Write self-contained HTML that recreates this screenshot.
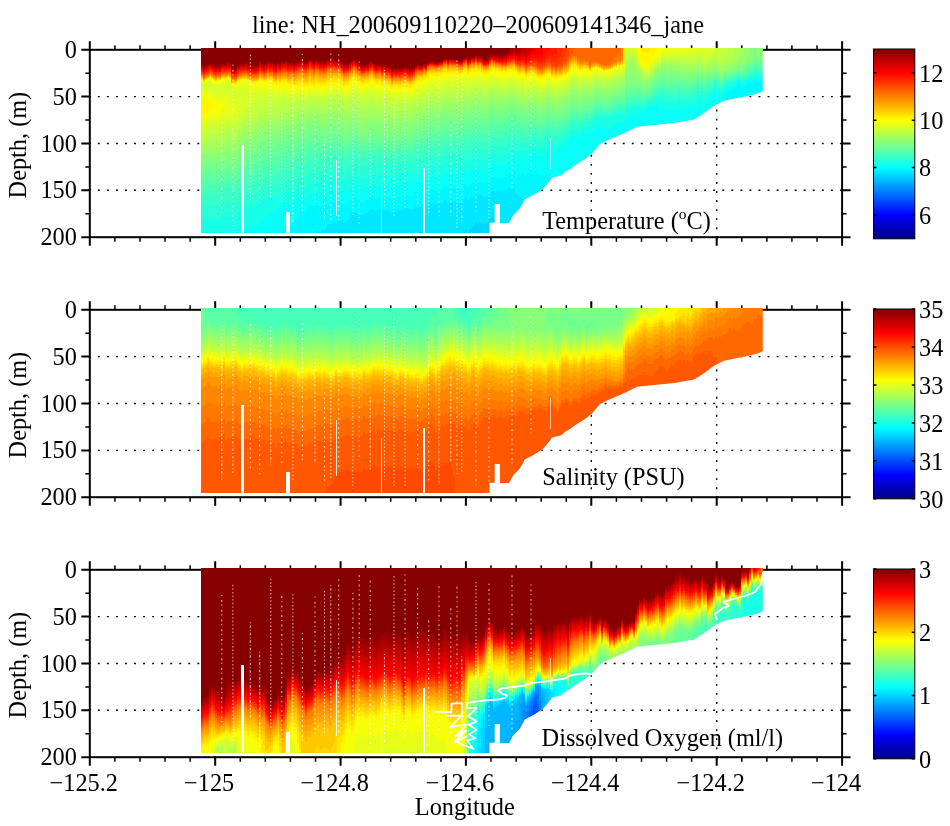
<!DOCTYPE html>
<html><head><meta charset="utf-8"><title>NH line</title>
<style>
html,body{margin:0;padding:0;background:#fff}
#c{position:relative;width:950px;height:826px;overflow:hidden;background:#fff}
svg{position:absolute;left:0;top:0;will-change:transform}
text{font-family:"Liberation Serif",serif;font-size:24.3px;fill:#000}
.g{stroke:#000;stroke-width:1.4;stroke-dasharray:1.9 7.15;fill:none}
.b{fill:none;stroke:#000;stroke-width:2}
.M{stroke:#000;stroke-width:2;fill:none}
.m{stroke:#000;stroke-width:1.5;fill:none}
.q{stroke:#fff;stroke-width:1.1;stroke-opacity:.68;fill:none}
.w{stroke:#fff;stroke-width:1.8;fill:none;stroke-linejoin:round}
.d{position:absolute;left:200.5px;width:562.3px;height:186.0px;display:flex;clip-path:polygon(0px 0px,562.3px 0px,562.3px 43.4px,558.1px 45.8px,548.2px 48.3px,535.5px 50.8px,523.5px 53.3px,513.5px 58.3px,503.5px 65.7px,493.5px 71.9px,473.8px 75.6px,448.9px 78.1px,436.5px 79.3px,424.1px 85.5px,406.5px 93px,399.3px 96.7px,391.9px 105.4px,384.5px 111.6px,374.5px 117.8px,369.5px 121.5px,364.2px 124.5px,361.1px 127.8px,351.5px 129.9px,349.5px 133px,345.3px 138.3px,341.1px 142.5px,332.5px 147.8px,324.2px 152px,322.1px 156.2px,319px 161.5px,312.7px 167.8px,308.5px 175.5px,299.5px 175.7px,299.5px 156.5px,294.2px 156.5px,294.2px 175.3px,289px 175.3px,289px 185.5px,0px 185.5px,0px 185.5px)}
.d i{flex:0 0 2px;height:100%;display:block}
.d b{position:absolute;background:#fff;display:block}
</style></head><body><div id="c">
<svg width="950" height="826" viewBox="0 0 950 826">
<defs><linearGradient id="jet" x1="0" y1="0" x2="0" y2="1">
<stop offset="0" stop-color="#800000"/><stop offset=".125" stop-color="#f00"/><stop offset=".375" stop-color="#ff0"/><stop offset=".625" stop-color="#0ff"/><stop offset=".875" stop-color="#00f"/><stop offset="1" stop-color="#000080"/>
</linearGradient></defs>
<line x1="88.8" y1="96.6" x2="842.1" y2="96.6" class="g"/>
<line x1="88.8" y1="143.5" x2="842.1" y2="143.5" class="g"/>
<line x1="88.8" y1="190.3" x2="842.1" y2="190.3" class="g"/>
<line x1="215.2" y1="238.2" x2="215.2" y2="49.8" class="g"/>
<line x1="340.6" y1="238.2" x2="340.6" y2="49.8" class="g"/>
<line x1="465.9" y1="238.2" x2="465.9" y2="49.8" class="g"/>
<line x1="591.3" y1="238.2" x2="591.3" y2="49.8" class="g"/>
<line x1="716.7" y1="238.2" x2="716.7" y2="49.8" class="g"/>
<rect x="89.8" y="49.8" width="752.3" height="187.4" class="b"/>
<path d="M89.8 49.8v-8.5 M89.8 237.2v8.5" class="M"/>
<path d="M114.9 49.8v-4.5 M114.9 237.2v4.5" class="m"/>
<path d="M140 49.8v-4.5 M140 237.2v4.5" class="m"/>
<path d="M165 49.8v-4.5 M165 237.2v4.5" class="m"/>
<path d="M190.1 49.8v-4.5 M190.1 237.2v4.5" class="m"/>
<path d="M215.2 49.8v-8.5 M215.2 237.2v8.5" class="M"/>
<path d="M240.3 49.8v-4.5 M240.3 237.2v4.5" class="m"/>
<path d="M265.3 49.8v-4.5 M265.3 237.2v4.5" class="m"/>
<path d="M290.4 49.8v-4.5 M290.4 237.2v4.5" class="m"/>
<path d="M315.5 49.8v-4.5 M315.5 237.2v4.5" class="m"/>
<path d="M340.6 49.8v-8.5 M340.6 237.2v8.5" class="M"/>
<path d="M365.6 49.8v-4.5 M365.6 237.2v4.5" class="m"/>
<path d="M390.7 49.8v-4.5 M390.7 237.2v4.5" class="m"/>
<path d="M415.8 49.8v-4.5 M415.8 237.2v4.5" class="m"/>
<path d="M440.9 49.8v-4.5 M440.9 237.2v4.5" class="m"/>
<path d="M465.9 49.8v-8.5 M465.9 237.2v8.5" class="M"/>
<path d="M491 49.8v-4.5 M491 237.2v4.5" class="m"/>
<path d="M516.1 49.8v-4.5 M516.1 237.2v4.5" class="m"/>
<path d="M541.2 49.8v-4.5 M541.2 237.2v4.5" class="m"/>
<path d="M566.3 49.8v-4.5 M566.3 237.2v4.5" class="m"/>
<path d="M591.3 49.8v-8.5 M591.3 237.2v8.5" class="M"/>
<path d="M616.4 49.8v-4.5 M616.4 237.2v4.5" class="m"/>
<path d="M641.5 49.8v-4.5 M641.5 237.2v4.5" class="m"/>
<path d="M666.6 49.8v-4.5 M666.6 237.2v4.5" class="m"/>
<path d="M691.6 49.8v-4.5 M691.6 237.2v4.5" class="m"/>
<path d="M716.7 49.8v-8.5 M716.7 237.2v8.5" class="M"/>
<path d="M741.8 49.8v-4.5 M741.8 237.2v4.5" class="m"/>
<path d="M766.9 49.8v-4.5 M766.9 237.2v4.5" class="m"/>
<path d="M791.9 49.8v-4.5 M791.9 237.2v4.5" class="m"/>
<path d="M817 49.8v-4.5 M817 237.2v4.5" class="m"/>
<path d="M842.1 49.8v-8.5 M842.1 237.2v8.5" class="M"/>
<path d="M89.8 49.8h-8.5 M842.1 49.8h8.5" class="M"/>
<path d="M89.8 73.2h-4.5 M842.1 73.2h4.5" class="m"/>
<path d="M89.8 96.6h-8.5 M842.1 96.6h8.5" class="M"/>
<path d="M89.8 120.1h-4.5 M842.1 120.1h4.5" class="m"/>
<path d="M89.8 143.5h-8.5 M842.1 143.5h8.5" class="M"/>
<path d="M89.8 166.9h-4.5 M842.1 166.9h4.5" class="m"/>
<path d="M89.8 190.3h-8.5 M842.1 190.3h8.5" class="M"/>
<path d="M89.8 213.8h-4.5 M842.1 213.8h4.5" class="m"/>
<path d="M89.8 237.2h-8.5 M842.1 237.2h8.5" class="M"/>
<text x="76.9" y="57.8" text-anchor="end">0</text>
<text x="76.9" y="104.6" text-anchor="end">50</text>
<text x="76.9" y="151.5" text-anchor="end">100</text>
<text x="76.9" y="198.3" text-anchor="end">150</text>
<text x="76.9" y="245.2" text-anchor="end">200</text>
<text transform="translate(25.7 145.1) rotate(-90)" text-anchor="middle">Depth, (m)</text>
<rect x="873.5" y="49" width="41.3" height="189.8" fill="url(#jet)" stroke="#000" stroke-width="1"/>
<line x1="88.8" y1="356.6" x2="842.1" y2="356.6" class="g"/>
<line x1="88.8" y1="403.5" x2="842.1" y2="403.5" class="g"/>
<line x1="88.8" y1="450.4" x2="842.1" y2="450.4" class="g"/>
<line x1="215.2" y1="498.2" x2="215.2" y2="309.8" class="g"/>
<line x1="340.6" y1="498.2" x2="340.6" y2="309.8" class="g"/>
<line x1="465.9" y1="498.2" x2="465.9" y2="309.8" class="g"/>
<line x1="591.3" y1="498.2" x2="591.3" y2="309.8" class="g"/>
<line x1="716.7" y1="498.2" x2="716.7" y2="309.8" class="g"/>
<rect x="89.8" y="309.8" width="752.3" height="187.4" class="b"/>
<path d="M89.8 309.8v-8.5 M89.8 497.2v8.5" class="M"/>
<path d="M114.9 309.8v-4.5 M114.9 497.2v4.5" class="m"/>
<path d="M140 309.8v-4.5 M140 497.2v4.5" class="m"/>
<path d="M165 309.8v-4.5 M165 497.2v4.5" class="m"/>
<path d="M190.1 309.8v-4.5 M190.1 497.2v4.5" class="m"/>
<path d="M215.2 309.8v-8.5 M215.2 497.2v8.5" class="M"/>
<path d="M240.3 309.8v-4.5 M240.3 497.2v4.5" class="m"/>
<path d="M265.3 309.8v-4.5 M265.3 497.2v4.5" class="m"/>
<path d="M290.4 309.8v-4.5 M290.4 497.2v4.5" class="m"/>
<path d="M315.5 309.8v-4.5 M315.5 497.2v4.5" class="m"/>
<path d="M340.6 309.8v-8.5 M340.6 497.2v8.5" class="M"/>
<path d="M365.6 309.8v-4.5 M365.6 497.2v4.5" class="m"/>
<path d="M390.7 309.8v-4.5 M390.7 497.2v4.5" class="m"/>
<path d="M415.8 309.8v-4.5 M415.8 497.2v4.5" class="m"/>
<path d="M440.9 309.8v-4.5 M440.9 497.2v4.5" class="m"/>
<path d="M465.9 309.8v-8.5 M465.9 497.2v8.5" class="M"/>
<path d="M491 309.8v-4.5 M491 497.2v4.5" class="m"/>
<path d="M516.1 309.8v-4.5 M516.1 497.2v4.5" class="m"/>
<path d="M541.2 309.8v-4.5 M541.2 497.2v4.5" class="m"/>
<path d="M566.3 309.8v-4.5 M566.3 497.2v4.5" class="m"/>
<path d="M591.3 309.8v-8.5 M591.3 497.2v8.5" class="M"/>
<path d="M616.4 309.8v-4.5 M616.4 497.2v4.5" class="m"/>
<path d="M641.5 309.8v-4.5 M641.5 497.2v4.5" class="m"/>
<path d="M666.6 309.8v-4.5 M666.6 497.2v4.5" class="m"/>
<path d="M691.6 309.8v-4.5 M691.6 497.2v4.5" class="m"/>
<path d="M716.7 309.8v-8.5 M716.7 497.2v8.5" class="M"/>
<path d="M741.8 309.8v-4.5 M741.8 497.2v4.5" class="m"/>
<path d="M766.9 309.8v-4.5 M766.9 497.2v4.5" class="m"/>
<path d="M791.9 309.8v-4.5 M791.9 497.2v4.5" class="m"/>
<path d="M817 309.8v-4.5 M817 497.2v4.5" class="m"/>
<path d="M842.1 309.8v-8.5 M842.1 497.2v8.5" class="M"/>
<path d="M89.8 309.8h-8.5 M842.1 309.8h8.5" class="M"/>
<path d="M89.8 333.2h-4.5 M842.1 333.2h4.5" class="m"/>
<path d="M89.8 356.6h-8.5 M842.1 356.6h8.5" class="M"/>
<path d="M89.8 380.1h-4.5 M842.1 380.1h4.5" class="m"/>
<path d="M89.8 403.5h-8.5 M842.1 403.5h8.5" class="M"/>
<path d="M89.8 426.9h-4.5 M842.1 426.9h4.5" class="m"/>
<path d="M89.8 450.4h-8.5 M842.1 450.4h8.5" class="M"/>
<path d="M89.8 473.8h-4.5 M842.1 473.8h4.5" class="m"/>
<path d="M89.8 497.2h-8.5 M842.1 497.2h8.5" class="M"/>
<text x="76.9" y="317.8" text-anchor="end">0</text>
<text x="76.9" y="364.6" text-anchor="end">50</text>
<text x="76.9" y="411.5" text-anchor="end">100</text>
<text x="76.9" y="458.4" text-anchor="end">150</text>
<text x="76.9" y="505.2" text-anchor="end">200</text>
<text transform="translate(25.7 405.1) rotate(-90)" text-anchor="middle">Depth, (m)</text>
<rect x="873.5" y="309" width="41.3" height="189.8" fill="url(#jet)" stroke="#000" stroke-width="1"/>
<line x1="88.8" y1="616.6" x2="842.1" y2="616.6" class="g"/>
<line x1="88.8" y1="663.5" x2="842.1" y2="663.5" class="g"/>
<line x1="88.8" y1="710.3" x2="842.1" y2="710.3" class="g"/>
<line x1="215.2" y1="758.2" x2="215.2" y2="569.8" class="g"/>
<line x1="340.6" y1="758.2" x2="340.6" y2="569.8" class="g"/>
<line x1="465.9" y1="758.2" x2="465.9" y2="569.8" class="g"/>
<line x1="591.3" y1="758.2" x2="591.3" y2="569.8" class="g"/>
<line x1="716.7" y1="758.2" x2="716.7" y2="569.8" class="g"/>
<rect x="89.8" y="569.8" width="752.3" height="187.4" class="b"/>
<path d="M89.8 569.8v-8.5 M89.8 757.2v8.5" class="M"/>
<path d="M114.9 569.8v-4.5 M114.9 757.2v4.5" class="m"/>
<path d="M140 569.8v-4.5 M140 757.2v4.5" class="m"/>
<path d="M165 569.8v-4.5 M165 757.2v4.5" class="m"/>
<path d="M190.1 569.8v-4.5 M190.1 757.2v4.5" class="m"/>
<path d="M215.2 569.8v-8.5 M215.2 757.2v8.5" class="M"/>
<path d="M240.3 569.8v-4.5 M240.3 757.2v4.5" class="m"/>
<path d="M265.3 569.8v-4.5 M265.3 757.2v4.5" class="m"/>
<path d="M290.4 569.8v-4.5 M290.4 757.2v4.5" class="m"/>
<path d="M315.5 569.8v-4.5 M315.5 757.2v4.5" class="m"/>
<path d="M340.6 569.8v-8.5 M340.6 757.2v8.5" class="M"/>
<path d="M365.6 569.8v-4.5 M365.6 757.2v4.5" class="m"/>
<path d="M390.7 569.8v-4.5 M390.7 757.2v4.5" class="m"/>
<path d="M415.8 569.8v-4.5 M415.8 757.2v4.5" class="m"/>
<path d="M440.9 569.8v-4.5 M440.9 757.2v4.5" class="m"/>
<path d="M465.9 569.8v-8.5 M465.9 757.2v8.5" class="M"/>
<path d="M491 569.8v-4.5 M491 757.2v4.5" class="m"/>
<path d="M516.1 569.8v-4.5 M516.1 757.2v4.5" class="m"/>
<path d="M541.2 569.8v-4.5 M541.2 757.2v4.5" class="m"/>
<path d="M566.3 569.8v-4.5 M566.3 757.2v4.5" class="m"/>
<path d="M591.3 569.8v-8.5 M591.3 757.2v8.5" class="M"/>
<path d="M616.4 569.8v-4.5 M616.4 757.2v4.5" class="m"/>
<path d="M641.5 569.8v-4.5 M641.5 757.2v4.5" class="m"/>
<path d="M666.6 569.8v-4.5 M666.6 757.2v4.5" class="m"/>
<path d="M691.6 569.8v-4.5 M691.6 757.2v4.5" class="m"/>
<path d="M716.7 569.8v-8.5 M716.7 757.2v8.5" class="M"/>
<path d="M741.8 569.8v-4.5 M741.8 757.2v4.5" class="m"/>
<path d="M766.9 569.8v-4.5 M766.9 757.2v4.5" class="m"/>
<path d="M791.9 569.8v-4.5 M791.9 757.2v4.5" class="m"/>
<path d="M817 569.8v-4.5 M817 757.2v4.5" class="m"/>
<path d="M842.1 569.8v-8.5 M842.1 757.2v8.5" class="M"/>
<path d="M89.8 569.8h-8.5 M842.1 569.8h8.5" class="M"/>
<path d="M89.8 593.2h-4.5 M842.1 593.2h4.5" class="m"/>
<path d="M89.8 616.6h-8.5 M842.1 616.6h8.5" class="M"/>
<path d="M89.8 640.1h-4.5 M842.1 640.1h4.5" class="m"/>
<path d="M89.8 663.5h-8.5 M842.1 663.5h8.5" class="M"/>
<path d="M89.8 686.9h-4.5 M842.1 686.9h4.5" class="m"/>
<path d="M89.8 710.3h-8.5 M842.1 710.3h8.5" class="M"/>
<path d="M89.8 733.8h-4.5 M842.1 733.8h4.5" class="m"/>
<path d="M89.8 757.2h-8.5 M842.1 757.2h8.5" class="M"/>
<text x="76.9" y="577.8" text-anchor="end">0</text>
<text x="76.9" y="624.6" text-anchor="end">50</text>
<text x="76.9" y="671.5" text-anchor="end">100</text>
<text x="76.9" y="718.3" text-anchor="end">150</text>
<text x="76.9" y="765.2" text-anchor="end">200</text>
<text transform="translate(25.7 665.1) rotate(-90)" text-anchor="middle">Depth, (m)</text>
<rect x="873.5" y="569" width="41.3" height="189.8" fill="url(#jet)" stroke="#000" stroke-width="1"/>
<path d="M873.5 72.7h3 M914.8 72.7h-3" class="m"/>
<text x="919" y="81.5">12</text>
<path d="M873.5 120.2h3 M914.8 120.2h-3" class="m"/>
<text x="919" y="129">10</text>
<path d="M873.5 167.6h3 M914.8 167.6h-3" class="m"/>
<text x="919" y="176.4">8</text>
<path d="M873.5 215.1h3 M914.8 215.1h-3" class="m"/>
<text x="919" y="223.9">6</text>
<path d="M873.5 309h3 M914.8 309h-3" class="m"/>
<text x="919" y="317.8">35</text>
<path d="M873.5 347h3 M914.8 347h-3" class="m"/>
<text x="919" y="355.8">34</text>
<path d="M873.5 384.9h3 M914.8 384.9h-3" class="m"/>
<text x="919" y="393.7">33</text>
<path d="M873.5 422.9h3 M914.8 422.9h-3" class="m"/>
<text x="919" y="431.7">32</text>
<path d="M873.5 460.8h3 M914.8 460.8h-3" class="m"/>
<text x="919" y="469.6">31</text>
<path d="M873.5 498.8h3 M914.8 498.8h-3" class="m"/>
<text x="919" y="507.6">30</text>
<path d="M873.5 569h3 M914.8 569h-3" class="m"/>
<text x="919" y="577.8">3</text>
<path d="M873.5 632.3h3 M914.8 632.3h-3" class="m"/>
<text x="919" y="641.1">2</text>
<path d="M873.5 695.5h3 M914.8 695.5h-3" class="m"/>
<text x="919" y="704.3">1</text>
<path d="M873.5 758.8h3 M914.8 758.8h-3" class="m"/>
<text x="919" y="767.6">0</text>
<text x="83.8" y="791" text-anchor="middle">−125.2</text>
<text x="209.2" y="791" text-anchor="middle">−125</text>
<text x="334.6" y="791" text-anchor="middle">−124.8</text>
<text x="459.9" y="791" text-anchor="middle">−124.6</text>
<text x="585.3" y="791" text-anchor="middle">−124.4</text>
<text x="710.7" y="791" text-anchor="middle">−124.2</text>
<text x="836.1" y="791" text-anchor="middle">−124</text>
<text x="464.8" y="815.3" text-anchor="middle">Longitude</text>
<text x="478" y="32.8" text-anchor="middle">line: NH_200609110220–200609141346_jane</text>
<text x="542.2" y="229.1">Temperature (<tspan dy="-10.5" font-size="15.5">o</tspan><tspan dy="10.5">C)</tspan></text>
<text x="542.2" y="485.4">Salinity (PSU)</text>
<text x="541.6" y="746.2">Dissolved Oxygen (ml/l)</text>
</svg>
<div class="d" style="top:47.5px"><i style="background:linear-gradient(#870000 0 17px,#a70000 0 18px,#b70000 0 19px,#c70000 0 20px,#e70000 0 21px,#f70000 0 22px,#ff0800 0 23px,#ff2800 0 24px,#ff3800 0 25px,#ff4800 0 26px,#ff6800 0 27px,#ff7800 0 28px,#ff9700 0 29px,#ffb700 0 30px,#ffd700 0 31px,#fff700 0 32px,#f7ff08 0 33px,#e7ff18 0 35px,#d7ff28 0 42px,#e7ff18 0 48px,#f7ff08 0 51px,#fff700 0 66px,#f7ff08 0 70px,#e7ff18 0 75px,#d7ff28 0 82px,#c7ff38 0 89px,#b7ff48 0 94px,#a7ff58 0 100px,#97ff68 0 106px,#87ff78 0 114px,#78ff87 0 122px,#68ff97 0 130px,#58ffa7 0 138px,#48ffb7 0 147px,#38ffc7 0 159px,#28ffd7 0 172px,#18ffe7 0 186px,#08fff7 0)"></i><i style="background:linear-gradient(#870000 0 19px,#970000 0 20px,#a70000 0 21px,#c70000 0 22px,#d70000 0 23px,#e70000 0 24px,#ff0800 0 25px,#ff1800 0 26px,#ff2800 0 27px,#ff4800 0 28px,#ff5800 0 29px,#ff6800 0 30px,#ff8700 0 31px,#ffa700 0 32px,#ffc700 0 33px,#ffe700 0 34px,#fff700 0 35px,#f7ff08 0 36px,#e7ff18 0 37px,#d7ff28 0 45px,#e7ff18 0 51px,#f7ff08 0 54px,#fff700 0 68px,#f7ff08 0 72px,#e7ff18 0 77px,#d7ff28 0 84px,#c7ff38 0 91px,#b7ff48 0 97px,#a7ff58 0 102px,#97ff68 0 108px,#87ff78 0 116px,#78ff87 0 124px,#68ff97 0 132px,#58ffa7 0 140px,#48ffb7 0 149px,#38ffc7 0 162px,#28ffd7 0 174px,#18ffe7 0)"></i><i style="background:linear-gradient(#870000 0 17px,#970000 0 18px,#b70000 0 19px,#c70000 0 20px,#d70000 0 21px,#f70000 0 22px,#ff0800 0 23px,#ff1800 0 24px,#ff3800 0 25px,#ff4800 0 26px,#ff5800 0 27px,#ff7800 0 28px,#ff8700 0 29px,#ffa700 0 30px,#ffc700 0 31px,#ffe700 0 32px,#f7ff08 0 34px,#e7ff18 0 35px,#d7ff28 0 43px,#e7ff18 0 49px,#f7ff08 0 52px,#fff700 0 66px,#f7ff08 0 70px,#e7ff18 0 74px,#d7ff28 0 81px,#c7ff38 0 88px,#b7ff48 0 94px,#a7ff58 0 100px,#97ff68 0 106px,#87ff78 0 114px,#78ff87 0 122px,#68ff97 0 130px,#58ffa7 0 138px,#48ffb7 0 147px,#38ffc7 0 159px,#28ffd7 0 172px,#18ffe7 0 186px,#08fff7 0)"></i><i style="background:linear-gradient(#870000 0 16px,#970000 0 17px,#a70000 0 18px,#b70000 0 19px,#d70000 0 20px,#e70000 0 21px,#f70000 0 22px,#ff1800 0 23px,#ff2800 0 24px,#ff3800 0 25px,#ff5800 0 26px,#ff6800 0 27px,#ff7800 0 28px,#ff9700 0 29px,#ffb700 0 30px,#ffd700 0 31px,#fff700 0 32px,#f7ff08 0 33px,#e7ff18 0 35px,#d7ff28 0 43px,#e7ff18 0 49px,#f7ff08 0 53px,#fff700 0 65px,#f7ff08 0 69px,#e7ff18 0 73px,#d7ff28 0 80px,#c7ff38 0 87px,#b7ff48 0 93px,#a7ff58 0 99px,#97ff68 0 106px,#87ff78 0 113px,#78ff87 0 121px,#68ff97 0 129px,#58ffa7 0 137px,#48ffb7 0 146px,#38ffc7 0 158px,#28ffd7 0 171px,#18ffe7 0 186px,#08fff7 0)"></i><i style="background:linear-gradient(#870000 0 15px,#a70000 0 16px,#b70000 0 17px,#c70000 0 18px,#e70000 0 19px,#f70000 0 20px,#ff0800 0 21px,#ff2800 0 22px,#ff3800 0 23px,#ff4800 0 24px,#ff6800 0 25px,#ff7800 0 26px,#ff9700 0 27px,#ffb700 0 28px,#ffd700 0 29px,#fff700 0 30px,#f7ff08 0 32px,#e7ff18 0 33px,#d7ff28 0 42px,#e7ff18 0 48px,#f7ff08 0 52px,#fff700 0 61px,#f7ff08 0 67px,#e7ff18 0 71px,#d7ff28 0 78px,#c7ff38 0 85px,#b7ff48 0 91px,#a7ff58 0 97px,#97ff68 0 104px,#87ff78 0 112px,#78ff87 0 119px,#68ff97 0 127px,#58ffa7 0 135px,#48ffb7 0 144px,#38ffc7 0 156px,#28ffd7 0 169px,#18ffe7 0 184px,#08fff7 0)"></i><i style="background:linear-gradient(#870000 0 16px,#970000 0 17px,#b70000 0 18px,#c70000 0 19px,#d70000 0 20px,#f70000 0 21px,#ff0800 0 22px,#ff1800 0 23px,#ff3800 0 24px,#ff4800 0 25px,#ff5800 0 26px,#ff7800 0 27px,#ff8700 0 28px,#ffa700 0 29px,#ffc700 0 30px,#ffe700 0 31px,#f7ff08 0 33px,#e7ff18 0 35px,#d7ff28 0 44px,#e7ff18 0 49px,#f7ff08 0 54px,#fff700 0 58px,#f7ff08 0 67px,#e7ff18 0 72px,#d7ff28 0 78px,#c7ff38 0 85px,#b7ff48 0 92px,#a7ff58 0 98px,#97ff68 0 105px,#87ff78 0 113px,#78ff87 0 120px,#68ff97 0 128px,#58ffa7 0 136px,#48ffb7 0 144px,#38ffc7 0 157px,#28ffd7 0 170px,#18ffe7 0 185px,#08fff7 0)"></i><i style="background:linear-gradient(#870000 0 18px,#a70000 0 19px,#b70000 0 20px,#c70000 0 21px,#e70000 0 22px,#f70000 0 23px,#ff0800 0 24px,#ff2800 0 25px,#ff3800 0 26px,#ff4800 0 27px,#ff6800 0 28px,#ff7800 0 29px,#ff9700 0 30px,#ffb700 0 31px,#ffd700 0 32px,#fff700 0 33px,#f7ff08 0 35px,#e7ff18 0 36px,#d7ff28 0 47px,#e7ff18 0 52px,#f7ff08 0 69px,#e7ff18 0 73px,#d7ff28 0 80px,#c7ff38 0 87px,#b7ff48 0 93px,#a7ff58 0 100px,#97ff68 0 107px,#87ff78 0 114px,#78ff87 0 122px,#68ff97 0 130px,#58ffa7 0 137px,#48ffb7 0 146px,#38ffc7 0 158px,#28ffd7 0 172px,#18ffe7 0)"></i><i style="background:linear-gradient(#870000 0 18px,#970000 0 19px,#a70000 0 20px,#b70000 0 21px,#d70000 0 22px,#e70000 0 23px,#f70000 0 24px,#ff1800 0 25px,#ff2800 0 26px,#ff3800 0 27px,#ff5800 0 28px,#ff6800 0 29px,#ff7800 0 30px,#ff9700 0 31px,#ffb700 0 32px,#ffd700 0 33px,#fff700 0 34px,#f7ff08 0 35px,#e7ff18 0 37px,#d7ff28 0 48px,#e7ff18 0 53px,#f7ff08 0 69px,#e7ff18 0 74px,#d7ff28 0 80px,#c7ff38 0 87px,#b7ff48 0 94px,#a7ff58 0 100px,#97ff68 0 107px,#87ff78 0 115px,#78ff87 0 123px,#68ff97 0 130px,#58ffa7 0 138px,#48ffb7 0 146px,#38ffc7 0 159px,#28ffd7 0 172px,#18ffe7 0)"></i><i style="background:linear-gradient(#870000 0 17px,#970000 0 18px,#a70000 0 19px,#c70000 0 20px,#d70000 0 21px,#e70000 0 22px,#ff0800 0 23px,#ff1800 0 24px,#ff2800 0 25px,#ff4800 0 26px,#ff5800 0 27px,#ff6800 0 28px,#ff8700 0 29px,#ffa700 0 30px,#ffc700 0 31px,#ffe700 0 32px,#fff700 0 33px,#f7ff08 0 34px,#e7ff18 0 36px,#d7ff28 0 48px,#e7ff18 0 53px,#f7ff08 0 67px,#e7ff18 0 72px,#d7ff28 0 78px,#c7ff38 0 85px,#b7ff48 0 92px,#a7ff58 0 99px,#97ff68 0 106px,#87ff78 0 114px,#78ff87 0 122px,#68ff97 0 129px,#58ffa7 0 137px,#48ffb7 0 145px,#38ffc7 0 157px,#28ffd7 0 170px,#18ffe7 0 186px,#08fff7 0)"></i><i style="background:linear-gradient(#870000 0 18px,#a70000 0 19px,#b70000 0 20px,#c70000 0 21px,#e70000 0 22px,#f70000 0 23px,#ff0800 0 24px,#ff2800 0 25px,#ff3800 0 26px,#ff4800 0 27px,#ff6800 0 28px,#ff7800 0 29px,#ff9700 0 30px,#ffb700 0 31px,#ffd700 0 32px,#fff700 0 33px,#f7ff08 0 35px,#e7ff18 0 37px,#d7ff28 0 49px,#e7ff18 0 55px,#f7ff08 0 66px,#e7ff18 0 72px,#d7ff28 0 78px,#c7ff38 0 85px,#b7ff48 0 92px,#a7ff58 0 99px,#97ff68 0 106px,#87ff78 0 114px,#78ff87 0 122px,#68ff97 0 129px,#58ffa7 0 137px,#48ffb7 0 145px,#38ffc7 0 157px,#28ffd7 0 171px,#18ffe7 0)"></i><i style="background:linear-gradient(#870000 0 15px,#970000 0 16px,#a70000 0 17px,#b70000 0 18px,#d70000 0 19px,#e70000 0 20px,#f70000 0 21px,#ff1800 0 22px,#ff2800 0 23px,#ff3800 0 24px,#ff5800 0 25px,#ff6800 0 26px,#ff7800 0 27px,#ff9700 0 28px,#ffb700 0 29px,#ffd700 0 30px,#fff700 0 31px,#f7ff08 0 33px,#e7ff18 0 34px,#d7ff28 0 47px,#e7ff18 0 53px,#f7ff08 0 61px,#e7ff18 0 69px,#d7ff28 0 75px,#c7ff38 0 82px,#b7ff48 0 89px,#a7ff58 0 97px,#97ff68 0 104px,#87ff78 0 112px,#78ff87 0 120px,#68ff97 0 127px,#58ffa7 0 134px,#48ffb7 0 142px,#38ffc7 0 155px,#28ffd7 0 168px,#18ffe7 0 184px,#08fff7 0)"></i><i style="background:linear-gradient(#870000 0 15px,#970000 0 16px,#a70000 0 17px,#b70000 0 18px,#d70000 0 19px,#e70000 0 20px,#f70000 0 21px,#ff1800 0 22px,#ff2800 0 23px,#ff3800 0 24px,#ff5800 0 25px,#ff6800 0 26px,#ff7800 0 27px,#ff9700 0 28px,#ffb700 0 29px,#ffd700 0 30px,#fff700 0 31px,#f7ff08 0 33px,#e7ff18 0 35px,#d7ff28 0 48px,#e7ff18 0 54px,#f7ff08 0 58px,#e7ff18 0 69px,#d7ff28 0 75px,#c7ff38 0 82px,#b7ff48 0 89px,#a7ff58 0 96px,#97ff68 0 104px,#87ff78 0 112px,#78ff87 0 120px,#68ff97 0 127px,#58ffa7 0 134px,#48ffb7 0 142px,#38ffc7 0 154px,#28ffd7 0 168px,#18ffe7 0 184px,#08fff7 0)"></i><i style="background:linear-gradient(#870000 0 16px,#970000 0 17px,#b70000 0 18px,#c70000 0 19px,#d70000 0 20px,#f70000 0 21px,#ff0800 0 22px,#ff1800 0 23px,#ff3800 0 24px,#ff4800 0 25px,#ff5800 0 26px,#ff7800 0 27px,#ff8700 0 28px,#ffa700 0 29px,#ffc700 0 30px,#ffe700 0 31px,#f7ff08 0 33px,#e7ff18 0 35px,#d7ff28 0 49px,#e7ff18 0 68px,#d7ff28 0 75px,#c7ff38 0 81px,#b7ff48 0 88px,#a7ff58 0 96px,#97ff68 0 104px,#87ff78 0 112px,#78ff87 0 120px,#68ff97 0 127px,#58ffa7 0 134px,#48ffb7 0 142px,#38ffc7 0 154px,#28ffd7 0 168px,#18ffe7 0 184px,#08fff7 0)"></i><i style="background:linear-gradient(#870000 0 14px,#970000 0 15px,#a70000 0 16px,#b70000 0 17px,#c70000 0 18px,#e70000 0 19px,#f70000 0 20px,#ff0800 0 21px,#ff2800 0 22px,#ff3800 0 23px,#ff4800 0 24px,#ff6800 0 25px,#ff7800 0 26px,#ff9700 0 27px,#ffb700 0 28px,#ffd700 0 29px,#fff700 0 30px,#f7ff08 0 32px,#e7ff18 0 34px,#d7ff28 0 48px,#e7ff18 0 66px,#d7ff28 0 72px,#c7ff38 0 79px,#b7ff48 0 86px,#a7ff58 0 94px,#97ff68 0 102px,#87ff78 0 110px,#78ff87 0 118px,#68ff97 0 125px,#58ffa7 0 132px,#48ffb7 0 140px,#38ffc7 0 152px,#28ffd7 0 166px,#18ffe7 0 183px,#08fff7 0)"></i><i style="background:linear-gradient(#870000 0 15px,#970000 0 16px,#a70000 0 17px,#b70000 0 18px,#d70000 0 19px,#e70000 0 20px,#f70000 0 21px,#ff1800 0 22px,#ff2800 0 23px,#ff3800 0 24px,#ff5800 0 25px,#ff6800 0 26px,#ff7800 0 27px,#ff9700 0 28px,#ffb700 0 29px,#ffd700 0 30px,#fff700 0 31px,#f7ff08 0 33px,#e7ff18 0 35px,#d7ff28 0 50px,#e7ff18 0 66px,#d7ff28 0 72px,#c7ff38 0 79px,#b7ff48 0 86px,#a7ff58 0 94px,#97ff68 0 101px,#87ff78 0 109px,#78ff87 0 118px,#68ff97 0 125px,#58ffa7 0 133px,#48ffb7 0 140px,#38ffc7 0 152px,#28ffd7 0 166px,#18ffe7 0 183px,#08fff7 0)"></i><i style="background:linear-gradient(#870000 0 20px,#970000 0 21px,#a70000 0 22px,#b70000 0 23px,#c70000 0 24px,#e70000 0 25px,#f70000 0 26px,#ff0800 0 27px,#ff2800 0 28px,#ff3800 0 29px,#ff4800 0 30px,#ff6800 0 31px,#ff7800 0 32px,#ff8700 0 33px,#ffa700 0 34px,#ffc700 0 35px,#ffe700 0 36px,#fff700 0 37px,#f7ff08 0 38px,#e7ff18 0 41px,#d7ff28 0 56px,#e7ff18 0 69px,#d7ff28 0 77px,#c7ff38 0 83px,#b7ff48 0 90px,#a7ff58 0 98px,#97ff68 0 106px,#87ff78 0 114px,#78ff87 0 122px,#68ff97 0 130px,#58ffa7 0 137px,#48ffb7 0 145px,#38ffc7 0 157px,#28ffd7 0 170px,#18ffe7 0)"></i><i style="background:linear-gradient(#870000 0 20px,#970000 0 21px,#b70000 0 22px,#c70000 0 23px,#d70000 0 24px,#e70000 0 25px,#ff0800 0 26px,#ff1800 0 27px,#ff2800 0 28px,#ff4800 0 29px,#ff5800 0 30px,#ff6800 0 31px,#ff8700 0 32px,#ffa700 0 33px,#ffb700 0 34px,#ffd700 0 35px,#fff700 0 36px,#f7ff08 0 38px,#e7ff18 0 41px,#d7ff28 0 56px,#e7ff18 0 66px,#d7ff28 0 75px,#c7ff38 0 81px,#b7ff48 0 88px,#a7ff58 0 96px,#97ff68 0 104px,#87ff78 0 112px,#78ff87 0 120px,#68ff97 0 128px,#58ffa7 0 136px,#48ffb7 0 144px,#38ffc7 0 155px,#28ffd7 0 169px,#18ffe7 0)"></i><i style="background:linear-gradient(#870000 0 20px,#970000 0 21px,#a70000 0 22px,#c70000 0 23px,#d70000 0 24px,#e70000 0 25px,#f70000 0 26px,#ff1800 0 27px,#ff2800 0 28px,#ff3800 0 29px,#ff5800 0 30px,#ff6800 0 31px,#ff7800 0 32px,#ff9700 0 33px,#ffb700 0 34px,#ffd700 0 35px,#ffe700 0 36px,#f7ff08 0 39px,#e7ff18 0 42px,#d7ff28 0 58px,#e7ff18 0 64px,#d7ff28 0 74px,#c7ff38 0 81px,#b7ff48 0 87px,#a7ff58 0 95px,#97ff68 0 103px,#87ff78 0 111px,#78ff87 0 120px,#68ff97 0 128px,#58ffa7 0 136px,#48ffb7 0 144px,#38ffc7 0 155px,#28ffd7 0 168px,#18ffe7 0)"></i><i style="background:linear-gradient(#870000 0 17px,#970000 0 18px,#a70000 0 19px,#b70000 0 20px,#d70000 0 21px,#e70000 0 22px,#f70000 0 23px,#ff1800 0 24px,#ff2800 0 25px,#ff3800 0 26px,#ff5800 0 27px,#ff6800 0 28px,#ff7800 0 29px,#ff9700 0 30px,#ffb700 0 31px,#ffc700 0 32px,#ffe700 0 33px,#fff700 0 34px,#f7ff08 0 36px,#e7ff18 0 40px,#d7ff28 0 57px,#e7ff18 0 59px,#d7ff28 0 70px,#c7ff38 0 77px,#b7ff48 0 83px,#a7ff58 0 91px,#97ff68 0 99px,#87ff78 0 107px,#78ff87 0 116px,#68ff97 0 124px,#58ffa7 0 132px,#48ffb7 0 140px,#38ffc7 0 151px,#28ffd7 0 164px,#18ffe7 0 184px,#08fff7 0)"></i><i style="background:linear-gradient(#870000 0 16px,#970000 0 17px,#b70000 0 18px,#c70000 0 19px,#d70000 0 20px,#e70000 0 21px,#ff0800 0 22px,#ff1800 0 23px,#ff2800 0 24px,#ff4800 0 25px,#ff5800 0 26px,#ff6800 0 27px,#ff8700 0 28px,#ff9700 0 29px,#ffb700 0 30px,#ffc700 0 31px,#ffe700 0 32px,#fff700 0 33px,#f7ff08 0 35px,#e7ff18 0 40px,#d7ff28 0 68px,#c7ff38 0 74px,#b7ff48 0 81px,#a7ff58 0 88px,#97ff68 0 96px,#87ff78 0 105px,#78ff87 0 113px,#68ff97 0 122px,#58ffa7 0 130px,#48ffb7 0 138px,#38ffc7 0 149px,#28ffd7 0 162px,#18ffe7 0 182px,#08fff7 0)"></i><i style="background:linear-gradient(#870000 0 15px,#970000 0 16px,#a70000 0 17px,#b70000 0 18px,#c70000 0 19px,#e70000 0 20px,#f70000 0 21px,#ff0800 0 22px,#ff1800 0 23px,#ff3800 0 24px,#ff4800 0 25px,#ff5800 0 26px,#ff7800 0 27px,#ff8700 0 28px,#ffa700 0 29px,#ffb700 0 30px,#ffd700 0 31px,#fff700 0 32px,#f7ff08 0 35px,#e7ff18 0 41px,#d7ff28 0 66px,#c7ff38 0 73px,#b7ff48 0 80px,#a7ff58 0 87px,#97ff68 0 95px,#87ff78 0 103px,#78ff87 0 112px,#68ff97 0 121px,#58ffa7 0 129px,#48ffb7 0 137px,#38ffc7 0 148px,#28ffd7 0 161px,#18ffe7 0 181px,#08fff7 0)"></i><i style="background:linear-gradient(#870000 0 15px,#970000 0 16px,#a70000 0 17px,#b70000 0 18px,#d70000 0 19px,#e70000 0 20px,#f70000 0 21px,#ff0800 0 22px,#ff2800 0 23px,#ff3800 0 24px,#ff4800 0 25px,#ff6800 0 26px,#ff7800 0 27px,#ff8700 0 28px,#ffa700 0 29px,#ffc700 0 30px,#ffd700 0 31px,#fff700 0 32px,#f7ff08 0 35px,#e7ff18 0 41px,#d7ff28 0 65px,#c7ff38 0 72px,#b7ff48 0 78px,#a7ff58 0 85px,#97ff68 0 93px,#87ff78 0 102px,#78ff87 0 111px,#68ff97 0 119px,#58ffa7 0 128px,#48ffb7 0 137px,#38ffc7 0 147px,#28ffd7 0 159px,#18ffe7 0 180px,#08fff7 0)"></i><i style="background:linear-gradient(#870000 0 14px,#970000 0 15px,#a70000 0 16px,#b70000 0 17px,#c70000 0 18px,#d70000 0 19px,#e70000 0 20px,#ff0800 0 21px,#ff1800 0 22px,#ff2800 0 23px,#ff4800 0 24px,#ff5800 0 25px,#ff6800 0 26px,#ff8700 0 27px,#ff9700 0 28px,#ffb700 0 29px,#ffc700 0 30px,#ffe700 0 31px,#fff700 0 32px,#f7ff08 0 35px,#e7ff18 0 41px,#d7ff28 0 62px,#c7ff38 0 70px,#b7ff48 0 77px,#a7ff58 0 84px,#97ff68 0 92px,#87ff78 0 100px,#78ff87 0 109px,#68ff97 0 118px,#58ffa7 0 127px,#48ffb7 0 136px,#38ffc7 0 146px,#28ffd7 0 158px,#18ffe7 0 179px,#08fff7 0)"></i><i style="background:linear-gradient(#870000 0 16px,#970000 0 17px,#b70000 0 18px,#c70000 0 19px,#d70000 0 20px,#e70000 0 21px,#f70000 0 22px,#ff1800 0 23px,#ff2800 0 24px,#ff3800 0 25px,#ff5800 0 26px,#ff6800 0 27px,#ff7800 0 28px,#ff9700 0 29px,#ffa700 0 30px,#ffc700 0 31px,#ffd700 0 32px,#fff700 0 33px,#f7ff08 0 36px,#e7ff18 0 43px,#d7ff28 0 61px,#c7ff38 0 71px,#b7ff48 0 77px,#a7ff58 0 84px,#97ff68 0 92px,#87ff78 0 100px,#78ff87 0 109px,#68ff97 0 118px,#58ffa7 0 127px,#48ffb7 0 136px,#38ffc7 0 146px,#28ffd7 0 158px,#18ffe7 0 180px,#08fff7 0)"></i><i style="background:linear-gradient(#870000 0 16px,#970000 0 17px,#a70000 0 18px,#b70000 0 19px,#c70000 0 20px,#d70000 0 21px,#f70000 0 22px,#ff0800 0 23px,#ff1800 0 24px,#ff2800 0 25px,#ff4800 0 26px,#ff5800 0 27px,#ff6800 0 28px,#ff8700 0 29px,#ff9700 0 30px,#ffb700 0 31px,#ffc700 0 32px,#ffe700 0 33px,#fff700 0 34px,#f7ff08 0 37px,#e7ff18 0 44px,#d7ff28 0 59px,#c7ff38 0 70px,#b7ff48 0 77px,#a7ff58 0 83px,#97ff68 0 91px,#87ff78 0 99px,#78ff87 0 109px,#68ff97 0 118px,#58ffa7 0 127px,#48ffb7 0 136px,#38ffc7 0 146px,#28ffd7 0 158px,#18ffe7 0 180px,#08fff7 0)"></i><i style="background:linear-gradient(#870000 0 17px,#970000 0 18px,#a70000 0 19px,#b70000 0 20px,#c70000 0 21px,#d70000 0 22px,#f70000 0 23px,#ff0800 0 24px,#ff1800 0 25px,#ff3800 0 26px,#ff4800 0 27px,#ff5800 0 28px,#ff7800 0 29px,#ff8700 0 30px,#ff9700 0 31px,#ffb700 0 32px,#ffc700 0 33px,#ffe700 0 34px,#fff700 0 35px,#f7ff08 0 39px,#e7ff18 0 45px,#d7ff28 0 57px,#c7ff38 0 70px,#b7ff48 0 77px,#a7ff58 0 83px,#97ff68 0 91px,#87ff78 0 99px,#78ff87 0 108px,#68ff97 0 118px,#58ffa7 0 127px,#48ffb7 0 136px,#38ffc7 0 147px,#28ffd7 0 158px,#18ffe7 0 180px,#08fff7 0)"></i><i style="background:linear-gradient(#870000 0 17px,#970000 0 18px,#a70000 0 19px,#b70000 0 20px,#c70000 0 21px,#d70000 0 22px,#e70000 0 23px,#ff0800 0 24px,#ff1800 0 25px,#ff2800 0 26px,#ff4800 0 27px,#ff5800 0 28px,#ff6800 0 29px,#ff8700 0 30px,#ff9700 0 31px,#ffa700 0 32px,#ffc700 0 33px,#ffd700 0 34px,#ffe700 0 35px,#fff700 0 36px,#f7ff08 0 40px,#e7ff18 0 46px,#d7ff28 0 54px,#c7ff38 0 69px,#b7ff48 0 76px,#a7ff58 0 83px,#97ff68 0 90px,#87ff78 0 98px,#78ff87 0 107px,#68ff97 0 117px,#58ffa7 0 126px,#48ffb7 0 136px,#38ffc7 0 146px,#28ffd7 0 157px,#18ffe7 0 180px,#08fff7 0)"></i><i style="background:linear-gradient(#870000 0 17px,#970000 0 18px,#a70000 0 19px,#b70000 0 20px,#d70000 0 21px,#e70000 0 22px,#f70000 0 23px,#ff0800 0 24px,#ff1800 0 25px,#ff3800 0 26px,#ff4800 0 27px,#ff5800 0 28px,#ff7800 0 29px,#ff8700 0 30px,#ff9700 0 31px,#ffb700 0 32px,#ffc700 0 33px,#ffe700 0 34px,#fff700 0 35px,#f7ff08 0 40px,#e7ff18 0 45px,#d7ff28 0 52px,#c7ff38 0 67px,#b7ff48 0 74px,#a7ff58 0 81px,#97ff68 0 88px,#87ff78 0 97px,#78ff87 0 106px,#68ff97 0 115px,#58ffa7 0 125px,#48ffb7 0 134px,#38ffc7 0 145px,#28ffd7 0 156px,#18ffe7 0 178px,#08fff7 0)"></i><i style="background:linear-gradient(#870000 0 17px,#a70000 0 18px,#b70000 0 19px,#c70000 0 20px,#d70000 0 21px,#e70000 0 22px,#f70000 0 23px,#ff1800 0 24px,#ff2800 0 25px,#ff3800 0 26px,#ff5800 0 27px,#ff6800 0 28px,#ff7800 0 29px,#ff9700 0 30px,#ffa700 0 31px,#ffb700 0 32px,#ffd700 0 33px,#ffe700 0 34px,#fff700 0 35px,#f7ff08 0 40px,#e7ff18 0 45px,#d7ff28 0 51px,#c7ff38 0 65px,#b7ff48 0 73px,#a7ff58 0 80px,#97ff68 0 87px,#87ff78 0 95px,#78ff87 0 104px,#68ff97 0 114px,#58ffa7 0 123px,#48ffb7 0 133px,#38ffc7 0 144px,#28ffd7 0 155px,#18ffe7 0 177px,#08fff7 0)"></i><i style="background:linear-gradient(#870000 0 13px,#970000 0 14px,#a70000 0 15px,#b70000 0 16px,#c70000 0 17px,#d70000 0 18px,#e70000 0 19px,#f70000 0 20px,#ff1800 0 21px,#ff2800 0 22px,#ff3800 0 23px,#ff5800 0 24px,#ff6800 0 25px,#ff7800 0 26px,#ff9700 0 27px,#ffa700 0 28px,#ffb700 0 29px,#ffc700 0 30px,#ffe700 0 31px,#fff700 0 32px,#f7ff08 0 37px,#e7ff18 0 42px,#d7ff28 0 48px,#c7ff38 0 61px,#b7ff48 0 70px,#a7ff58 0 76px,#97ff68 0 83px,#87ff78 0 92px,#78ff87 0 100px,#68ff97 0 110px,#58ffa7 0 120px,#48ffb7 0 130px,#38ffc7 0 141px,#28ffd7 0 152px,#18ffe7 0 172px,#08fff7 0)"></i><i style="background:linear-gradient(#870000 0 15px,#970000 0 16px,#a70000 0 17px,#b70000 0 18px,#d70000 0 19px,#e70000 0 20px,#f70000 0 21px,#ff0800 0 22px,#ff1800 0 23px,#ff3800 0 24px,#ff4800 0 25px,#ff5800 0 26px,#ff6800 0 27px,#ff8700 0 28px,#ff9700 0 29px,#ffa700 0 30px,#ffc700 0 31px,#ffd700 0 32px,#ffe700 0 33px,#fff700 0 34px,#f7ff08 0 39px,#e7ff18 0 44px,#d7ff28 0 50px,#c7ff38 0 62px,#b7ff48 0 71px,#a7ff58 0 78px,#97ff68 0 84px,#87ff78 0 93px,#78ff87 0 101px,#68ff97 0 111px,#58ffa7 0 121px,#48ffb7 0 131px,#38ffc7 0 142px,#28ffd7 0 153px,#18ffe7 0 172px,#08fff7 0)"></i><i style="background:linear-gradient(#870000 0 16px,#970000 0 17px,#a70000 0 18px,#b70000 0 19px,#c70000 0 20px,#e70000 0 21px,#f70000 0 22px,#ff0800 0 23px,#ff1800 0 24px,#ff2800 0 25px,#ff4800 0 26px,#ff5800 0 27px,#ff6800 0 28px,#ff8700 0 29px,#ff9700 0 30px,#ffa700 0 31px,#ffb700 0 32px,#ffd700 0 33px,#ffe700 0 34px,#fff700 0 36px,#f7ff08 0 41px,#e7ff18 0 45px,#d7ff28 0 51px,#c7ff38 0 63px,#b7ff48 0 72px,#a7ff58 0 78px,#97ff68 0 85px,#87ff78 0 93px,#78ff87 0 102px,#68ff97 0 112px,#58ffa7 0 121px,#48ffb7 0 131px,#38ffc7 0 142px,#28ffd7 0 153px,#18ffe7 0 171px,#08fff7 0)"></i><i style="background:linear-gradient(#870000 0 15px,#970000 0 16px,#b70000 0 17px,#c70000 0 18px,#d70000 0 19px,#e70000 0 20px,#f70000 0 21px,#ff0800 0 22px,#ff2800 0 23px,#ff3800 0 24px,#ff4800 0 25px,#ff6800 0 26px,#ff7800 0 27px,#ff8700 0 28px,#ff9700 0 29px,#ffa700 0 30px,#ffc700 0 31px,#ffd700 0 32px,#ffe700 0 33px,#fff700 0 35px,#f7ff08 0 40px,#e7ff18 0 44px,#d7ff28 0 49px,#c7ff38 0 60px,#b7ff48 0 70px,#a7ff58 0 76px,#97ff68 0 83px,#87ff78 0 92px,#78ff87 0 100px,#68ff97 0 110px,#58ffa7 0 119px,#48ffb7 0 129px,#38ffc7 0 140px,#28ffd7 0 151px,#18ffe7 0 168px,#08fff7 0)"></i><i style="background:linear-gradient(#870000 0 13px,#970000 0 14px,#a70000 0 15px,#b70000 0 16px,#d70000 0 17px,#e70000 0 18px,#f70000 0 19px,#ff0800 0 20px,#ff1800 0 21px,#ff3800 0 22px,#ff4800 0 23px,#ff5800 0 24px,#ff6800 0 25px,#ff8700 0 26px,#ff9700 0 27px,#ffa700 0 28px,#ffb700 0 29px,#ffc700 0 30px,#ffd700 0 31px,#fff700 0 34px,#f7ff08 0 38px,#e7ff18 0 43px,#d7ff28 0 48px,#c7ff38 0 58px,#b7ff48 0 68px,#a7ff58 0 74px,#97ff68 0 81px,#87ff78 0 89px,#78ff87 0 98px,#68ff97 0 107px,#58ffa7 0 117px,#48ffb7 0 127px,#38ffc7 0 138px,#28ffd7 0 149px,#18ffe7 0 165px,#08fff7 0)"></i><i style="background:linear-gradient(#870000 0 14px,#970000 0 15px,#a70000 0 16px,#b70000 0 17px,#c70000 0 18px,#d70000 0 19px,#f70000 0 20px,#ff0800 0 21px,#ff1800 0 22px,#ff2800 0 23px,#ff3800 0 24px,#ff5800 0 25px,#ff6800 0 26px,#ff7800 0 27px,#ff8700 0 28px,#ff9700 0 29px,#ffb700 0 30px,#ffc700 0 31px,#ffd700 0 32px,#ffe700 0 33px,#fff700 0 36px,#f7ff08 0 40px,#e7ff18 0 44px,#d7ff28 0 49px,#c7ff38 0 59px,#b7ff48 0 69px,#a7ff58 0 75px,#97ff68 0 82px,#87ff78 0 90px,#78ff87 0 99px,#68ff97 0 108px,#58ffa7 0 118px,#48ffb7 0 128px,#38ffc7 0 139px,#28ffd7 0 150px,#18ffe7 0 165px,#08fff7 0)"></i><i style="background:linear-gradient(#870000 0 14px,#a70000 0 15px,#b70000 0 16px,#c70000 0 17px,#d70000 0 18px,#e70000 0 19px,#f70000 0 20px,#ff1800 0 21px,#ff2800 0 22px,#ff3800 0 23px,#ff4800 0 24px,#ff6800 0 25px,#ff7800 0 26px,#ff8700 0 27px,#ff9700 0 28px,#ffa700 0 29px,#ffb700 0 30px,#ffc700 0 31px,#ffe700 0 33px,#fff700 0 35px,#f7ff08 0 39px,#e7ff18 0 44px,#d7ff28 0 48px,#c7ff38 0 58px,#b7ff48 0 67px,#a7ff58 0 74px,#97ff68 0 81px,#87ff78 0 89px,#78ff87 0 98px,#68ff97 0 107px,#58ffa7 0 117px,#48ffb7 0 127px,#38ffc7 0 137px,#28ffd7 0 148px,#18ffe7 0 162px,#08fff7 0)"></i><i style="background:linear-gradient(#870000 0 16px,#970000 0 17px,#a70000 0 18px,#c70000 0 19px,#d70000 0 20px,#e70000 0 21px,#f70000 0 22px,#ff0800 0 23px,#ff1800 0 24px,#ff3800 0 25px,#ff4800 0 26px,#ff5800 0 27px,#ff6800 0 28px,#ff7800 0 29px,#ff9700 0 30px,#ffa700 0 31px,#ffb700 0 32px,#ffc700 0 33px,#ffd700 0 34px,#ffe700 0 35px,#fff700 0 38px,#f7ff08 0 42px,#e7ff18 0 46px,#d7ff28 0 51px,#c7ff38 0 60px,#b7ff48 0 69px,#a7ff58 0 76px,#97ff68 0 83px,#87ff78 0 91px,#78ff87 0 100px,#68ff97 0 109px,#58ffa7 0 118px,#48ffb7 0 128px,#38ffc7 0 139px,#28ffd7 0 150px,#18ffe7 0 163px,#08fff7 0)"></i><i style="background:linear-gradient(#870000 0 16px,#970000 0 17px,#a70000 0 18px,#b70000 0 19px,#c70000 0 20px,#e70000 0 21px,#f70000 0 22px,#ff0800 0 23px,#ff1800 0 24px,#ff2800 0 25px,#ff4800 0 26px,#ff5800 0 27px,#ff6800 0 28px,#ff7800 0 29px,#ff8700 0 30px,#ff9700 0 31px,#ffa700 0 32px,#ffb700 0 33px,#ffd700 0 34px,#ffe700 0 36px,#fff700 0 39px,#f7ff08 0 43px,#e7ff18 0 47px,#d7ff28 0 51px,#c7ff38 0 60px,#b7ff48 0 69px,#a7ff58 0 76px,#97ff68 0 83px,#87ff78 0 91px,#78ff87 0 99px,#68ff97 0 108px,#58ffa7 0 118px,#48ffb7 0 128px,#38ffc7 0 139px,#28ffd7 0 150px,#18ffe7 0 162px,#08fff7 0)"></i><i style="background:linear-gradient(#870000 0 14px,#970000 0 15px,#a70000 0 16px,#c70000 0 17px,#d70000 0 18px,#e70000 0 19px,#f70000 0 20px,#ff0800 0 21px,#ff2800 0 22px,#ff3800 0 23px,#ff4800 0 24px,#ff5800 0 25px,#ff6800 0 26px,#ff8700 0 27px,#ff9700 0 28px,#ffa700 0 29px,#ffb700 0 30px,#ffc700 0 31px,#ffd700 0 32px,#ffe700 0 34px,#fff700 0 37px,#f7ff08 0 40px,#e7ff18 0 44px,#d7ff28 0 49px,#c7ff38 0 57px,#b7ff48 0 66px,#a7ff58 0 73px,#97ff68 0 80px,#87ff78 0 88px,#78ff87 0 96px,#68ff97 0 106px,#58ffa7 0 115px,#48ffb7 0 125px,#38ffc7 0 136px,#28ffd7 0 147px,#18ffe7 0 158px,#08fff7 0)"></i><i style="background:linear-gradient(#870000 0 15px,#970000 0 16px,#a70000 0 17px,#b70000 0 18px,#c70000 0 19px,#e70000 0 20px,#f70000 0 21px,#ff0800 0 22px,#ff1800 0 23px,#ff2800 0 24px,#ff4800 0 25px,#ff5800 0 26px,#ff6800 0 27px,#ff7800 0 28px,#ff8700 0 29px,#ff9700 0 30px,#ffa700 0 31px,#ffb700 0 32px,#ffc700 0 33px,#ffd700 0 34px,#ffe700 0 35px,#fff700 0 39px,#f7ff08 0 42px,#e7ff18 0 46px,#d7ff28 0 50px,#c7ff38 0 58px,#b7ff48 0 67px,#a7ff58 0 74px,#97ff68 0 81px,#87ff78 0 89px,#78ff87 0 97px,#68ff97 0 106px,#58ffa7 0 116px,#48ffb7 0 126px,#38ffc7 0 137px,#28ffd7 0 148px,#18ffe7 0 159px,#08fff7 0)"></i><i style="background:linear-gradient(#870000 0 13px,#970000 0 14px,#a70000 0 15px,#b70000 0 16px,#d70000 0 17px,#e70000 0 18px,#f70000 0 19px,#ff0800 0 20px,#ff1800 0 21px,#ff3800 0 22px,#ff4800 0 23px,#ff5800 0 24px,#ff6800 0 25px,#ff7800 0 26px,#ff8700 0 27px,#ff9700 0 28px,#ffa700 0 29px,#ffb700 0 30px,#ffc700 0 31px,#ffd700 0 32px,#ffe700 0 34px,#fff700 0 37px,#f7ff08 0 40px,#e7ff18 0 44px,#d7ff28 0 48px,#c7ff38 0 55px,#b7ff48 0 65px,#a7ff58 0 72px,#97ff68 0 78px,#87ff78 0 86px,#78ff87 0 95px,#68ff97 0 104px,#58ffa7 0 113px,#48ffb7 0 123px,#38ffc7 0 134px,#28ffd7 0 145px,#18ffe7 0 156px,#08fff7 0 183px,#00f7ff 0)"></i><i style="background:linear-gradient(#870000 0 13px,#970000 0 14px,#a70000 0 15px,#c70000 0 16px,#d70000 0 17px,#e70000 0 18px,#f70000 0 19px,#ff0800 0 20px,#ff2800 0 21px,#ff3800 0 22px,#ff4800 0 23px,#ff5800 0 24px,#ff6800 0 25px,#ff7800 0 26px,#ff8700 0 27px,#ff9700 0 28px,#ffa700 0 29px,#ffb700 0 30px,#ffc700 0 31px,#ffd700 0 32px,#ffe700 0 34px,#fff700 0 37px,#f7ff08 0 40px,#e7ff18 0 44px,#d7ff28 0 48px,#c7ff38 0 55px,#b7ff48 0 64px,#a7ff58 0 71px,#97ff68 0 78px,#87ff78 0 86px,#78ff87 0 94px,#68ff97 0 103px,#58ffa7 0 112px,#48ffb7 0 123px,#38ffc7 0 133px,#28ffd7 0 144px,#18ffe7 0 155px,#08fff7 0 181px,#00f7ff 0)"></i><i style="background:linear-gradient(#870000 0 13px,#970000 0 14px,#a70000 0 15px,#c70000 0 16px,#d70000 0 17px,#e70000 0 18px,#ff0800 0 19px,#ff1800 0 20px,#ff2800 0 21px,#ff3800 0 22px,#ff4800 0 23px,#ff5800 0 24px,#ff7800 0 25px,#ff8700 0 27px,#ff9700 0 28px,#ffa700 0 29px,#ffb700 0 30px,#ffc700 0 31px,#ffd700 0 32px,#ffe700 0 34px,#fff700 0 37px,#f7ff08 0 40px,#e7ff18 0 44px,#d7ff28 0 48px,#c7ff38 0 54px,#b7ff48 0 63px,#a7ff58 0 70px,#97ff68 0 77px,#87ff78 0 85px,#78ff87 0 94px,#68ff97 0 102px,#58ffa7 0 112px,#48ffb7 0 122px,#38ffc7 0 133px,#28ffd7 0 144px,#18ffe7 0 155px,#08fff7 0 179px,#00f7ff 0)"></i><i style="background:linear-gradient(#870000 0 15px,#970000 0 16px,#a70000 0 17px,#c70000 0 18px,#d70000 0 19px,#e70000 0 20px,#f70000 0 21px,#ff1800 0 22px,#ff2800 0 23px,#ff3800 0 24px,#ff4800 0 25px,#ff5800 0 26px,#ff6800 0 27px,#ff7800 0 28px,#ff8700 0 29px,#ff9700 0 30px,#ffa700 0 31px,#ffb700 0 32px,#ffc700 0 33px,#ffd700 0 34px,#ffe700 0 36px,#fff700 0 39px,#f7ff08 0 43px,#e7ff18 0 46px,#d7ff28 0 50px,#c7ff38 0 56px,#b7ff48 0 65px,#a7ff58 0 72px,#97ff68 0 79px,#87ff78 0 87px,#78ff87 0 95px,#68ff97 0 104px,#58ffa7 0 113px,#48ffb7 0 123px,#38ffc7 0 134px,#28ffd7 0 145px,#18ffe7 0 156px,#08fff7 0 180px,#00f7ff 0)"></i><i style="background:linear-gradient(#870000 0 15px,#970000 0 16px,#b70000 0 17px,#c70000 0 18px,#d70000 0 19px,#f70000 0 20px,#ff0800 0 21px,#ff1800 0 22px,#ff2800 0 23px,#ff3800 0 24px,#ff5800 0 25px,#ff6800 0 26px,#ff7800 0 27px,#ff8700 0 28px,#ff9700 0 29px,#ffa700 0 31px,#ffb700 0 32px,#ffc700 0 33px,#ffd700 0 34px,#ffe700 0 36px,#fff700 0 39px,#f7ff08 0 43px,#e7ff18 0 46px,#d7ff28 0 50px,#c7ff38 0 56px,#b7ff48 0 64px,#a7ff58 0 72px,#97ff68 0 78px,#87ff78 0 86px,#78ff87 0 94px,#68ff97 0 103px,#58ffa7 0 112px,#48ffb7 0 123px,#38ffc7 0 133px,#28ffd7 0 144px,#18ffe7 0 155px,#08fff7 0 178px,#00f7ff 0)"></i><i style="background:linear-gradient(#870000 0 14px,#970000 0 15px,#b70000 0 16px,#c70000 0 17px,#d70000 0 18px,#f70000 0 19px,#ff0800 0 20px,#ff1800 0 21px,#ff2800 0 22px,#ff3800 0 23px,#ff5800 0 24px,#ff6800 0 25px,#ff7800 0 26px,#ff8700 0 27px,#ff9700 0 29px,#ffa700 0 30px,#ffb700 0 31px,#ffc700 0 32px,#ffd700 0 33px,#ffe700 0 36px,#fff700 0 39px,#f7ff08 0 42px,#e7ff18 0 45px,#d7ff28 0 49px,#c7ff38 0 54px,#b7ff48 0 63px,#a7ff58 0 70px,#97ff68 0 77px,#87ff78 0 84px,#78ff87 0 93px,#68ff97 0 102px,#58ffa7 0 111px,#48ffb7 0 121px,#38ffc7 0 132px,#28ffd7 0 143px,#18ffe7 0 154px,#08fff7 0 175px,#00f7ff 0)"></i><i style="background:linear-gradient(#870000 0 16px,#970000 0 17px,#b70000 0 18px,#c70000 0 19px,#e70000 0 20px,#f70000 0 21px,#ff0800 0 22px,#ff1800 0 23px,#ff2800 0 24px,#ff4800 0 25px,#ff5800 0 26px,#ff6800 0 27px,#ff7800 0 28px,#ff8700 0 29px,#ff9700 0 30px,#ffa700 0 32px,#ffb700 0 33px,#ffc700 0 34px,#ffd700 0 36px,#ffe700 0 38px,#fff700 0 41px,#f7ff08 0 44px,#e7ff18 0 47px,#d7ff28 0 51px,#c7ff38 0 56px,#b7ff48 0 64px,#a7ff58 0 72px,#97ff68 0 78px,#87ff78 0 86px,#78ff87 0 94px,#68ff97 0 103px,#58ffa7 0 112px,#48ffb7 0 122px,#38ffc7 0 133px,#28ffd7 0 144px,#18ffe7 0 155px,#08fff7 0 175px,#00f7ff 0)"></i><i style="background:linear-gradient(#870000 0 15px,#a70000 0 16px,#b70000 0 17px,#c70000 0 18px,#e70000 0 19px,#f70000 0 20px,#ff0800 0 21px,#ff1800 0 22px,#ff3800 0 23px,#ff4800 0 24px,#ff5800 0 25px,#ff6800 0 26px,#ff7800 0 27px,#ff8700 0 28px,#ff9700 0 29px,#ffa700 0 31px,#ffb700 0 32px,#ffc700 0 33px,#ffd700 0 35px,#ffe700 0 37px,#fff700 0 40px,#f7ff08 0 43px,#e7ff18 0 46px,#d7ff28 0 50px,#c7ff38 0 55px,#b7ff48 0 63px,#a7ff58 0 70px,#97ff68 0 77px,#87ff78 0 84px,#78ff87 0 93px,#68ff97 0 101px,#58ffa7 0 110px,#48ffb7 0 120px,#38ffc7 0 131px,#28ffd7 0 142px,#18ffe7 0 153px,#08fff7 0 172px,#00f7ff 0)"></i><i style="background:linear-gradient(#870000 0 14px,#a70000 0 15px,#b70000 0 16px,#d70000 0 17px,#e70000 0 18px,#f70000 0 19px,#ff0800 0 20px,#ff2800 0 21px,#ff3800 0 22px,#ff4800 0 23px,#ff5800 0 24px,#ff6800 0 25px,#ff7800 0 26px,#ff8700 0 27px,#ff9700 0 28px,#ffa700 0 29px,#ffb700 0 31px,#ffc700 0 32px,#ffd700 0 34px,#ffe700 0 36px,#fff700 0 39px,#f7ff08 0 42px,#e7ff18 0 45px,#d7ff28 0 49px,#c7ff38 0 53px,#b7ff48 0 61px,#a7ff58 0 68px,#97ff68 0 75px,#87ff78 0 83px,#78ff87 0 91px,#68ff97 0 100px,#58ffa7 0 109px,#48ffb7 0 119px,#38ffc7 0 129px,#28ffd7 0 141px,#18ffe7 0 152px,#08fff7 0 170px,#00f7ff 0)"></i><i style="background:linear-gradient(#870000 0 13px,#a70000 0 14px,#b70000 0 15px,#c70000 0 16px,#e70000 0 17px,#f70000 0 18px,#ff0800 0 19px,#ff2800 0 20px,#ff3800 0 21px,#ff4800 0 22px,#ff5800 0 23px,#ff6800 0 24px,#ff7800 0 25px,#ff8700 0 26px,#ff9700 0 27px,#ffa700 0 29px,#ffb700 0 30px,#ffc700 0 32px,#ffd700 0 33px,#ffe700 0 36px,#fff700 0 38px,#f7ff08 0 41px,#e7ff18 0 45px,#d7ff28 0 48px,#c7ff38 0 52px,#b7ff48 0 60px,#a7ff58 0 67px,#97ff68 0 74px,#87ff78 0 81px,#78ff87 0 90px,#68ff97 0 98px,#58ffa7 0 107px,#48ffb7 0 117px,#38ffc7 0 128px,#28ffd7 0 139px,#18ffe7 0 150px,#08fff7 0 167px,#00f7ff 0)"></i><i style="background:linear-gradient(#870000 0 12px,#a70000 0 13px,#b70000 0 14px,#d70000 0 15px,#e70000 0 16px,#f70000 0 17px,#ff1800 0 18px,#ff2800 0 19px,#ff3800 0 20px,#ff4800 0 21px,#ff5800 0 22px,#ff6800 0 23px,#ff7800 0 24px,#ff8700 0 25px,#ff9700 0 26px,#ffa700 0 28px,#ffb700 0 29px,#ffc700 0 31px,#ffd700 0 33px,#ffe700 0 35px,#fff700 0 38px,#f7ff08 0 41px,#e7ff18 0 44px,#d7ff28 0 47px,#c7ff38 0 51px,#b7ff48 0 58px,#a7ff58 0 66px,#97ff68 0 72px,#87ff78 0 80px,#78ff87 0 88px,#68ff97 0 97px,#58ffa7 0 106px,#48ffb7 0 115px,#38ffc7 0 126px,#28ffd7 0 137px,#18ffe7 0 149px,#08fff7 0 164px,#00f7ff 0)"></i><i style="background:linear-gradient(#870000 0 14px,#970000 0 15px,#b70000 0 16px,#c70000 0 17px,#e70000 0 18px,#f70000 0 19px,#ff0800 0 20px,#ff1800 0 21px,#ff3800 0 22px,#ff4800 0 23px,#ff5800 0 24px,#ff6800 0 25px,#ff7800 0 26px,#ff8700 0 27px,#ff9700 0 29px,#ffa700 0 30px,#ffb700 0 31px,#ffc700 0 33px,#ffd700 0 35px,#ffe700 0 38px,#fff700 0 40px,#f7ff08 0 43px,#e7ff18 0 46px,#d7ff28 0 49px,#c7ff38 0 53px,#b7ff48 0 60px,#a7ff58 0 67px,#97ff68 0 74px,#87ff78 0 81px,#78ff87 0 90px,#68ff97 0 99px,#58ffa7 0 107px,#48ffb7 0 117px,#38ffc7 0 128px,#28ffd7 0 139px,#18ffe7 0 150px,#08fff7 0 165px,#00f7ff 0)"></i><i style="background:linear-gradient(#870000 0 15px,#a70000 0 16px,#b70000 0 17px,#d70000 0 18px,#e70000 0 19px,#ff0800 0 20px,#ff1800 0 21px,#ff2800 0 22px,#ff3800 0 23px,#ff4800 0 24px,#ff5800 0 25px,#ff7800 0 27px,#ff8700 0 28px,#ff9700 0 29px,#ffa700 0 31px,#ffb700 0 32px,#ffc700 0 34px,#ffd700 0 36px,#ffe700 0 38px,#fff700 0 41px,#f7ff08 0 44px,#e7ff18 0 47px,#d7ff28 0 50px,#c7ff38 0 54px,#b7ff48 0 61px,#a7ff58 0 68px,#97ff68 0 74px,#87ff78 0 82px,#78ff87 0 90px,#68ff97 0 99px,#58ffa7 0 108px,#48ffb7 0 117px,#38ffc7 0 128px,#28ffd7 0 139px,#18ffe7 0 150px,#08fff7 0 164px,#00f7ff 0)"></i><i style="background:linear-gradient(#870000 0 13px,#970000 0 14px,#a70000 0 15px,#c70000 0 16px,#d70000 0 17px,#f70000 0 18px,#ff0800 0 19px,#ff1800 0 20px,#ff2800 0 21px,#ff4800 0 22px,#ff5800 0 23px,#ff6800 0 24px,#ff7800 0 25px,#ff8700 0 26px,#ff9700 0 28px,#ffa700 0 29px,#ffb700 0 31px,#ffc700 0 33px,#ffd700 0 35px,#ffe700 0 37px,#fff700 0 40px,#f7ff08 0 43px,#e7ff18 0 46px,#d7ff28 0 49px,#c7ff38 0 52px,#b7ff48 0 59px,#a7ff58 0 66px,#97ff68 0 73px,#87ff78 0 80px,#78ff87 0 88px,#68ff97 0 97px,#58ffa7 0 106px,#48ffb7 0 115px,#38ffc7 0 126px,#28ffd7 0 137px,#18ffe7 0 148px,#08fff7 0 161px,#00f7ff 0)"></i><i style="background:linear-gradient(#870000 0 11px,#a70000 0 12px,#b70000 0 13px,#d70000 0 14px,#f70000 0 15px,#ff0800 0 16px,#ff1800 0 17px,#ff2800 0 18px,#ff3800 0 19px,#ff5800 0 20px,#ff6800 0 21px,#ff7800 0 22px,#ff8700 0 24px,#ff9700 0 25px,#ffa700 0 27px,#ffb700 0 28px,#ffc700 0 30px,#ffd700 0 33px,#ffe700 0 35px,#fff700 0 37px,#f7ff08 0 40px,#e7ff18 0 43px,#d7ff28 0 46px,#c7ff38 0 49px,#b7ff48 0 56px,#a7ff58 0 63px,#97ff68 0 69px,#87ff78 0 76px,#78ff87 0 85px,#68ff97 0 94px,#58ffa7 0 102px,#48ffb7 0 111px,#38ffc7 0 122px,#28ffd7 0 134px,#18ffe7 0 145px,#08fff7 0 157px,#00f7ff 0)"></i><i style="background:linear-gradient(#870000 0 13px,#a70000 0 14px,#b70000 0 15px,#d70000 0 16px,#e70000 0 17px,#ff0800 0 18px,#ff1800 0 19px,#ff2800 0 20px,#ff3800 0 21px,#ff4800 0 22px,#ff6800 0 23px,#ff7800 0 24px,#ff8700 0 26px,#ff9700 0 27px,#ffa700 0 29px,#ffb700 0 30px,#ffc700 0 32px,#ffd700 0 35px,#ffe700 0 37px,#fff700 0 39px,#f7ff08 0 42px,#e7ff18 0 45px,#d7ff28 0 48px,#c7ff38 0 51px,#b7ff48 0 58px,#a7ff58 0 65px,#97ff68 0 72px,#87ff78 0 78px,#78ff87 0 87px,#68ff97 0 96px,#58ffa7 0 104px,#48ffb7 0 113px,#38ffc7 0 124px,#28ffd7 0 135px,#18ffe7 0 147px,#08fff7 0 158px,#00f7ff 0)"></i><i style="background:linear-gradient(#870000 0 14px,#970000 0 15px,#a70000 0 16px,#c70000 0 17px,#d70000 0 18px,#f70000 0 19px,#ff0800 0 20px,#ff1800 0 21px,#ff3800 0 22px,#ff4800 0 23px,#ff5800 0 24px,#ff6800 0 25px,#ff7800 0 26px,#ff8700 0 27px,#ff9700 0 29px,#ffa700 0 30px,#ffb700 0 32px,#ffc700 0 34px,#ffd700 0 36px,#ffe700 0 38px,#fff700 0 41px,#f7ff08 0 43px,#e7ff18 0 47px,#d7ff28 0 50px,#c7ff38 0 53px,#b7ff48 0 59px,#a7ff58 0 66px,#97ff68 0 73px,#87ff78 0 80px,#78ff87 0 89px,#68ff97 0 97px,#58ffa7 0 106px,#48ffb7 0 114px,#38ffc7 0 125px,#28ffd7 0 137px,#18ffe7 0 148px,#08fff7 0 159px,#00f7ff 0)"></i><i style="background:linear-gradient(#870000 0 12px,#970000 0 13px,#b70000 0 14px,#c70000 0 15px,#e70000 0 16px,#f70000 0 17px,#ff1800 0 18px,#ff2800 0 19px,#ff3800 0 20px,#ff4800 0 21px,#ff5800 0 22px,#ff7800 0 23px,#ff8700 0 25px,#ff9700 0 26px,#ffa700 0 28px,#ffb700 0 29px,#ffc700 0 31px,#ffd700 0 33px,#ffe700 0 36px,#fff700 0 38px,#f7ff08 0 41px,#e7ff18 0 44px,#d7ff28 0 47px,#c7ff38 0 50px,#b7ff48 0 57px,#a7ff58 0 64px,#97ff68 0 71px,#87ff78 0 78px,#78ff87 0 86px,#68ff97 0 95px,#58ffa7 0 103px,#48ffb7 0 112px,#38ffc7 0 123px,#28ffd7 0 134px,#18ffe7 0 145px,#08fff7 0 157px,#00f7ff 0 183px,#00e7ff 0)"></i><i style="background:linear-gradient(#870000 0 12px,#970000 0 13px,#a70000 0 14px,#b70000 0 15px,#d70000 0 16px,#f70000 0 17px,#ff0800 0 18px,#ff1800 0 19px,#ff2800 0 20px,#ff3800 0 21px,#ff5800 0 22px,#ff6800 0 23px,#ff7800 0 24px,#ff8700 0 25px,#ff9700 0 27px,#ffa700 0 28px,#ffb700 0 30px,#ffc700 0 32px,#ffd700 0 34px,#ffe700 0 36px,#fff700 0 38px,#f7ff08 0 41px,#e7ff18 0 44px,#d7ff28 0 48px,#c7ff38 0 51px,#b7ff48 0 58px,#a7ff58 0 65px,#97ff68 0 71px,#87ff78 0 78px,#78ff87 0 87px,#68ff97 0 95px,#58ffa7 0 104px,#48ffb7 0 112px,#38ffc7 0 123px,#28ffd7 0 134px,#18ffe7 0 145px,#08fff7 0 157px,#00f7ff 0 183px,#00e7ff 0)"></i><i style="background:linear-gradient(#870000 0 14px,#970000 0 15px,#a70000 0 16px,#c70000 0 17px,#e70000 0 18px,#f70000 0 19px,#ff0800 0 20px,#ff1800 0 21px,#ff3800 0 22px,#ff4800 0 23px,#ff5800 0 24px,#ff6800 0 25px,#ff7800 0 26px,#ff8700 0 27px,#ff9700 0 28px,#ffa700 0 30px,#ffb700 0 31px,#ffc700 0 33px,#ffd700 0 35px,#ffe700 0 37px,#fff700 0 40px,#f7ff08 0 43px,#e7ff18 0 46px,#d7ff28 0 49px,#c7ff38 0 53px,#b7ff48 0 59px,#a7ff58 0 66px,#97ff68 0 73px,#87ff78 0 80px,#78ff87 0 89px,#68ff97 0 97px,#58ffa7 0 105px,#48ffb7 0 113px,#38ffc7 0 124px,#28ffd7 0 135px,#18ffe7 0 147px,#08fff7 0 158px,#00f7ff 0 184px,#00e7ff 0)"></i><i style="background:linear-gradient(#870000 0 14px,#a70000 0 15px,#b70000 0 16px,#c70000 0 17px,#e70000 0 18px,#f70000 0 19px,#ff1800 0 20px,#ff2800 0 21px,#ff3800 0 22px,#ff4800 0 23px,#ff5800 0 24px,#ff7800 0 25px,#ff8700 0 27px,#ff9700 0 28px,#ffa700 0 29px,#ffb700 0 31px,#ffc700 0 33px,#ffd700 0 35px,#ffe700 0 37px,#fff700 0 39px,#f7ff08 0 42px,#e7ff18 0 45px,#d7ff28 0 49px,#c7ff38 0 52px,#b7ff48 0 59px,#a7ff58 0 66px,#97ff68 0 73px,#87ff78 0 80px,#78ff87 0 89px,#68ff97 0 97px,#58ffa7 0 105px,#48ffb7 0 113px,#38ffc7 0 124px,#28ffd7 0 135px,#18ffe7 0 146px,#08fff7 0 158px,#00f7ff 0 182px,#00e7ff 0)"></i><i style="background:linear-gradient(#870000 0 14px,#970000 0 15px,#a70000 0 16px,#b70000 0 17px,#d70000 0 18px,#e70000 0 19px,#ff0800 0 20px,#ff1800 0 21px,#ff2800 0 22px,#ff3800 0 23px,#ff5800 0 24px,#ff6800 0 25px,#ff7800 0 26px,#ff8700 0 27px,#ff9700 0 29px,#ffa700 0 30px,#ffb700 0 31px,#ffc700 0 33px,#ffd700 0 35px,#ffe700 0 38px,#fff700 0 40px,#f7ff08 0 43px,#e7ff18 0 46px,#d7ff28 0 49px,#c7ff38 0 53px,#b7ff48 0 60px,#a7ff58 0 67px,#97ff68 0 74px,#87ff78 0 81px,#78ff87 0 89px,#68ff97 0 97px,#58ffa7 0 105px,#48ffb7 0 113px,#38ffc7 0 124px,#28ffd7 0 135px,#18ffe7 0 147px,#08fff7 0 158px,#00f7ff 0 182px,#00e7ff 0)"></i><i style="background:linear-gradient(#870000 0 13px,#970000 0 14px,#a70000 0 15px,#c70000 0 16px,#d70000 0 17px,#f70000 0 18px,#ff0800 0 19px,#ff1800 0 20px,#ff2800 0 21px,#ff4800 0 22px,#ff5800 0 23px,#ff6800 0 24px,#ff7800 0 25px,#ff8700 0 26px,#ff9700 0 27px,#ffa700 0 29px,#ffb700 0 30px,#ffc700 0 32px,#ffd700 0 34px,#ffe700 0 36px,#fff700 0 38px,#f7ff08 0 41px,#e7ff18 0 45px,#d7ff28 0 48px,#c7ff38 0 52px,#b7ff48 0 58px,#a7ff58 0 65px,#97ff68 0 72px,#87ff78 0 80px,#78ff87 0 88px,#68ff97 0 96px,#58ffa7 0 104px,#48ffb7 0 111px,#38ffc7 0 122px,#28ffd7 0 134px,#18ffe7 0 145px,#08fff7 0 156px,#00f7ff 0 180px,#00e7ff 0)"></i><i style="background:linear-gradient(#870000 0 11px,#970000 0 12px,#a70000 0 13px,#b70000 0 14px,#d70000 0 15px,#e70000 0 16px,#f70000 0 17px,#ff1800 0 18px,#ff2800 0 19px,#ff3800 0 20px,#ff5800 0 21px,#ff6800 0 22px,#ff7800 0 23px,#ff8700 0 24px,#ff9700 0 25px,#ffa700 0 27px,#ffb700 0 28px,#ffc700 0 30px,#ffd700 0 32px,#ffe700 0 34px,#fff700 0 37px,#f7ff08 0 39px,#e7ff18 0 43px,#d7ff28 0 46px,#c7ff38 0 50px,#b7ff48 0 57px,#a7ff58 0 64px,#97ff68 0 71px,#87ff78 0 78px,#78ff87 0 87px,#68ff97 0 94px,#58ffa7 0 102px,#48ffb7 0 109px,#38ffc7 0 120px,#28ffd7 0 132px,#18ffe7 0 143px,#08fff7 0 154px,#00f7ff 0 177px,#00e7ff 0)"></i><i style="background:linear-gradient(#870000 0 11px,#970000 0 12px,#a70000 0 13px,#b70000 0 14px,#c70000 0 15px,#e70000 0 16px,#f70000 0 17px,#ff0800 0 18px,#ff2800 0 19px,#ff3800 0 20px,#ff4800 0 21px,#ff6800 0 22px,#ff7800 0 23px,#ff8700 0 24px,#ff9700 0 26px,#ffa700 0 27px,#ffb700 0 28px,#ffc700 0 30px,#ffd700 0 32px,#ffe700 0 34px,#fff700 0 37px,#f7ff08 0 39px,#e7ff18 0 43px,#d7ff28 0 46px,#c7ff38 0 50px,#b7ff48 0 57px,#a7ff58 0 64px,#97ff68 0 71px,#87ff78 0 78px,#78ff87 0 87px,#68ff97 0 94px,#58ffa7 0 102px,#48ffb7 0 109px,#38ffc7 0 120px,#28ffd7 0 131px,#18ffe7 0 143px,#08fff7 0 154px,#00f7ff 0 176px,#00e7ff 0)"></i><i style="background:linear-gradient(#870000 0 12px,#970000 0 13px,#a70000 0 14px,#c70000 0 15px,#d70000 0 16px,#f70000 0 17px,#ff0800 0 18px,#ff1800 0 19px,#ff3800 0 20px,#ff4800 0 21px,#ff5800 0 22px,#ff6800 0 23px,#ff8700 0 25px,#ff9700 0 26px,#ffa700 0 27px,#ffb700 0 28px,#ffc700 0 30px,#ffd700 0 32px,#ffe700 0 34px,#fff700 0 37px,#f7ff08 0 39px,#e7ff18 0 43px,#d7ff28 0 47px,#c7ff38 0 50px,#b7ff48 0 57px,#a7ff58 0 64px,#97ff68 0 71px,#87ff78 0 79px,#78ff87 0 87px,#68ff97 0 95px,#58ffa7 0 102px,#48ffb7 0 109px,#38ffc7 0 120px,#28ffd7 0 131px,#18ffe7 0 143px,#08fff7 0 154px,#00f7ff 0 176px,#00e7ff 0)"></i><i style="background:linear-gradient(#870000 0 11px,#970000 0 12px,#a70000 0 13px,#b70000 0 14px,#d70000 0 15px,#e70000 0 16px,#ff0800 0 17px,#ff1800 0 18px,#ff2800 0 19px,#ff4800 0 20px,#ff5800 0 21px,#ff6800 0 22px,#ff7800 0 23px,#ff8700 0 24px,#ff9700 0 25px,#ffa700 0 26px,#ffb700 0 27px,#ffc700 0 29px,#ffd700 0 31px,#ffe700 0 33px,#fff700 0 36px,#f7ff08 0 38px,#e7ff18 0 42px,#d7ff28 0 46px,#c7ff38 0 49px,#b7ff48 0 56px,#a7ff58 0 64px,#97ff68 0 71px,#87ff78 0 78px,#78ff87 0 86px,#68ff97 0 94px,#58ffa7 0 101px,#48ffb7 0 108px,#38ffc7 0 119px,#28ffd7 0 130px,#18ffe7 0 142px,#08fff7 0 153px,#00f7ff 0 174px,#00e7ff 0)"></i><i style="background:linear-gradient(#870000 0 12px,#970000 0 13px,#a70000 0 14px,#b70000 0 15px,#d70000 0 16px,#e70000 0 17px,#f70000 0 18px,#ff1800 0 19px,#ff2800 0 20px,#ff3800 0 21px,#ff5800 0 22px,#ff6800 0 23px,#ff7800 0 24px,#ff8700 0 25px,#ff9700 0 26px,#ffa700 0 27px,#ffb700 0 29px,#ffc700 0 30px,#ffd700 0 32px,#ffe700 0 34px,#fff700 0 37px,#f7ff08 0 39px,#e7ff18 0 43px,#d7ff28 0 47px,#c7ff38 0 51px,#b7ff48 0 58px,#a7ff58 0 65px,#97ff68 0 72px,#87ff78 0 79px,#78ff87 0 88px,#68ff97 0 95px,#58ffa7 0 102px,#48ffb7 0 109px,#38ffc7 0 120px,#28ffd7 0 131px,#18ffe7 0 142px,#08fff7 0 154px,#00f7ff 0 174px,#00e7ff 0)"></i><i style="background:linear-gradient(#870000 0 12px,#970000 0 13px,#b70000 0 14px,#c70000 0 15px,#e70000 0 16px,#f70000 0 17px,#ff0800 0 18px,#ff2800 0 19px,#ff3800 0 20px,#ff4800 0 21px,#ff6800 0 22px,#ff7800 0 23px,#ff8700 0 24px,#ff9700 0 25px,#ffa700 0 27px,#ffb700 0 28px,#ffc700 0 29px,#ffd700 0 31px,#ffe700 0 34px,#fff700 0 36px,#f7ff08 0 38px,#e7ff18 0 42px,#d7ff28 0 46px,#c7ff38 0 50px,#b7ff48 0 57px,#a7ff58 0 64px,#97ff68 0 71px,#87ff78 0 79px,#78ff87 0 87px,#68ff97 0 94px,#58ffa7 0 101px,#48ffb7 0 108px,#38ffc7 0 119px,#28ffd7 0 130px,#18ffe7 0 141px,#08fff7 0 153px,#00f7ff 0 172px,#00e7ff 0)"></i><i style="background:linear-gradient(#870000 0 12px,#970000 0 13px,#a70000 0 14px,#b70000 0 15px,#d70000 0 16px,#e70000 0 17px,#ff0800 0 18px,#ff1800 0 19px,#ff2800 0 20px,#ff4800 0 21px,#ff5800 0 22px,#ff6800 0 23px,#ff8700 0 25px,#ff9700 0 26px,#ffa700 0 27px,#ffb700 0 28px,#ffc700 0 30px,#ffd700 0 32px,#ffe700 0 34px,#fff700 0 36px,#f7ff08 0 39px,#e7ff18 0 42px,#d7ff28 0 46px,#c7ff38 0 50px,#b7ff48 0 57px,#a7ff58 0 65px,#97ff68 0 72px,#87ff78 0 80px,#78ff87 0 88px,#68ff97 0 95px,#58ffa7 0 102px,#48ffb7 0 109px,#38ffc7 0 119px,#28ffd7 0 130px,#18ffe7 0 142px,#08fff7 0 153px,#00f7ff 0 172px,#00e7ff 0)"></i><i style="background:linear-gradient(#870000 0 14px,#970000 0 15px,#a70000 0 16px,#b70000 0 17px,#d70000 0 18px,#e70000 0 19px,#f70000 0 20px,#ff1800 0 21px,#ff2800 0 22px,#ff4800 0 23px,#ff5800 0 24px,#ff6800 0 25px,#ff8700 0 26px,#ff9700 0 28px,#ffa700 0 29px,#ffb700 0 30px,#ffc700 0 31px,#ffd700 0 33px,#ffe700 0 36px,#fff700 0 38px,#f7ff08 0 40px,#e7ff18 0 44px,#d7ff28 0 48px,#c7ff38 0 52px,#b7ff48 0 59px,#a7ff58 0 67px,#97ff68 0 74px,#87ff78 0 82px,#78ff87 0 90px,#68ff97 0 97px,#58ffa7 0 103px,#48ffb7 0 110px,#38ffc7 0 121px,#28ffd7 0 132px,#18ffe7 0 143px,#08fff7 0 155px,#00f7ff 0 173px,#00e7ff 0)"></i><i style="background:linear-gradient(#870000 0 17px,#970000 0 18px,#a70000 0 19px,#c70000 0 20px,#d70000 0 21px,#e70000 0 22px,#ff0800 0 23px,#ff1800 0 24px,#ff2800 0 25px,#ff4800 0 26px,#ff5800 0 27px,#ff7800 0 28px,#ff8700 0 29px,#ff9700 0 30px,#ffa700 0 32px,#ffb700 0 33px,#ffc700 0 34px,#ffd700 0 36px,#ffe700 0 38px,#fff700 0 41px,#f7ff08 0 43px,#e7ff18 0 47px,#d7ff28 0 51px,#c7ff38 0 55px,#b7ff48 0 62px,#a7ff58 0 70px,#97ff68 0 77px,#87ff78 0 85px,#78ff87 0 93px,#68ff97 0 99px,#58ffa7 0 106px,#48ffb7 0 113px,#38ffc7 0 123px,#28ffd7 0 134px,#18ffe7 0 146px,#08fff7 0 157px,#00f7ff 0 175px,#00e7ff 0)"></i><i style="background:linear-gradient(#870000 0 16px,#970000 0 17px,#a70000 0 18px,#c70000 0 19px,#d70000 0 20px,#f70000 0 21px,#ff0800 0 22px,#ff1800 0 23px,#ff3800 0 24px,#ff4800 0 25px,#ff6800 0 26px,#ff7800 0 27px,#ff8700 0 28px,#ff9700 0 29px,#ffa700 0 30px,#ffb700 0 31px,#ffc700 0 33px,#ffd700 0 35px,#ffe700 0 37px,#fff700 0 39px,#f7ff08 0 42px,#e7ff18 0 46px,#d7ff28 0 50px,#c7ff38 0 54px,#b7ff48 0 61px,#a7ff58 0 68px,#97ff68 0 76px,#87ff78 0 84px,#78ff87 0 91px,#68ff97 0 98px,#58ffa7 0 105px,#48ffb7 0 111px,#38ffc7 0 122px,#28ffd7 0 133px,#18ffe7 0 144px,#08fff7 0 156px,#00f7ff 0 173px,#00e7ff 0)"></i><i style="background:linear-gradient(#870000 0 16px,#970000 0 17px,#b70000 0 18px,#c70000 0 19px,#d70000 0 20px,#f70000 0 21px,#ff0800 0 22px,#ff2800 0 23px,#ff3800 0 24px,#ff5800 0 25px,#ff6800 0 26px,#ff7800 0 27px,#ff8700 0 28px,#ff9700 0 29px,#ffa700 0 30px,#ffb700 0 31px,#ffc700 0 32px,#ffd700 0 34px,#ffe700 0 37px,#fff700 0 39px,#f7ff08 0 41px,#e7ff18 0 45px,#d7ff28 0 49px,#c7ff38 0 54px,#b7ff48 0 61px,#a7ff58 0 68px,#97ff68 0 76px,#87ff78 0 83px,#78ff87 0 91px,#68ff97 0 98px,#58ffa7 0 104px,#48ffb7 0 111px,#38ffc7 0 121px,#28ffd7 0 132px,#18ffe7 0 144px,#08fff7 0 155px,#00f7ff 0 172px,#00e7ff 0)"></i><i style="background:linear-gradient(#870000 0 14px,#970000 0 15px,#b70000 0 16px,#c70000 0 17px,#e70000 0 18px,#f70000 0 19px,#ff0800 0 20px,#ff2800 0 21px,#ff3800 0 22px,#ff5800 0 23px,#ff6800 0 24px,#ff7800 0 25px,#ff9700 0 27px,#ffa700 0 28px,#ffb700 0 29px,#ffc700 0 30px,#ffd700 0 32px,#ffe700 0 34px,#fff700 0 37px,#f7ff08 0 39px,#e7ff18 0 43px,#d7ff28 0 47px,#c7ff38 0 51px,#b7ff48 0 59px,#a7ff58 0 66px,#97ff68 0 74px,#87ff78 0 81px,#78ff87 0 89px,#68ff97 0 96px,#58ffa7 0 102px,#48ffb7 0 109px,#38ffc7 0 118px,#28ffd7 0 130px,#18ffe7 0 141px,#08fff7 0 153px,#00f7ff 0 169px,#00e7ff 0)"></i><i style="background:linear-gradient(#870000 0 12px,#970000 0 13px,#a70000 0 14px,#c70000 0 15px,#d70000 0 16px,#e70000 0 17px,#ff0800 0 18px,#ff1800 0 19px,#ff3800 0 20px,#ff4800 0 21px,#ff6800 0 22px,#ff7800 0 23px,#ff8700 0 24px,#ff9700 0 25px,#ffa700 0 26px,#ffb700 0 27px,#ffc700 0 28px,#ffd700 0 30px,#ffe700 0 32px,#fff700 0 35px,#f7ff08 0 37px,#e7ff18 0 41px,#d7ff28 0 45px,#c7ff38 0 50px,#b7ff48 0 57px,#a7ff58 0 64px,#97ff68 0 72px,#87ff78 0 80px,#78ff87 0 87px,#68ff97 0 94px,#58ffa7 0 100px,#48ffb7 0 107px,#38ffc7 0 116px,#28ffd7 0 128px,#18ffe7 0 139px,#08fff7 0 151px,#00f7ff 0 166px,#00e7ff 0)"></i><i style="background:linear-gradient(#870000 0 11px,#a70000 0 12px,#b70000 0 13px,#d70000 0 14px,#e70000 0 15px,#ff0800 0 16px,#ff1800 0 17px,#ff3800 0 18px,#ff4800 0 19px,#ff6800 0 20px,#ff7800 0 21px,#ff8700 0 22px,#ff9700 0 23px,#ffa700 0 24px,#ffb700 0 25px,#ffc700 0 26px,#ffd700 0 28px,#ffe700 0 30px,#fff700 0 33px,#f7ff08 0 35px,#e7ff18 0 39px,#d7ff28 0 43px,#c7ff38 0 48px,#b7ff48 0 55px,#a7ff58 0 63px,#97ff68 0 70px,#87ff78 0 78px,#78ff87 0 86px,#68ff97 0 92px,#58ffa7 0 98px,#48ffb7 0 105px,#38ffc7 0 114px,#28ffd7 0 126px,#18ffe7 0 137px,#08fff7 0 149px,#00f7ff 0 164px,#00e7ff 0)"></i><i style="background:linear-gradient(#870000 0 12px,#970000 0 13px,#a70000 0 14px,#c70000 0 15px,#d70000 0 16px,#f70000 0 17px,#ff0800 0 18px,#ff2800 0 19px,#ff3800 0 20px,#ff5800 0 21px,#ff6800 0 22px,#ff7800 0 23px,#ff8700 0 24px,#ff9700 0 25px,#ffa700 0 26px,#ffb700 0 27px,#ffc700 0 28px,#ffd700 0 30px,#ffe700 0 32px,#fff700 0 34px,#f7ff08 0 37px,#e7ff18 0 40px,#d7ff28 0 45px,#c7ff38 0 50px,#b7ff48 0 57px,#a7ff58 0 64px,#97ff68 0 72px,#87ff78 0 80px,#78ff87 0 87px,#68ff97 0 94px,#58ffa7 0 100px,#48ffb7 0 106px,#38ffc7 0 116px,#28ffd7 0 127px,#18ffe7 0 138px,#08fff7 0 150px,#00f7ff 0 165px,#00e7ff 0)"></i><i style="background:linear-gradient(#870000 0 15px,#970000 0 16px,#b70000 0 17px,#c70000 0 18px,#e70000 0 19px,#f70000 0 20px,#ff0800 0 21px,#ff2800 0 22px,#ff4800 0 23px,#ff5800 0 24px,#ff7800 0 25px,#ff8700 0 26px,#ff9700 0 27px,#ffa700 0 28px,#ffb700 0 29px,#ffc700 0 30px,#ffd700 0 32px,#ffe700 0 34px,#fff700 0 37px,#f7ff08 0 39px,#e7ff18 0 43px,#d7ff28 0 47px,#c7ff38 0 52px,#b7ff48 0 59px,#a7ff58 0 67px,#97ff68 0 75px,#87ff78 0 83px,#78ff87 0 90px,#68ff97 0 96px,#58ffa7 0 102px,#48ffb7 0 109px,#38ffc7 0 118px,#28ffd7 0 129px,#18ffe7 0 141px,#08fff7 0 152px,#00f7ff 0 166px,#00e7ff 0)"></i><i style="background:linear-gradient(#870000 0 16px,#970000 0 17px,#a70000 0 18px,#c70000 0 19px,#d70000 0 20px,#f70000 0 21px,#ff0800 0 22px,#ff2800 0 23px,#ff3800 0 24px,#ff5800 0 25px,#ff6800 0 26px,#ff8700 0 27px,#ff9700 0 28px,#ffa700 0 29px,#ffb700 0 30px,#ffc700 0 32px,#ffd700 0 33px,#ffe700 0 35px,#fff700 0 38px,#f7ff08 0 40px,#e7ff18 0 44px,#d7ff28 0 48px,#c7ff38 0 53px,#b7ff48 0 61px,#a7ff58 0 68px,#97ff68 0 76px,#87ff78 0 84px,#78ff87 0 91px,#68ff97 0 97px,#58ffa7 0 103px,#48ffb7 0 110px,#38ffc7 0 119px,#28ffd7 0 130px,#18ffe7 0 141px,#08fff7 0 153px,#00f7ff 0 167px,#00e7ff 0)"></i><i style="background:linear-gradient(#870000 0 17px,#970000 0 18px,#a70000 0 19px,#c70000 0 20px,#d70000 0 21px,#f70000 0 22px,#ff0800 0 23px,#ff2800 0 24px,#ff3800 0 25px,#ff5800 0 26px,#ff6800 0 27px,#ff8700 0 28px,#ff9700 0 29px,#ffa700 0 30px,#ffb700 0 31px,#ffc700 0 33px,#ffd700 0 34px,#ffe700 0 36px,#fff700 0 39px,#f7ff08 0 41px,#e7ff18 0 45px,#d7ff28 0 49px,#c7ff38 0 54px,#b7ff48 0 62px,#a7ff58 0 69px,#97ff68 0 77px,#87ff78 0 85px,#78ff87 0 92px,#68ff97 0 98px,#58ffa7 0 104px,#48ffb7 0 111px,#38ffc7 0 119px,#28ffd7 0 131px,#18ffe7 0 142px,#08fff7 0 154px,#00f7ff 0 167px,#00e7ff 0)"></i><i style="background:linear-gradient(#870000 0 17px,#970000 0 18px,#a70000 0 19px,#c70000 0 20px,#d70000 0 21px,#f70000 0 22px,#ff0800 0 23px,#ff2800 0 24px,#ff3800 0 25px,#ff5800 0 26px,#ff7800 0 27px,#ff8700 0 28px,#ff9700 0 29px,#ffa700 0 30px,#ffb700 0 31px,#ffc700 0 32px,#ffd700 0 34px,#ffe700 0 36px,#fff700 0 38px,#f7ff08 0 41px,#e7ff18 0 44px,#d7ff28 0 49px,#c7ff38 0 54px,#b7ff48 0 62px,#a7ff58 0 69px,#97ff68 0 77px,#87ff78 0 85px,#78ff87 0 92px,#68ff97 0 98px,#58ffa7 0 104px,#48ffb7 0 110px,#38ffc7 0 119px,#28ffd7 0 130px,#18ffe7 0 142px,#08fff7 0 154px,#00f7ff 0 166px,#00e7ff 0)"></i><i style="background:linear-gradient(#870000 0 16px,#970000 0 17px,#b70000 0 18px,#c70000 0 19px,#d70000 0 20px,#f70000 0 21px,#ff0800 0 22px,#ff2800 0 23px,#ff4800 0 24px,#ff5800 0 25px,#ff7800 0 26px,#ff8700 0 27px,#ff9700 0 28px,#ffa700 0 29px,#ffb700 0 30px,#ffc700 0 31px,#ffd700 0 32px,#ffe700 0 35px,#fff700 0 37px,#f7ff08 0 39px,#e7ff18 0 43px,#d7ff28 0 48px,#c7ff38 0 53px,#b7ff48 0 60px,#a7ff58 0 68px,#97ff68 0 76px,#87ff78 0 84px,#78ff87 0 91px,#68ff97 0 97px,#58ffa7 0 103px,#48ffb7 0 109px,#38ffc7 0 118px,#28ffd7 0 129px,#18ffe7 0 140px,#08fff7 0 152px,#00f7ff 0 165px,#00e7ff 0)"></i><i style="background:linear-gradient(#870000 0 16px,#970000 0 17px,#a70000 0 18px,#c70000 0 19px,#d70000 0 20px,#f70000 0 21px,#ff0800 0 22px,#ff2800 0 23px,#ff3800 0 24px,#ff5800 0 25px,#ff6800 0 26px,#ff8700 0 27px,#ff9700 0 28px,#ffa700 0 29px,#ffb700 0 30px,#ffc700 0 31px,#ffd700 0 33px,#ffe700 0 35px,#fff700 0 37px,#f7ff08 0 40px,#e7ff18 0 43px,#d7ff28 0 48px,#c7ff38 0 53px,#b7ff48 0 60px,#a7ff58 0 68px,#97ff68 0 76px,#87ff78 0 84px,#78ff87 0 91px,#68ff97 0 97px,#58ffa7 0 103px,#48ffb7 0 109px,#38ffc7 0 117px,#28ffd7 0 129px,#18ffe7 0 140px,#08fff7 0 152px,#00f7ff 0 164px,#00e7ff 0)"></i><i style="background:linear-gradient(#870000 0 14px,#970000 0 15px,#b70000 0 16px,#c70000 0 17px,#d70000 0 18px,#f70000 0 19px,#ff0800 0 20px,#ff2800 0 21px,#ff4800 0 22px,#ff5800 0 23px,#ff7800 0 24px,#ff8700 0 25px,#ff9700 0 26px,#ffa700 0 27px,#ffb700 0 28px,#ffc700 0 29px,#ffd700 0 31px,#ffe700 0 33px,#fff700 0 35px,#f7ff08 0 37px,#e7ff18 0 41px,#d7ff28 0 46px,#c7ff38 0 51px,#b7ff48 0 58px,#a7ff58 0 66px,#97ff68 0 73px,#87ff78 0 81px,#78ff87 0 88px,#68ff97 0 94px,#58ffa7 0 100px,#48ffb7 0 106px,#38ffc7 0 115px,#28ffd7 0 126px,#18ffe7 0 137px,#08fff7 0 149px,#00f7ff 0 162px,#00e7ff 0)"></i><i style="background:linear-gradient(#870000 0 13px,#970000 0 14px,#a70000 0 15px,#c70000 0 16px,#d70000 0 17px,#f70000 0 18px,#ff0800 0 19px,#ff2800 0 20px,#ff3800 0 21px,#ff5800 0 22px,#ff6800 0 23px,#ff8700 0 24px,#ff9700 0 25px,#ffa700 0 26px,#ffb700 0 27px,#ffc700 0 28px,#ffd700 0 30px,#ffe700 0 32px,#fff700 0 34px,#f7ff08 0 37px,#e7ff18 0 40px,#d7ff28 0 45px,#c7ff38 0 50px,#b7ff48 0 57px,#a7ff58 0 65px,#97ff68 0 73px,#87ff78 0 80px,#78ff87 0 87px,#68ff97 0 93px,#58ffa7 0 99px,#48ffb7 0 105px,#38ffc7 0 114px,#28ffd7 0 125px,#18ffe7 0 136px,#08fff7 0 148px,#00f7ff 0 161px,#00e7ff 0)"></i><i style="background:linear-gradient(#870000 0 16px,#a70000 0 17px,#b70000 0 18px,#d70000 0 19px,#e70000 0 20px,#ff0800 0 21px,#ff1800 0 22px,#ff3800 0 23px,#ff4800 0 24px,#ff6800 0 25px,#ff7800 0 26px,#ff8700 0 27px,#ff9700 0 28px,#ffa700 0 29px,#ffb700 0 30px,#ffc700 0 31px,#ffd700 0 32px,#ffe700 0 34px,#fff700 0 37px,#f7ff08 0 39px,#e7ff18 0 42px,#d7ff28 0 47px,#c7ff38 0 52px,#b7ff48 0 59px,#a7ff58 0 67px,#97ff68 0 75px,#87ff78 0 82px,#78ff87 0 89px,#68ff97 0 95px,#58ffa7 0 101px,#48ffb7 0 107px,#38ffc7 0 116px,#28ffd7 0 127px,#18ffe7 0 138px,#08fff7 0 150px,#00f7ff 0 162px,#00e7ff 0)"></i><i style="background:linear-gradient(#870000 0 17px,#970000 0 18px,#a70000 0 19px,#c70000 0 20px,#d70000 0 21px,#f70000 0 22px,#ff0800 0 23px,#ff2800 0 24px,#ff3800 0 25px,#ff5800 0 26px,#ff6800 0 27px,#ff8700 0 28px,#ff9700 0 29px,#ffa700 0 30px,#ffb700 0 31px,#ffc700 0 32px,#ffd700 0 34px,#ffe700 0 36px,#fff700 0 38px,#f7ff08 0 41px,#e7ff18 0 44px,#d7ff28 0 49px,#c7ff38 0 54px,#b7ff48 0 61px,#a7ff58 0 68px,#97ff68 0 76px,#87ff78 0 84px,#78ff87 0 91px,#68ff97 0 97px,#58ffa7 0 103px,#48ffb7 0 108px,#38ffc7 0 117px,#28ffd7 0 128px,#18ffe7 0 139px,#08fff7 0 151px,#00f7ff 0 164px,#00e7ff 0)"></i><i style="background:linear-gradient(#870000 0 16px,#970000 0 17px,#a70000 0 18px,#c70000 0 19px,#d70000 0 20px,#e70000 0 21px,#ff0800 0 22px,#ff1800 0 23px,#ff3800 0 24px,#ff4800 0 25px,#ff6800 0 26px,#ff7800 0 27px,#ff8700 0 28px,#ff9700 0 29px,#ffa700 0 30px,#ffb700 0 31px,#ffd700 0 33px,#ffe700 0 35px,#fff700 0 37px,#f7ff08 0 40px,#e7ff18 0 43px,#d7ff28 0 48px,#c7ff38 0 53px,#b7ff48 0 60px,#a7ff58 0 67px,#97ff68 0 75px,#87ff78 0 83px,#78ff87 0 90px,#68ff97 0 96px,#58ffa7 0 101px,#48ffb7 0 107px,#38ffc7 0 116px,#28ffd7 0 127px,#18ffe7 0 138px,#08fff7 0 150px,#00f7ff 0 162px,#00e7ff 0)"></i><i style="background:linear-gradient(#870000 0 16px,#a70000 0 17px,#b70000 0 18px,#d70000 0 19px,#e70000 0 20px,#f70000 0 21px,#ff1800 0 22px,#ff2800 0 23px,#ff4800 0 24px,#ff5800 0 25px,#ff7800 0 26px,#ff8700 0 27px,#ff9700 0 28px,#ffa700 0 29px,#ffb700 0 30px,#ffc700 0 31px,#ffd700 0 32px,#ffe700 0 34px,#fff700 0 37px,#f7ff08 0 39px,#e7ff18 0 43px,#d7ff28 0 47px,#c7ff38 0 52px,#b7ff48 0 59px,#a7ff58 0 67px,#97ff68 0 74px,#87ff78 0 82px,#78ff87 0 89px,#68ff97 0 95px,#58ffa7 0 101px,#48ffb7 0 106px,#38ffc7 0 115px,#28ffd7 0 126px,#18ffe7 0 137px,#08fff7 0 149px,#00f7ff 0 161px,#00e7ff 0)"></i><i style="background:linear-gradient(#870000 0 18px,#970000 0 19px,#b70000 0 20px,#c70000 0 21px,#e70000 0 22px,#f70000 0 23px,#ff0800 0 24px,#ff2800 0 25px,#ff3800 0 26px,#ff5800 0 27px,#ff6800 0 28px,#ff8700 0 29px,#ff9700 0 30px,#ffa700 0 31px,#ffb700 0 32px,#ffc700 0 33px,#ffd700 0 34px,#ffe700 0 37px,#fff700 0 39px,#f7ff08 0 41px,#e7ff18 0 45px,#d7ff28 0 50px,#c7ff38 0 54px,#b7ff48 0 61px,#a7ff58 0 69px,#97ff68 0 76px,#87ff78 0 84px,#78ff87 0 91px,#68ff97 0 97px,#58ffa7 0 102px,#48ffb7 0 108px,#38ffc7 0 117px,#28ffd7 0 128px,#18ffe7 0 138px,#08fff7 0 151px,#00f7ff 0 163px,#00e7ff 0)"></i><i style="background:linear-gradient(#870000 0 16px,#970000 0 17px,#a70000 0 18px,#b70000 0 19px,#d70000 0 20px,#e70000 0 21px,#ff0800 0 22px,#ff1800 0 23px,#ff3800 0 24px,#ff4800 0 25px,#ff5800 0 26px,#ff7800 0 27px,#ff8700 0 28px,#ff9700 0 29px,#ffa700 0 30px,#ffb700 0 31px,#ffc700 0 32px,#ffd700 0 33px,#ffe700 0 35px,#fff700 0 38px,#f7ff08 0 40px,#e7ff18 0 43px,#d7ff28 0 48px,#c7ff38 0 53px,#b7ff48 0 60px,#a7ff58 0 67px,#97ff68 0 74px,#87ff78 0 82px,#78ff87 0 89px,#68ff97 0 95px,#58ffa7 0 101px,#48ffb7 0 107px,#38ffc7 0 115px,#28ffd7 0 126px,#18ffe7 0 137px,#08fff7 0 149px,#00f7ff 0 162px,#00e7ff 0)"></i><i style="background:linear-gradient(#870000 0 18px,#970000 0 19px,#b70000 0 20px,#c70000 0 21px,#d70000 0 22px,#f70000 0 23px,#ff0800 0 24px,#ff2800 0 25px,#ff3800 0 26px,#ff4800 0 27px,#ff6800 0 28px,#ff7800 0 29px,#ff8700 0 30px,#ffa700 0 31px,#ffb700 0 32px,#ffc700 0 33px,#ffd700 0 35px,#ffe700 0 37px,#fff700 0 39px,#f7ff08 0 42px,#e7ff18 0 45px,#d7ff28 0 50px,#c7ff38 0 54px,#b7ff48 0 61px,#a7ff58 0 68px,#97ff68 0 76px,#87ff78 0 84px,#78ff87 0 91px,#68ff97 0 96px,#58ffa7 0 102px,#48ffb7 0 108px,#38ffc7 0 116px,#28ffd7 0 127px,#18ffe7 0 138px,#08fff7 0 150px,#00f7ff 0 163px,#00e7ff 0)"></i><i style="background:linear-gradient(#870000 0 18px,#970000 0 19px,#a70000 0 20px,#c70000 0 21px,#d70000 0 22px,#f70000 0 23px,#ff0800 0 24px,#ff1800 0 25px,#ff3800 0 26px,#ff4800 0 27px,#ff6800 0 28px,#ff7800 0 29px,#ff8700 0 30px,#ff9700 0 31px,#ffa700 0 32px,#ffb700 0 33px,#ffd700 0 35px,#ffe700 0 37px,#fff700 0 39px,#f7ff08 0 42px,#e7ff18 0 45px,#d7ff28 0 50px,#c7ff38 0 54px,#b7ff48 0 61px,#a7ff58 0 68px,#97ff68 0 76px,#87ff78 0 84px,#78ff87 0 91px,#68ff97 0 96px,#58ffa7 0 102px,#48ffb7 0 108px,#38ffc7 0 116px,#28ffd7 0 127px,#18ffe7 0 137px,#08fff7 0 150px,#00f7ff 0 162px,#00e7ff 0)"></i><i style="background:linear-gradient(#870000 0 19px,#970000 0 20px,#b70000 0 21px,#c70000 0 22px,#e70000 0 23px,#f70000 0 24px,#ff0800 0 25px,#ff2800 0 26px,#ff3800 0 27px,#ff5800 0 28px,#ff6800 0 29px,#ff7800 0 30px,#ff9700 0 31px,#ffa700 0 32px,#ffb700 0 33px,#ffc700 0 34px,#ffd700 0 36px,#ffe700 0 38px,#fff700 0 40px,#f7ff08 0 43px,#e7ff18 0 46px,#d7ff28 0 50px,#c7ff38 0 55px,#b7ff48 0 62px,#a7ff58 0 69px,#97ff68 0 76px,#87ff78 0 84px,#78ff87 0 91px,#68ff97 0 97px,#58ffa7 0 102px,#48ffb7 0 108px,#38ffc7 0 116px,#28ffd7 0 127px,#18ffe7 0 138px,#08fff7 0 150px,#00f7ff 0 163px,#00e7ff 0)"></i><i style="background:linear-gradient(#870000 0 22px,#970000 0 23px,#b70000 0 24px,#c70000 0 25px,#e70000 0 26px,#f70000 0 27px,#ff0800 0 28px,#ff2800 0 29px,#ff3800 0 30px,#ff5800 0 31px,#ff6800 0 32px,#ff7800 0 33px,#ff9700 0 34px,#ffa700 0 35px,#ffb700 0 36px,#ffc700 0 37px,#ffd700 0 38px,#ffe700 0 41px,#fff700 0 43px,#f7ff08 0 45px,#e7ff18 0 49px,#d7ff28 0 53px,#c7ff38 0 58px,#b7ff48 0 65px,#a7ff58 0 72px,#97ff68 0 79px,#87ff78 0 87px,#78ff87 0 94px,#68ff97 0 99px,#58ffa7 0 105px,#48ffb7 0 111px,#38ffc7 0 119px,#28ffd7 0 130px,#18ffe7 0 140px,#08fff7 0 152px,#00f7ff 0 165px,#00e7ff 0)"></i><i style="background:linear-gradient(#870000 0 19px,#970000 0 20px,#a70000 0 21px,#b70000 0 22px,#d70000 0 23px,#e70000 0 24px,#f70000 0 25px,#ff1800 0 26px,#ff2800 0 27px,#ff4800 0 28px,#ff5800 0 29px,#ff7800 0 30px,#ff8700 0 31px,#ff9700 0 32px,#ffa700 0 33px,#ffb700 0 34px,#ffc700 0 35px,#ffd700 0 36px,#ffe700 0 38px,#fff700 0 41px,#f7ff08 0 43px,#e7ff18 0 46px,#d7ff28 0 51px,#c7ff38 0 55px,#b7ff48 0 62px,#a7ff58 0 69px,#97ff68 0 76px,#87ff78 0 84px,#78ff87 0 91px,#68ff97 0 97px,#58ffa7 0 102px,#48ffb7 0 108px,#38ffc7 0 116px,#28ffd7 0 127px,#18ffe7 0 137px,#08fff7 0 150px,#00f7ff 0 163px,#00e7ff 0)"></i><i style="background:linear-gradient(#870000 0 20px,#970000 0 21px,#a70000 0 22px,#c70000 0 23px,#d70000 0 24px,#e70000 0 25px,#ff0800 0 26px,#ff1800 0 27px,#ff2800 0 28px,#ff4800 0 29px,#ff5800 0 30px,#ff7800 0 31px,#ff8700 0 32px,#ff9700 0 33px,#ffa700 0 34px,#ffb700 0 35px,#ffc700 0 36px,#ffd700 0 37px,#ffe700 0 39px,#fff700 0 42px,#f7ff08 0 44px,#e7ff18 0 47px,#d7ff28 0 52px,#c7ff38 0 56px,#b7ff48 0 63px,#a7ff58 0 70px,#97ff68 0 77px,#87ff78 0 85px,#78ff87 0 92px,#68ff97 0 97px,#58ffa7 0 103px,#48ffb7 0 109px,#38ffc7 0 117px,#28ffd7 0 127px,#18ffe7 0 138px,#08fff7 0 150px,#00f7ff 0 163px,#00e7ff 0)"></i><i style="background:linear-gradient(#870000 0 20px,#970000 0 21px,#b70000 0 22px,#c70000 0 23px,#e70000 0 24px,#f70000 0 25px,#ff0800 0 26px,#ff2800 0 27px,#ff3800 0 28px,#ff4800 0 29px,#ff6800 0 30px,#ff7800 0 31px,#ff8700 0 32px,#ff9700 0 33px,#ffb700 0 34px,#ffc700 0 35px,#ffd700 0 37px,#ffe700 0 39px,#fff700 0 41px,#f7ff08 0 44px,#e7ff18 0 47px,#d7ff28 0 51px,#c7ff38 0 56px,#b7ff48 0 62px,#a7ff58 0 69px,#97ff68 0 76px,#87ff78 0 84px,#78ff87 0 91px,#68ff97 0 97px,#58ffa7 0 102px,#48ffb7 0 108px,#38ffc7 0 116px,#28ffd7 0 126px,#18ffe7 0 137px,#08fff7 0 149px,#00f7ff 0 162px,#00e7ff 0)"></i><i style="background:linear-gradient(#870000 0 20px,#970000 0 21px,#a70000 0 22px,#b70000 0 23px,#d70000 0 24px,#e70000 0 25px,#f70000 0 26px,#ff1800 0 27px,#ff2800 0 28px,#ff3800 0 29px,#ff5800 0 30px,#ff6800 0 31px,#ff8700 0 32px,#ff9700 0 33px,#ffa700 0 34px,#ffb700 0 35px,#ffc700 0 36px,#ffd700 0 37px,#ffe700 0 40px,#fff700 0 42px,#f7ff08 0 44px,#e7ff18 0 47px,#d7ff28 0 52px,#c7ff38 0 56px,#b7ff48 0 63px,#a7ff58 0 70px,#97ff68 0 77px,#87ff78 0 85px,#78ff87 0 92px,#68ff97 0 97px,#58ffa7 0 103px,#48ffb7 0 108px,#38ffc7 0 116px,#28ffd7 0 127px,#18ffe7 0 137px,#08fff7 0 149px,#00f7ff 0 162px,#00e7ff 0)"></i><i style="background:linear-gradient(#870000 0 20px,#a70000 0 21px,#b70000 0 22px,#c70000 0 23px,#e70000 0 24px,#f70000 0 25px,#ff1800 0 26px,#ff2800 0 27px,#ff3800 0 28px,#ff5800 0 29px,#ff6800 0 30px,#ff7800 0 31px,#ff9700 0 32px,#ffa700 0 33px,#ffb700 0 34px,#ffc700 0 35px,#ffd700 0 36px,#ffe700 0 39px,#fff700 0 41px,#f7ff08 0 43px,#e7ff18 0 46px,#d7ff28 0 51px,#c7ff38 0 55px,#b7ff48 0 62px,#a7ff58 0 69px,#97ff68 0 76px,#87ff78 0 83px,#78ff87 0 90px,#68ff97 0 96px,#58ffa7 0 102px,#48ffb7 0 107px,#38ffc7 0 115px,#28ffd7 0 125px,#18ffe7 0 136px,#08fff7 0 148px,#00f7ff 0 161px,#00e7ff 0)"></i><i style="background:linear-gradient(#870000 0 19px,#970000 0 20px,#a70000 0 21px,#c70000 0 22px,#d70000 0 23px,#e70000 0 24px,#ff0800 0 25px,#ff1800 0 26px,#ff2800 0 27px,#ff4800 0 28px,#ff5800 0 29px,#ff6800 0 30px,#ff8700 0 31px,#ff9700 0 32px,#ffa700 0 33px,#ffb700 0 34px,#ffc700 0 35px,#ffd700 0 36px,#ffe700 0 38px,#fff700 0 41px,#f7ff08 0 43px,#e7ff18 0 46px,#d7ff28 0 51px,#c7ff38 0 55px,#b7ff48 0 61px,#a7ff58 0 68px,#97ff68 0 75px,#87ff78 0 83px,#78ff87 0 90px,#68ff97 0 95px,#58ffa7 0 101px,#48ffb7 0 106px,#38ffc7 0 114px,#28ffd7 0 125px,#18ffe7 0 135px,#08fff7 0 147px,#00f7ff 0 160px,#00e7ff 0)"></i><i style="background:linear-gradient(#870000 0 19px,#a70000 0 20px,#b70000 0 21px,#c70000 0 22px,#e70000 0 23px,#f70000 0 24px,#ff0800 0 25px,#ff2800 0 26px,#ff3800 0 27px,#ff4800 0 28px,#ff6800 0 29px,#ff7800 0 30px,#ff8700 0 31px,#ff9700 0 32px,#ffb700 0 33px,#ffc700 0 34px,#ffd700 0 35px,#ffe700 0 38px,#fff700 0 40px,#f7ff08 0 42px,#e7ff18 0 46px,#d7ff28 0 50px,#c7ff38 0 54px,#b7ff48 0 61px,#a7ff58 0 67px,#97ff68 0 74px,#87ff78 0 82px,#78ff87 0 89px,#68ff97 0 95px,#58ffa7 0 100px,#48ffb7 0 106px,#38ffc7 0 114px,#28ffd7 0 124px,#18ffe7 0 134px,#08fff7 0 146px,#00f7ff 0 160px,#00e7ff 0)"></i><i style="background:linear-gradient(#870000 0 20px,#a70000 0 21px,#b70000 0 22px,#c70000 0 23px,#e70000 0 24px,#f70000 0 25px,#ff0800 0 26px,#ff2800 0 27px,#ff3800 0 28px,#ff4800 0 29px,#ff6800 0 30px,#ff7800 0 31px,#ff8700 0 32px,#ff9700 0 33px,#ffb700 0 34px,#ffc700 0 35px,#ffd700 0 36px,#ffe700 0 39px,#fff700 0 41px,#f7ff08 0 43px,#e7ff18 0 46px,#d7ff28 0 51px,#c7ff38 0 55px,#b7ff48 0 61px,#a7ff58 0 68px,#97ff68 0 75px,#87ff78 0 83px,#78ff87 0 90px,#68ff97 0 95px,#58ffa7 0 101px,#48ffb7 0 106px,#38ffc7 0 114px,#28ffd7 0 124px,#18ffe7 0 134px,#08fff7 0 147px,#00f7ff 0 160px,#00e7ff 0)"></i><i style="background:linear-gradient(#870000 0 21px,#970000 0 22px,#b70000 0 23px,#c70000 0 24px,#d70000 0 25px,#f70000 0 26px,#ff0800 0 27px,#ff1800 0 28px,#ff3800 0 29px,#ff4800 0 30px,#ff6800 0 31px,#ff7800 0 32px,#ff8700 0 33px,#ff9700 0 34px,#ffb700 0 35px,#ffc700 0 36px,#ffd700 0 37px,#ffe700 0 40px,#fff700 0 42px,#f7ff08 0 44px,#e7ff18 0 48px,#d7ff28 0 52px,#c7ff38 0 56px,#b7ff48 0 63px,#a7ff58 0 69px,#97ff68 0 76px,#87ff78 0 84px,#78ff87 0 91px,#68ff97 0 97px,#58ffa7 0 102px,#48ffb7 0 108px,#38ffc7 0 116px,#28ffd7 0 126px,#18ffe7 0 136px,#08fff7 0 148px,#00f7ff 0 161px,#00e7ff 0)"></i><i style="background:linear-gradient(#870000 0 21px,#a70000 0 22px,#b70000 0 23px,#d70000 0 24px,#e70000 0 25px,#ff0800 0 26px,#ff1800 0 27px,#ff3800 0 28px,#ff4800 0 29px,#ff5800 0 30px,#ff7800 0 31px,#ff8700 0 32px,#ff9700 0 33px,#ffb700 0 34px,#ffc700 0 35px,#ffd700 0 36px,#ffe700 0 39px,#fff700 0 41px,#f7ff08 0 43px,#e7ff18 0 47px,#d7ff28 0 51px,#c7ff38 0 56px,#b7ff48 0 62px,#a7ff58 0 69px,#97ff68 0 75px,#87ff78 0 83px,#78ff87 0 90px,#68ff97 0 96px,#58ffa7 0 102px,#48ffb7 0 107px,#38ffc7 0 115px,#28ffd7 0 125px,#18ffe7 0 136px,#08fff7 0 148px,#00f7ff 0 161px,#00e7ff 0)"></i><i style="background:linear-gradient(#870000 0 19px,#970000 0 20px,#b70000 0 21px,#c70000 0 22px,#e70000 0 23px,#f70000 0 24px,#ff1800 0 25px,#ff2800 0 26px,#ff4800 0 27px,#ff5800 0 28px,#ff7800 0 29px,#ff8700 0 30px,#ff9700 0 31px,#ffb700 0 32px,#ffc700 0 33px,#ffd700 0 34px,#ffe700 0 37px,#fff700 0 39px,#f7ff08 0 41px,#e7ff18 0 45px,#d7ff28 0 49px,#c7ff38 0 54px,#b7ff48 0 60px,#a7ff58 0 67px,#97ff68 0 73px,#87ff78 0 81px,#78ff87 0 88px,#68ff97 0 94px,#58ffa7 0 100px,#48ffb7 0 106px,#38ffc7 0 114px,#28ffd7 0 124px,#18ffe7 0 134px,#08fff7 0 147px,#00f7ff 0 160px,#00e7ff 0)"></i><i style="background:linear-gradient(#870000 0 17px,#970000 0 18px,#b70000 0 19px,#d70000 0 20px,#e70000 0 21px,#ff0800 0 22px,#ff2800 0 23px,#ff3800 0 24px,#ff5800 0 25px,#ff7800 0 26px,#ff8700 0 27px,#ff9700 0 28px,#ffa700 0 29px,#ffb700 0 30px,#ffd700 0 32px,#ffe700 0 34px,#fff700 0 36px,#f7ff08 0 39px,#e7ff18 0 42px,#d7ff28 0 47px,#c7ff38 0 52px,#b7ff48 0 58px,#a7ff58 0 64px,#97ff68 0 71px,#87ff78 0 78px,#78ff87 0 86px,#68ff97 0 92px,#58ffa7 0 98px,#48ffb7 0 104px,#38ffc7 0 112px,#28ffd7 0 122px,#18ffe7 0 132px,#08fff7 0 144px,#00f7ff 0 158px,#00e7ff 0)"></i><i style="background:linear-gradient(#870000 0 16px,#970000 0 17px,#b70000 0 18px,#d70000 0 19px,#e70000 0 20px,#ff0800 0 21px,#ff2800 0 22px,#ff4800 0 23px,#ff6800 0 24px,#ff7800 0 25px,#ff9700 0 26px,#ffa700 0 27px,#ffb700 0 28px,#ffc700 0 29px,#ffd700 0 30px,#ffe700 0 32px,#fff700 0 35px,#f7ff08 0 37px,#e7ff18 0 41px,#d7ff28 0 46px,#c7ff38 0 51px,#b7ff48 0 57px,#a7ff58 0 63px,#97ff68 0 70px,#87ff78 0 77px,#78ff87 0 84px,#68ff97 0 90px,#58ffa7 0 97px,#48ffb7 0 103px,#38ffc7 0 111px,#28ffd7 0 121px,#18ffe7 0 131px,#08fff7 0 144px,#00f7ff 0 157px,#00e7ff 0)"></i><i style="background:linear-gradient(#870000 0 17px,#970000 0 18px,#b70000 0 19px,#d70000 0 20px,#f70000 0 21px,#ff1800 0 22px,#ff3800 0 23px,#ff5800 0 24px,#ff7800 0 25px,#ff8700 0 26px,#ff9700 0 27px,#ffb700 0 28px,#ffc700 0 29px,#ffd700 0 30px,#ffe700 0 33px,#fff700 0 35px,#f7ff08 0 37px,#e7ff18 0 41px,#d7ff28 0 46px,#c7ff38 0 51px,#b7ff48 0 57px,#a7ff58 0 64px,#97ff68 0 70px,#87ff78 0 77px,#78ff87 0 85px,#68ff97 0 91px,#58ffa7 0 97px,#48ffb7 0 103px,#38ffc7 0 112px,#28ffd7 0 122px,#18ffe7 0 132px,#08fff7 0 144px,#00f7ff 0 158px,#00e7ff 0)"></i><i style="background:linear-gradient(#870000 0 18px,#a70000 0 19px,#c70000 0 20px,#e70000 0 21px,#ff0800 0 22px,#ff3800 0 23px,#ff5800 0 24px,#ff7800 0 25px,#ff8700 0 26px,#ff9700 0 27px,#ffa700 0 28px,#ffc700 0 29px,#ffd700 0 30px,#ffe700 0 33px,#fff700 0 35px,#f7ff08 0 37px,#e7ff18 0 41px,#d7ff28 0 46px,#c7ff38 0 52px,#b7ff48 0 58px,#a7ff58 0 64px,#97ff68 0 70px,#87ff78 0 78px,#78ff87 0 85px,#68ff97 0 91px,#58ffa7 0 98px,#48ffb7 0 104px,#38ffc7 0 112px,#28ffd7 0 123px,#18ffe7 0 133px,#08fff7 0 145px,#00f7ff 0 158px,#00e7ff 0)"></i><i style="background:linear-gradient(#870000 0 16px,#a70000 0 17px,#c70000 0 18px,#e70000 0 19px,#ff0800 0 20px,#ff3800 0 21px,#ff5800 0 22px,#ff7800 0 23px,#ff8700 0 24px,#ffa700 0 25px,#ffb700 0 26px,#ffc700 0 27px,#ffd700 0 28px,#ffe700 0 31px,#fff700 0 33px,#f7ff08 0 35px,#e7ff18 0 39px,#d7ff28 0 44px,#c7ff38 0 50px,#b7ff48 0 56px,#a7ff58 0 62px,#97ff68 0 68px,#87ff78 0 75px,#78ff87 0 83px,#68ff97 0 89px,#58ffa7 0 96px,#48ffb7 0 102px,#38ffc7 0 111px,#28ffd7 0 121px,#18ffe7 0 131px,#08fff7 0 144px,#00f7ff 0 157px,#00e7ff 0)"></i><i style="background:linear-gradient(#870000 0 17px,#970000 0 18px,#c70000 0 19px,#e70000 0 20px,#ff0800 0 21px,#ff3800 0 22px,#ff5800 0 23px,#ff7800 0 24px,#ff9700 0 25px,#ffa700 0 26px,#ffb700 0 27px,#ffc700 0 28px,#ffd700 0 29px,#ffe700 0 31px,#fff700 0 34px,#f7ff08 0 36px,#e7ff18 0 40px,#d7ff28 0 45px,#c7ff38 0 51px,#b7ff48 0 57px,#a7ff58 0 63px,#97ff68 0 69px,#87ff78 0 76px,#78ff87 0 83px,#68ff97 0 90px,#58ffa7 0 97px,#48ffb7 0 104px,#38ffc7 0 112px,#28ffd7 0 122px,#18ffe7 0 132px,#08fff7 0 145px,#00f7ff 0 158px,#00e7ff 0)"></i><i style="background:linear-gradient(#870000 0 14px,#970000 0 15px,#c70000 0 16px,#e70000 0 17px,#ff1800 0 18px,#ff4800 0 19px,#ff6800 0 20px,#ff8700 0 21px,#ff9700 0 22px,#ffa700 0 23px,#ffc700 0 24px,#ffd700 0 26px,#ffe700 0 28px,#fff700 0 30px,#f7ff08 0 33px,#e7ff18 0 36px,#d7ff28 0 42px,#c7ff38 0 48px,#b7ff48 0 54px,#a7ff58 0 60px,#97ff68 0 66px,#87ff78 0 73px,#78ff87 0 80px,#68ff97 0 87px,#58ffa7 0 94px,#48ffb7 0 101px,#38ffc7 0 109px,#28ffd7 0 119px,#18ffe7 0 130px,#08fff7 0 142px,#00f7ff 0 155px,#00e7ff 0)"></i><i style="background:linear-gradient(#870000 0 13px,#970000 0 14px,#b70000 0 15px,#e70000 0 16px,#ff0800 0 17px,#ff3800 0 18px,#ff6800 0 19px,#ff8700 0 20px,#ff9700 0 21px,#ffa700 0 22px,#ffb700 0 23px,#ffc700 0 24px,#ffd700 0 25px,#ffe700 0 27px,#fff700 0 29px,#f7ff08 0 32px,#e7ff18 0 35px,#d7ff28 0 41px,#c7ff38 0 47px,#b7ff48 0 53px,#a7ff58 0 59px,#97ff68 0 65px,#87ff78 0 72px,#78ff87 0 79px,#68ff97 0 86px,#58ffa7 0 93px,#48ffb7 0 100px,#38ffc7 0 108px,#28ffd7 0 119px,#18ffe7 0 129px,#08fff7 0 141px,#00f7ff 0 155px,#00e7ff 0)"></i><i style="background:linear-gradient(#870000 0 13px,#970000 0 14px,#c70000 0 15px,#e70000 0 16px,#ff1800 0 17px,#ff3800 0 18px,#ff6800 0 19px,#ff8700 0 20px,#ff9700 0 21px,#ffa700 0 22px,#ffb700 0 23px,#ffd700 0 25px,#ffe700 0 27px,#fff700 0 29px,#f7ff08 0 32px,#e7ff18 0 35px,#d7ff28 0 41px,#c7ff38 0 47px,#b7ff48 0 53px,#a7ff58 0 59px,#97ff68 0 65px,#87ff78 0 72px,#78ff87 0 79px,#68ff97 0 86px,#58ffa7 0 93px,#48ffb7 0 100px,#38ffc7 0 108px,#28ffd7 0 118px,#18ffe7 0 129px,#08fff7 0 141px,#00f7ff 0 155px,#00e7ff 0)"></i><i style="background:linear-gradient(#870000 0 14px,#a70000 0 15px,#d70000 0 16px,#f70000 0 17px,#ff2800 0 18px,#ff4800 0 19px,#ff7800 0 20px,#ff8700 0 21px,#ffa700 0 22px,#ffb700 0 23px,#ffc700 0 24px,#ffd700 0 25px,#ffe700 0 28px,#fff700 0 30px,#f7ff08 0 32px,#e7ff18 0 36px,#d7ff28 0 42px,#c7ff38 0 47px,#b7ff48 0 53px,#a7ff58 0 59px,#97ff68 0 65px,#87ff78 0 72px,#78ff87 0 79px,#68ff97 0 86px,#58ffa7 0 93px,#48ffb7 0 100px,#38ffc7 0 109px,#28ffd7 0 119px,#18ffe7 0 129px,#08fff7 0 142px,#00f7ff 0 155px,#00e7ff 0)"></i><i style="background:linear-gradient(#870000 0 14px,#970000 0 15px,#c70000 0 16px,#e70000 0 17px,#ff1800 0 18px,#ff3800 0 19px,#ff6800 0 20px,#ff8700 0 21px,#ff9700 0 22px,#ffa700 0 23px,#ffb700 0 24px,#ffd700 0 26px,#ffe700 0 28px,#fff700 0 30px,#f7ff08 0 32px,#e7ff18 0 36px,#d7ff28 0 42px,#c7ff38 0 48px,#b7ff48 0 53px,#a7ff58 0 59px,#97ff68 0 65px,#87ff78 0 72px,#78ff87 0 80px,#68ff97 0 87px,#58ffa7 0 93px,#48ffb7 0 100px,#38ffc7 0 109px,#28ffd7 0 119px,#18ffe7 0 129px,#08fff7 0 142px,#00f7ff 0 156px,#00e7ff 0)"></i><i style="background:linear-gradient(#870000 0 14px,#a70000 0 15px,#d70000 0 16px,#f70000 0 17px,#ff2800 0 18px,#ff4800 0 19px,#ff7800 0 20px,#ff8700 0 21px,#ffa700 0 22px,#ffb700 0 23px,#ffc700 0 24px,#ffd700 0 25px,#ffe700 0 28px,#fff700 0 30px,#f7ff08 0 32px,#e7ff18 0 36px,#d7ff28 0 41px,#c7ff38 0 47px,#b7ff48 0 53px,#a7ff58 0 59px,#97ff68 0 65px,#87ff78 0 72px,#78ff87 0 79px,#68ff97 0 86px,#58ffa7 0 93px,#48ffb7 0 100px,#38ffc7 0 109px,#28ffd7 0 119px,#18ffe7 0 129px,#08fff7 0 142px,#00f7ff 0 156px,#00e7ff 0)"></i><i style="background:linear-gradient(#870000 0 13px,#970000 0 14px,#b70000 0 15px,#e70000 0 16px,#ff1800 0 17px,#ff3800 0 18px,#ff6800 0 19px,#ff8700 0 20px,#ff9700 0 21px,#ffa700 0 22px,#ffb700 0 23px,#ffc700 0 24px,#ffd700 0 25px,#ffe700 0 27px,#fff700 0 29px,#f7ff08 0 31px,#e7ff18 0 35px,#d7ff28 0 41px,#c7ff38 0 46px,#b7ff48 0 52px,#a7ff58 0 58px,#97ff68 0 64px,#87ff78 0 71px,#78ff87 0 78px,#68ff97 0 85px,#58ffa7 0 92px,#48ffb7 0 99px,#38ffc7 0 108px,#28ffd7 0 118px,#18ffe7 0 128px,#08fff7 0 141px,#00f7ff 0 155px,#00e7ff 0)"></i><i style="background:linear-gradient(#870000 0 13px,#a70000 0 14px,#d70000 0 15px,#f70000 0 16px,#ff2800 0 17px,#ff4800 0 18px,#ff7800 0 19px,#ff8700 0 20px,#ffa700 0 21px,#ffb700 0 22px,#ffc700 0 23px,#ffd700 0 24px,#ffe700 0 26px,#fff700 0 29px,#f7ff08 0 31px,#e7ff18 0 35px,#d7ff28 0 40px,#c7ff38 0 46px,#b7ff48 0 52px,#a7ff58 0 58px,#97ff68 0 64px,#87ff78 0 71px,#78ff87 0 78px,#68ff97 0 85px,#58ffa7 0 92px,#48ffb7 0 99px,#38ffc7 0 108px,#28ffd7 0 118px,#18ffe7 0 128px,#08fff7 0 141px,#00f7ff 0 155px,#00e7ff 0)"></i><i style="background:linear-gradient(#870000 0 11px,#a70000 0 12px,#d70000 0 13px,#f70000 0 14px,#ff2800 0 15px,#ff4800 0 16px,#ff7800 0 17px,#ff8700 0 18px,#ff9700 0 19px,#ffb700 0 20px,#ffc700 0 21px,#ffd700 0 22px,#ffe700 0 25px,#fff700 0 27px,#f7ff08 0 29px,#e7ff18 0 32px,#d7ff28 0 38px,#c7ff38 0 44px,#b7ff48 0 50px,#a7ff58 0 55px,#97ff68 0 62px,#87ff78 0 69px,#78ff87 0 76px,#68ff97 0 83px,#58ffa7 0 90px,#48ffb7 0 97px,#38ffc7 0 106px,#28ffd7 0 116px,#18ffe7 0 126px,#08fff7 0 139px,#00f7ff 0 153px,#00e7ff 0)"></i><i style="background:linear-gradient(#870000 0 10px,#970000 0 11px,#b70000 0 12px,#e70000 0 13px,#ff0800 0 14px,#ff3800 0 15px,#ff5800 0 16px,#ff7800 0 17px,#ff9700 0 18px,#ffa700 0 19px,#ffb700 0 20px,#ffc700 0 21px,#ffd700 0 22px,#ffe700 0 24px,#fff700 0 26px,#f7ff08 0 28px,#e7ff18 0 32px,#d7ff28 0 38px,#c7ff38 0 43px,#b7ff48 0 49px,#a7ff58 0 55px,#97ff68 0 61px,#87ff78 0 68px,#78ff87 0 75px,#68ff97 0 82px,#58ffa7 0 89px,#48ffb7 0 96px,#38ffc7 0 105px,#28ffd7 0 115px,#18ffe7 0 125px,#08fff7 0 138px,#00f7ff 0 152px,#00e7ff 0)"></i><i style="background:linear-gradient(#870000 0 12px,#970000 0 13px,#b70000 0 14px,#e70000 0 15px,#ff0800 0 16px,#ff3800 0 17px,#ff5800 0 18px,#ff7800 0 19px,#ff9700 0 20px,#ffa700 0 21px,#ffb700 0 22px,#ffc700 0 23px,#ffd700 0 24px,#ffe700 0 26px,#fff700 0 28px,#f7ff08 0 30px,#e7ff18 0 34px,#d7ff28 0 40px,#c7ff38 0 45px,#b7ff48 0 51px,#a7ff58 0 57px,#97ff68 0 63px,#87ff78 0 70px,#78ff87 0 77px,#68ff97 0 84px,#58ffa7 0 91px,#48ffb7 0 98px,#38ffc7 0 107px,#28ffd7 0 117px,#18ffe7 0 127px,#08fff7 0 140px,#00f7ff 0 155px,#00e7ff 0)"></i><i style="background:linear-gradient(#870000 0 11px,#a70000 0 12px,#d70000 0 13px,#ff0800 0 14px,#ff2800 0 15px,#ff4800 0 16px,#ff7800 0 17px,#ff8700 0 18px,#ffa700 0 19px,#ffb700 0 20px,#ffc700 0 21px,#ffd700 0 22px,#ffe700 0 24px,#fff700 0 27px,#f7ff08 0 29px,#e7ff18 0 32px,#d7ff28 0 38px,#c7ff38 0 43px,#b7ff48 0 49px,#a7ff58 0 55px,#97ff68 0 61px,#87ff78 0 68px,#78ff87 0 75px,#68ff97 0 82px,#58ffa7 0 89px,#48ffb7 0 97px,#38ffc7 0 105px,#28ffd7 0 115px,#18ffe7 0 126px,#08fff7 0 139px,#00f7ff 0 153px,#00e7ff 0)"></i><i style="background:linear-gradient(#870000 0 11px,#970000 0 12px,#c70000 0 13px,#e70000 0 14px,#ff1800 0 15px,#ff3800 0 16px,#ff5800 0 17px,#ff8700 0 18px,#ff9700 0 19px,#ffa700 0 20px,#ffb700 0 21px,#ffc700 0 22px,#ffd700 0 23px,#ffe700 0 25px,#fff700 0 27px,#f7ff08 0 29px,#e7ff18 0 33px,#d7ff28 0 38px,#c7ff38 0 44px,#b7ff48 0 50px,#a7ff58 0 55px,#97ff68 0 62px,#87ff78 0 69px,#78ff87 0 76px,#68ff97 0 83px,#58ffa7 0 90px,#48ffb7 0 97px,#38ffc7 0 106px,#28ffd7 0 116px,#18ffe7 0 126px,#08fff7 0 139px,#00f7ff 0 154px,#00e7ff 0)"></i><i style="background:linear-gradient(#870000 0 11px,#970000 0 12px,#b70000 0 13px,#e70000 0 14px,#ff0800 0 15px,#ff3800 0 16px,#ff5800 0 17px,#ff7800 0 18px,#ff9700 0 19px,#ffa700 0 20px,#ffb700 0 21px,#ffc700 0 22px,#ffd700 0 23px,#ffe700 0 25px,#fff700 0 27px,#f7ff08 0 29px,#e7ff18 0 33px,#d7ff28 0 38px,#c7ff38 0 44px,#b7ff48 0 50px,#a7ff58 0 55px,#97ff68 0 62px,#87ff78 0 69px,#78ff87 0 76px,#68ff97 0 83px,#58ffa7 0 90px,#48ffb7 0 97px,#38ffc7 0 106px,#28ffd7 0 116px,#18ffe7 0 126px,#08fff7 0 140px,#00f7ff 0 154px,#00e7ff 0)"></i><i style="background:linear-gradient(#870000 0 11px,#970000 0 12px,#b70000 0 13px,#e70000 0 14px,#ff0800 0 15px,#ff2800 0 16px,#ff5800 0 17px,#ff7800 0 18px,#ff8700 0 19px,#ffa700 0 20px,#ffb700 0 21px,#ffc700 0 22px,#ffd700 0 23px,#ffe700 0 25px,#fff700 0 27px,#f7ff08 0 29px,#e7ff18 0 33px,#d7ff28 0 38px,#c7ff38 0 44px,#b7ff48 0 50px,#a7ff58 0 55px,#97ff68 0 62px,#87ff78 0 69px,#78ff87 0 76px,#68ff97 0 83px,#58ffa7 0 90px,#48ffb7 0 97px,#38ffc7 0 106px,#28ffd7 0 116px,#18ffe7 0 126px,#08fff7 0 140px,#00f7ff 0 154px,#00e7ff 0)"></i><i style="background:linear-gradient(#870000 0 12px,#970000 0 13px,#b70000 0 14px,#e70000 0 15px,#ff0800 0 16px,#ff3800 0 17px,#ff5800 0 18px,#ff7800 0 19px,#ff9700 0 20px,#ffa700 0 21px,#ffb700 0 22px,#ffc700 0 23px,#ffd700 0 24px,#ffe700 0 26px,#fff700 0 28px,#f7ff08 0 30px,#e7ff18 0 34px,#d7ff28 0 39px,#c7ff38 0 44px,#b7ff48 0 50px,#a7ff58 0 56px,#97ff68 0 62px,#87ff78 0 69px,#78ff87 0 76px,#68ff97 0 83px,#58ffa7 0 90px,#48ffb7 0 98px,#38ffc7 0 106px,#28ffd7 0 117px,#18ffe7 0 127px,#08fff7 0 140px,#00f7ff 0 154px,#00e7ff 0)"></i><i style="background:linear-gradient(#870000 0 13px,#a70000 0 14px,#c70000 0 15px,#f70000 0 16px,#ff1800 0 17px,#ff4800 0 18px,#ff6800 0 19px,#ff8700 0 20px,#ff9700 0 21px,#ffa700 0 22px,#ffb700 0 23px,#ffd700 0 25px,#ffe700 0 27px,#fff700 0 29px,#f7ff08 0 31px,#e7ff18 0 34px,#d7ff28 0 40px,#c7ff38 0 45px,#b7ff48 0 51px,#a7ff58 0 56px,#97ff68 0 63px,#87ff78 0 70px,#78ff87 0 76px,#68ff97 0 84px,#58ffa7 0 91px,#48ffb7 0 98px,#38ffc7 0 107px,#28ffd7 0 117px,#18ffe7 0 127px,#08fff7 0 140px,#00f7ff 0 155px,#00e7ff 0)"></i><i style="background:linear-gradient(#870000 0 12px,#a70000 0 13px,#c70000 0 14px,#e70000 0 15px,#ff1800 0 16px,#ff3800 0 17px,#ff5800 0 18px,#ff7800 0 19px,#ff9700 0 20px,#ffa700 0 21px,#ffb700 0 22px,#ffc700 0 23px,#ffd700 0 24px,#ffe700 0 26px,#fff700 0 28px,#f7ff08 0 30px,#e7ff18 0 33px,#d7ff28 0 39px,#c7ff38 0 44px,#b7ff48 0 50px,#a7ff58 0 55px,#97ff68 0 62px,#87ff78 0 68px,#78ff87 0 75px,#68ff97 0 83px,#58ffa7 0 90px,#48ffb7 0 97px,#38ffc7 0 106px,#28ffd7 0 116px,#18ffe7 0 126px,#08fff7 0 139px,#00f7ff 0 153px,#00e7ff 0)"></i><i style="background:linear-gradient(#870000 0 10px,#a70000 0 11px,#c70000 0 12px,#e70000 0 13px,#ff1800 0 14px,#ff3800 0 15px,#ff5800 0 16px,#ff8700 0 17px,#ff9700 0 18px,#ffa700 0 19px,#ffb700 0 20px,#ffc700 0 21px,#ffd700 0 22px,#ffe700 0 24px,#fff700 0 26px,#f7ff08 0 28px,#e7ff18 0 31px,#d7ff28 0 37px,#c7ff38 0 42px,#b7ff48 0 48px,#a7ff58 0 53px,#97ff68 0 59px,#87ff78 0 66px,#78ff87 0 73px,#68ff97 0 80px,#58ffa7 0 87px,#48ffb7 0 95px,#38ffc7 0 103px,#28ffd7 0 113px,#18ffe7 0 123px,#08fff7 0 137px,#00f7ff 0 151px,#00e7ff 0 184px,#00d7ff 0)"></i><i style="background:linear-gradient(#870000 0 9px,#a70000 0 10px,#c70000 0 11px,#e70000 0 12px,#ff1800 0 13px,#ff3800 0 14px,#ff5800 0 15px,#ff7800 0 16px,#ff9700 0 17px,#ffa700 0 18px,#ffb700 0 19px,#ffc700 0 20px,#ffd700 0 21px,#ffe700 0 23px,#fff700 0 25px,#f7ff08 0 27px,#e7ff18 0 30px,#d7ff28 0 36px,#c7ff38 0 41px,#b7ff48 0 46px,#a7ff58 0 52px,#97ff68 0 58px,#87ff78 0 65px,#78ff87 0 72px,#68ff97 0 79px,#58ffa7 0 86px,#48ffb7 0 93px,#38ffc7 0 102px,#28ffd7 0 112px,#18ffe7 0 122px,#08fff7 0 135px,#00f7ff 0 149px,#00e7ff 0 181px,#00d7ff 0)"></i><i style="background:linear-gradient(#870000 0 12px,#a70000 0 13px,#c70000 0 14px,#e70000 0 15px,#ff0800 0 16px,#ff2800 0 17px,#ff4800 0 18px,#ff7800 0 19px,#ff8700 0 20px,#ffa700 0 21px,#ffb700 0 22px,#ffc700 0 23px,#ffd700 0 24px,#ffe700 0 26px,#fff700 0 28px,#f7ff08 0 30px,#e7ff18 0 34px,#d7ff28 0 39px,#c7ff38 0 44px,#b7ff48 0 49px,#a7ff58 0 55px,#97ff68 0 61px,#87ff78 0 68px,#78ff87 0 75px,#68ff97 0 82px,#58ffa7 0 89px,#48ffb7 0 96px,#38ffc7 0 105px,#28ffd7 0 115px,#18ffe7 0 125px,#08fff7 0 138px,#00f7ff 0 152px,#00e7ff 0 184px,#00d7ff 0)"></i><i style="background:linear-gradient(#870000 0 10px,#970000 0 11px,#b70000 0 12px,#d70000 0 13px,#f70000 0 14px,#ff1800 0 15px,#ff3800 0 16px,#ff6800 0 17px,#ff8700 0 18px,#ff9700 0 19px,#ffa700 0 20px,#ffc700 0 21px,#ffd700 0 22px,#ffe700 0 24px,#fff700 0 27px,#f7ff08 0 29px,#e7ff18 0 32px,#d7ff28 0 37px,#c7ff38 0 42px,#b7ff48 0 48px,#a7ff58 0 53px,#97ff68 0 59px,#87ff78 0 66px,#78ff87 0 73px,#68ff97 0 80px,#58ffa7 0 87px,#48ffb7 0 94px,#38ffc7 0 103px,#28ffd7 0 113px,#18ffe7 0 123px,#08fff7 0 136px,#00f7ff 0 150px,#00e7ff 0 181px,#00d7ff 0)"></i><i style="background:linear-gradient(#870000 0 9px,#a70000 0 10px,#c70000 0 11px,#e70000 0 12px,#ff0800 0 13px,#ff2800 0 14px,#ff5800 0 15px,#ff7800 0 16px,#ff9700 0 17px,#ffa700 0 18px,#ffb700 0 19px,#ffc700 0 20px,#ffd700 0 21px,#ffe700 0 23px,#fff700 0 25px,#f7ff08 0 27px,#e7ff18 0 30px,#d7ff28 0 35px,#c7ff38 0 41px,#b7ff48 0 46px,#a7ff58 0 51px,#97ff68 0 57px,#87ff78 0 64px,#78ff87 0 71px,#68ff97 0 78px,#58ffa7 0 85px,#48ffb7 0 92px,#38ffc7 0 101px,#28ffd7 0 111px,#18ffe7 0 121px,#08fff7 0 134px,#00f7ff 0 148px,#00e7ff 0 178px,#00d7ff 0)"></i><i style="background:linear-gradient(#870000 0 9px,#970000 0 10px,#b70000 0 11px,#d70000 0 12px,#f70000 0 13px,#ff1800 0 14px,#ff3800 0 15px,#ff5800 0 16px,#ff7800 0 17px,#ff9700 0 18px,#ffa700 0 19px,#ffb700 0 20px,#ffd700 0 21px,#ffe700 0 24px,#fff700 0 26px,#f7ff08 0 28px,#e7ff18 0 31px,#d7ff28 0 36px,#c7ff38 0 41px,#b7ff48 0 47px,#a7ff58 0 52px,#97ff68 0 58px,#87ff78 0 65px,#78ff87 0 71px,#68ff97 0 79px,#58ffa7 0 86px,#48ffb7 0 93px,#38ffc7 0 102px,#28ffd7 0 112px,#18ffe7 0 121px,#08fff7 0 135px,#00f7ff 0 149px,#00e7ff 0 178px,#00d7ff 0)"></i><i style="background:linear-gradient(#870000 0 7px,#970000 0 8px,#b70000 0 9px,#d70000 0 10px,#f70000 0 11px,#ff1800 0 12px,#ff3800 0 13px,#ff5800 0 14px,#ff7800 0 15px,#ff9700 0 16px,#ffa700 0 17px,#ffb700 0 18px,#ffd700 0 19px,#ffe700 0 22px,#fff700 0 24px,#f7ff08 0 26px,#e7ff18 0 29px,#d7ff28 0 34px,#c7ff38 0 39px,#b7ff48 0 44px,#a7ff58 0 50px,#97ff68 0 56px,#87ff78 0 62px,#78ff87 0 69px,#68ff97 0 76px,#58ffa7 0 83px,#48ffb7 0 91px,#38ffc7 0 99px,#28ffd7 0 109px,#18ffe7 0 119px,#08fff7 0 132px,#00f7ff 0 146px,#00e7ff 0 175px,#00d7ff 0)"></i><i style="background:linear-gradient(#870000 0 9px,#970000 0 10px,#b70000 0 11px,#d70000 0 12px,#e70000 0 13px,#ff0800 0 14px,#ff3800 0 15px,#ff5800 0 16px,#ff7800 0 17px,#ff9700 0 18px,#ffa700 0 19px,#ffb700 0 20px,#ffd700 0 22px,#ffe700 0 24px,#fff700 0 26px,#f7ff08 0 28px,#e7ff18 0 31px,#d7ff28 0 36px,#c7ff38 0 41px,#b7ff48 0 46px,#a7ff58 0 52px,#97ff68 0 57px,#87ff78 0 64px,#78ff87 0 71px,#68ff97 0 78px,#58ffa7 0 85px,#48ffb7 0 92px,#38ffc7 0 101px,#28ffd7 0 111px,#18ffe7 0 121px,#08fff7 0 134px,#00f7ff 0 148px,#00e7ff 0 176px,#00d7ff 0)"></i><i style="background:linear-gradient(#870000 0 8px,#970000 0 9px,#b70000 0 10px,#d70000 0 11px,#e70000 0 12px,#ff0800 0 13px,#ff2800 0 14px,#ff5800 0 15px,#ff7800 0 16px,#ff9700 0 17px,#ffa700 0 18px,#ffb700 0 19px,#ffd700 0 21px,#ffe700 0 23px,#fff700 0 25px,#f7ff08 0 27px,#e7ff18 0 30px,#d7ff28 0 35px,#c7ff38 0 40px,#b7ff48 0 45px,#a7ff58 0 50px,#97ff68 0 56px,#87ff78 0 63px,#78ff87 0 70px,#68ff97 0 77px,#58ffa7 0 84px,#48ffb7 0 91px,#38ffc7 0 100px,#28ffd7 0 110px,#18ffe7 0 120px,#08fff7 0 133px,#00f7ff 0 146px,#00e7ff 0 174px,#00d7ff 0)"></i><i style="background:linear-gradient(#870000 0 10px,#970000 0 11px,#b70000 0 12px,#d70000 0 13px,#e70000 0 14px,#ff0800 0 15px,#ff3800 0 16px,#ff5800 0 17px,#ff7800 0 18px,#ff9700 0 19px,#ffa700 0 20px,#ffb700 0 21px,#ffd700 0 23px,#ffe700 0 25px,#fff700 0 27px,#f7ff08 0 29px,#e7ff18 0 32px,#d7ff28 0 37px,#c7ff38 0 42px,#b7ff48 0 47px,#a7ff58 0 52px,#97ff68 0 58px,#87ff78 0 65px,#78ff87 0 71px,#68ff97 0 78px,#58ffa7 0 86px,#48ffb7 0 93px,#38ffc7 0 101px,#28ffd7 0 111px,#18ffe7 0 121px,#08fff7 0 134px,#00f7ff 0 148px,#00e7ff 0 175px,#00d7ff 0)"></i><i style="background:linear-gradient(#870000 0 11px,#970000 0 12px,#a70000 0 13px,#c70000 0 14px,#d70000 0 15px,#f70000 0 16px,#ff1800 0 17px,#ff3800 0 18px,#ff6800 0 19px,#ff8700 0 20px,#ff9700 0 21px,#ffa700 0 22px,#ffc700 0 23px,#ffd700 0 24px,#ffe700 0 26px,#fff700 0 28px,#f7ff08 0 30px,#e7ff18 0 33px,#d7ff28 0 38px,#c7ff38 0 43px,#b7ff48 0 48px,#a7ff58 0 54px,#97ff68 0 59px,#87ff78 0 66px,#78ff87 0 73px,#68ff97 0 80px,#58ffa7 0 87px,#48ffb7 0 94px,#38ffc7 0 103px,#28ffd7 0 113px,#18ffe7 0 122px,#08fff7 0 135px,#00f7ff 0 149px,#00e7ff 0 176px,#00d7ff 0)"></i><i style="background:linear-gradient(#870000 0 11px,#970000 0 12px,#a70000 0 13px,#c70000 0 14px,#e70000 0 15px,#f70000 0 16px,#ff1800 0 17px,#ff3800 0 18px,#ff6800 0 19px,#ff8700 0 20px,#ff9700 0 21px,#ffb700 0 22px,#ffc700 0 23px,#ffd700 0 24px,#ffe700 0 26px,#fff700 0 28px,#f7ff08 0 30px,#e7ff18 0 33px,#d7ff28 0 38px,#c7ff38 0 43px,#b7ff48 0 48px,#a7ff58 0 53px,#97ff68 0 59px,#87ff78 0 66px,#78ff87 0 72px,#68ff97 0 79px,#58ffa7 0 87px,#48ffb7 0 94px,#38ffc7 0 102px,#28ffd7 0 112px,#18ffe7 0 122px,#08fff7 0 135px,#00f7ff 0 149px,#00e7ff 0 175px,#00d7ff 0)"></i><i style="background:linear-gradient(#870000 0 10px,#970000 0 11px,#a70000 0 12px,#c70000 0 13px,#d70000 0 14px,#f70000 0 15px,#ff0800 0 16px,#ff3800 0 17px,#ff5800 0 18px,#ff7800 0 19px,#ff9700 0 20px,#ffa700 0 21px,#ffc700 0 22px,#ffd700 0 23px,#ffe700 0 25px,#fff700 0 27px,#f7ff08 0 29px,#e7ff18 0 33px,#d7ff28 0 37px,#c7ff38 0 42px,#b7ff48 0 47px,#a7ff58 0 52px,#97ff68 0 58px,#87ff78 0 65px,#78ff87 0 71px,#68ff97 0 78px,#58ffa7 0 86px,#48ffb7 0 93px,#38ffc7 0 101px,#28ffd7 0 111px,#18ffe7 0 121px,#08fff7 0 134px,#00f7ff 0 147px,#00e7ff 0 174px,#00d7ff 0)"></i><i style="background:linear-gradient(#870000 0 8px,#a70000 0 9px,#b70000 0 10px,#d70000 0 11px,#e70000 0 12px,#ff0800 0 13px,#ff2800 0 14px,#ff4800 0 15px,#ff6800 0 16px,#ff8700 0 17px,#ffa700 0 18px,#ffb700 0 19px,#ffd700 0 21px,#ffe700 0 23px,#fff700 0 25px,#f7ff08 0 27px,#e7ff18 0 30px,#d7ff28 0 35px,#c7ff38 0 39px,#b7ff48 0 44px,#a7ff58 0 49px,#97ff68 0 55px,#87ff78 0 62px,#78ff87 0 68px,#68ff97 0 75px,#58ffa7 0 83px,#48ffb7 0 90px,#38ffc7 0 98px,#28ffd7 0 108px,#18ffe7 0 118px,#08fff7 0 131px,#00f7ff 0 144px,#00e7ff 0 170px,#00d7ff 0)"></i><i style="background:linear-gradient(#870000 0 6px,#970000 0 7px,#b70000 0 8px,#c70000 0 9px,#e70000 0 10px,#f70000 0 11px,#ff1800 0 12px,#ff4800 0 13px,#ff6800 0 14px,#ff8700 0 15px,#ff9700 0 16px,#ffb700 0 17px,#ffc700 0 18px,#ffd700 0 19px,#ffe700 0 21px,#fff700 0 23px,#f7ff08 0 25px,#e7ff18 0 28px,#d7ff28 0 33px,#c7ff38 0 37px,#b7ff48 0 42px,#a7ff58 0 48px,#97ff68 0 53px,#87ff78 0 60px,#78ff87 0 66px,#68ff97 0 73px,#58ffa7 0 80px,#48ffb7 0 88px,#38ffc7 0 96px,#28ffd7 0 106px,#18ffe7 0 116px,#08fff7 0 129px,#00f7ff 0 142px,#00e7ff 0 168px,#00d7ff 0)"></i><i style="background:linear-gradient(#870000 0 7px,#970000 0 8px,#b70000 0 9px,#c70000 0 10px,#e70000 0 11px,#f70000 0 12px,#ff1800 0 13px,#ff3800 0 14px,#ff5800 0 15px,#ff7800 0 16px,#ff9700 0 17px,#ffa700 0 18px,#ffc700 0 19px,#ffd700 0 20px,#ffe700 0 22px,#fff700 0 24px,#f7ff08 0 27px,#e7ff18 0 30px,#d7ff28 0 34px,#c7ff38 0 39px,#b7ff48 0 44px,#a7ff58 0 49px,#97ff68 0 54px,#87ff78 0 61px,#78ff87 0 67px,#68ff97 0 74px,#58ffa7 0 82px,#48ffb7 0 89px,#38ffc7 0 97px,#28ffd7 0 107px,#18ffe7 0 117px,#08fff7 0 129px,#00f7ff 0 143px,#00e7ff 0 170px,#00d7ff 0)"></i><i style="background:linear-gradient(#870000 0 7px,#970000 0 8px,#a70000 0 9px,#b70000 0 10px,#c70000 0 11px,#e70000 0 12px,#f70000 0 13px,#ff1800 0 14px,#ff3800 0 15px,#ff5800 0 16px,#ff7800 0 17px,#ff9700 0 18px,#ffa700 0 19px,#ffb700 0 20px,#ffd700 0 21px,#ffe700 0 23px,#fff700 0 25px,#f7ff08 0 28px,#e7ff18 0 31px,#d7ff28 0 35px,#c7ff38 0 40px,#b7ff48 0 45px,#a7ff58 0 50px,#97ff68 0 55px,#87ff78 0 62px,#78ff87 0 68px,#68ff97 0 75px,#58ffa7 0 82px,#48ffb7 0 90px,#38ffc7 0 98px,#28ffd7 0 108px,#18ffe7 0 118px,#08fff7 0 130px,#00f7ff 0 144px,#00e7ff 0 172px,#00d7ff 0)"></i><i style="background:linear-gradient(#870000 0 5px,#970000 0 8px,#a70000 0 9px,#c70000 0 10px,#d70000 0 11px,#e70000 0 12px,#ff0800 0 13px,#ff1800 0 14px,#ff3800 0 15px,#ff5800 0 16px,#ff7800 0 17px,#ff9700 0 18px,#ffa700 0 19px,#ffc700 0 20px,#ffd700 0 21px,#ffe700 0 23px,#fff700 0 25px,#f7ff08 0 28px,#e7ff18 0 31px,#d7ff28 0 35px,#c7ff38 0 40px,#b7ff48 0 45px,#a7ff58 0 50px,#97ff68 0 55px,#87ff78 0 61px,#78ff87 0 68px,#68ff97 0 75px,#58ffa7 0 82px,#48ffb7 0 89px,#38ffc7 0 98px,#28ffd7 0 107px,#18ffe7 0 117px,#08fff7 0 129px,#00f7ff 0 143px,#00e7ff 0)"></i><i style="background:linear-gradient(#870000 0 5px,#970000 0 8px,#a70000 0 9px,#b70000 0 10px,#c70000 0 11px,#e70000 0 12px,#f70000 0 13px,#ff0800 0 14px,#ff2800 0 15px,#ff4800 0 16px,#ff6800 0 17px,#ff8700 0 18px,#ff9700 0 19px,#ffb700 0 20px,#ffc700 0 21px,#ffd700 0 22px,#ffe700 0 24px,#fff700 0 26px,#f7ff08 0 29px,#e7ff18 0 32px,#d7ff28 0 36px,#c7ff38 0 40px,#b7ff48 0 45px,#a7ff58 0 50px,#97ff68 0 55px,#87ff78 0 62px,#78ff87 0 68px,#68ff97 0 75px,#58ffa7 0 82px,#48ffb7 0 90px,#38ffc7 0 98px,#28ffd7 0 108px,#18ffe7 0 117px,#08fff7 0 129px,#00f7ff 0 144px,#00e7ff 0 174px,#00d7ff 0)"></i><i style="background:linear-gradient(#870000 0 6px,#970000 0 8px,#a70000 0 9px,#b70000 0 10px,#c70000 0 11px,#d70000 0 12px,#e70000 0 13px,#ff0800 0 14px,#ff1800 0 15px,#ff2800 0 16px,#ff4800 0 17px,#ff6800 0 18px,#ff8700 0 19px,#ffa700 0 20px,#ffb700 0 21px,#ffc700 0 22px,#ffd700 0 23px,#ffe700 0 24px,#fff700 0 27px,#f7ff08 0 29px,#e7ff18 0 33px,#d7ff28 0 37px,#c7ff38 0 41px,#b7ff48 0 46px,#a7ff58 0 51px,#97ff68 0 56px,#87ff78 0 62px,#78ff87 0 69px,#68ff97 0 76px,#58ffa7 0 83px,#48ffb7 0 90px,#38ffc7 0 98px,#28ffd7 0 108px,#18ffe7 0 118px,#08fff7 0 130px,#00f7ff 0 144px,#00e7ff 0 175px,#00d7ff 0)"></i><i style="background:linear-gradient(#870000 0 5px,#970000 0 7px,#a70000 0 8px,#b70000 0 9px,#c70000 0 10px,#d70000 0 11px,#e70000 0 12px,#f70000 0 13px,#ff1800 0 14px,#ff2800 0 15px,#ff3800 0 16px,#ff5800 0 17px,#ff7800 0 18px,#ff9700 0 19px,#ffb700 0 20px,#ffc700 0 21px,#ffd700 0 22px,#ffe700 0 23px,#fff700 0 26px,#f7ff08 0 29px,#e7ff18 0 32px,#d7ff28 0 37px,#c7ff38 0 41px,#b7ff48 0 45px,#a7ff58 0 50px,#97ff68 0 55px,#87ff78 0 62px,#78ff87 0 68px,#68ff97 0 75px,#58ffa7 0 82px,#48ffb7 0 89px,#38ffc7 0 98px,#28ffd7 0 107px,#18ffe7 0 117px,#08fff7 0 129px,#00f7ff 0 143px,#00e7ff 0 176px,#00d7ff 0)"></i><i style="background:linear-gradient(#870000 0 5px,#970000 0 7px,#a70000 0 8px,#b70000 0 9px,#c70000 0 10px,#d70000 0 11px,#e70000 0 12px,#f70000 0 13px,#ff0800 0 14px,#ff1800 0 15px,#ff3800 0 16px,#ff4800 0 17px,#ff6800 0 18px,#ff8700 0 19px,#ffa700 0 20px,#ffb700 0 21px,#ffc700 0 22px,#ffd700 0 23px,#ffe700 0 24px,#fff700 0 27px,#f7ff08 0 30px,#e7ff18 0 33px,#d7ff28 0 37px,#c7ff38 0 41px,#b7ff48 0 46px,#a7ff58 0 51px,#97ff68 0 56px,#87ff78 0 62px,#78ff87 0 68px,#68ff97 0 75px,#58ffa7 0 83px,#48ffb7 0 90px,#38ffc7 0 98px,#28ffd7 0 107px,#18ffe7 0 117px,#08fff7 0 129px,#00f7ff 0 142px,#00e7ff 0 177px,#00d7ff 0)"></i><i style="background:linear-gradient(#870000 0 3px,#970000 0 5px,#a70000 0 6px,#b70000 0 7px,#c70000 0 8px,#d70000 0 9px,#e70000 0 10px,#f70000 0 11px,#ff0800 0 12px,#ff1800 0 13px,#ff3800 0 14px,#ff4800 0 15px,#ff6800 0 16px,#ff7800 0 17px,#ff9700 0 18px,#ffb700 0 19px,#ffc700 0 20px,#ffd700 0 21px,#ffe700 0 22px,#fff700 0 25px,#f7ff08 0 28px,#e7ff18 0 32px,#d7ff28 0 36px,#c7ff38 0 40px,#b7ff48 0 44px,#a7ff58 0 49px,#97ff68 0 54px,#87ff78 0 60px,#78ff87 0 66px,#68ff97 0 73px,#58ffa7 0 80px,#48ffb7 0 88px,#38ffc7 0 96px,#28ffd7 0 105px,#18ffe7 0 115px,#08fff7 0 127px,#00f7ff 0 140px,#00e7ff 0 177px,#00d7ff 0)"></i><i style="background:linear-gradient(#870000 0 1px,#970000 0 3px,#a70000 0 5px,#b70000 0 6px,#c70000 0 7px,#d70000 0 8px,#e70000 0 9px,#f70000 0 10px,#ff0800 0 11px,#ff1800 0 12px,#ff2800 0 13px,#ff3800 0 14px,#ff5800 0 15px,#ff7800 0 16px,#ff8700 0 17px,#ffa700 0 18px,#ffb700 0 19px,#ffc700 0 20px,#ffd700 0 21px,#ffe700 0 22px,#fff700 0 25px,#f7ff08 0 28px,#e7ff18 0 31px,#d7ff28 0 35px,#c7ff38 0 39px,#b7ff48 0 44px,#a7ff58 0 48px,#97ff68 0 53px,#87ff78 0 60px,#78ff87 0 66px,#68ff97 0 73px,#58ffa7 0 80px,#48ffb7 0 87px,#38ffc7 0 95px,#28ffd7 0 104px,#18ffe7 0 114px,#08fff7 0 126px,#00f7ff 0 140px,#00e7ff 0)"></i><i style="background:linear-gradient(#970000 0 2px,#a70000 0 4px,#b70000 0 5px,#c70000 0 6px,#d70000 0 8px,#e70000 0 9px,#f70000 0 10px,#ff0800 0 11px,#ff2800 0 12px,#ff3800 0 13px,#ff4800 0 14px,#ff6800 0 15px,#ff7800 0 16px,#ff9700 0 17px,#ffb700 0 19px,#ffc700 0 20px,#ffd700 0 21px,#ffe700 0 22px,#fff700 0 24px,#f7ff08 0 28px,#e7ff18 0 31px,#d7ff28 0 35px,#c7ff38 0 39px,#b7ff48 0 43px,#a7ff58 0 48px,#97ff68 0 53px,#87ff78 0 59px,#78ff87 0 65px,#68ff97 0 72px,#58ffa7 0 79px,#48ffb7 0 86px,#38ffc7 0 94px,#28ffd7 0 103px,#18ffe7 0 113px,#08fff7 0 125px,#00f7ff 0 141px,#00e7ff 0)"></i><i style="background:linear-gradient(#a70000 0 2px,#b70000 0 4px,#c70000 0 5px,#d70000 0 6px,#e70000 0 8px,#f70000 0 9px,#ff0800 0 10px,#ff1800 0 11px,#ff3800 0 12px,#ff4800 0 13px,#ff5800 0 14px,#ff7800 0 15px,#ff8700 0 16px,#ffa700 0 17px,#ffb700 0 18px,#ffc700 0 19px,#ffd700 0 20px,#ffe700 0 22px,#fff700 0 24px,#f7ff08 0 27px,#e7ff18 0 30px,#d7ff28 0 34px,#c7ff38 0 38px,#b7ff48 0 43px,#a7ff58 0 47px,#97ff68 0 52px,#87ff78 0 58px,#78ff87 0 65px,#68ff97 0 71px,#58ffa7 0 78px,#48ffb7 0 85px,#38ffc7 0 93px,#28ffd7 0 101px,#18ffe7 0 111px,#08fff7 0 124px,#00f7ff 0 141px,#00e7ff 0)"></i><i style="background:linear-gradient(#a70000 0 4px,#b70000 0 6px,#c70000 0 7px,#d70000 0 9px,#e70000 0 10px,#f70000 0 11px,#ff0800 0 12px,#ff1800 0 13px,#ff2800 0 14px,#ff3800 0 15px,#ff4800 0 16px,#ff6800 0 17px,#ff7800 0 18px,#ff9700 0 19px,#ffa700 0 20px,#ffb700 0 21px,#ffc700 0 22px,#ffd700 0 23px,#ffe700 0 24px,#fff700 0 27px,#f7ff08 0 30px,#e7ff18 0 33px,#d7ff28 0 37px,#c7ff38 0 41px,#b7ff48 0 45px,#a7ff58 0 50px,#97ff68 0 55px,#87ff78 0 61px,#78ff87 0 67px,#68ff97 0 74px,#58ffa7 0 80px,#48ffb7 0 87px,#38ffc7 0 95px,#28ffd7 0 103px,#18ffe7 0 113px,#08fff7 0 126px,#00f7ff 0 145px,#00e7ff 0)"></i><i style="background:linear-gradient(#a70000 0 3px,#b70000 0 6px,#c70000 0 8px,#d70000 0 9px,#e70000 0 10px,#f70000 0 12px,#ff0800 0 13px,#ff1800 0 14px,#ff2800 0 15px,#ff3800 0 16px,#ff4800 0 17px,#ff6800 0 18px,#ff7800 0 19px,#ff9700 0 20px,#ffa700 0 21px,#ffb700 0 22px,#ffc700 0 23px,#ffd700 0 24px,#ffe700 0 26px,#fff700 0 28px,#f7ff08 0 31px,#e7ff18 0 34px,#d7ff28 0 38px,#c7ff38 0 42px,#b7ff48 0 46px,#a7ff58 0 51px,#97ff68 0 56px,#87ff78 0 62px,#78ff87 0 68px,#68ff97 0 74px,#58ffa7 0 81px,#48ffb7 0 88px,#38ffc7 0 95px,#28ffd7 0 103px,#18ffe7 0 114px,#08fff7 0 127px,#00f7ff 0 147px,#00e7ff 0)"></i><i style="background:linear-gradient(#b70000 0 5px,#c70000 0 8px,#d70000 0 9px,#e70000 0 11px,#f70000 0 12px,#ff0800 0 13px,#ff1800 0 14px,#ff2800 0 15px,#ff3800 0 16px,#ff4800 0 17px,#ff5800 0 18px,#ff6800 0 19px,#ff8700 0 20px,#ff9700 0 21px,#ffa700 0 22px,#ffb700 0 23px,#ffc700 0 24px,#ffd700 0 25px,#ffe700 0 26px,#fff700 0 28px,#f7ff08 0 31px,#e7ff18 0 35px,#d7ff28 0 39px,#c7ff38 0 42px,#b7ff48 0 47px,#a7ff58 0 52px,#97ff68 0 57px,#87ff78 0 63px,#78ff87 0 69px,#68ff97 0 75px,#58ffa7 0 81px,#48ffb7 0 88px,#38ffc7 0 95px,#28ffd7 0 103px,#18ffe7 0 114px,#08fff7 0 127px,#00f7ff 0 149px,#00e7ff 0)"></i><i style="background:linear-gradient(#b70000 0 2px,#c70000 0 5px,#d70000 0 7px,#e70000 0 9px,#f70000 0 10px,#ff0800 0 12px,#ff1800 0 13px,#ff2800 0 14px,#ff3800 0 15px,#ff4800 0 16px,#ff5800 0 17px,#ff7800 0 18px,#ff8700 0 19px,#ff9700 0 20px,#ffa700 0 21px,#ffb700 0 22px,#ffc700 0 23px,#ffd700 0 24px,#ffe700 0 25px,#fff700 0 27px,#f7ff08 0 30px,#e7ff18 0 33px,#d7ff28 0 37px,#c7ff38 0 41px,#b7ff48 0 46px,#a7ff58 0 50px,#97ff68 0 56px,#87ff78 0 61px,#78ff87 0 67px,#68ff97 0 73px,#58ffa7 0 80px,#48ffb7 0 86px,#38ffc7 0 94px,#28ffd7 0 102px,#18ffe7 0 112px,#08fff7 0 125px,#00f7ff 0 149px,#00e7ff 0)"></i><i style="background:linear-gradient(#c70000 0 5px,#d70000 0 8px,#e70000 0 9px,#f70000 0 11px,#ff0800 0 12px,#ff1800 0 14px,#ff2800 0 15px,#ff3800 0 16px,#ff4800 0 17px,#ff5800 0 18px,#ff6800 0 19px,#ff8700 0 20px,#ff9700 0 21px,#ffa700 0 22px,#ffb700 0 23px,#ffc700 0 24px,#ffd700 0 25px,#ffe700 0 26px,#fff700 0 28px,#f7ff08 0 31px,#e7ff18 0 34px,#d7ff28 0 38px,#c7ff38 0 42px,#b7ff48 0 47px,#a7ff58 0 52px,#97ff68 0 57px,#87ff78 0 62px,#78ff87 0 68px,#68ff97 0 74px,#58ffa7 0 81px,#48ffb7 0 87px,#38ffc7 0 94px,#28ffd7 0 102px,#18ffe7 0 112px,#08fff7 0 126px,#00f7ff 0 151px,#00e7ff 0)"></i><i style="background:linear-gradient(#c70000 0 6px,#d70000 0 9px,#e70000 0 11px,#f70000 0 13px,#ff0800 0 15px,#ff1800 0 16px,#ff2800 0 17px,#ff3800 0 18px,#ff4800 0 19px,#ff5800 0 20px,#ff6800 0 21px,#ff7800 0 22px,#ff8700 0 23px,#ff9700 0 24px,#ffb700 0 25px,#ffc700 0 26px,#ffd700 0 27px,#ffe700 0 29px,#fff700 0 31px,#f7ff08 0 34px,#e7ff18 0 37px,#d7ff28 0 41px,#c7ff38 0 45px,#b7ff48 0 49px,#a7ff58 0 54px,#97ff68 0 59px,#87ff78 0 65px,#78ff87 0 70px,#68ff97 0 77px,#58ffa7 0 83px,#48ffb7 0 89px,#38ffc7 0 96px,#28ffd7 0 104px,#18ffe7 0 113px,#08fff7 0 128px,#00f7ff 0)"></i><i style="background:linear-gradient(#d70000 0 5px,#e70000 0 8px,#f70000 0 11px,#ff0800 0 12px,#ff1800 0 14px,#ff2800 0 15px,#ff3800 0 16px,#ff4800 0 17px,#ff5800 0 18px,#ff6800 0 19px,#ff7800 0 20px,#ff8700 0 21px,#ff9700 0 22px,#ffa700 0 23px,#ffc700 0 24px,#ffd700 0 26px,#ffe700 0 27px,#fff700 0 29px,#f7ff08 0 32px,#e7ff18 0 35px,#d7ff28 0 39px,#c7ff38 0 43px,#b7ff48 0 47px,#a7ff58 0 52px,#97ff68 0 57px,#87ff78 0 63px,#78ff87 0 68px,#68ff97 0 74px,#58ffa7 0 81px,#48ffb7 0 87px,#38ffc7 0 94px,#28ffd7 0 101px,#18ffe7 0 110px,#08fff7 0 125px,#00f7ff 0)"></i><i style="background:linear-gradient(#d70000 0 3px,#e70000 0 7px,#f70000 0 9px,#ff0800 0 11px,#ff1800 0 13px,#ff2800 0 14px,#ff3800 0 16px,#ff4800 0 17px,#ff5800 0 18px,#ff6800 0 19px,#ff8700 0 20px,#ff9700 0 21px,#ffa700 0 22px,#ffb700 0 23px,#ffc700 0 24px,#ffd700 0 25px,#ffe700 0 26px,#fff700 0 28px,#f7ff08 0 31px,#e7ff18 0 34px,#d7ff28 0 38px,#c7ff38 0 42px,#b7ff48 0 47px,#a7ff58 0 51px,#97ff68 0 56px,#87ff78 0 62px,#78ff87 0 68px,#68ff97 0 74px,#58ffa7 0 80px,#48ffb7 0 86px,#38ffc7 0 93px,#28ffd7 0 100px,#18ffe7 0 109px,#08fff7 0 124px,#00f7ff 0)"></i><i style="background:linear-gradient(#e70000 0 4px,#f70000 0 7px,#ff0800 0 10px,#ff1800 0 12px,#ff2800 0 13px,#ff3800 0 15px,#ff4800 0 16px,#ff5800 0 17px,#ff6800 0 18px,#ff7800 0 19px,#ff8700 0 20px,#ff9700 0 21px,#ffb700 0 22px,#ffc700 0 23px,#ffd700 0 24px,#ffe700 0 25px,#fff700 0 28px,#f7ff08 0 30px,#e7ff18 0 34px,#d7ff28 0 38px,#c7ff38 0 41px,#b7ff48 0 46px,#a7ff58 0 51px,#97ff68 0 56px,#87ff78 0 61px,#78ff87 0 67px,#68ff97 0 73px,#58ffa7 0 79px,#48ffb7 0 85px,#38ffc7 0 91px,#28ffd7 0 99px,#18ffe7 0 107px,#08fff7 0 123px,#00f7ff 0)"></i><i style="background:linear-gradient(#e70000 0 3px,#f70000 0 7px,#ff0800 0 10px,#ff1800 0 12px,#ff2800 0 14px,#ff3800 0 15px,#ff4800 0 17px,#ff5800 0 18px,#ff6800 0 19px,#ff8700 0 20px,#ff9700 0 21px,#ffa700 0 22px,#ffb700 0 23px,#ffc700 0 24px,#ffd700 0 25px,#ffe700 0 26px,#fff700 0 28px,#f7ff08 0 31px,#e7ff18 0 34px,#d7ff28 0 38px,#c7ff38 0 42px,#b7ff48 0 47px,#a7ff58 0 51px,#97ff68 0 56px,#87ff78 0 62px,#78ff87 0 67px,#68ff97 0 73px,#58ffa7 0 79px,#48ffb7 0 85px,#38ffc7 0 92px,#28ffd7 0 99px,#18ffe7 0 106px,#08fff7 0 123px,#00f7ff 0)"></i><i style="background:linear-gradient(#f70000 0 6px,#ff0800 0 10px,#ff1800 0 12px,#ff2800 0 14px,#ff3800 0 16px,#ff4800 0 18px,#ff5800 0 19px,#ff7800 0 20px,#ff8700 0 21px,#ff9700 0 22px,#ffa700 0 23px,#ffb700 0 24px,#ffc700 0 25px,#ffd700 0 26px,#ffe700 0 27px,#fff700 0 29px,#f7ff08 0 32px,#e7ff18 0 35px,#d7ff28 0 39px,#c7ff38 0 43px,#b7ff48 0 47px,#a7ff58 0 52px,#97ff68 0 57px,#87ff78 0 62px,#78ff87 0 68px,#68ff97 0 74px,#58ffa7 0 80px,#48ffb7 0 86px,#38ffc7 0 92px,#28ffd7 0 99px,#18ffe7 0 106px,#08fff7 0 123px,#00f7ff 0)"></i><i style="background:linear-gradient(#f70000 0 7px,#ff0800 0 12px,#ff1800 0 14px,#ff2800 0 16px,#ff3800 0 18px,#ff4800 0 20px,#ff5800 0 21px,#ff7800 0 22px,#ff8700 0 23px,#ff9700 0 24px,#ffa700 0 25px,#ffb700 0 26px,#ffc700 0 27px,#ffd700 0 28px,#ffe700 0 29px,#fff700 0 31px,#f7ff08 0 34px,#e7ff18 0 37px,#d7ff28 0 41px,#c7ff38 0 45px,#b7ff48 0 49px,#a7ff58 0 54px,#97ff68 0 59px,#87ff78 0 64px,#78ff87 0 70px,#68ff97 0 76px,#58ffa7 0 81px,#48ffb7 0 87px,#38ffc7 0 94px,#28ffd7 0 100px,#18ffe7 0 108px,#08fff7 0 126px,#00f7ff 0)"></i><i style="background:linear-gradient(#f70000 0 6px,#ff0800 0 11px,#ff1800 0 14px,#ff2800 0 16px,#ff3800 0 18px,#ff4800 0 20px,#ff5800 0 21px,#ff6800 0 22px,#ff7800 0 23px,#ff8700 0 24px,#ff9700 0 25px,#ffa700 0 26px,#ffc700 0 27px,#ffd700 0 28px,#ffe700 0 29px,#fff700 0 32px,#f7ff08 0 34px,#e7ff18 0 37px,#d7ff28 0 41px,#c7ff38 0 45px,#b7ff48 0 50px,#a7ff58 0 54px,#97ff68 0 59px,#87ff78 0 65px,#78ff87 0 70px,#68ff97 0 76px,#58ffa7 0 82px,#48ffb7 0 87px,#38ffc7 0 94px,#28ffd7 0 100px,#18ffe7 0 108px,#08fff7 0 127px,#00f7ff 0)"></i><i style="background:linear-gradient(#f70000 0 5px,#ff0800 0 10px,#ff1800 0 14px,#ff2800 0 16px,#ff3800 0 18px,#ff4800 0 20px,#ff5800 0 21px,#ff6800 0 22px,#ff7800 0 23px,#ff8700 0 24px,#ff9700 0 25px,#ffa700 0 26px,#ffc700 0 27px,#ffd700 0 28px,#ffe700 0 30px,#fff700 0 32px,#f7ff08 0 34px,#e7ff18 0 37px,#d7ff28 0 41px,#c7ff38 0 45px,#b7ff48 0 49px,#a7ff58 0 54px,#97ff68 0 59px,#87ff78 0 64px,#78ff87 0 70px,#68ff97 0 76px,#58ffa7 0 81px,#48ffb7 0 87px,#38ffc7 0 93px,#28ffd7 0 100px,#18ffe7 0 108px,#08fff7 0 128px,#00f7ff 0)"></i><i style="background:linear-gradient(#ff0800 0 7px,#ff1800 0 12px,#ff2800 0 14px,#ff3800 0 17px,#ff4800 0 18px,#ff5800 0 19px,#ff6800 0 20px,#ff7800 0 21px,#ff8700 0 22px,#ff9700 0 23px,#ffa700 0 24px,#ffb700 0 25px,#ffc700 0 26px,#ffd700 0 27px,#ffe700 0 28px,#fff700 0 30px,#f7ff08 0 33px,#e7ff18 0 36px,#d7ff28 0 40px,#c7ff38 0 43px,#b7ff48 0 48px,#a7ff58 0 52px,#97ff68 0 57px,#87ff78 0 63px,#78ff87 0 68px,#68ff97 0 74px,#58ffa7 0 80px,#48ffb7 0 85px,#38ffc7 0 91px,#28ffd7 0 98px,#18ffe7 0 106px,#08fff7 0 127px,#00f7ff 0)"></i><i style="background:linear-gradient(#ff0800 0 4px,#ff1800 0 10px,#ff2800 0 12px,#ff3800 0 15px,#ff4800 0 16px,#ff5800 0 18px,#ff6800 0 19px,#ff7800 0 20px,#ff9700 0 21px,#ffa700 0 22px,#ffb700 0 23px,#ffc700 0 24px,#ffd700 0 25px,#ffe700 0 27px,#fff700 0 29px,#f7ff08 0 31px,#e7ff18 0 34px,#d7ff28 0 38px,#c7ff38 0 42px,#b7ff48 0 46px,#a7ff58 0 50px,#97ff68 0 55px,#87ff78 0 61px,#78ff87 0 67px,#68ff97 0 72px,#58ffa7 0 78px,#48ffb7 0 83px,#38ffc7 0 89px,#28ffd7 0 95px,#18ffe7 0 104px,#08fff7 0 126px,#00f7ff 0)"></i><i style="background:linear-gradient(#ff0800 0 2px,#ff1800 0 8px,#ff2800 0 11px,#ff3800 0 14px,#ff4800 0 15px,#ff5800 0 17px,#ff6800 0 18px,#ff7800 0 19px,#ff8700 0 20px,#ff9700 0 21px,#ffb700 0 22px,#ffc700 0 23px,#ffd700 0 24px,#ffe700 0 26px,#fff700 0 28px,#f7ff08 0 30px,#e7ff18 0 33px,#d7ff28 0 37px,#c7ff38 0 41px,#b7ff48 0 45px,#a7ff58 0 49px,#97ff68 0 54px,#87ff78 0 60px,#78ff87 0 66px,#68ff97 0 71px,#58ffa7 0 77px,#48ffb7 0 82px,#38ffc7 0 88px,#28ffd7 0 94px,#18ffe7 0 103px,#08fff7 0 127px,#00f7ff 0)"></i><i style="background:linear-gradient(#ff1800 0 7px,#ff2800 0 11px,#ff3800 0 14px,#ff4800 0 16px,#ff5800 0 17px,#ff6800 0 18px,#ff7800 0 19px,#ff8700 0 20px,#ff9700 0 21px,#ffa700 0 22px,#ffb700 0 23px,#ffc700 0 24px,#ffd700 0 25px,#ffe700 0 26px,#fff700 0 28px,#f7ff08 0 30px,#e7ff18 0 33px,#d7ff28 0 37px,#c7ff38 0 41px,#b7ff48 0 45px,#a7ff58 0 49px,#97ff68 0 54px,#87ff78 0 60px,#78ff87 0 66px,#68ff97 0 71px,#58ffa7 0 77px,#48ffb7 0 82px,#38ffc7 0 88px,#28ffd7 0 94px,#18ffe7 0 102px,#08fff7 0 129px,#00f7ff 0)"></i><i style="background:linear-gradient(#ff1800 0 9px,#ff2800 0 14px,#ff3800 0 17px,#ff4800 0 19px,#ff5800 0 20px,#ff6800 0 21px,#ff7800 0 22px,#ff8700 0 23px,#ff9700 0 24px,#ffa700 0 25px,#ffb700 0 26px,#ffc700 0 27px,#ffd700 0 28px,#ffe700 0 29px,#fff700 0 31px,#f7ff08 0 33px,#e7ff18 0 36px,#d7ff28 0 40px,#c7ff38 0 44px,#b7ff48 0 48px,#a7ff58 0 52px,#97ff68 0 57px,#87ff78 0 63px,#78ff87 0 69px,#68ff97 0 74px,#58ffa7 0 80px,#48ffb7 0 85px,#38ffc7 0 90px,#28ffd7 0 96px,#18ffe7 0 105px,#08fff7 0)"></i><i style="background:linear-gradient(#ff1800 0 6px,#ff2800 0 13px,#ff3800 0 16px,#ff4800 0 18px,#ff5800 0 19px,#ff6800 0 20px,#ff7800 0 21px,#ff8700 0 22px,#ff9700 0 23px,#ffa700 0 24px,#ffb700 0 25px,#ffc700 0 26px,#ffd700 0 27px,#ffe700 0 28px,#fff700 0 30px,#f7ff08 0 32px,#e7ff18 0 35px,#d7ff28 0 39px,#c7ff38 0 43px,#b7ff48 0 47px,#a7ff58 0 51px,#97ff68 0 56px,#87ff78 0 62px,#78ff87 0 68px,#68ff97 0 73px,#58ffa7 0 78px,#48ffb7 0 84px,#38ffc7 0 89px,#28ffd7 0 95px,#18ffe7 0 103px,#08fff7 0)"></i><i style="background:linear-gradient(#ff1800 0 6px,#ff2800 0 14px,#ff3800 0 18px,#ff4800 0 20px,#ff5800 0 21px,#ff6800 0 22px,#ff7800 0 23px,#ff8700 0 24px,#ff9700 0 25px,#ffa700 0 26px,#ffb700 0 27px,#ffc700 0 28px,#ffd700 0 29px,#ffe700 0 31px,#fff700 0 32px,#f7ff08 0 34px,#e7ff18 0 37px,#d7ff28 0 41px,#c7ff38 0 45px,#b7ff48 0 49px,#a7ff58 0 53px,#97ff68 0 58px,#87ff78 0 64px,#78ff87 0 70px,#68ff97 0 75px,#58ffa7 0 81px,#48ffb7 0 86px,#38ffc7 0 91px,#28ffd7 0 97px,#18ffe7 0 104px,#08fff7 0)"></i><i style="background:linear-gradient(#ff2800 0 11px,#ff3800 0 16px,#ff4800 0 18px,#ff5800 0 19px,#ff6800 0 20px,#ff7800 0 21px,#ff8700 0 22px,#ff9700 0 23px,#ffa700 0 24px,#ffb700 0 25px,#ffc700 0 26px,#ffd700 0 27px,#ffe700 0 29px,#fff700 0 30px,#f7ff08 0 32px,#e7ff18 0 35px,#d7ff28 0 39px,#c7ff38 0 43px,#b7ff48 0 47px,#a7ff58 0 51px,#97ff68 0 56px,#87ff78 0 62px,#78ff87 0 68px,#68ff97 0 73px,#58ffa7 0 78px,#48ffb7 0 83px,#38ffc7 0 89px,#28ffd7 0 94px,#18ffe7 0 100px,#08fff7 0)"></i><i style="background:linear-gradient(#ff2800 0 9px,#ff3800 0 16px,#ff4800 0 18px,#ff5800 0 19px,#ff6800 0 21px,#ff7800 0 22px,#ff8700 0 23px,#ff9700 0 24px,#ffa700 0 25px,#ffb700 0 26px,#ffc700 0 27px,#ffd700 0 28px,#ffe700 0 29px,#fff700 0 31px,#f7ff08 0 33px,#e7ff18 0 35px,#d7ff28 0 39px,#c7ff38 0 43px,#b7ff48 0 47px,#a7ff58 0 51px,#97ff68 0 55px,#87ff78 0 62px,#78ff87 0 68px,#68ff97 0 73px,#58ffa7 0 78px,#48ffb7 0 83px,#38ffc7 0 88px,#28ffd7 0 94px,#18ffe7 0 100px,#08fff7 0)"></i><i style="background:linear-gradient(#ff2800 0 4px,#ff3800 0 13px,#ff4800 0 16px,#ff5800 0 18px,#ff6800 0 19px,#ff7800 0 20px,#ff8700 0 21px,#ff9700 0 22px,#ffa700 0 23px,#ffb700 0 25px,#ffc700 0 26px,#ffd700 0 27px,#ffe700 0 28px,#fff700 0 30px,#f7ff08 0 32px,#e7ff18 0 34px,#d7ff28 0 38px,#c7ff38 0 42px,#b7ff48 0 46px,#a7ff58 0 50px,#97ff68 0 54px,#87ff78 0 61px,#78ff87 0 67px,#68ff97 0 72px,#58ffa7 0 77px,#48ffb7 0 82px,#38ffc7 0 87px,#28ffd7 0 93px,#18ffe7 0 99px,#08fff7 0)"></i><i style="background:linear-gradient(#ff3800 0 9px,#ff4800 0 14px,#ff5800 0 16px,#ff6800 0 17px,#ff7800 0 18px,#ff8700 0 19px,#ff9700 0 21px,#ffa700 0 22px,#ffb700 0 23px,#ffc700 0 24px,#ffd700 0 25px,#ffe700 0 27px,#fff700 0 28px,#f7ff08 0 30px,#e7ff18 0 33px,#d7ff28 0 36px,#c7ff38 0 40px,#b7ff48 0 44px,#a7ff58 0 48px,#97ff68 0 53px,#87ff78 0 59px,#78ff87 0 65px,#68ff97 0 70px,#58ffa7 0 75px,#48ffb7 0 80px,#38ffc7 0 85px,#28ffd7 0 91px,#18ffe7 0 98px,#08fff7 0)"></i><i style="background:linear-gradient(#ff3800 0 4px,#ff4800 0 13px,#ff5800 0 15px,#ff6800 0 17px,#ff7800 0 18px,#ff8700 0 19px,#ff9700 0 21px,#ffa700 0 22px,#ffb700 0 23px,#ffc700 0 24px,#ffd700 0 26px,#ffe700 0 27px,#fff700 0 29px,#f7ff08 0 31px,#e7ff18 0 33px,#d7ff28 0 37px,#c7ff38 0 41px,#b7ff48 0 45px,#a7ff58 0 49px,#97ff68 0 53px,#87ff78 0 60px,#78ff87 0 66px,#68ff97 0 71px,#58ffa7 0 75px,#48ffb7 0 80px,#38ffc7 0 85px,#28ffd7 0 91px,#18ffe7 0 98px,#08fff7 0)"></i><i style="background:linear-gradient(#ff4800 0 9px,#ff5800 0 12px,#ff6800 0 14px,#ff7800 0 15px,#ff8700 0 16px,#ff9700 0 18px,#ffa700 0 19px,#ffb700 0 20px,#ffc700 0 22px,#ffd700 0 23px,#ffe700 0 25px,#fff700 0 26px,#f7ff08 0 28px,#e7ff18 0 31px,#d7ff28 0 34px,#c7ff38 0 38px,#b7ff48 0 42px,#a7ff58 0 46px,#97ff68 0 51px,#87ff78 0 57px,#78ff87 0 63px,#68ff97 0 68px,#58ffa7 0 73px,#48ffb7 0 77px,#38ffc7 0 82px,#28ffd7 0 88px,#18ffe7 0 95px,#08fff7 0)"></i><i style="background:linear-gradient(#ff4800 0 1px,#ff5800 0 8px,#ff6800 0 10px,#ff7800 0 11px,#ff8700 0 13px,#ff9700 0 14px,#ffa700 0 15px,#ffb700 0 16px,#ffc700 0 18px,#ffd700 0 19px,#ffe700 0 21px,#fff700 0 23px,#f7ff08 0 25px,#e7ff18 0 28px,#d7ff28 0 31px,#c7ff38 0 35px,#b7ff48 0 39px,#a7ff58 0 43px,#97ff68 0 48px,#87ff78 0 54px,#78ff87 0 60px,#68ff97 0 65px,#58ffa7 0 69px,#48ffb7 0 74px,#38ffc7 0 78px,#28ffd7 0 84px,#18ffe7 0 91px,#08fff7 0)"></i><i style="background:linear-gradient(#ff5800 0 6px,#ff6800 0 8px,#ff7800 0 9px,#ff8700 0 11px,#ff9700 0 12px,#ffa700 0 13px,#ffb700 0 14px,#ffc700 0 16px,#ffd700 0 17px,#ffe700 0 19px,#fff700 0 21px,#f7ff08 0 23px,#e7ff18 0 26px,#d7ff28 0 29px,#c7ff38 0 33px,#b7ff48 0 37px,#a7ff58 0 41px,#97ff68 0 46px,#87ff78 0 52px,#78ff87 0 58px,#68ff97 0 63px,#58ffa7 0 68px,#48ffb7 0 72px,#38ffc7 0 76px,#28ffd7 0 82px,#18ffe7 0 88px,#08fff7 0)"></i><i style="background:linear-gradient(#ff5800 0 1px,#ff6800 0 8px,#ff7800 0 9px,#ff8700 0 10px,#ff9700 0 12px,#ffa700 0 13px,#ffb700 0 14px,#ffc700 0 15px,#ffd700 0 16px,#ffe700 0 19px,#fff700 0 21px,#f7ff08 0 23px,#e7ff18 0 26px,#d7ff28 0 29px,#c7ff38 0 33px,#b7ff48 0 37px,#a7ff58 0 41px,#97ff68 0 46px,#87ff78 0 52px,#78ff87 0 59px,#68ff97 0 63px,#58ffa7 0 68px,#48ffb7 0 72px,#38ffc7 0 76px,#28ffd7 0 82px,#18ffe7 0 88px,#08fff7 0)"></i><i style="background:linear-gradient(#ff6800 0 8px,#ff7800 0 10px,#ff8700 0 11px,#ff9700 0 12px,#ffa700 0 13px,#ffb700 0 14px,#ffc700 0 16px,#ffd700 0 17px,#ffe700 0 19px,#fff700 0 21px,#f7ff08 0 24px,#e7ff18 0 26px,#d7ff28 0 30px,#c7ff38 0 33px,#b7ff48 0 38px,#a7ff58 0 42px,#97ff68 0 47px,#87ff78 0 53px,#78ff87 0 59px,#68ff97 0 64px,#58ffa7 0 68px,#48ffb7 0 72px,#38ffc7 0 76px,#28ffd7 0 82px,#18ffe7 0 88px,#08fff7 0)"></i><i style="background:linear-gradient(#ff6800 0 11px,#ff7800 0 13px,#ff8700 0 14px,#ff9700 0 15px,#ffa700 0 16px,#ffb700 0 17px,#ffc700 0 18px,#ffd700 0 19px,#ffe700 0 21px,#fff700 0 23px,#f7ff08 0 26px,#e7ff18 0 29px,#d7ff28 0 32px,#c7ff38 0 36px,#b7ff48 0 40px,#a7ff58 0 44px,#97ff68 0 49px,#87ff78 0 55px,#78ff87 0 61px,#68ff97 0 65px,#58ffa7 0 70px,#48ffb7 0 74px,#38ffc7 0 78px,#28ffd7 0 83px,#18ffe7 0 89px,#08fff7 0)"></i><i style="background:linear-gradient(#ff6800 0 13px,#ff7800 0 15px,#ff8700 0 16px,#ff9700 0 17px,#ffa700 0 18px,#ffb700 0 19px,#ffc700 0 20px,#ffd700 0 21px,#ffe700 0 22px,#fff700 0 25px,#f7ff08 0 27px,#e7ff18 0 30px,#d7ff28 0 33px,#c7ff38 0 37px,#b7ff48 0 41px,#a7ff58 0 45px,#97ff68 0 50px,#87ff78 0 56px,#78ff87 0 61px,#68ff97 0 66px,#58ffa7 0 70px,#48ffb7 0 74px,#38ffc7 0 78px,#28ffd7 0 84px,#18ffe7 0 90px,#08fff7 0)"></i><i style="background:linear-gradient(#ff6800 0 12px,#ff7800 0 14px,#ff8700 0 15px,#ff9700 0 16px,#ffa700 0 17px,#ffb700 0 18px,#ffc700 0 19px,#ffd700 0 20px,#ffe700 0 21px,#fff700 0 23px,#f7ff08 0 26px,#e7ff18 0 28px,#d7ff28 0 32px,#c7ff38 0 35px,#b7ff48 0 39px,#a7ff58 0 44px,#97ff68 0 48px,#87ff78 0 54px,#78ff87 0 59px,#68ff97 0 64px,#58ffa7 0 68px,#48ffb7 0 72px,#38ffc7 0 76px,#28ffd7 0 81px,#18ffe7 0 88px,#08fff7 0)"></i><i style="background:linear-gradient(#ff6800 0 12px,#ff7800 0 13px,#ff8700 0 14px,#ff9700 0 16px,#ffa700 0 17px,#ffc700 0 18px,#ffd700 0 19px,#ffe700 0 20px,#fff700 0 22px,#f7ff08 0 25px,#e7ff18 0 28px,#d7ff28 0 31px,#c7ff38 0 34px,#b7ff48 0 38px,#a7ff58 0 42px,#97ff68 0 47px,#87ff78 0 52px,#78ff87 0 58px,#68ff97 0 63px,#58ffa7 0 66px,#48ffb7 0 70px,#38ffc7 0 74px,#28ffd7 0 79px,#18ffe7 0 87px,#08fff7 0)"></i><i style="background:linear-gradient(#ff6800 0 13px,#ff7800 0 14px,#ff8700 0 15px,#ff9700 0 17px,#ffb700 0 18px,#ffc700 0 19px,#ffd700 0 20px,#ffe700 0 21px,#fff700 0 23px,#f7ff08 0 25px,#e7ff18 0 28px,#d7ff28 0 31px,#c7ff38 0 35px,#b7ff48 0 38px,#a7ff58 0 43px,#97ff68 0 47px,#87ff78 0 52px,#78ff87 0 58px,#68ff97 0 62px,#58ffa7 0 66px,#48ffb7 0 70px,#38ffc7 0 74px,#28ffd7 0 79px,#18ffe7 0 86px,#08fff7 0)"></i><i style="background:linear-gradient(#ff6800 0 14px,#ff7800 0 15px,#ff8700 0 16px,#ff9700 0 17px,#ffa700 0 18px,#ffb700 0 19px,#ffc700 0 20px,#ffd700 0 21px,#fff700 0 23px,#f7ff08 0 26px,#e7ff18 0 28px,#d7ff28 0 32px,#c7ff38 0 35px,#b7ff48 0 38px,#a7ff58 0 43px,#97ff68 0 47px,#87ff78 0 52px,#78ff87 0 57px,#68ff97 0 62px,#58ffa7 0 66px,#48ffb7 0 70px,#38ffc7 0 73px,#28ffd7 0 78px,#18ffe7 0 86px,#08fff7 0)"></i><i style="background:linear-gradient(#ff6800 0 17px,#ff7800 0 18px,#ff8700 0 19px,#ff9700 0 20px,#ffb700 0 21px,#ffc700 0 22px,#ffe700 0 23px,#fff700 0 25px,#f7ff08 0 27px,#e7ff18 0 30px,#d7ff28 0 33px,#c7ff38 0 36px,#b7ff48 0 40px,#a7ff58 0 44px,#97ff68 0 49px,#87ff78 0 54px,#78ff87 0 58px,#68ff97 0 63px,#58ffa7 0 67px,#48ffb7 0 71px,#38ffc7 0 74px,#28ffd7 0 78px,#18ffe7 0 87px,#08fff7 0)"></i><i style="background:linear-gradient(#ff6800 0 14px,#ff7800 0 15px,#ff8700 0 16px,#ff9700 0 17px,#ffa700 0 18px,#ffb700 0 19px,#ffd700 0 20px,#fff700 0 22px,#f7ff08 0 24px,#e7ff18 0 27px,#d7ff28 0 30px,#c7ff38 0 33px,#b7ff48 0 37px,#a7ff58 0 41px,#97ff68 0 46px,#87ff78 0 50px,#78ff87 0 55px,#68ff97 0 60px,#58ffa7 0 63px,#48ffb7 0 67px,#38ffc7 0 70px,#28ffd7 0 74px,#18ffe7 0 83px,#08fff7 0)"></i><i style="background:linear-gradient(#ff6800 0 14px,#ff7800 0 15px,#ff8700 0 16px,#ff9700 0 17px,#ffa700 0 18px,#ffc700 0 19px,#ffe700 0 20px,#fff700 0 21px,#f7ff08 0 24px,#e7ff18 0 26px,#d7ff28 0 29px,#c7ff38 0 32px,#b7ff48 0 36px,#a7ff58 0 40px,#97ff68 0 45px,#87ff78 0 49px,#78ff87 0 54px,#68ff97 0 58px,#58ffa7 0 62px,#48ffb7 0 65px,#38ffc7 0 69px,#28ffd7 0 72px,#18ffe7 0 82px,#08fff7 0)"></i><i style="background:linear-gradient(#ff6800 0 13px,#ff7800 0 14px,#ff8700 0 15px,#ff9700 0 16px,#ffb700 0 17px,#ffc700 0 18px,#ffe700 0 19px,#fff700 0 20px,#f7ff08 0 22px,#e7ff18 0 25px,#d7ff28 0 27px,#c7ff38 0 31px,#b7ff48 0 34px,#a7ff58 0 38px,#97ff68 0 43px,#87ff78 0 47px,#78ff87 0 52px,#68ff97 0 56px,#58ffa7 0 60px,#48ffb7 0 63px,#38ffc7 0 66px,#28ffd7 0 70px,#18ffe7 0 79px,#08fff7 0)"></i><i style="background:linear-gradient(#ff6800 0 14px,#ff7800 0 15px,#ff8700 0 16px,#ff9700 0 17px,#ffa700 0 18px,#ffc700 0 19px,#ffe700 0 20px,#f7ff08 0 22px,#e7ff18 0 25px,#d7ff28 0 28px,#c7ff38 0 31px,#b7ff48 0 34px,#a7ff58 0 38px,#97ff68 0 43px,#87ff78 0 48px,#78ff87 0 52px,#68ff97 0 56px,#58ffa7 0 60px,#48ffb7 0 63px,#38ffc7 0 66px,#28ffd7 0 69px,#18ffe7 0 79px,#08fff7 0)"></i><i style="background:linear-gradient(#ff6800 0 15px,#ff7800 0 16px,#ff8700 0 17px,#ff9700 0 18px,#ffa700 0 19px,#ffc700 0 20px,#ffe700 0 21px,#f7ff08 0 23px,#e7ff18 0 26px,#d7ff28 0 29px,#c7ff38 0 32px,#b7ff48 0 35px,#a7ff58 0 39px,#97ff68 0 44px,#87ff78 0 48px,#78ff87 0 52px,#68ff97 0 56px,#58ffa7 0 60px,#48ffb7 0 63px,#38ffc7 0 66px,#28ffd7 0 69px,#18ffe7 0 79px,#08fff7 0)"></i><i style="background:linear-gradient(#ff6800 0 16px,#ff7800 0 17px,#ff8700 0 18px,#ff9700 0 19px,#ffa700 0 20px,#ffc700 0 21px,#ffe700 0 22px,#f7ff08 0 24px,#e7ff18 0 27px,#d7ff28 0 29px,#c7ff38 0 32px,#b7ff48 0 36px,#a7ff58 0 40px,#97ff68 0 44px,#87ff78 0 49px,#78ff87 0 53px,#68ff97 0 57px,#58ffa7 0 60px,#48ffb7 0 63px,#38ffc7 0 67px,#28ffd7 0 70px,#18ffe7 0 79px,#08fff7 0)"></i><i style="background:linear-gradient(#ff6800 0 17px,#ff7800 0 18px,#ff8700 0 19px,#ff9700 0 20px,#ffa700 0 21px,#ffb700 0 22px,#ffe700 0 23px,#fff700 0 24px,#f7ff08 0 25px,#e7ff18 0 28px,#d7ff28 0 31px,#c7ff38 0 34px,#b7ff48 0 37px,#a7ff58 0 41px,#97ff68 0 46px,#87ff78 0 50px,#78ff87 0 54px,#68ff97 0 58px,#58ffa7 0 62px,#48ffb7 0 65px,#38ffc7 0 68px,#28ffd7 0 71px,#18ffe7 0 80px,#08fff7 0)"></i><i style="background:linear-gradient(#ff6800 0 17px,#ff7800 0 18px,#ff8700 0 19px,#ff9700 0 20px,#ffb700 0 21px,#ffd700 0 22px,#fff700 0 23px,#f7ff08 0 25px,#e7ff18 0 27px,#d7ff28 0 30px,#c7ff38 0 33px,#b7ff48 0 36px,#a7ff58 0 40px,#97ff68 0 45px,#87ff78 0 50px,#78ff87 0 54px,#68ff97 0 57px,#58ffa7 0 61px,#48ffb7 0 64px,#38ffc7 0 67px,#28ffd7 0 70px,#18ffe7 0 80px,#08fff7 0)"></i><i style="background:linear-gradient(#ff6800 0 16px,#ff7800 0 17px,#ff8700 0 18px,#ff9700 0 19px,#ffa700 0 20px,#ffb700 0 21px,#ffd700 0 22px,#fff700 0 23px,#f7ff08 0 25px,#e7ff18 0 27px,#d7ff28 0 30px,#c7ff38 0 33px,#b7ff48 0 36px,#a7ff58 0 40px,#97ff68 0 45px,#87ff78 0 49px,#78ff87 0 53px,#68ff97 0 57px,#58ffa7 0 61px,#48ffb7 0 64px,#38ffc7 0 67px,#28ffd7 0 70px,#18ffe7 0 80px,#08fff7 0)"></i><i style="background:linear-gradient(#ff6800 0 15px,#ff7800 0 17px,#ff8700 0 18px,#ff9700 0 19px,#ffa700 0 20px,#ffc700 0 21px,#ffe700 0 22px,#f7ff08 0 24px,#e7ff18 0 27px,#d7ff28 0 29px,#c7ff38 0 33px,#b7ff48 0 36px,#a7ff58 0 40px,#97ff68 0 44px,#87ff78 0 49px,#78ff87 0 53px,#68ff97 0 57px,#58ffa7 0 60px,#48ffb7 0 64px,#38ffc7 0 67px,#28ffd7 0 70px,#18ffe7 0 79px,#08fff7 0)"></i><i style="background:linear-gradient(#ff6800 0 13px,#ff7800 0 16px,#ff8700 0 17px,#ff9700 0 18px,#ffa700 0 19px,#ffc700 0 20px,#ffe700 0 21px,#f7ff08 0 23px,#e7ff18 0 26px,#d7ff28 0 28px,#c7ff38 0 31px,#b7ff48 0 34px,#a7ff58 0 38px,#97ff68 0 43px,#87ff78 0 48px,#78ff87 0 52px,#68ff97 0 56px,#58ffa7 0 59px,#48ffb7 0 62px,#38ffc7 0 65px,#28ffd7 0 69px,#18ffe7 0 78px,#08fff7 0)"></i><i style="background:linear-gradient(#ff6800 0 10px,#ff7800 0 14px,#ff8700 0 15px,#ff9700 0 16px,#ffb700 0 17px,#ffc700 0 18px,#ffe700 0 19px,#f7ff08 0 21px,#e7ff18 0 23px,#d7ff28 0 26px,#c7ff38 0 29px,#b7ff48 0 32px,#a7ff58 0 36px,#97ff68 0 41px,#87ff78 0 46px,#78ff87 0 50px,#68ff97 0 53px,#58ffa7 0 57px,#48ffb7 0 60px,#38ffc7 0 63px,#28ffd7 0 66px,#18ffe7 0 76px,#08fff7 0)"></i><i style="background:linear-gradient(#ff6800 0 9px,#ff7800 0 14px,#ff8700 0 15px,#ff9700 0 16px,#ffa700 0 17px,#ffb700 0 18px,#ffd700 0 19px,#ffe700 0 20px,#f7ff08 0 22px,#e7ff18 0 24px,#d7ff28 0 27px,#c7ff38 0 30px,#b7ff48 0 33px,#a7ff58 0 37px,#97ff68 0 42px,#87ff78 0 46px,#78ff87 0 50px,#68ff97 0 54px,#58ffa7 0 58px,#48ffb7 0 61px,#38ffc7 0 64px,#28ffd7 0 67px,#18ffe7 0 77px,#08fff7 0)"></i><i style="background:linear-gradient(#ff6800 0 6px,#ff7800 0 12px,#ff8700 0 13px,#ff9700 0 14px,#ffa700 0 15px,#ffb700 0 16px,#ffd700 0 17px,#fff700 0 18px,#f7ff08 0 20px,#e7ff18 0 22px,#d7ff28 0 25px,#c7ff38 0 28px,#b7ff48 0 31px,#a7ff58 0 35px,#97ff68 0 40px,#87ff78 0 44px,#78ff87 0 48px,#68ff97 0 52px,#58ffa7 0 56px,#48ffb7 0 59px,#38ffc7 0 62px,#28ffd7 0 65px,#18ffe7 0 75px,#08fff7 0)"></i><i style="background:linear-gradient(#ff6800 0 6px,#ff7800 0 13px,#ff8700 0 14px,#ff9700 0 15px,#ffa700 0 16px,#ffc700 0 17px,#ffe700 0 18px,#fff700 0 19px,#f7ff08 0 20px,#e7ff18 0 23px,#d7ff28 0 25px,#c7ff38 0 28px,#b7ff48 0 31px,#a7ff58 0 35px,#97ff68 0 40px,#87ff78 0 45px,#78ff87 0 49px,#68ff97 0 53px,#58ffa7 0 56px,#48ffb7 0 59px,#38ffc7 0 62px,#28ffd7 0 66px,#18ffe7 0 75px,#08fff7 0)"></i><i style="background:linear-gradient(#ff8700 0 11px,#ff9700 0 13px,#ffa700 0 14px,#ffb700 0 15px,#ffc700 0 16px,#ffd700 0 17px,#fff700 0 18px,#f7ff08 0 19px,#e7ff18 0 21px,#d7ff28 0 24px,#c7ff38 0 27px,#b7ff48 0 30px,#a7ff58 0 34px,#97ff68 0 39px,#87ff78 0 43px,#78ff87 0 48px,#68ff97 0 52px,#58ffa7 0 55px,#48ffb7 0 59px,#38ffc7 0 62px,#28ffd7 0 65px,#18ffe7 0 74px,#08fff7 0)"></i><i style="background:linear-gradient(#ffe700 0 11px,#fff700 0 16px,#f7ff08 0 19px,#e7ff18 0 21px,#d7ff28 0 22px,#c7ff38 0 24px,#b7ff48 0 28px,#a7ff58 0 33px,#97ff68 0 38px,#87ff78 0 43px,#78ff87 0 47px,#68ff97 0 52px,#58ffa7 0 56px,#48ffb7 0 60px,#38ffc7 0 63px,#28ffd7 0 67px,#18ffe7 0 74px,#08fff7 0)"></i><i style="background:linear-gradient(#d7ff28 0 3px,#c7ff38 0 9px,#b7ff48 0 13px,#a7ff58 0 19px,#97ff68 0 28px,#87ff78 0 36px,#78ff87 0 41px,#68ff97 0 45px,#58ffa7 0 50px,#48ffb7 0 54px,#38ffc7 0 58px,#28ffd7 0 62px,#18ffe7 0 69px,#08fff7 0)"></i><i style="background:linear-gradient(#d7ff28 0 3px,#c7ff38 0 10px,#b7ff48 0 13px,#a7ff58 0 18px,#97ff68 0 28px,#87ff78 0 37px,#78ff87 0 41px,#68ff97 0 46px,#58ffa7 0 50px,#48ffb7 0 55px,#38ffc7 0 58px,#28ffd7 0 62px,#18ffe7 0 69px,#08fff7 0)"></i><i style="background:linear-gradient(#d7ff28 0 3px,#c7ff38 0 8px,#b7ff48 0 11px,#a7ff58 0 15px,#97ff68 0 26px,#87ff78 0 36px,#78ff87 0 40px,#68ff97 0 45px,#58ffa7 0 49px,#48ffb7 0 54px,#38ffc7 0 57px,#28ffd7 0 60px,#18ffe7 0 67px,#08fff7 0)"></i><i style="background:linear-gradient(#d7ff28 0 3px,#c7ff38 0 8px,#b7ff48 0 11px,#a7ff58 0 13px,#97ff68 0 25px,#87ff78 0 36px,#78ff87 0 41px,#68ff97 0 45px,#58ffa7 0 49px,#48ffb7 0 54px,#38ffc7 0 57px,#28ffd7 0 60px,#18ffe7 0 67px,#08fff7 0)"></i><i style="background:linear-gradient(#d7ff28 0 7px,#c7ff38 0 9px,#b7ff48 0 12px,#a7ff58 0 18px,#97ff68 0 25px,#87ff78 0 35px,#78ff87 0 39px,#68ff97 0 44px,#58ffa7 0 48px,#48ffb7 0 52px,#38ffc7 0 55px,#28ffd7 0 58px,#18ffe7 0 65px,#08fff7 0)"></i><i style="background:linear-gradient(#e7ff18 0 7px,#d7ff28 0 11px,#c7ff38 0 14px,#b7ff48 0 18px,#a7ff58 0 22px,#97ff68 0 28px,#87ff78 0 35px,#78ff87 0 40px,#68ff97 0 45px,#58ffa7 0 48px,#48ffb7 0 52px,#38ffc7 0 55px,#28ffd7 0 58px,#18ffe7 0 66px,#08fff7 0)"></i><i style="background:linear-gradient(#f7ff08 0 7px,#e7ff18 0 12px,#d7ff28 0 15px,#c7ff38 0 18px,#b7ff48 0 20px,#a7ff58 0 23px,#97ff68 0 30px,#87ff78 0 36px,#78ff87 0 40px,#68ff97 0 45px,#58ffa7 0 48px,#48ffb7 0 52px,#38ffc7 0 55px,#28ffd7 0 58px,#18ffe7 0 65px,#08fff7 0)"></i><i style="background:linear-gradient(#fff700 0 9px,#f7ff08 0 15px,#e7ff18 0 17px,#d7ff28 0 19px,#c7ff38 0 21px,#b7ff48 0 23px,#a7ff58 0 27px,#97ff68 0 32px,#87ff78 0 37px,#78ff87 0 42px,#68ff97 0 47px,#58ffa7 0 50px,#48ffb7 0 53px,#38ffc7 0 56px,#28ffd7 0 59px,#18ffe7 0 63px,#08fff7 0)"></i><i style="background:linear-gradient(#ffe700 0 3px,#fff700 0 13px,#f7ff08 0 17px,#e7ff18 0 19px,#d7ff28 0 21px,#c7ff38 0 23px,#b7ff48 0 25px,#a7ff58 0 29px,#97ff68 0 33px,#87ff78 0 38px,#78ff87 0 43px,#68ff97 0 47px,#58ffa7 0 50px,#48ffb7 0 53px,#38ffc7 0 56px,#28ffd7 0 59px,#18ffe7 0 62px,#08fff7 0)"></i><i style="background:linear-gradient(#ffe700 0 5px,#fff700 0 17px,#f7ff08 0 20px,#e7ff18 0 22px,#d7ff28 0 24px,#c7ff38 0 26px,#b7ff48 0 28px,#a7ff58 0 32px,#97ff68 0 35px,#87ff78 0 40px,#78ff87 0 45px,#68ff97 0 48px,#58ffa7 0 51px,#48ffb7 0 54px,#38ffc7 0 57px,#28ffd7 0 60px,#18ffe7 0 63px,#08fff7 0)"></i><i style="background:linear-gradient(#ffe700 0 4px,#fff700 0 15px,#f7ff08 0 19px,#e7ff18 0 21px,#d7ff28 0 23px,#c7ff38 0 25px,#b7ff48 0 27px,#a7ff58 0 30px,#97ff68 0 33px,#87ff78 0 38px,#78ff87 0 43px,#68ff97 0 46px,#58ffa7 0 48px,#48ffb7 0 51px,#38ffc7 0 54px,#28ffd7 0 56px,#18ffe7 0 59px,#08fff7 0)"></i><i style="background:linear-gradient(#ffe700 0 5px,#fff700 0 17px,#f7ff08 0 20px,#e7ff18 0 23px,#d7ff28 0 25px,#c7ff38 0 27px,#b7ff48 0 29px,#a7ff58 0 31px,#97ff68 0 34px,#87ff78 0 39px,#78ff87 0 44px,#68ff97 0 47px,#58ffa7 0 49px,#48ffb7 0 52px,#38ffc7 0 54px,#28ffd7 0 57px,#18ffe7 0 60px,#08fff7 0)"></i><i style="background:linear-gradient(#ffe700 0 1px,#fff700 0 12px,#f7ff08 0 16px,#e7ff18 0 19px,#d7ff28 0 22px,#c7ff38 0 24px,#b7ff48 0 26px,#a7ff58 0 29px,#97ff68 0 32px,#87ff78 0 36px,#78ff87 0 40px,#68ff97 0 44px,#58ffa7 0 47px,#48ffb7 0 50px,#38ffc7 0 53px,#28ffd7 0 55px,#18ffe7 0 59px,#08fff7 0)"></i><i style="background:linear-gradient(#fff700 0 9px,#f7ff08 0 14px,#e7ff18 0 17px,#d7ff28 0 19px,#c7ff38 0 22px,#b7ff48 0 25px,#a7ff58 0 27px,#97ff68 0 30px,#87ff78 0 33px,#78ff87 0 38px,#68ff97 0 42px,#58ffa7 0 45px,#48ffb7 0 49px,#38ffc7 0 52px,#28ffd7 0 55px,#18ffe7 0 59px,#08fff7 0)"></i><i style="background:linear-gradient(#fff700 0 6px,#f7ff08 0 12px,#e7ff18 0 14px,#d7ff28 0 17px,#c7ff38 0 19px,#b7ff48 0 22px,#a7ff58 0 24px,#97ff68 0 28px,#87ff78 0 31px,#78ff87 0 35px,#68ff97 0 39px,#58ffa7 0 43px,#48ffb7 0 47px,#38ffc7 0 50px,#28ffd7 0 54px,#18ffe7 0 58px,#08fff7 0)"></i><i style="background:linear-gradient(#fff700 0 4px,#f7ff08 0 10px,#e7ff18 0 13px,#d7ff28 0 15px,#c7ff38 0 17px,#b7ff48 0 19px,#a7ff58 0 21px,#97ff68 0 25px,#87ff78 0 29px,#78ff87 0 33px,#68ff97 0 37px,#58ffa7 0 41px,#48ffb7 0 45px,#38ffc7 0 48px,#28ffd7 0 52px,#18ffe7 0 57px,#08fff7 0)"></i><i style="background:linear-gradient(#fff700 0 1px,#f7ff08 0 7px,#e7ff18 0 10px,#d7ff28 0 13px,#c7ff38 0 15px,#b7ff48 0 17px,#a7ff58 0 19px,#97ff68 0 22px,#87ff78 0 26px,#78ff87 0 31px,#68ff97 0 35px,#58ffa7 0 39px,#48ffb7 0 43px,#38ffc7 0 47px,#28ffd7 0 51px,#18ffe7 0 57px,#08fff7 0)"></i><i style="background:linear-gradient(#f7ff08 0 6px,#e7ff18 0 11px,#d7ff28 0 13px,#c7ff38 0 15px,#b7ff48 0 17px,#a7ff58 0 20px,#97ff68 0 23px,#87ff78 0 27px,#78ff87 0 32px,#68ff97 0 36px,#58ffa7 0 40px,#48ffb7 0 44px,#38ffc7 0 48px,#28ffd7 0 53px,#18ffe7 0 61px,#08fff7 0)"></i><i style="background:linear-gradient(#f7ff08 0 2px,#e7ff18 0 6px,#d7ff28 0 9px,#c7ff38 0 11px,#b7ff48 0 14px,#a7ff58 0 16px,#97ff68 0 20px,#87ff78 0 24px,#78ff87 0 29px,#68ff97 0 33px,#58ffa7 0 38px,#48ffb7 0 42px,#38ffc7 0 46px,#28ffd7 0 51px,#18ffe7 0 59px,#08fff7 0)"></i><i style="background:linear-gradient(#f7ff08 0 1px,#e7ff18 0 6px,#d7ff28 0 9px,#c7ff38 0 11px,#b7ff48 0 14px,#a7ff58 0 16px,#97ff68 0 20px,#87ff78 0 25px,#78ff87 0 29px,#68ff97 0 34px,#58ffa7 0 38px,#48ffb7 0 43px,#38ffc7 0 47px,#28ffd7 0 53px,#18ffe7 0 60px,#08fff7 0)"></i><i style="background:linear-gradient(#f7ff08 0 1px,#e7ff18 0 6px,#d7ff28 0 9px,#c7ff38 0 11px,#b7ff48 0 14px,#a7ff58 0 17px,#97ff68 0 20px,#87ff78 0 26px,#78ff87 0 30px,#68ff97 0 35px,#58ffa7 0 39px,#48ffb7 0 44px,#38ffc7 0 48px,#28ffd7 0 54px,#18ffe7 0 62px,#08fff7 0)"></i><i style="background:linear-gradient(#e7ff18 0 7px,#d7ff28 0 10px,#c7ff38 0 12px,#b7ff48 0 15px,#a7ff58 0 18px,#97ff68 0 22px,#87ff78 0 27px,#78ff87 0 32px,#68ff97 0 36px,#58ffa7 0 40px,#48ffb7 0 45px,#38ffc7 0 49px,#28ffd7 0 55px,#18ffe7 0 63px,#08fff7 0)"></i><i style="background:linear-gradient(#e7ff18 0 6px,#d7ff28 0 9px,#c7ff38 0 12px,#b7ff48 0 15px,#a7ff58 0 17px,#97ff68 0 21px,#87ff78 0 26px,#78ff87 0 31px,#68ff97 0 35px,#58ffa7 0 40px,#48ffb7 0 44px,#38ffc7 0 48px,#28ffd7 0 54px,#18ffe7 0 62px,#08fff7 0)"></i><i style="background:linear-gradient(#e7ff18 0 5px,#d7ff28 0 9px,#c7ff38 0 11px,#b7ff48 0 14px,#a7ff58 0 17px,#97ff68 0 21px,#87ff78 0 26px,#78ff87 0 31px,#68ff97 0 35px,#58ffa7 0 40px,#48ffb7 0 44px,#38ffc7 0 48px,#28ffd7 0 54px,#18ffe7 0 62px,#08fff7 0)"></i><i style="background:linear-gradient(#e7ff18 0 6px,#d7ff28 0 10px,#c7ff38 0 12px,#b7ff48 0 15px,#a7ff58 0 18px,#97ff68 0 23px,#87ff78 0 28px,#78ff87 0 32px,#68ff97 0 36px,#58ffa7 0 41px,#48ffb7 0 45px,#38ffc7 0 49px,#28ffd7 0 55px,#18ffe7 0 62px,#08fff7 0)"></i><i style="background:linear-gradient(#e7ff18 0 6px,#d7ff28 0 9px,#c7ff38 0 12px,#b7ff48 0 15px,#a7ff58 0 19px,#97ff68 0 23px,#87ff78 0 28px,#78ff87 0 32px,#68ff97 0 36px,#58ffa7 0 41px,#48ffb7 0 45px,#38ffc7 0 49px,#28ffd7 0 55px,#18ffe7 0 62px,#08fff7 0)"></i><i style="background:linear-gradient(#e7ff18 0 4px,#d7ff28 0 8px,#c7ff38 0 11px,#b7ff48 0 14px,#a7ff58 0 18px,#97ff68 0 22px,#87ff78 0 27px,#78ff87 0 31px,#68ff97 0 35px,#58ffa7 0 39px,#48ffb7 0 43px,#38ffc7 0 48px,#28ffd7 0 53px,#18ffe7 0 61px,#08fff7 0)"></i><i style="background:linear-gradient(#e7ff18 0 3px,#d7ff28 0 7px,#c7ff38 0 11px,#b7ff48 0 14px,#a7ff58 0 17px,#97ff68 0 22px,#87ff78 0 26px,#78ff87 0 31px,#68ff97 0 35px,#58ffa7 0 39px,#48ffb7 0 43px,#38ffc7 0 47px,#28ffd7 0 52px,#18ffe7 0 60px,#08fff7 0)"></i><i style="background:linear-gradient(#e7ff18 0 6px,#d7ff28 0 10px,#c7ff38 0 13px,#b7ff48 0 17px,#a7ff58 0 20px,#97ff68 0 24px,#87ff78 0 29px,#78ff87 0 34px,#68ff97 0 38px,#58ffa7 0 41px,#48ffb7 0 45px,#38ffc7 0 50px,#28ffd7 0 55px,#18ffe7 0 62px,#08fff7 0)"></i><i style="background:linear-gradient(#e7ff18 0 4px,#d7ff28 0 8px,#c7ff38 0 12px,#b7ff48 0 15px,#a7ff58 0 19px,#97ff68 0 23px,#87ff78 0 28px,#78ff87 0 32px,#68ff97 0 36px,#58ffa7 0 40px,#48ffb7 0 44px,#38ffc7 0 48px,#28ffd7 0 53px,#18ffe7 0 60px,#08fff7 0)"></i><i style="background:linear-gradient(#e7ff18 0 5px,#d7ff28 0 9px,#c7ff38 0 12px,#b7ff48 0 16px,#a7ff58 0 20px,#97ff68 0 24px,#87ff78 0 29px,#78ff87 0 33px,#68ff97 0 37px,#58ffa7 0 41px,#48ffb7 0 45px,#38ffc7 0 49px,#28ffd7 0 54px,#18ffe7 0 60px,#08fff7 0)"></i><i style="background:linear-gradient(#e7ff18 0 4px,#d7ff28 0 9px,#c7ff38 0 13px,#b7ff48 0 16px,#a7ff58 0 20px,#97ff68 0 25px,#87ff78 0 29px,#78ff87 0 34px,#68ff97 0 37px,#58ffa7 0 41px,#48ffb7 0 45px,#38ffc7 0 49px,#28ffd7 0 54px,#18ffe7 0 60px,#08fff7 0)"></i><i style="background:linear-gradient(#e7ff18 0 3px,#d7ff28 0 8px,#c7ff38 0 12px,#b7ff48 0 15px,#a7ff58 0 19px,#97ff68 0 24px,#87ff78 0 28px,#78ff87 0 33px,#68ff97 0 36px,#58ffa7 0 40px,#48ffb7 0 44px,#38ffc7 0 48px,#28ffd7 0 53px,#18ffe7 0 59px,#08fff7 0)"></i><i style="background:linear-gradient(#e7ff18 0 4px,#d7ff28 0 9px,#c7ff38 0 13px,#b7ff48 0 17px,#a7ff58 0 21px,#97ff68 0 25px,#87ff78 0 29px,#78ff87 0 34px,#68ff97 0 37px,#58ffa7 0 40px,#48ffb7 0 44px,#38ffc7 0 48px,#28ffd7 0 53px,#18ffe7 0 60px,#08fff7 0)"></i><i style="background:linear-gradient(#e7ff18 0 3px,#d7ff28 0 8px,#c7ff38 0 12px,#b7ff48 0 16px,#a7ff58 0 20px,#97ff68 0 24px,#87ff78 0 28px,#78ff87 0 32px,#68ff97 0 36px,#58ffa7 0 39px,#48ffb7 0 43px,#38ffc7 0 47px,#28ffd7 0 52px,#18ffe7 0 59px,#08fff7 0)"></i><i style="background:linear-gradient(#e7ff18 0 3px,#d7ff28 0 8px,#c7ff38 0 12px,#b7ff48 0 16px,#a7ff58 0 20px,#97ff68 0 24px,#87ff78 0 28px,#78ff87 0 32px,#68ff97 0 36px,#58ffa7 0 39px,#48ffb7 0 43px,#38ffc7 0 46px,#28ffd7 0 51px,#18ffe7 0 59px,#08fff7 0)"></i><i style="background:linear-gradient(#d7ff28 0 5px,#c7ff38 0 9px,#b7ff48 0 13px,#a7ff58 0 17px,#97ff68 0 21px,#87ff78 0 24px,#78ff87 0 28px,#68ff97 0 31px,#58ffa7 0 35px,#48ffb7 0 38px,#38ffc7 0 42px,#28ffd7 0 47px,#18ffe7 0 55px,#08fff7 0)"></i><i style="background:linear-gradient(#e7ff18 0 1px,#d7ff28 0 6px,#c7ff38 0 11px,#b7ff48 0 15px,#a7ff58 0 19px,#97ff68 0 22px,#87ff78 0 26px,#78ff87 0 30px,#68ff97 0 33px,#58ffa7 0 36px,#48ffb7 0 40px,#38ffc7 0 43px,#28ffd7 0 47px,#18ffe7 0 57px,#08fff7 0)"></i><i style="background:linear-gradient(#e7ff18 0 1px,#d7ff28 0 7px,#c7ff38 0 11px,#b7ff48 0 16px,#a7ff58 0 19px,#97ff68 0 23px,#87ff78 0 27px,#78ff87 0 30px,#68ff97 0 33px,#58ffa7 0 36px,#48ffb7 0 40px,#38ffc7 0 43px,#28ffd7 0 47px,#18ffe7 0 57px,#08fff7 0)"></i><i style="background:linear-gradient(#d7ff28 0 10px,#c7ff38 0 15px,#b7ff48 0 19px,#a7ff58 0 23px,#97ff68 0 26px,#87ff78 0 30px,#78ff87 0 33px,#68ff97 0 36px,#58ffa7 0 39px,#48ffb7 0 43px,#38ffc7 0 46px,#28ffd7 0 50px,#18ffe7 0 60px,#08fff7 0)"></i><i style="background:linear-gradient(#d7ff28 0 7px,#c7ff38 0 11px,#b7ff48 0 16px,#a7ff58 0 20px,#97ff68 0 23px,#87ff78 0 26px,#78ff87 0 29px,#68ff97 0 32px,#58ffa7 0 36px,#48ffb7 0 39px,#38ffc7 0 42px,#28ffd7 0 46px,#18ffe7 0 56px,#08fff7 0)"></i><i style="background:linear-gradient(#d7ff28 0 7px,#c7ff38 0 12px,#b7ff48 0 16px,#a7ff58 0 20px,#97ff68 0 23px,#87ff78 0 27px,#78ff87 0 30px,#68ff97 0 32px,#58ffa7 0 35px,#48ffb7 0 39px,#38ffc7 0 42px,#28ffd7 0 46px,#18ffe7 0 55px,#08fff7 0)"></i><i style="background:linear-gradient(#d7ff28 0 6px,#c7ff38 0 11px,#b7ff48 0 16px,#a7ff58 0 20px,#97ff68 0 23px,#87ff78 0 26px,#78ff87 0 29px,#68ff97 0 31px,#58ffa7 0 34px,#48ffb7 0 37px,#38ffc7 0 41px,#28ffd7 0 44px,#18ffe7 0 49px,#08fff7 0)"></i><i style="background:linear-gradient(#d7ff28 0 6px,#c7ff38 0 11px,#b7ff48 0 16px,#a7ff58 0 20px,#97ff68 0 23px,#87ff78 0 26px,#78ff87 0 29px,#68ff97 0 32px,#58ffa7 0 34px,#48ffb7 0 37px,#38ffc7 0 41px,#28ffd7 0 44px,#18ffe7 0 48px,#08fff7 0)"></i><i style="background:linear-gradient(#d7ff28 0 2px,#c7ff38 0 9px,#b7ff48 0 13px,#a7ff58 0 17px,#97ff68 0 21px,#87ff78 0 24px,#78ff87 0 26px,#68ff97 0 29px,#58ffa7 0 31px,#48ffb7 0 34px,#38ffc7 0 37px,#28ffd7 0 41px,#18ffe7 0 45px,#08fff7 0)"></i><i style="background:linear-gradient(#d7ff28 0 1px,#c7ff38 0 7px,#b7ff48 0 12px,#a7ff58 0 16px,#97ff68 0 20px,#87ff78 0 22px,#78ff87 0 25px,#68ff97 0 27px,#58ffa7 0 30px,#48ffb7 0 33px,#38ffc7 0 36px,#28ffd7 0 39px,#18ffe7 0 44px,#08fff7 0)"></i><i style="background:linear-gradient(#c7ff38 0 11px,#b7ff48 0 16px,#a7ff58 0 21px,#97ff68 0 24px,#87ff78 0 27px,#78ff87 0 30px,#68ff97 0 32px,#58ffa7 0 34px,#48ffb7 0 37px,#38ffc7 0 40px,#28ffd7 0 43px,#18ffe7 0 48px,#08fff7 0)"></i><i style="background:linear-gradient(#c7ff38 0 11px,#b7ff48 0 17px,#a7ff58 0 21px,#97ff68 0 25px,#87ff78 0 28px,#78ff87 0 30px,#68ff97 0 32px,#58ffa7 0 35px,#48ffb7 0 37px,#38ffc7 0 40px,#28ffd7 0 43px,#18ffe7 0 47px,#08fff7 0)"></i><i style="background:linear-gradient(#c7ff38 0 11px,#b7ff48 0 17px,#a7ff58 0 22px,#97ff68 0 26px,#87ff78 0 28px,#78ff87 0 31px,#68ff97 0 33px,#58ffa7 0 35px,#48ffb7 0 37px,#38ffc7 0 40px,#28ffd7 0 43px,#18ffe7 0 47px,#08fff7 0)"></i><i style="background:linear-gradient(#c7ff38 0 6px,#b7ff48 0 14px,#a7ff58 0 18px,#97ff68 0 22px,#87ff78 0 25px,#78ff87 0 27px,#68ff97 0 29px,#58ffa7 0 31px,#48ffb7 0 34px,#38ffc7 0 36px,#28ffd7 0 39px,#18ffe7 0 42px,#08fff7 0 49px,#00f7ff 0)"></i><i style="background:linear-gradient(#c7ff38 0 4px,#b7ff48 0 13px,#a7ff58 0 17px,#97ff68 0 21px,#87ff78 0 24px,#78ff87 0 26px,#68ff97 0 28px,#58ffa7 0 30px,#48ffb7 0 32px,#38ffc7 0 35px,#28ffd7 0 37px,#18ffe7 0 41px,#08fff7 0 47px,#00f7ff 0)"></i><i style="background:linear-gradient(#b7ff48 0 12px,#a7ff58 0 16px,#97ff68 0 21px,#87ff78 0 24px,#78ff87 0 26px,#68ff97 0 28px,#58ffa7 0 30px,#48ffb7 0 32px,#38ffc7 0 34px,#28ffd7 0 36px,#18ffe7 0 40px,#08fff7 0 44px,#00f7ff 0)"></i><i style="background:linear-gradient(#b7ff48 0 11px,#a7ff58 0 16px,#97ff68 0 20px,#87ff78 0 24px,#78ff87 0 26px,#68ff97 0 28px,#58ffa7 0 30px,#48ffb7 0 32px,#38ffc7 0 34px,#28ffd7 0 36px,#18ffe7 0 39px,#08fff7 0 42px,#00f7ff 0)"></i><i style="background:linear-gradient(#b7ff48 0 9px,#a7ff58 0 15px,#97ff68 0 19px,#87ff78 0 23px,#78ff87 0 25px,#68ff97 0 27px,#58ffa7 0 29px,#48ffb7 0 30px,#38ffc7 0 32px,#28ffd7 0 34px,#18ffe7 0 37px,#08fff7 0 41px,#00f7ff 0)"></i><i style="background:linear-gradient(#b7ff48 0 7px,#a7ff58 0 14px,#97ff68 0 18px,#87ff78 0 22px,#78ff87 0 24px,#68ff97 0 26px,#58ffa7 0 28px,#48ffb7 0 30px,#38ffc7 0 32px,#28ffd7 0 34px,#18ffe7 0 36px,#08fff7 0 39px,#00f7ff 0)"></i><i style="background:linear-gradient(#b7ff48 0 3px,#a7ff58 0 13px,#97ff68 0 17px,#87ff78 0 21px,#78ff87 0 23px,#68ff97 0 25px,#58ffa7 0 27px,#48ffb7 0 29px,#38ffc7 0 31px,#28ffd7 0 33px,#18ffe7 0 34px,#08fff7 0 38px,#00f7ff 0)"></i><i style="background:linear-gradient(#a7ff58 0 10px,#97ff68 0 14px,#87ff78 0 18px,#78ff87 0 21px,#68ff97 0 23px,#58ffa7 0 25px,#48ffb7 0 27px,#38ffc7 0 29px,#28ffd7 0 31px,#18ffe7 0 33px,#08fff7 0 36px,#00f7ff 0)"></i><i style="background:linear-gradient(#a7ff58 0 9px,#97ff68 0 14px,#87ff78 0 18px,#78ff87 0 22px,#68ff97 0 24px,#58ffa7 0 26px,#48ffb7 0 28px,#38ffc7 0 30px,#28ffd7 0 32px,#18ffe7 0 34px,#08fff7 0 37px,#00f7ff 0)"></i><i style="background:linear-gradient(#a7ff58 0 7px,#97ff68 0 16px,#87ff78 0 19px,#78ff87 0 23px,#68ff97 0 26px,#58ffa7 0 28px,#48ffb7 0 30px,#38ffc7 0 32px,#28ffd7 0 34px,#18ffe7 0 36px,#08fff7 0 39px,#00f7ff 0)"></i><i style="background:linear-gradient(#97ff68 0 14px,#87ff78 0 18px,#78ff87 0 22px,#68ff97 0 25px,#58ffa7 0 27px,#48ffb7 0 29px,#38ffc7 0 31px,#28ffd7 0 33px,#18ffe7 0 36px,#08fff7 0 39px,#00f7ff 0)"></i><i style="background:linear-gradient(#97ff68 0 12px,#87ff78 0 16px,#78ff87 0 20px,#68ff97 0 23px,#58ffa7 0 26px,#48ffb7 0 28px,#38ffc7 0 30px,#28ffd7 0 32px,#18ffe7 0 35px,#08fff7 0 38px,#00f7ff 0)"></i><i style="background:linear-gradient(#97ff68 0 8px,#87ff78 0 13px,#78ff87 0 16px,#68ff97 0 20px,#58ffa7 0 23px,#48ffb7 0 25px,#38ffc7 0 27px,#28ffd7 0 29px,#18ffe7 0 32px,#08fff7 0 35px,#00f7ff 0)"></i><i style="background:linear-gradient(#87ff78 0 13px,#78ff87 0 16px,#68ff97 0 20px,#58ffa7 0 23px,#48ffb7 0 25px,#38ffc7 0 27px,#28ffd7 0 30px,#18ffe7 0 32px,#08fff7 0 35px,#00f7ff 0)"></i><i style="background:linear-gradient(#87ff78 0 12px,#78ff87 0 16px,#68ff97 0 19px,#58ffa7 0 22px,#48ffb7 0 25px,#38ffc7 0 27px,#28ffd7 0 29px,#18ffe7 0 32px,#08fff7 0 36px,#00f7ff 0)"></i><i style="background:linear-gradient(#87ff78 0 9px,#78ff87 0 12px,#68ff97 0 16px,#58ffa7 0 19px,#48ffb7 0 22px,#38ffc7 0 24px,#28ffd7 0 26px,#18ffe7 0 29px,#08fff7 0 32px,#00f7ff 0)"></i><i style="background:linear-gradient(#87ff78 0 8px,#78ff87 0 12px,#68ff97 0 16px,#58ffa7 0 19px,#48ffb7 0 22px,#38ffc7 0 24px,#28ffd7 0 27px,#18ffe7 0 29px,#08fff7 0 33px,#00f7ff 0)"></i><i style="background:linear-gradient(#87ff78 0 9px,#78ff87 0 13px,#68ff97 0 16px,#58ffa7 0 20px,#48ffb7 0 23px,#38ffc7 0 25px,#28ffd7 0 27px,#18ffe7 0 30px,#08fff7 0 33px,#00f7ff 0)"></i><i style="background:linear-gradient(#87ff78 0 10px,#78ff87 0 14px,#68ff97 0 17px,#58ffa7 0 21px,#48ffb7 0 23px,#38ffc7 0 26px,#28ffd7 0 28px,#18ffe7 0 31px,#08fff7 0 34px,#00f7ff 0)"></i><i style="background:linear-gradient(#87ff78 0 11px,#78ff87 0 15px,#68ff97 0 18px,#58ffa7 0 22px,#48ffb7 0 24px,#38ffc7 0 27px,#28ffd7 0 29px,#18ffe7 0 32px,#08fff7 0 35px,#00f7ff 0)"></i><i style="background:linear-gradient(#87ff78 0 9px,#78ff87 0 13px,#68ff97 0 17px,#58ffa7 0 20px,#48ffb7 0 23px,#38ffc7 0 25px,#28ffd7 0 28px,#18ffe7 0 30px,#08fff7 0 33px,#00f7ff 0)"></i><b style="left:40.7px;width:2.4px;top:97.5px;height:88.5px"></b><b style="left:85.8px;width:4.2px;top:164.5px;height:21.5px"></b><b style="left:135.8px;width:1.2px;top:112.5px;height:56px;opacity:0.85"></b><b style="left:180.3px;width:1.2px;top:130.5px;height:55.5px;opacity:0.9"></b><b style="left:222.3px;width:1.8px;top:120.5px;height:65.5px"></b><b style="left:349.8px;width:1px;top:90.5px;height:31px;opacity:0.6"></b></div>
<div class="d" style="top:307.5px"><i style="background:linear-gradient(#68ff97 0 22px,#78ff87 0 26px,#87ff78 0 31px,#97ff68 0 35px,#a7ff58 0 39px,#b7ff48 0 43px,#c7ff38 0 46px,#d7ff28 0 48px,#e7ff18 0 51px,#f7ff08 0 53px,#fff700 0 56px,#ffe700 0 58px,#ffd700 0 60px,#ffc700 0 62px,#ffb700 0 67px,#ffa700 0 72px,#ff9700 0 81px,#ff8700 0 99px,#ff7800 0 117px,#ff6800 0 135px,#ff5800 0)"></i><i style="background:linear-gradient(#68ff97 0 20px,#78ff87 0 24px,#87ff78 0 29px,#97ff68 0 33px,#a7ff58 0 37px,#b7ff48 0 41px,#c7ff38 0 44px,#d7ff28 0 46px,#e7ff18 0 49px,#f7ff08 0 51px,#fff700 0 54px,#ffe700 0 56px,#ffd700 0 58px,#ffc700 0 60px,#ffb700 0 65px,#ffa700 0 70px,#ff9700 0 79px,#ff8700 0 97px,#ff7800 0 115px,#ff6800 0 133px,#ff5800 0)"></i><i style="background:linear-gradient(#58ffa7 0 14px,#68ff97 0 19px,#78ff87 0 24px,#87ff78 0 28px,#97ff68 0 32px,#a7ff58 0 36px,#b7ff48 0 40px,#c7ff38 0 43px,#d7ff28 0 46px,#e7ff18 0 48px,#f7ff08 0 51px,#fff700 0 53px,#ffe700 0 55px,#ffd700 0 57px,#ffc700 0 60px,#ffb700 0 64px,#ffa700 0 69px,#ff9700 0 78px,#ff8700 0 97px,#ff7800 0 114px,#ff6800 0 132px,#ff5800 0)"></i><i style="background:linear-gradient(#58ffa7 0 11px,#68ff97 0 16px,#78ff87 0 20px,#87ff78 0 24px,#97ff68 0 29px,#a7ff58 0 33px,#b7ff48 0 37px,#c7ff38 0 39px,#d7ff28 0 42px,#e7ff18 0 45px,#f7ff08 0 47px,#fff700 0 49px,#ffe700 0 51px,#ffd700 0 54px,#ffc700 0 56px,#ffb700 0 60px,#ffa700 0 66px,#ff9700 0 74px,#ff8700 0 93px,#ff7800 0 110px,#ff6800 0 128px,#ff5800 0)"></i><i style="background:linear-gradient(#58ffa7 0 14px,#68ff97 0 19px,#78ff87 0 23px,#87ff78 0 27px,#97ff68 0 32px,#a7ff58 0 36px,#b7ff48 0 40px,#c7ff38 0 42px,#d7ff28 0 45px,#e7ff18 0 48px,#f7ff08 0 50px,#fff700 0 52px,#ffe700 0 54px,#ffd700 0 57px,#ffc700 0 59px,#ffb700 0 63px,#ffa700 0 69px,#ff9700 0 77px,#ff8700 0 96px,#ff7800 0 113px,#ff6800 0 131px,#ff5800 0)"></i><i style="background:linear-gradient(#58ffa7 0 15px,#68ff97 0 19px,#78ff87 0 23px,#87ff78 0 28px,#97ff68 0 32px,#a7ff58 0 36px,#b7ff48 0 40px,#c7ff38 0 43px,#d7ff28 0 45px,#e7ff18 0 48px,#f7ff08 0 50px,#fff700 0 53px,#ffe700 0 55px,#ffd700 0 57px,#ffc700 0 59px,#ffb700 0 64px,#ffa700 0 69px,#ff9700 0 78px,#ff8700 0 96px,#ff7800 0 114px,#ff6800 0 131px,#ff5800 0)"></i><i style="background:linear-gradient(#58ffa7 0 15px,#68ff97 0 20px,#78ff87 0 24px,#87ff78 0 28px,#97ff68 0 33px,#a7ff58 0 37px,#b7ff48 0 41px,#c7ff38 0 44px,#d7ff28 0 46px,#e7ff18 0 49px,#f7ff08 0 51px,#fff700 0 53px,#ffe700 0 56px,#ffd700 0 58px,#ffc700 0 60px,#ffb700 0 65px,#ffa700 0 70px,#ff9700 0 79px,#ff8700 0 97px,#ff7800 0 114px,#ff6800 0 131px,#ff5800 0)"></i><i style="background:linear-gradient(#58ffa7 0 15px,#68ff97 0 19px,#78ff87 0 23px,#87ff78 0 28px,#97ff68 0 32px,#a7ff58 0 36px,#b7ff48 0 40px,#c7ff38 0 43px,#d7ff28 0 45px,#e7ff18 0 48px,#f7ff08 0 50px,#fff700 0 52px,#ffe700 0 55px,#ffd700 0 57px,#ffc700 0 59px,#ffb700 0 64px,#ffa700 0 69px,#ff9700 0 78px,#ff8700 0 96px,#ff7800 0 113px,#ff6800 0 130px,#ff5800 0)"></i><i style="background:linear-gradient(#58ffa7 0 17px,#68ff97 0 21px,#78ff87 0 25px,#87ff78 0 30px,#97ff68 0 34px,#a7ff58 0 38px,#b7ff48 0 42px,#c7ff38 0 45px,#d7ff28 0 47px,#e7ff18 0 50px,#f7ff08 0 52px,#fff700 0 54px,#ffe700 0 57px,#ffd700 0 59px,#ffc700 0 61px,#ffb700 0 66px,#ffa700 0 71px,#ff9700 0 80px,#ff8700 0 98px,#ff7800 0 115px,#ff6800 0 132px,#ff5800 0)"></i><i style="background:linear-gradient(#58ffa7 0 14px,#68ff97 0 19px,#78ff87 0 23px,#87ff78 0 27px,#97ff68 0 32px,#a7ff58 0 36px,#b7ff48 0 40px,#c7ff38 0 42px,#d7ff28 0 45px,#e7ff18 0 47px,#f7ff08 0 50px,#fff700 0 52px,#ffe700 0 54px,#ffd700 0 57px,#ffc700 0 59px,#ffb700 0 63px,#ffa700 0 69px,#ff9700 0 77px,#ff8700 0 95px,#ff7800 0 113px,#ff6800 0 129px,#ff5800 0)"></i><i style="background:linear-gradient(#58ffa7 0 17px,#68ff97 0 22px,#78ff87 0 26px,#87ff78 0 30px,#97ff68 0 35px,#a7ff58 0 39px,#b7ff48 0 43px,#c7ff38 0 45px,#d7ff28 0 48px,#e7ff18 0 50px,#f7ff08 0 53px,#fff700 0 55px,#ffe700 0 57px,#ffd700 0 60px,#ffc700 0 62px,#ffb700 0 67px,#ffa700 0 72px,#ff9700 0 80px,#ff8700 0 98px,#ff7800 0 116px,#ff6800 0 132px,#ff5800 0)"></i><i style="background:linear-gradient(#58ffa7 0 13px,#68ff97 0 17px,#78ff87 0 21px,#87ff78 0 26px,#97ff68 0 30px,#a7ff58 0 34px,#b7ff48 0 38px,#c7ff38 0 41px,#d7ff28 0 43px,#e7ff18 0 46px,#f7ff08 0 48px,#fff700 0 50px,#ffe700 0 53px,#ffd700 0 55px,#ffc700 0 57px,#ffb700 0 62px,#ffa700 0 67px,#ff9700 0 76px,#ff8700 0 94px,#ff7800 0 111px,#ff6800 0 127px,#ff5800 0)"></i><i style="background:linear-gradient(#58ffa7 0 18px,#68ff97 0 23px,#78ff87 0 27px,#87ff78 0 31px,#97ff68 0 35px,#a7ff58 0 40px,#b7ff48 0 44px,#c7ff38 0 46px,#d7ff28 0 49px,#e7ff18 0 51px,#f7ff08 0 54px,#fff700 0 56px,#ffe700 0 58px,#ffd700 0 60px,#ffc700 0 63px,#ffb700 0 67px,#ffa700 0 73px,#ff9700 0 81px,#ff8700 0 99px,#ff7800 0 116px,#ff6800 0 133px,#ff5800 0)"></i><i style="background:linear-gradient(#58ffa7 0 16px,#68ff97 0 21px,#78ff87 0 25px,#87ff78 0 29px,#97ff68 0 33px,#a7ff58 0 38px,#b7ff48 0 42px,#c7ff38 0 44px,#d7ff28 0 47px,#e7ff18 0 49px,#f7ff08 0 52px,#fff700 0 54px,#ffe700 0 56px,#ffd700 0 58px,#ffc700 0 61px,#ffb700 0 65px,#ffa700 0 70px,#ff9700 0 79px,#ff8700 0 97px,#ff7800 0 114px,#ff6800 0 130px,#ff5800 0)"></i><i style="background:linear-gradient(#58ffa7 0 17px,#68ff97 0 21px,#78ff87 0 26px,#87ff78 0 30px,#97ff68 0 34px,#a7ff58 0 38px,#b7ff48 0 42px,#c7ff38 0 45px,#d7ff28 0 47px,#e7ff18 0 50px,#f7ff08 0 52px,#fff700 0 54px,#ffe700 0 57px,#ffd700 0 59px,#ffc700 0 61px,#ffb700 0 66px,#ffa700 0 71px,#ff9700 0 80px,#ff8700 0 98px,#ff7800 0 114px,#ff6800 0 131px,#ff5800 0)"></i><i style="background:linear-gradient(#58ffa7 0 15px,#68ff97 0 20px,#78ff87 0 24px,#87ff78 0 28px,#97ff68 0 33px,#a7ff58 0 37px,#b7ff48 0 41px,#c7ff38 0 43px,#d7ff28 0 46px,#e7ff18 0 48px,#f7ff08 0 51px,#fff700 0 53px,#ffe700 0 55px,#ffd700 0 57px,#ffc700 0 60px,#ffb700 0 64px,#ffa700 0 70px,#ff9700 0 78px,#ff8700 0 96px,#ff7800 0 113px,#ff6800 0 129px,#ff5800 0)"></i><i style="background:linear-gradient(#58ffa7 0 15px,#68ff97 0 19px,#78ff87 0 23px,#87ff78 0 28px,#97ff68 0 32px,#a7ff58 0 36px,#b7ff48 0 40px,#c7ff38 0 43px,#d7ff28 0 45px,#e7ff18 0 47px,#f7ff08 0 50px,#fff700 0 52px,#ffe700 0 54px,#ffd700 0 57px,#ffc700 0 59px,#ffb700 0 64px,#ffa700 0 69px,#ff9700 0 78px,#ff8700 0 95px,#ff7800 0 112px,#ff6800 0 128px,#ff5800 0)"></i><i style="background:linear-gradient(#48ffb7 0 1px,#58ffa7 0 14px,#68ff97 0 18px,#78ff87 0 23px,#87ff78 0 27px,#97ff68 0 31px,#a7ff58 0 35px,#b7ff48 0 39px,#c7ff38 0 42px,#d7ff28 0 44px,#e7ff18 0 47px,#f7ff08 0 49px,#fff700 0 52px,#ffe700 0 54px,#ffd700 0 56px,#ffc700 0 59px,#ffb700 0 63px,#ffa700 0 68px,#ff9700 0 77px,#ff8700 0 94px,#ff7800 0 111px,#ff6800 0 127px,#ff5800 0)"></i><i style="background:linear-gradient(#48ffb7 0 7px,#58ffa7 0 18px,#68ff97 0 22px,#78ff87 0 27px,#87ff78 0 31px,#97ff68 0 35px,#a7ff58 0 40px,#b7ff48 0 44px,#c7ff38 0 46px,#d7ff28 0 48px,#e7ff18 0 51px,#f7ff08 0 53px,#fff700 0 56px,#ffe700 0 58px,#ffd700 0 60px,#ffc700 0 63px,#ffb700 0 67px,#ffa700 0 72px,#ff9700 0 81px,#ff8700 0 98px,#ff7800 0 115px,#ff6800 0 131px,#ff5800 0)"></i><i style="background:linear-gradient(#48ffb7 0 10px,#58ffa7 0 20px,#68ff97 0 24px,#78ff87 0 28px,#87ff78 0 33px,#97ff68 0 37px,#a7ff58 0 41px,#b7ff48 0 45px,#c7ff38 0 47px,#d7ff28 0 50px,#e7ff18 0 52px,#f7ff08 0 55px,#fff700 0 57px,#ffe700 0 59px,#ffd700 0 62px,#ffc700 0 64px,#ffb700 0 69px,#ffa700 0 74px,#ff9700 0 82px,#ff8700 0 100px,#ff7800 0 116px,#ff6800 0 133px,#ff5800 0)"></i><i style="background:linear-gradient(#48ffb7 0 12px,#58ffa7 0 21px,#68ff97 0 25px,#78ff87 0 29px,#87ff78 0 34px,#97ff68 0 38px,#a7ff58 0 42px,#b7ff48 0 46px,#c7ff38 0 48px,#d7ff28 0 51px,#e7ff18 0 53px,#f7ff08 0 56px,#fff700 0 58px,#ffe700 0 60px,#ffd700 0 63px,#ffc700 0 65px,#ffb700 0 70px,#ffa700 0 75px,#ff9700 0 83px,#ff8700 0 101px,#ff7800 0 117px,#ff6800 0 133px,#ff5800 0)"></i><i style="background:linear-gradient(#48ffb7 0 11px,#58ffa7 0 18px,#68ff97 0 23px,#78ff87 0 27px,#87ff78 0 31px,#97ff68 0 35px,#a7ff58 0 40px,#b7ff48 0 44px,#c7ff38 0 46px,#d7ff28 0 48px,#e7ff18 0 51px,#f7ff08 0 53px,#fff700 0 56px,#ffe700 0 58px,#ffd700 0 60px,#ffc700 0 63px,#ffb700 0 67px,#ffa700 0 72px,#ff9700 0 81px,#ff8700 0 98px,#ff7800 0 115px,#ff6800 0 131px,#ff5800 0)"></i><i style="background:linear-gradient(#48ffb7 0 13px,#58ffa7 0 19px,#68ff97 0 23px,#78ff87 0 28px,#87ff78 0 32px,#97ff68 0 36px,#a7ff58 0 41px,#b7ff48 0 44px,#c7ff38 0 47px,#d7ff28 0 49px,#e7ff18 0 52px,#f7ff08 0 54px,#fff700 0 56px,#ffe700 0 59px,#ffd700 0 61px,#ffc700 0 64px,#ffb700 0 68px,#ffa700 0 73px,#ff9700 0 82px,#ff8700 0 99px,#ff7800 0 115px,#ff6800 0 131px,#ff5800 0)"></i><i style="background:linear-gradient(#48ffb7 0 15px,#58ffa7 0 19px,#68ff97 0 24px,#78ff87 0 28px,#87ff78 0 32px,#97ff68 0 37px,#a7ff58 0 41px,#b7ff48 0 45px,#c7ff38 0 47px,#d7ff28 0 49px,#e7ff18 0 52px,#f7ff08 0 54px,#fff700 0 57px,#ffe700 0 59px,#ffd700 0 61px,#ffc700 0 64px,#ffb700 0 68px,#ffa700 0 74px,#ff9700 0 82px,#ff8700 0 99px,#ff7800 0 116px,#ff6800 0 131px,#ff5800 0)"></i><i style="background:linear-gradient(#48ffb7 0 12px,#58ffa7 0 16px,#68ff97 0 21px,#78ff87 0 25px,#87ff78 0 29px,#97ff68 0 33px,#a7ff58 0 38px,#b7ff48 0 42px,#c7ff38 0 44px,#d7ff28 0 46px,#e7ff18 0 49px,#f7ff08 0 51px,#fff700 0 54px,#ffe700 0 56px,#ffd700 0 58px,#ffc700 0 61px,#ffb700 0 65px,#ffa700 0 71px,#ff9700 0 79px,#ff8700 0 96px,#ff7800 0 112px,#ff6800 0 128px,#ff5800 0)"></i><i style="background:linear-gradient(#48ffb7 0 14px,#58ffa7 0 19px,#68ff97 0 23px,#78ff87 0 27px,#87ff78 0 32px,#97ff68 0 36px,#a7ff58 0 40px,#b7ff48 0 44px,#c7ff38 0 46px,#d7ff28 0 49px,#e7ff18 0 51px,#f7ff08 0 54px,#fff700 0 56px,#ffe700 0 58px,#ffd700 0 61px,#ffc700 0 63px,#ffb700 0 68px,#ffa700 0 73px,#ff9700 0 82px,#ff8700 0 99px,#ff7800 0 115px,#ff6800 0 130px,#ff5800 0)"></i><i style="background:linear-gradient(#48ffb7 0 14px,#58ffa7 0 18px,#68ff97 0 22px,#78ff87 0 27px,#87ff78 0 31px,#97ff68 0 35px,#a7ff58 0 39px,#b7ff48 0 43px,#c7ff38 0 46px,#d7ff28 0 48px,#e7ff18 0 50px,#f7ff08 0 53px,#fff700 0 55px,#ffe700 0 58px,#ffd700 0 60px,#ffc700 0 62px,#ffb700 0 67px,#ffa700 0 72px,#ff9700 0 81px,#ff8700 0 98px,#ff7800 0 114px,#ff6800 0 129px,#ff5800 0)"></i><i style="background:linear-gradient(#48ffb7 0 15px,#58ffa7 0 20px,#68ff97 0 24px,#78ff87 0 28px,#87ff78 0 32px,#97ff68 0 37px,#a7ff58 0 41px,#b7ff48 0 45px,#c7ff38 0 47px,#d7ff28 0 49px,#e7ff18 0 52px,#f7ff08 0 54px,#fff700 0 57px,#ffe700 0 59px,#ffd700 0 61px,#ffc700 0 64px,#ffb700 0 69px,#ffa700 0 74px,#ff9700 0 82px,#ff8700 0 99px,#ff7800 0 115px,#ff6800 0 131px,#ff5800 0)"></i><i style="background:linear-gradient(#48ffb7 0 16px,#58ffa7 0 20px,#68ff97 0 25px,#78ff87 0 29px,#87ff78 0 33px,#97ff68 0 37px,#a7ff58 0 42px,#b7ff48 0 46px,#c7ff38 0 48px,#d7ff28 0 50px,#e7ff18 0 53px,#f7ff08 0 55px,#fff700 0 57px,#ffe700 0 60px,#ffd700 0 62px,#ffc700 0 65px,#ffb700 0 69px,#ffa700 0 74px,#ff9700 0 83px,#ff8700 0 100px,#ff7800 0 116px,#ff6800 0 131px,#ff5800 0)"></i><i style="background:linear-gradient(#48ffb7 0 17px,#58ffa7 0 21px,#68ff97 0 26px,#78ff87 0 30px,#87ff78 0 34px,#97ff68 0 38px,#a7ff58 0 43px,#b7ff48 0 47px,#c7ff38 0 49px,#d7ff28 0 51px,#e7ff18 0 54px,#f7ff08 0 56px,#fff700 0 58px,#ffe700 0 61px,#ffd700 0 63px,#ffc700 0 66px,#ffb700 0 70px,#ffa700 0 76px,#ff9700 0 84px,#ff8700 0 101px,#ff7800 0 117px,#ff6800 0 132px,#ff5800 0)"></i><i style="background:linear-gradient(#48ffb7 0 16px,#58ffa7 0 21px,#68ff97 0 25px,#78ff87 0 29px,#87ff78 0 34px,#97ff68 0 38px,#a7ff58 0 42px,#b7ff48 0 46px,#c7ff38 0 49px,#d7ff28 0 51px,#e7ff18 0 53px,#f7ff08 0 56px,#fff700 0 58px,#ffe700 0 61px,#ffd700 0 63px,#ffc700 0 65px,#ffb700 0 70px,#ffa700 0 75px,#ff9700 0 84px,#ff8700 0 101px,#ff7800 0 116px,#ff6800 0 132px,#ff5800 0)"></i><i style="background:linear-gradient(#48ffb7 0 17px,#58ffa7 0 21px,#68ff97 0 25px,#78ff87 0 30px,#87ff78 0 34px,#97ff68 0 38px,#a7ff58 0 42px,#b7ff48 0 46px,#c7ff38 0 49px,#d7ff28 0 51px,#e7ff18 0 54px,#f7ff08 0 56px,#fff700 0 58px,#ffe700 0 61px,#ffd700 0 63px,#ffc700 0 66px,#ffb700 0 70px,#ffa700 0 76px,#ff9700 0 84px,#ff8700 0 101px,#ff7800 0 117px,#ff6800 0 132px,#ff5800 0)"></i><i style="background:linear-gradient(#48ffb7 0 20px,#58ffa7 0 24px,#68ff97 0 29px,#78ff87 0 33px,#87ff78 0 37px,#97ff68 0 42px,#a7ff58 0 46px,#b7ff48 0 50px,#c7ff38 0 52px,#d7ff28 0 55px,#e7ff18 0 57px,#f7ff08 0 60px,#fff700 0 62px,#ffe700 0 64px,#ffd700 0 67px,#ffc700 0 69px,#ffb700 0 74px,#ffa700 0 79px,#ff9700 0 88px,#ff8700 0 104px,#ff7800 0 120px,#ff6800 0 136px,#ff5800 0)"></i><i style="background:linear-gradient(#48ffb7 0 17px,#58ffa7 0 22px,#68ff97 0 26px,#78ff87 0 30px,#87ff78 0 35px,#97ff68 0 39px,#a7ff58 0 43px,#b7ff48 0 47px,#c7ff38 0 50px,#d7ff28 0 52px,#e7ff18 0 55px,#f7ff08 0 57px,#fff700 0 59px,#ffe700 0 62px,#ffd700 0 64px,#ffc700 0 67px,#ffb700 0 71px,#ffa700 0 77px,#ff9700 0 85px,#ff8700 0 102px,#ff7800 0 118px,#ff6800 0 133px,#ff5800 0)"></i><i style="background:linear-gradient(#48ffb7 0 19px,#58ffa7 0 23px,#68ff97 0 27px,#78ff87 0 32px,#87ff78 0 36px,#97ff68 0 40px,#a7ff58 0 45px,#b7ff48 0 49px,#c7ff38 0 51px,#d7ff28 0 54px,#e7ff18 0 56px,#f7ff08 0 59px,#fff700 0 61px,#ffe700 0 63px,#ffd700 0 66px,#ffc700 0 68px,#ffb700 0 73px,#ffa700 0 78px,#ff9700 0 87px,#ff8700 0 103px,#ff7800 0 119px,#ff6800 0 134px,#ff5800 0)"></i><i style="background:linear-gradient(#48ffb7 0 19px,#58ffa7 0 23px,#68ff97 0 28px,#78ff87 0 32px,#87ff78 0 36px,#97ff68 0 41px,#a7ff58 0 45px,#b7ff48 0 49px,#c7ff38 0 51px,#d7ff28 0 54px,#e7ff18 0 56px,#f7ff08 0 59px,#fff700 0 61px,#ffe700 0 64px,#ffd700 0 66px,#ffc700 0 69px,#ffb700 0 73px,#ffa700 0 78px,#ff9700 0 87px,#ff8700 0 104px,#ff7800 0 119px,#ff6800 0 135px,#ff5800 0)"></i><i style="background:linear-gradient(#48ffb7 0 20px,#58ffa7 0 24px,#68ff97 0 28px,#78ff87 0 33px,#87ff78 0 37px,#97ff68 0 41px,#a7ff58 0 46px,#b7ff48 0 50px,#c7ff38 0 52px,#d7ff28 0 55px,#e7ff18 0 57px,#f7ff08 0 60px,#fff700 0 62px,#ffe700 0 65px,#ffd700 0 67px,#ffc700 0 70px,#ffb700 0 74px,#ffa700 0 79px,#ff9700 0 88px,#ff8700 0 105px,#ff7800 0 120px,#ff6800 0 135px,#ff5800 0)"></i><i style="background:linear-gradient(#48ffb7 0 23px,#58ffa7 0 27px,#68ff97 0 32px,#78ff87 0 36px,#87ff78 0 40px,#97ff68 0 45px,#a7ff58 0 49px,#b7ff48 0 53px,#c7ff38 0 56px,#d7ff28 0 58px,#e7ff18 0 61px,#f7ff08 0 63px,#fff700 0 66px,#ffe700 0 68px,#ffd700 0 70px,#ffc700 0 73px,#ffb700 0 78px,#ffa700 0 83px,#ff9700 0 91px,#ff8700 0 108px,#ff7800 0 124px,#ff6800 0 139px,#ff5800 0)"></i><i style="background:linear-gradient(#48ffb7 0 19px,#58ffa7 0 24px,#68ff97 0 28px,#78ff87 0 32px,#87ff78 0 37px,#97ff68 0 41px,#a7ff58 0 45px,#b7ff48 0 50px,#c7ff38 0 52px,#d7ff28 0 55px,#e7ff18 0 57px,#f7ff08 0 60px,#fff700 0 62px,#ffe700 0 65px,#ffd700 0 67px,#ffc700 0 69px,#ffb700 0 74px,#ffa700 0 79px,#ff9700 0 88px,#ff8700 0 105px,#ff7800 0 120px,#ff6800 0 135px,#ff5800 0)"></i><i style="background:linear-gradient(#48ffb7 0 19px,#58ffa7 0 23px,#68ff97 0 28px,#78ff87 0 32px,#87ff78 0 36px,#97ff68 0 41px,#a7ff58 0 45px,#b7ff48 0 49px,#c7ff38 0 52px,#d7ff28 0 54px,#e7ff18 0 57px,#f7ff08 0 59px,#fff700 0 62px,#ffe700 0 64px,#ffd700 0 67px,#ffc700 0 69px,#ffb700 0 74px,#ffa700 0 79px,#ff9700 0 87px,#ff8700 0 104px,#ff7800 0 120px,#ff6800 0 135px,#ff5800 0)"></i><i style="background:linear-gradient(#48ffb7 0 15px,#58ffa7 0 20px,#68ff97 0 24px,#78ff87 0 29px,#87ff78 0 33px,#97ff68 0 38px,#a7ff58 0 42px,#b7ff48 0 46px,#c7ff38 0 49px,#d7ff28 0 51px,#e7ff18 0 54px,#f7ff08 0 56px,#fff700 0 59px,#ffe700 0 61px,#ffd700 0 64px,#ffc700 0 66px,#ffb700 0 71px,#ffa700 0 76px,#ff9700 0 84px,#ff8700 0 101px,#ff7800 0 117px,#ff6800 0 132px,#ff5800 0)"></i><i style="background:linear-gradient(#48ffb7 0 18px,#58ffa7 0 23px,#68ff97 0 27px,#78ff87 0 32px,#87ff78 0 36px,#97ff68 0 40px,#a7ff58 0 45px,#b7ff48 0 49px,#c7ff38 0 51px,#d7ff28 0 54px,#e7ff18 0 57px,#f7ff08 0 59px,#fff700 0 62px,#ffe700 0 64px,#ffd700 0 66px,#ffc700 0 69px,#ffb700 0 74px,#ffa700 0 79px,#ff9700 0 87px,#ff8700 0 104px,#ff7800 0 119px,#ff6800 0 134px,#ff5800 0)"></i><i style="background:linear-gradient(#48ffb7 0 16px,#58ffa7 0 21px,#68ff97 0 25px,#78ff87 0 30px,#87ff78 0 34px,#97ff68 0 39px,#a7ff58 0 43px,#b7ff48 0 47px,#c7ff38 0 50px,#d7ff28 0 52px,#e7ff18 0 55px,#f7ff08 0 58px,#fff700 0 60px,#ffe700 0 62px,#ffd700 0 65px,#ffc700 0 67px,#ffb700 0 72px,#ffa700 0 77px,#ff9700 0 86px,#ff8700 0 102px,#ff7800 0 118px,#ff6800 0 133px,#ff5800 0)"></i><i style="background:linear-gradient(#48ffb7 0 19px,#58ffa7 0 23px,#68ff97 0 28px,#78ff87 0 33px,#87ff78 0 37px,#97ff68 0 41px,#a7ff58 0 46px,#b7ff48 0 50px,#c7ff38 0 52px,#d7ff28 0 55px,#e7ff18 0 58px,#f7ff08 0 60px,#fff700 0 63px,#ffe700 0 65px,#ffd700 0 68px,#ffc700 0 70px,#ffb700 0 75px,#ffa700 0 80px,#ff9700 0 88px,#ff8700 0 105px,#ff7800 0 121px,#ff6800 0 135px,#ff5800 0)"></i><i style="background:linear-gradient(#48ffb7 0 18px,#58ffa7 0 23px,#68ff97 0 27px,#78ff87 0 32px,#87ff78 0 36px,#97ff68 0 41px,#a7ff58 0 45px,#b7ff48 0 49px,#c7ff38 0 52px,#d7ff28 0 54px,#e7ff18 0 57px,#f7ff08 0 60px,#fff700 0 62px,#ffe700 0 65px,#ffd700 0 67px,#ffc700 0 69px,#ffb700 0 74px,#ffa700 0 79px,#ff9700 0 88px,#ff8700 0 105px,#ff7800 0 120px,#ff6800 0 135px,#ff5800 0)"></i><i style="background:linear-gradient(#48ffb7 0 17px,#58ffa7 0 22px,#68ff97 0 26px,#78ff87 0 31px,#87ff78 0 35px,#97ff68 0 40px,#a7ff58 0 44px,#b7ff48 0 48px,#c7ff38 0 51px,#d7ff28 0 53px,#e7ff18 0 56px,#f7ff08 0 59px,#fff700 0 61px,#ffe700 0 64px,#ffd700 0 66px,#ffc700 0 69px,#ffb700 0 73px,#ffa700 0 78px,#ff9700 0 87px,#ff8700 0 104px,#ff7800 0 119px,#ff6800 0 134px,#ff5800 0)"></i><i style="background:linear-gradient(#48ffb7 0 20px,#58ffa7 0 24px,#68ff97 0 29px,#78ff87 0 33px,#87ff78 0 38px,#97ff68 0 42px,#a7ff58 0 47px,#b7ff48 0 51px,#c7ff38 0 53px,#d7ff28 0 56px,#e7ff18 0 59px,#f7ff08 0 62px,#fff700 0 64px,#ffe700 0 66px,#ffd700 0 69px,#ffc700 0 71px,#ffb700 0 76px,#ffa700 0 81px,#ff9700 0 90px,#ff8700 0 106px,#ff7800 0 122px,#ff6800 0 136px,#ff5800 0)"></i><i style="background:linear-gradient(#48ffb7 0 19px,#58ffa7 0 23px,#68ff97 0 28px,#78ff87 0 33px,#87ff78 0 37px,#97ff68 0 41px,#a7ff58 0 46px,#b7ff48 0 50px,#c7ff38 0 53px,#d7ff28 0 55px,#e7ff18 0 58px,#f7ff08 0 61px,#fff700 0 63px,#ffe700 0 66px,#ffd700 0 68px,#ffc700 0 71px,#ffb700 0 75px,#ffa700 0 80px,#ff9700 0 89px,#ff8700 0 106px,#ff7800 0 121px,#ff6800 0 136px,#ff5800 0)"></i><i style="background:linear-gradient(#48ffb7 0 24px,#58ffa7 0 28px,#68ff97 0 33px,#78ff87 0 37px,#87ff78 0 42px,#97ff68 0 46px,#a7ff58 0 51px,#b7ff48 0 55px,#c7ff38 0 58px,#d7ff28 0 60px,#e7ff18 0 63px,#f7ff08 0 66px,#fff700 0 68px,#ffe700 0 71px,#ffd700 0 73px,#ffc700 0 76px,#ffb700 0 80px,#ffa700 0 85px,#ff9700 0 94px,#ff8700 0 111px,#ff7800 0 126px,#ff6800 0 140px,#ff5800 0)"></i><i style="background:linear-gradient(#48ffb7 0 22px,#58ffa7 0 26px,#68ff97 0 31px,#78ff87 0 36px,#87ff78 0 40px,#97ff68 0 44px,#a7ff58 0 49px,#b7ff48 0 53px,#c7ff38 0 56px,#d7ff28 0 59px,#e7ff18 0 61px,#f7ff08 0 64px,#fff700 0 67px,#ffe700 0 69px,#ffd700 0 71px,#ffc700 0 74px,#ffb700 0 79px,#ffa700 0 84px,#ff9700 0 92px,#ff8700 0 109px,#ff7800 0 124px,#ff6800 0 139px,#ff5800 0)"></i><i style="background:linear-gradient(#48ffb7 0 20px,#58ffa7 0 25px,#68ff97 0 29px,#78ff87 0 34px,#87ff78 0 38px,#97ff68 0 43px,#a7ff58 0 47px,#b7ff48 0 51px,#c7ff38 0 54px,#d7ff28 0 57px,#e7ff18 0 60px,#f7ff08 0 63px,#fff700 0 65px,#ffe700 0 68px,#ffd700 0 70px,#ffc700 0 72px,#ffb700 0 77px,#ffa700 0 82px,#ff9700 0 91px,#ff8700 0 107px,#ff7800 0 123px,#ff6800 0 137px,#ff5800 0)"></i><i style="background:linear-gradient(#48ffb7 0 20px,#58ffa7 0 25px,#68ff97 0 30px,#78ff87 0 34px,#87ff78 0 39px,#97ff68 0 43px,#a7ff58 0 48px,#b7ff48 0 52px,#c7ff38 0 55px,#d7ff28 0 58px,#e7ff18 0 60px,#f7ff08 0 63px,#fff700 0 66px,#ffe700 0 68px,#ffd700 0 70px,#ffc700 0 73px,#ffb700 0 78px,#ffa700 0 83px,#ff9700 0 91px,#ff8700 0 108px,#ff7800 0 123px,#ff6800 0 137px,#ff5800 0)"></i><i style="background:linear-gradient(#48ffb7 0 21px,#58ffa7 0 26px,#68ff97 0 30px,#78ff87 0 35px,#87ff78 0 39px,#97ff68 0 44px,#a7ff58 0 48px,#b7ff48 0 52px,#c7ff38 0 55px,#d7ff28 0 58px,#e7ff18 0 61px,#f7ff08 0 64px,#fff700 0 66px,#ffe700 0 69px,#ffd700 0 71px,#ffc700 0 73px,#ffb700 0 78px,#ffa700 0 83px,#ff9700 0 92px,#ff8700 0 108px,#ff7800 0 123px,#ff6800 0 138px,#ff5800 0)"></i><i style="background:linear-gradient(#48ffb7 0 19px,#58ffa7 0 24px,#68ff97 0 29px,#78ff87 0 33px,#87ff78 0 38px,#97ff68 0 42px,#a7ff58 0 47px,#b7ff48 0 51px,#c7ff38 0 54px,#d7ff28 0 56px,#e7ff18 0 59px,#f7ff08 0 62px,#fff700 0 64px,#ffe700 0 67px,#ffd700 0 69px,#ffc700 0 72px,#ffb700 0 76px,#ffa700 0 81px,#ff9700 0 90px,#ff8700 0 106px,#ff7800 0 121px,#ff6800 0 136px,#ff5800 0)"></i><i style="background:linear-gradient(#48ffb7 0 18px,#58ffa7 0 23px,#68ff97 0 28px,#78ff87 0 33px,#87ff78 0 37px,#97ff68 0 41px,#a7ff58 0 46px,#b7ff48 0 50px,#c7ff38 0 53px,#d7ff28 0 56px,#e7ff18 0 58px,#f7ff08 0 61px,#fff700 0 64px,#ffe700 0 66px,#ffd700 0 68px,#ffc700 0 71px,#ffb700 0 75px,#ffa700 0 81px,#ff9700 0 89px,#ff8700 0 105px,#ff7800 0 120px,#ff6800 0 134px,#ff5800 0)"></i><i style="background:linear-gradient(#48ffb7 0 20px,#58ffa7 0 24px,#68ff97 0 29px,#78ff87 0 34px,#87ff78 0 38px,#97ff68 0 43px,#a7ff58 0 47px,#b7ff48 0 51px,#c7ff38 0 54px,#d7ff28 0 57px,#e7ff18 0 60px,#f7ff08 0 62px,#fff700 0 65px,#ffe700 0 67px,#ffd700 0 70px,#ffc700 0 72px,#ffb700 0 77px,#ffa700 0 82px,#ff9700 0 90px,#ff8700 0 105px,#ff7800 0 121px,#ff6800 0 135px,#ff5800 0)"></i><i style="background:linear-gradient(#48ffb7 0 21px,#58ffa7 0 25px,#68ff97 0 30px,#78ff87 0 35px,#87ff78 0 39px,#97ff68 0 44px,#a7ff58 0 48px,#b7ff48 0 52px,#c7ff38 0 55px,#d7ff28 0 58px,#e7ff18 0 61px,#f7ff08 0 63px,#fff700 0 66px,#ffe700 0 68px,#ffd700 0 71px,#ffc700 0 73px,#ffb700 0 78px,#ffa700 0 83px,#ff9700 0 91px,#ff8700 0 106px,#ff7800 0 121px,#ff6800 0 136px,#ff5800 0)"></i><i style="background:linear-gradient(#48ffb7 0 18px,#58ffa7 0 23px,#68ff97 0 27px,#78ff87 0 32px,#87ff78 0 37px,#97ff68 0 41px,#a7ff58 0 45px,#b7ff48 0 50px,#c7ff38 0 52px,#d7ff28 0 55px,#e7ff18 0 58px,#f7ff08 0 61px,#fff700 0 63px,#ffe700 0 65px,#ffd700 0 68px,#ffc700 0 70px,#ffb700 0 75px,#ffa700 0 80px,#ff9700 0 88px,#ff8700 0 103px,#ff7800 0 118px,#ff6800 0 133px,#ff5800 0)"></i><i style="background:linear-gradient(#48ffb7 0 18px,#58ffa7 0 23px,#68ff97 0 27px,#78ff87 0 32px,#87ff78 0 37px,#97ff68 0 41px,#a7ff58 0 45px,#b7ff48 0 50px,#c7ff38 0 52px,#d7ff28 0 55px,#e7ff18 0 58px,#f7ff08 0 61px,#fff700 0 63px,#ffe700 0 65px,#ffd700 0 68px,#ffc700 0 70px,#ffb700 0 75px,#ffa700 0 80px,#ff9700 0 87px,#ff8700 0 102px,#ff7800 0 117px,#ff6800 0 132px,#ff5800 0)"></i><i style="background:linear-gradient(#48ffb7 0 18px,#58ffa7 0 23px,#68ff97 0 28px,#78ff87 0 33px,#87ff78 0 38px,#97ff68 0 42px,#a7ff58 0 46px,#b7ff48 0 50px,#c7ff38 0 53px,#d7ff28 0 56px,#e7ff18 0 59px,#f7ff08 0 61px,#fff700 0 64px,#ffe700 0 66px,#ffd700 0 68px,#ffc700 0 71px,#ffb700 0 75px,#ffa700 0 80px,#ff9700 0 88px,#ff8700 0 103px,#ff7800 0 117px,#ff6800 0 133px,#ff5800 0)"></i><i style="background:linear-gradient(#48ffb7 0 20px,#58ffa7 0 25px,#68ff97 0 30px,#78ff87 0 35px,#87ff78 0 39px,#97ff68 0 43px,#a7ff58 0 48px,#b7ff48 0 52px,#c7ff38 0 55px,#d7ff28 0 57px,#e7ff18 0 60px,#f7ff08 0 63px,#fff700 0 65px,#ffe700 0 67px,#ffd700 0 70px,#ffc700 0 72px,#ffb700 0 77px,#ffa700 0 82px,#ff9700 0 89px,#ff8700 0 104px,#ff7800 0 118px,#ff6800 0 134px,#ff5800 0)"></i><i style="background:linear-gradient(#48ffb7 0 18px,#58ffa7 0 23px,#68ff97 0 28px,#78ff87 0 33px,#87ff78 0 37px,#97ff68 0 41px,#a7ff58 0 46px,#b7ff48 0 50px,#c7ff38 0 53px,#d7ff28 0 55px,#e7ff18 0 58px,#f7ff08 0 61px,#fff700 0 63px,#ffe700 0 65px,#ffd700 0 68px,#ffc700 0 70px,#ffb700 0 74px,#ffa700 0 80px,#ff9700 0 87px,#ff8700 0 101px,#ff7800 0 116px,#ff6800 0 131px,#ff5800 0)"></i><i style="background:linear-gradient(#48ffb7 0 19px,#58ffa7 0 24px,#68ff97 0 29px,#78ff87 0 34px,#87ff78 0 38px,#97ff68 0 43px,#a7ff58 0 47px,#b7ff48 0 51px,#c7ff38 0 54px,#d7ff28 0 56px,#e7ff18 0 59px,#f7ff08 0 62px,#fff700 0 64px,#ffe700 0 66px,#ffd700 0 69px,#ffc700 0 71px,#ffb700 0 76px,#ffa700 0 81px,#ff9700 0 88px,#ff8700 0 102px,#ff7800 0 116px,#ff6800 0 132px,#ff5800 0 182px,#ff4800 0)"></i><i style="background:linear-gradient(#48ffb7 0 19px,#58ffa7 0 24px,#68ff97 0 29px,#78ff87 0 34px,#87ff78 0 39px,#97ff68 0 43px,#a7ff58 0 48px,#b7ff48 0 52px,#c7ff38 0 54px,#d7ff28 0 57px,#e7ff18 0 60px,#f7ff08 0 62px,#fff700 0 65px,#ffe700 0 67px,#ffd700 0 69px,#ffc700 0 71px,#ffb700 0 76px,#ffa700 0 81px,#ff9700 0 89px,#ff8700 0 102px,#ff7800 0 116px,#ff6800 0 132px,#ff5800 0 179px,#ff4800 0)"></i><i style="background:linear-gradient(#48ffb7 0 22px,#58ffa7 0 27px,#68ff97 0 32px,#78ff87 0 37px,#87ff78 0 41px,#97ff68 0 45px,#a7ff58 0 50px,#b7ff48 0 54px,#c7ff38 0 56px,#d7ff28 0 59px,#e7ff18 0 62px,#f7ff08 0 64px,#fff700 0 67px,#ffe700 0 69px,#ffd700 0 71px,#ffc700 0 73px,#ffb700 0 78px,#ffa700 0 83px,#ff9700 0 91px,#ff8700 0 104px,#ff7800 0 118px,#ff6800 0 134px,#ff5800 0 178px,#ff4800 0)"></i><i style="background:linear-gradient(#48ffb7 0 22px,#58ffa7 0 27px,#68ff97 0 32px,#78ff87 0 38px,#87ff78 0 42px,#97ff68 0 46px,#a7ff58 0 51px,#b7ff48 0 55px,#c7ff38 0 57px,#d7ff28 0 60px,#e7ff18 0 63px,#f7ff08 0 65px,#fff700 0 67px,#ffe700 0 70px,#ffd700 0 72px,#ffc700 0 74px,#ffb700 0 79px,#ffa700 0 84px,#ff9700 0 91px,#ff8700 0 104px,#ff7800 0 118px,#ff6800 0 134px,#ff5800 0 176px,#ff4800 0)"></i><i style="background:linear-gradient(#48ffb7 0 21px,#58ffa7 0 26px,#68ff97 0 31px,#78ff87 0 36px,#87ff78 0 40px,#97ff68 0 45px,#a7ff58 0 49px,#b7ff48 0 53px,#c7ff38 0 56px,#d7ff28 0 58px,#e7ff18 0 61px,#f7ff08 0 64px,#fff700 0 66px,#ffe700 0 68px,#ffd700 0 70px,#ffc700 0 72px,#ffb700 0 77px,#ffa700 0 82px,#ff9700 0 89px,#ff8700 0 102px,#ff7800 0 116px,#ff6800 0 132px,#ff5800 0 172px,#ff4800 0)"></i><i style="background:linear-gradient(#48ffb7 0 17px,#58ffa7 0 22px,#68ff97 0 27px,#78ff87 0 32px,#87ff78 0 36px,#97ff68 0 41px,#a7ff58 0 45px,#b7ff48 0 49px,#c7ff38 0 52px,#d7ff28 0 54px,#e7ff18 0 57px,#f7ff08 0 59px,#fff700 0 62px,#ffe700 0 64px,#ffd700 0 66px,#ffc700 0 68px,#ffb700 0 73px,#ffa700 0 78px,#ff9700 0 85px,#ff8700 0 98px,#ff7800 0 111px,#ff6800 0 128px,#ff5800 0 166px,#ff4800 0)"></i><i style="background:linear-gradient(#48ffb7 0 19px,#58ffa7 0 24px,#68ff97 0 29px,#78ff87 0 35px,#87ff78 0 39px,#97ff68 0 43px,#a7ff58 0 48px,#b7ff48 0 52px,#c7ff38 0 54px,#d7ff28 0 57px,#e7ff18 0 59px,#f7ff08 0 62px,#fff700 0 64px,#ffe700 0 66px,#ffd700 0 69px,#ffc700 0 71px,#ffb700 0 75px,#ffa700 0 80px,#ff9700 0 88px,#ff8700 0 100px,#ff7800 0 113px,#ff6800 0 130px,#ff5800 0 167px,#ff4800 0)"></i><i style="background:linear-gradient(#48ffb7 0 19px,#58ffa7 0 24px,#68ff97 0 29px,#78ff87 0 34px,#87ff78 0 39px,#97ff68 0 43px,#a7ff58 0 47px,#b7ff48 0 51px,#c7ff38 0 54px,#d7ff28 0 57px,#e7ff18 0 59px,#f7ff08 0 62px,#fff700 0 64px,#ffe700 0 66px,#ffd700 0 68px,#ffc700 0 70px,#ffb700 0 75px,#ffa700 0 80px,#ff9700 0 87px,#ff8700 0 100px,#ff7800 0 112px,#ff6800 0 129px,#ff5800 0 165px,#ff4800 0)"></i><i style="background:linear-gradient(#48ffb7 0 19px,#58ffa7 0 24px,#68ff97 0 30px,#78ff87 0 35px,#87ff78 0 39px,#97ff68 0 43px,#a7ff58 0 48px,#b7ff48 0 52px,#c7ff38 0 54px,#d7ff28 0 57px,#e7ff18 0 59px,#f7ff08 0 62px,#fff700 0 64px,#ffe700 0 66px,#ffd700 0 68px,#ffc700 0 71px,#ffb700 0 75px,#ffa700 0 80px,#ff9700 0 87px,#ff8700 0 100px,#ff7800 0 112px,#ff6800 0 129px,#ff5800 0 164px,#ff4800 0)"></i><i style="background:linear-gradient(#48ffb7 0 18px,#58ffa7 0 23px,#68ff97 0 28px,#78ff87 0 34px,#87ff78 0 38px,#97ff68 0 42px,#a7ff58 0 47px,#b7ff48 0 51px,#c7ff38 0 53px,#d7ff28 0 56px,#e7ff18 0 58px,#f7ff08 0 61px,#fff700 0 63px,#ffe700 0 65px,#ffd700 0 67px,#ffc700 0 69px,#ffb700 0 74px,#ffa700 0 79px,#ff9700 0 86px,#ff8700 0 98px,#ff7800 0 111px,#ff6800 0 128px,#ff5800 0 162px,#ff4800 0)"></i><i style="background:linear-gradient(#48ffb7 0 18px,#58ffa7 0 23px,#68ff97 0 28px,#78ff87 0 33px,#87ff78 0 38px,#97ff68 0 42px,#a7ff58 0 46px,#b7ff48 0 50px,#c7ff38 0 53px,#d7ff28 0 55px,#e7ff18 0 58px,#f7ff08 0 60px,#fff700 0 63px,#ffe700 0 65px,#ffd700 0 67px,#ffc700 0 69px,#ffb700 0 74px,#ffa700 0 79px,#ff9700 0 86px,#ff8700 0 98px,#ff7800 0 110px,#ff6800 0 127px,#ff5800 0 161px,#ff4800 0)"></i><i style="background:linear-gradient(#48ffb7 0 18px,#58ffa7 0 23px,#68ff97 0 28px,#78ff87 0 33px,#87ff78 0 38px,#97ff68 0 42px,#a7ff58 0 46px,#b7ff48 0 50px,#c7ff38 0 53px,#d7ff28 0 55px,#e7ff18 0 58px,#f7ff08 0 60px,#fff700 0 63px,#ffe700 0 65px,#ffd700 0 67px,#ffc700 0 69px,#ffb700 0 74px,#ffa700 0 79px,#ff9700 0 86px,#ff8700 0 98px,#ff7800 0 110px,#ff6800 0 127px,#ff5800 0 162px,#ff4800 0)"></i><i style="background:linear-gradient(#48ffb7 0 20px,#58ffa7 0 25px,#68ff97 0 30px,#78ff87 0 35px,#87ff78 0 39px,#97ff68 0 44px,#a7ff58 0 48px,#b7ff48 0 52px,#c7ff38 0 55px,#d7ff28 0 57px,#e7ff18 0 60px,#f7ff08 0 62px,#fff700 0 64px,#ffe700 0 67px,#ffd700 0 69px,#ffc700 0 71px,#ffb700 0 76px,#ffa700 0 81px,#ff9700 0 88px,#ff8700 0 100px,#ff7800 0 112px,#ff6800 0 129px,#ff5800 0 163px,#ff4800 0)"></i><i style="background:linear-gradient(#48ffb7 0 21px,#58ffa7 0 26px,#68ff97 0 32px,#78ff87 0 37px,#87ff78 0 41px,#97ff68 0 45px,#a7ff58 0 50px,#b7ff48 0 54px,#c7ff38 0 56px,#d7ff28 0 59px,#e7ff18 0 61px,#f7ff08 0 64px,#fff700 0 66px,#ffe700 0 68px,#ffd700 0 70px,#ffc700 0 73px,#ffb700 0 77px,#ffa700 0 82px,#ff9700 0 89px,#ff8700 0 101px,#ff7800 0 113px,#ff6800 0 130px,#ff5800 0 165px,#ff4800 0)"></i><i style="background:linear-gradient(#48ffb7 0 19px,#58ffa7 0 24px,#68ff97 0 30px,#78ff87 0 35px,#87ff78 0 39px,#97ff68 0 43px,#a7ff58 0 47px,#b7ff48 0 51px,#c7ff38 0 54px,#d7ff28 0 57px,#e7ff18 0 59px,#f7ff08 0 62px,#fff700 0 64px,#ffe700 0 66px,#ffd700 0 68px,#ffc700 0 71px,#ffb700 0 75px,#ffa700 0 80px,#ff9700 0 87px,#ff8700 0 99px,#ff7800 0 111px,#ff6800 0 128px,#ff5800 0 163px,#ff4800 0)"></i><i style="background:linear-gradient(#48ffb7 0 21px,#58ffa7 0 26px,#68ff97 0 31px,#78ff87 0 36px,#87ff78 0 40px,#97ff68 0 45px,#a7ff58 0 49px,#b7ff48 0 53px,#c7ff38 0 55px,#d7ff28 0 58px,#e7ff18 0 60px,#f7ff08 0 63px,#fff700 0 65px,#ffe700 0 67px,#ffd700 0 70px,#ffc700 0 72px,#ffb700 0 77px,#ffa700 0 82px,#ff9700 0 89px,#ff8700 0 100px,#ff7800 0 112px,#ff6800 0 129px,#ff5800 0 164px,#ff4800 0)"></i><i style="background:linear-gradient(#48ffb7 0 20px,#58ffa7 0 25px,#68ff97 0 30px,#78ff87 0 35px,#87ff78 0 40px,#97ff68 0 44px,#a7ff58 0 48px,#b7ff48 0 52px,#c7ff38 0 55px,#d7ff28 0 57px,#e7ff18 0 60px,#f7ff08 0 62px,#fff700 0 65px,#ffe700 0 67px,#ffd700 0 69px,#ffc700 0 71px,#ffb700 0 76px,#ffa700 0 81px,#ff9700 0 88px,#ff8700 0 100px,#ff7800 0 112px,#ff6800 0 128px,#ff5800 0 163px,#ff4800 0)"></i><i style="background:linear-gradient(#48ffb7 0 21px,#58ffa7 0 26px,#68ff97 0 31px,#78ff87 0 36px,#87ff78 0 40px,#97ff68 0 45px,#a7ff58 0 49px,#b7ff48 0 53px,#c7ff38 0 55px,#d7ff28 0 58px,#e7ff18 0 60px,#f7ff08 0 63px,#fff700 0 65px,#ffe700 0 67px,#ffd700 0 70px,#ffc700 0 72px,#ffb700 0 77px,#ffa700 0 82px,#ff9700 0 89px,#ff8700 0 100px,#ff7800 0 112px,#ff6800 0 128px,#ff5800 0 164px,#ff4800 0)"></i><i style="background:linear-gradient(#48ffb7 0 21px,#58ffa7 0 26px,#68ff97 0 31px,#78ff87 0 36px,#87ff78 0 41px,#97ff68 0 45px,#a7ff58 0 49px,#b7ff48 0 53px,#c7ff38 0 55px,#d7ff28 0 58px,#e7ff18 0 61px,#f7ff08 0 63px,#fff700 0 65px,#ffe700 0 68px,#ffd700 0 70px,#ffc700 0 72px,#ffb700 0 77px,#ffa700 0 82px,#ff9700 0 89px,#ff8700 0 101px,#ff7800 0 112px,#ff6800 0 128px,#ff5800 0 164px,#ff4800 0)"></i><i style="background:linear-gradient(#48ffb7 0 17px,#58ffa7 0 22px,#68ff97 0 27px,#78ff87 0 32px,#87ff78 0 36px,#97ff68 0 40px,#a7ff58 0 45px,#b7ff48 0 48px,#c7ff38 0 51px,#d7ff28 0 54px,#e7ff18 0 56px,#f7ff08 0 59px,#fff700 0 61px,#ffe700 0 63px,#ffd700 0 66px,#ffc700 0 68px,#ffb700 0 73px,#ffa700 0 78px,#ff9700 0 85px,#ff8700 0 96px,#ff7800 0 108px,#ff6800 0 124px,#ff5800 0 160px,#ff4800 0)"></i><i style="background:linear-gradient(#48ffb7 0 19px,#58ffa7 0 25px,#68ff97 0 30px,#78ff87 0 35px,#87ff78 0 39px,#97ff68 0 43px,#a7ff58 0 47px,#b7ff48 0 51px,#c7ff38 0 54px,#d7ff28 0 56px,#e7ff18 0 59px,#f7ff08 0 61px,#fff700 0 64px,#ffe700 0 66px,#ffd700 0 68px,#ffc700 0 71px,#ffb700 0 75px,#ffa700 0 80px,#ff9700 0 87px,#ff8700 0 99px,#ff7800 0 111px,#ff6800 0 126px,#ff5800 0 162px,#ff4800 0)"></i><i style="background:linear-gradient(#48ffb7 0 19px,#58ffa7 0 25px,#68ff97 0 30px,#78ff87 0 35px,#87ff78 0 39px,#97ff68 0 43px,#a7ff58 0 47px,#b7ff48 0 51px,#c7ff38 0 54px,#d7ff28 0 56px,#e7ff18 0 59px,#f7ff08 0 61px,#fff700 0 64px,#ffe700 0 66px,#ffd700 0 68px,#ffc700 0 71px,#ffb700 0 75px,#ffa700 0 80px,#ff9700 0 87px,#ff8700 0 99px,#ff7800 0 111px,#ff6800 0 126px,#ff5800 0 162px,#ff4800 0)"></i><i style="background:linear-gradient(#48ffb7 0 19px,#58ffa7 0 24px,#68ff97 0 29px,#78ff87 0 34px,#87ff78 0 38px,#97ff68 0 42px,#a7ff58 0 46px,#b7ff48 0 50px,#c7ff38 0 53px,#d7ff28 0 55px,#e7ff18 0 58px,#f7ff08 0 61px,#fff700 0 63px,#ffe700 0 65px,#ffd700 0 67px,#ffc700 0 70px,#ffb700 0 74px,#ffa700 0 80px,#ff9700 0 86px,#ff8700 0 98px,#ff7800 0 110px,#ff6800 0 125px,#ff5800 0 161px,#ff4800 0)"></i><i style="background:linear-gradient(#48ffb7 0 17px,#58ffa7 0 22px,#68ff97 0 27px,#78ff87 0 32px,#87ff78 0 36px,#97ff68 0 41px,#a7ff58 0 45px,#b7ff48 0 49px,#c7ff38 0 51px,#d7ff28 0 54px,#e7ff18 0 56px,#f7ff08 0 59px,#fff700 0 61px,#ffe700 0 63px,#ffd700 0 66px,#ffc700 0 68px,#ffb700 0 73px,#ffa700 0 78px,#ff9700 0 85px,#ff8700 0 96px,#ff7800 0 108px,#ff6800 0 123px,#ff5800 0 159px,#ff4800 0)"></i><i style="background:linear-gradient(#48ffb7 0 15px,#58ffa7 0 20px,#68ff97 0 25px,#78ff87 0 30px,#87ff78 0 34px,#97ff68 0 38px,#a7ff58 0 43px,#b7ff48 0 46px,#c7ff38 0 49px,#d7ff28 0 51px,#e7ff18 0 54px,#f7ff08 0 57px,#fff700 0 59px,#ffe700 0 61px,#ffd700 0 64px,#ffc700 0 66px,#ffb700 0 71px,#ffa700 0 76px,#ff9700 0 83px,#ff8700 0 94px,#ff7800 0 106px,#ff6800 0 121px,#ff5800 0 157px,#ff4800 0)"></i><i style="background:linear-gradient(#48ffb7 0 17px,#58ffa7 0 22px,#68ff97 0 27px,#78ff87 0 32px,#87ff78 0 37px,#97ff68 0 41px,#a7ff58 0 45px,#b7ff48 0 49px,#c7ff38 0 51px,#d7ff28 0 54px,#e7ff18 0 56px,#f7ff08 0 59px,#fff700 0 61px,#ffe700 0 63px,#ffd700 0 66px,#ffc700 0 68px,#ffb700 0 73px,#ffa700 0 78px,#ff9700 0 85px,#ff8700 0 96px,#ff7800 0 108px,#ff6800 0 123px,#ff5800 0 159px,#ff4800 0)"></i><i style="background:linear-gradient(#48ffb7 0 15px,#58ffa7 0 21px,#68ff97 0 26px,#78ff87 0 31px,#87ff78 0 35px,#97ff68 0 39px,#a7ff58 0 43px,#b7ff48 0 47px,#c7ff38 0 49px,#d7ff28 0 52px,#e7ff18 0 55px,#f7ff08 0 57px,#fff700 0 59px,#ffe700 0 62px,#ffd700 0 64px,#ffc700 0 67px,#ffb700 0 71px,#ffa700 0 76px,#ff9700 0 83px,#ff8700 0 95px,#ff7800 0 106px,#ff6800 0 121px,#ff5800 0 158px,#ff4800 0)"></i><i style="background:linear-gradient(#48ffb7 0 17px,#58ffa7 0 22px,#68ff97 0 27px,#78ff87 0 32px,#87ff78 0 36px,#97ff68 0 40px,#a7ff58 0 44px,#b7ff48 0 48px,#c7ff38 0 51px,#d7ff28 0 53px,#e7ff18 0 56px,#f7ff08 0 58px,#fff700 0 61px,#ffe700 0 63px,#ffd700 0 66px,#ffc700 0 68px,#ffb700 0 73px,#ffa700 0 78px,#ff9700 0 85px,#ff8700 0 96px,#ff7800 0 107px,#ff6800 0 122px,#ff5800 0 159px,#ff4800 0)"></i><i style="background:linear-gradient(#48ffb7 0 17px,#58ffa7 0 22px,#68ff97 0 27px,#78ff87 0 32px,#87ff78 0 36px,#97ff68 0 40px,#a7ff58 0 44px,#b7ff48 0 48px,#c7ff38 0 51px,#d7ff28 0 53px,#e7ff18 0 56px,#f7ff08 0 58px,#fff700 0 61px,#ffe700 0 63px,#ffd700 0 66px,#ffc700 0 68px,#ffb700 0 73px,#ffa700 0 78px,#ff9700 0 85px,#ff8700 0 96px,#ff7800 0 107px,#ff6800 0 122px,#ff5800 0 159px,#ff4800 0)"></i><i style="background:linear-gradient(#48ffb7 0 15px,#58ffa7 0 20px,#68ff97 0 25px,#78ff87 0 30px,#87ff78 0 35px,#97ff68 0 39px,#a7ff58 0 43px,#b7ff48 0 46px,#c7ff38 0 49px,#d7ff28 0 52px,#e7ff18 0 54px,#f7ff08 0 57px,#fff700 0 59px,#ffe700 0 61px,#ffd700 0 64px,#ffc700 0 66px,#ffb700 0 71px,#ffa700 0 76px,#ff9700 0 83px,#ff8700 0 94px,#ff7800 0 106px,#ff6800 0 120px,#ff5800 0 157px,#ff4800 0)"></i><i style="background:linear-gradient(#48ffb7 0 18px,#58ffa7 0 23px,#68ff97 0 29px,#78ff87 0 34px,#87ff78 0 38px,#97ff68 0 42px,#a7ff58 0 46px,#b7ff48 0 50px,#c7ff38 0 52px,#d7ff28 0 55px,#e7ff18 0 57px,#f7ff08 0 60px,#fff700 0 62px,#ffe700 0 65px,#ffd700 0 67px,#ffc700 0 69px,#ffb700 0 74px,#ffa700 0 79px,#ff9700 0 86px,#ff8700 0 97px,#ff7800 0 109px,#ff6800 0 123px,#ff5800 0 160px,#ff4800 0)"></i><i style="background:linear-gradient(#48ffb7 0 18px,#58ffa7 0 23px,#68ff97 0 28px,#78ff87 0 33px,#87ff78 0 37px,#97ff68 0 41px,#a7ff58 0 45px,#b7ff48 0 49px,#c7ff38 0 52px,#d7ff28 0 54px,#e7ff18 0 57px,#f7ff08 0 59px,#fff700 0 62px,#ffe700 0 64px,#ffd700 0 66px,#ffc700 0 69px,#ffb700 0 74px,#ffa700 0 79px,#ff9700 0 85px,#ff8700 0 97px,#ff7800 0 108px,#ff6800 0 122px,#ff5800 0 159px,#ff4800 0)"></i><i style="background:linear-gradient(#48ffb7 0 18px,#58ffa7 0 23px,#68ff97 0 28px,#78ff87 0 33px,#87ff78 0 37px,#97ff68 0 41px,#a7ff58 0 45px,#b7ff48 0 49px,#c7ff38 0 52px,#d7ff28 0 54px,#e7ff18 0 57px,#f7ff08 0 59px,#fff700 0 62px,#ffe700 0 64px,#ffd700 0 67px,#ffc700 0 69px,#ffb700 0 74px,#ffa700 0 79px,#ff9700 0 86px,#ff8700 0 97px,#ff7800 0 108px,#ff6800 0 122px,#ff5800 0 159px,#ff4800 0)"></i><i style="background:linear-gradient(#48ffb7 0 18px,#58ffa7 0 23px,#68ff97 0 29px,#78ff87 0 34px,#87ff78 0 38px,#97ff68 0 42px,#a7ff58 0 46px,#b7ff48 0 50px,#c7ff38 0 52px,#d7ff28 0 55px,#e7ff18 0 57px,#f7ff08 0 60px,#fff700 0 62px,#ffe700 0 65px,#ffd700 0 67px,#ffc700 0 70px,#ffb700 0 74px,#ffa700 0 79px,#ff9700 0 86px,#ff8700 0 97px,#ff7800 0 108px,#ff6800 0 122px,#ff5800 0 160px,#ff4800 0)"></i><i style="background:linear-gradient(#48ffb7 0 19px,#58ffa7 0 24px,#68ff97 0 29px,#78ff87 0 34px,#87ff78 0 38px,#97ff68 0 42px,#a7ff58 0 47px,#b7ff48 0 50px,#c7ff38 0 53px,#d7ff28 0 56px,#e7ff18 0 58px,#f7ff08 0 61px,#fff700 0 63px,#ffe700 0 65px,#ffd700 0 68px,#ffc700 0 70px,#ffb700 0 75px,#ffa700 0 80px,#ff9700 0 87px,#ff8700 0 98px,#ff7800 0 109px,#ff6800 0 123px,#ff5800 0 160px,#ff4800 0)"></i><i style="background:linear-gradient(#48ffb7 0 20px,#58ffa7 0 26px,#68ff97 0 31px,#78ff87 0 36px,#87ff78 0 40px,#97ff68 0 44px,#a7ff58 0 48px,#b7ff48 0 52px,#c7ff38 0 55px,#d7ff28 0 57px,#e7ff18 0 60px,#f7ff08 0 63px,#fff700 0 65px,#ffe700 0 67px,#ffd700 0 70px,#ffc700 0 72px,#ffb700 0 77px,#ffa700 0 82px,#ff9700 0 89px,#ff8700 0 100px,#ff7800 0 111px,#ff6800 0 124px,#ff5800 0 162px,#ff4800 0)"></i><i style="background:linear-gradient(#48ffb7 0 21px,#58ffa7 0 26px,#68ff97 0 31px,#78ff87 0 37px,#87ff78 0 41px,#97ff68 0 45px,#a7ff58 0 49px,#b7ff48 0 53px,#c7ff38 0 56px,#d7ff28 0 58px,#e7ff18 0 61px,#f7ff08 0 63px,#fff700 0 66px,#ffe700 0 68px,#ffd700 0 71px,#ffc700 0 73px,#ffb700 0 78px,#ffa700 0 83px,#ff9700 0 89px,#ff8700 0 100px,#ff7800 0 111px,#ff6800 0 125px,#ff5800 0 162px,#ff4800 0)"></i><i style="background:linear-gradient(#48ffb7 0 17px,#58ffa7 0 23px,#68ff97 0 28px,#78ff87 0 33px,#87ff78 0 37px,#97ff68 0 41px,#a7ff58 0 45px,#b7ff48 0 49px,#c7ff38 0 52px,#d7ff28 0 55px,#e7ff18 0 57px,#f7ff08 0 60px,#fff700 0 62px,#ffe700 0 65px,#ffd700 0 67px,#ffc700 0 69px,#ffb700 0 74px,#ffa700 0 79px,#ff9700 0 86px,#ff8700 0 97px,#ff7800 0 108px,#ff6800 0 121px,#ff5800 0 158px,#ff4800 0)"></i><i style="background:linear-gradient(#48ffb7 0 18px,#58ffa7 0 23px,#68ff97 0 29px,#78ff87 0 34px,#87ff78 0 38px,#97ff68 0 42px,#a7ff58 0 46px,#b7ff48 0 50px,#c7ff38 0 53px,#d7ff28 0 56px,#e7ff18 0 58px,#f7ff08 0 61px,#fff700 0 63px,#ffe700 0 66px,#ffd700 0 68px,#ffc700 0 70px,#ffb700 0 75px,#ffa700 0 80px,#ff9700 0 87px,#ff8700 0 98px,#ff7800 0 109px,#ff6800 0 122px,#ff5800 0 159px,#ff4800 0)"></i><i style="background:linear-gradient(#48ffb7 0 19px,#58ffa7 0 24px,#68ff97 0 29px,#78ff87 0 34px,#87ff78 0 39px,#97ff68 0 43px,#a7ff58 0 47px,#b7ff48 0 51px,#c7ff38 0 54px,#d7ff28 0 56px,#e7ff18 0 59px,#f7ff08 0 62px,#fff700 0 64px,#ffe700 0 66px,#ffd700 0 69px,#ffc700 0 71px,#ffb700 0 76px,#ffa700 0 81px,#ff9700 0 87px,#ff8700 0 98px,#ff7800 0 109px,#ff6800 0 122px,#ff5800 0 159px,#ff4800 0)"></i><i style="background:linear-gradient(#48ffb7 0 21px,#58ffa7 0 26px,#68ff97 0 31px,#78ff87 0 37px,#87ff78 0 41px,#97ff68 0 45px,#a7ff58 0 49px,#b7ff48 0 54px,#c7ff38 0 56px,#d7ff28 0 59px,#e7ff18 0 62px,#f7ff08 0 64px,#fff700 0 67px,#ffe700 0 69px,#ffd700 0 71px,#ffc700 0 73px,#ffb700 0 78px,#ffa700 0 83px,#ff9700 0 90px,#ff8700 0 101px,#ff7800 0 111px,#ff6800 0 125px,#ff5800 0 162px,#ff4800 0)"></i><i style="background:linear-gradient(#48ffb7 0 19px,#58ffa7 0 24px,#68ff97 0 30px,#78ff87 0 35px,#87ff78 0 39px,#97ff68 0 43px,#a7ff58 0 48px,#b7ff48 0 52px,#c7ff38 0 55px,#d7ff28 0 57px,#e7ff18 0 60px,#f7ff08 0 63px,#fff700 0 65px,#ffe700 0 67px,#ffd700 0 70px,#ffc700 0 72px,#ffb700 0 76px,#ffa700 0 82px,#ff9700 0 88px,#ff8700 0 99px,#ff7800 0 110px,#ff6800 0 123px,#ff5800 0 160px,#ff4800 0)"></i><i style="background:linear-gradient(#48ffb7 0 22px,#58ffa7 0 27px,#68ff97 0 32px,#78ff87 0 37px,#87ff78 0 42px,#97ff68 0 46px,#a7ff58 0 50px,#b7ff48 0 54px,#c7ff38 0 57px,#d7ff28 0 60px,#e7ff18 0 63px,#f7ff08 0 65px,#fff700 0 67px,#ffe700 0 70px,#ffd700 0 72px,#ffc700 0 74px,#ffb700 0 79px,#ffa700 0 84px,#ff9700 0 91px,#ff8700 0 101px,#ff7800 0 112px,#ff6800 0 125px,#ff5800 0 162px,#ff4800 0)"></i><i style="background:linear-gradient(#48ffb7 0 21px,#58ffa7 0 26px,#68ff97 0 31px,#78ff87 0 36px,#87ff78 0 41px,#97ff68 0 45px,#a7ff58 0 50px,#b7ff48 0 54px,#c7ff38 0 57px,#d7ff28 0 59px,#e7ff18 0 62px,#f7ff08 0 65px,#fff700 0 67px,#ffe700 0 69px,#ffd700 0 71px,#ffc700 0 74px,#ffb700 0 78px,#ffa700 0 83px,#ff9700 0 90px,#ff8700 0 101px,#ff7800 0 111px,#ff6800 0 124px,#ff5800 0 161px,#ff4800 0)"></i><i style="background:linear-gradient(#48ffb7 0 21px,#58ffa7 0 26px,#68ff97 0 31px,#78ff87 0 37px,#87ff78 0 41px,#97ff68 0 46px,#a7ff58 0 50px,#b7ff48 0 54px,#c7ff38 0 57px,#d7ff28 0 60px,#e7ff18 0 62px,#f7ff08 0 65px,#fff700 0 67px,#ffe700 0 70px,#ffd700 0 72px,#ffc700 0 74px,#ffb700 0 79px,#ffa700 0 84px,#ff9700 0 90px,#ff8700 0 101px,#ff7800 0 111px,#ff6800 0 124px,#ff5800 0 161px,#ff4800 0)"></i><i style="background:linear-gradient(#48ffb7 0 20px,#58ffa7 0 25px,#68ff97 0 30px,#78ff87 0 36px,#87ff78 0 40px,#97ff68 0 45px,#a7ff58 0 49px,#b7ff48 0 53px,#c7ff38 0 56px,#d7ff28 0 59px,#e7ff18 0 61px,#f7ff08 0 64px,#fff700 0 66px,#ffe700 0 69px,#ffd700 0 71px,#ffc700 0 73px,#ffb700 0 78px,#ffa700 0 83px,#ff9700 0 89px,#ff8700 0 100px,#ff7800 0 110px,#ff6800 0 123px,#ff5800 0 160px,#ff4800 0)"></i><i style="background:linear-gradient(#48ffb7 0 20px,#58ffa7 0 25px,#68ff97 0 30px,#78ff87 0 35px,#87ff78 0 40px,#97ff68 0 44px,#a7ff58 0 49px,#b7ff48 0 53px,#c7ff38 0 56px,#d7ff28 0 59px,#e7ff18 0 61px,#f7ff08 0 64px,#fff700 0 66px,#ffe700 0 69px,#ffd700 0 71px,#ffc700 0 73px,#ffb700 0 78px,#ffa700 0 83px,#ff9700 0 89px,#ff8700 0 100px,#ff7800 0 110px,#ff6800 0 123px,#ff5800 0 160px,#ff4800 0)"></i><i style="background:linear-gradient(#48ffb7 0 23px,#58ffa7 0 28px,#68ff97 0 33px,#78ff87 0 39px,#87ff78 0 43px,#97ff68 0 48px,#a7ff58 0 52px,#b7ff48 0 56px,#c7ff38 0 59px,#d7ff28 0 62px,#e7ff18 0 65px,#f7ff08 0 68px,#fff700 0 70px,#ffe700 0 72px,#ffd700 0 74px,#ffc700 0 76px,#ffb700 0 81px,#ffa700 0 86px,#ff9700 0 93px,#ff8700 0 103px,#ff7800 0 113px,#ff6800 0 126px,#ff5800 0 163px,#ff4800 0)"></i><i style="background:linear-gradient(#48ffb7 0 23px,#58ffa7 0 28px,#68ff97 0 33px,#78ff87 0 38px,#87ff78 0 43px,#97ff68 0 47px,#a7ff58 0 52px,#b7ff48 0 56px,#c7ff38 0 59px,#d7ff28 0 62px,#e7ff18 0 65px,#f7ff08 0 67px,#fff700 0 70px,#ffe700 0 72px,#ffd700 0 74px,#ffc700 0 76px,#ffb700 0 81px,#ffa700 0 86px,#ff9700 0 92px,#ff8700 0 103px,#ff7800 0 113px,#ff6800 0 126px,#ff5800 0 162px,#ff4800 0)"></i><i style="background:linear-gradient(#48ffb7 0 20px,#58ffa7 0 25px,#68ff97 0 31px,#78ff87 0 36px,#87ff78 0 41px,#97ff68 0 45px,#a7ff58 0 50px,#b7ff48 0 54px,#c7ff38 0 57px,#d7ff28 0 60px,#e7ff18 0 63px,#f7ff08 0 65px,#fff700 0 68px,#ffe700 0 70px,#ffd700 0 72px,#ffc700 0 74px,#ffb700 0 79px,#ffa700 0 84px,#ff9700 0 90px,#ff8700 0 100px,#ff7800 0 111px,#ff6800 0 123px,#ff5800 0 160px,#ff4800 0)"></i><i style="background:linear-gradient(#48ffb7 0 19px,#58ffa7 0 25px,#68ff97 0 30px,#78ff87 0 35px,#87ff78 0 39px,#97ff68 0 44px,#a7ff58 0 49px,#b7ff48 0 53px,#c7ff38 0 56px,#d7ff28 0 59px,#e7ff18 0 61px,#f7ff08 0 64px,#fff700 0 66px,#ffe700 0 69px,#ffd700 0 71px,#ffc700 0 73px,#ffb700 0 78px,#ffa700 0 83px,#ff9700 0 89px,#ff8700 0 100px,#ff7800 0 110px,#ff6800 0 123px,#ff5800 0 159px,#ff4800 0)"></i><i style="background:linear-gradient(#48ffb7 0 17px,#58ffa7 0 22px,#68ff97 0 27px,#78ff87 0 32px,#87ff78 0 37px,#97ff68 0 41px,#a7ff58 0 46px,#b7ff48 0 50px,#c7ff38 0 53px,#d7ff28 0 56px,#e7ff18 0 59px,#f7ff08 0 61px,#fff700 0 64px,#ffe700 0 66px,#ffd700 0 68px,#ffc700 0 71px,#ffb700 0 75px,#ffa700 0 80px,#ff9700 0 87px,#ff8700 0 98px,#ff7800 0 108px,#ff6800 0 121px,#ff5800 0 158px,#ff4800 0)"></i><i style="background:linear-gradient(#48ffb7 0 9px,#58ffa7 0 17px,#68ff97 0 22px,#78ff87 0 27px,#87ff78 0 32px,#97ff68 0 36px,#a7ff58 0 40px,#b7ff48 0 45px,#c7ff38 0 47px,#d7ff28 0 50px,#e7ff18 0 53px,#f7ff08 0 56px,#fff700 0 58px,#ffe700 0 61px,#ffd700 0 63px,#ffc700 0 65px,#ffb700 0 70px,#ffa700 0 75px,#ff9700 0 82px,#ff8700 0 93px,#ff7800 0 104px,#ff6800 0 116px,#ff5800 0 153px,#ff4800 0)"></i><i style="background:linear-gradient(#48ffb7 0 7px,#58ffa7 0 18px,#68ff97 0 23px,#78ff87 0 28px,#87ff78 0 32px,#97ff68 0 37px,#a7ff58 0 41px,#b7ff48 0 45px,#c7ff38 0 48px,#d7ff28 0 51px,#e7ff18 0 54px,#f7ff08 0 57px,#fff700 0 59px,#ffe700 0 61px,#ffd700 0 64px,#ffc700 0 66px,#ffb700 0 71px,#ffa700 0 76px,#ff9700 0 83px,#ff8700 0 94px,#ff7800 0 106px,#ff6800 0 117px,#ff5800 0 155px,#ff4800 0)"></i><i style="background:linear-gradient(#48ffb7 0 8px,#58ffa7 0 21px,#68ff97 0 26px,#78ff87 0 31px,#87ff78 0 35px,#97ff68 0 39px,#a7ff58 0 43px,#b7ff48 0 47px,#c7ff38 0 50px,#d7ff28 0 53px,#e7ff18 0 56px,#f7ff08 0 59px,#fff700 0 61px,#ffe700 0 64px,#ffd700 0 66px,#ffc700 0 69px,#ffb700 0 74px,#ffa700 0 79px,#ff9700 0 86px,#ff8700 0 98px,#ff7800 0 109px,#ff6800 0 120px,#ff5800 0 158px,#ff4800 0)"></i><i style="background:linear-gradient(#48ffb7 0 9px,#58ffa7 0 24px,#68ff97 0 29px,#78ff87 0 34px,#87ff78 0 38px,#97ff68 0 42px,#a7ff58 0 47px,#b7ff48 0 51px,#c7ff38 0 53px,#d7ff28 0 56px,#e7ff18 0 59px,#f7ff08 0 62px,#fff700 0 65px,#ffe700 0 67px,#ffd700 0 70px,#ffc700 0 72px,#ffb700 0 77px,#ffa700 0 83px,#ff9700 0 90px,#ff8700 0 101px,#ff7800 0 113px,#ff6800 0 124px,#ff5800 0 162px,#ff4800 0)"></i><i style="background:linear-gradient(#48ffb7 0 2px,#58ffa7 0 19px,#68ff97 0 24px,#78ff87 0 28px,#87ff78 0 32px,#97ff68 0 37px,#a7ff58 0 41px,#b7ff48 0 45px,#c7ff38 0 47px,#d7ff28 0 50px,#e7ff18 0 53px,#f7ff08 0 56px,#fff700 0 59px,#ffe700 0 61px,#ffd700 0 64px,#ffc700 0 67px,#ffb700 0 72px,#ffa700 0 77px,#ff9700 0 84px,#ff8700 0 96px,#ff7800 0 108px,#ff6800 0 119px,#ff5800 0 158px,#ff4800 0)"></i><i style="background:linear-gradient(#58ffa7 0 18px,#68ff97 0 23px,#78ff87 0 27px,#87ff78 0 31px,#97ff68 0 36px,#a7ff58 0 40px,#b7ff48 0 43px,#c7ff38 0 46px,#d7ff28 0 49px,#e7ff18 0 52px,#f7ff08 0 55px,#fff700 0 58px,#ffe700 0 60px,#ffd700 0 63px,#ffc700 0 66px,#ffb700 0 71px,#ffa700 0 76px,#ff9700 0 84px,#ff8700 0 96px,#ff7800 0 108px,#ff6800 0 119px,#ff5800 0 158px,#ff4800 0)"></i><i style="background:linear-gradient(#58ffa7 0 15px,#68ff97 0 19px,#78ff87 0 24px,#87ff78 0 28px,#97ff68 0 32px,#a7ff58 0 36px,#b7ff48 0 40px,#c7ff38 0 42px,#d7ff28 0 45px,#e7ff18 0 48px,#f7ff08 0 51px,#fff700 0 54px,#ffe700 0 57px,#ffd700 0 59px,#ffc700 0 62px,#ffb700 0 67px,#ffa700 0 73px,#ff9700 0 81px,#ff8700 0 93px,#ff7800 0 105px,#ff6800 0 116px,#ff5800 0 155px,#ff4800 0)"></i><i style="background:linear-gradient(#58ffa7 0 16px,#68ff97 0 20px,#78ff87 0 25px,#87ff78 0 29px,#97ff68 0 33px,#a7ff58 0 36px,#b7ff48 0 40px,#c7ff38 0 43px,#d7ff28 0 46px,#e7ff18 0 49px,#f7ff08 0 52px,#fff700 0 55px,#ffe700 0 57px,#ffd700 0 60px,#ffc700 0 63px,#ffb700 0 68px,#ffa700 0 74px,#ff9700 0 82px,#ff8700 0 94px,#ff7800 0 107px,#ff6800 0 117px,#ff5800 0 157px,#ff4800 0)"></i><i style="background:linear-gradient(#58ffa7 0 14px,#68ff97 0 18px,#78ff87 0 22px,#87ff78 0 26px,#97ff68 0 30px,#a7ff58 0 34px,#b7ff48 0 38px,#c7ff38 0 40px,#d7ff28 0 43px,#e7ff18 0 46px,#f7ff08 0 49px,#fff700 0 52px,#ffe700 0 55px,#ffd700 0 58px,#ffc700 0 61px,#ffb700 0 66px,#ffa700 0 72px,#ff9700 0 80px,#ff8700 0 92px,#ff7800 0 105px,#ff6800 0 116px,#ff5800 0 155px,#ff4800 0)"></i><i style="background:linear-gradient(#58ffa7 0 13px,#68ff97 0 18px,#78ff87 0 22px,#87ff78 0 26px,#97ff68 0 30px,#a7ff58 0 33px,#b7ff48 0 37px,#c7ff38 0 40px,#d7ff28 0 43px,#e7ff18 0 46px,#f7ff08 0 48px,#fff700 0 51px,#ffe700 0 54px,#ffd700 0 57px,#ffc700 0 61px,#ffb700 0 66px,#ffa700 0 72px,#ff9700 0 79px,#ff8700 0 93px,#ff7800 0 106px,#ff6800 0 116px,#ff5800 0 155px,#ff4800 0)"></i><i style="background:linear-gradient(#58ffa7 0 11px,#68ff97 0 16px,#78ff87 0 20px,#87ff78 0 23px,#97ff68 0 27px,#a7ff58 0 31px,#b7ff48 0 34px,#c7ff38 0 37px,#d7ff28 0 40px,#e7ff18 0 43px,#f7ff08 0 46px,#fff700 0 49px,#ffe700 0 52px,#ffd700 0 55px,#ffc700 0 58px,#ffb700 0 64px,#ffa700 0 70px,#ff9700 0 77px,#ff8700 0 91px,#ff7800 0 104px,#ff6800 0 114px,#ff5800 0 154px,#ff4800 0)"></i><i style="background:linear-gradient(#58ffa7 0 14px,#68ff97 0 18px,#78ff87 0 22px,#87ff78 0 26px,#97ff68 0 29px,#a7ff58 0 33px,#b7ff48 0 36px,#c7ff38 0 39px,#d7ff28 0 42px,#e7ff18 0 45px,#f7ff08 0 48px,#fff700 0 51px,#ffe700 0 54px,#ffd700 0 57px,#ffc700 0 60px,#ffb700 0 66px,#ffa700 0 72px,#ff9700 0 80px,#ff8700 0 93px,#ff7800 0 106px,#ff6800 0 116px,#ff5800 0 161px,#ff4800 0)"></i><i style="background:linear-gradient(#48ffb7 0 2px,#58ffa7 0 13px,#68ff97 0 17px,#78ff87 0 20px,#87ff78 0 24px,#97ff68 0 28px,#a7ff58 0 31px,#b7ff48 0 35px,#c7ff38 0 38px,#d7ff28 0 41px,#e7ff18 0 44px,#f7ff08 0 47px,#fff700 0 50px,#ffe700 0 53px,#ffd700 0 56px,#ffc700 0 59px,#ffb700 0 64px,#ffa700 0 70px,#ff9700 0 78px,#ff8700 0 92px,#ff7800 0 105px,#ff6800 0 114px,#ff5800 0 168px,#ff4800 0)"></i><i style="background:linear-gradient(#48ffb7 0 9px,#58ffa7 0 15px,#68ff97 0 19px,#78ff87 0 23px,#87ff78 0 26px,#97ff68 0 30px,#a7ff58 0 34px,#b7ff48 0 37px,#c7ff38 0 40px,#d7ff28 0 43px,#e7ff18 0 46px,#f7ff08 0 49px,#fff700 0 52px,#ffe700 0 55px,#ffd700 0 58px,#ffc700 0 61px,#ffb700 0 66px,#ffa700 0 72px,#ff9700 0 80px,#ff8700 0 94px,#ff7800 0 107px,#ff6800 0 116px,#ff5800 0 185px,#ff4800 0)"></i><i style="background:linear-gradient(#48ffb7 0 13px,#58ffa7 0 17px,#68ff97 0 20px,#78ff87 0 24px,#87ff78 0 27px,#97ff68 0 31px,#a7ff58 0 35px,#b7ff48 0 38px,#c7ff38 0 41px,#d7ff28 0 44px,#e7ff18 0 47px,#f7ff08 0 50px,#fff700 0 53px,#ffe700 0 56px,#ffd700 0 59px,#ffc700 0 62px,#ffb700 0 67px,#ffa700 0 73px,#ff9700 0 81px,#ff8700 0 95px,#ff7800 0 108px,#ff6800 0 117px,#ff5800 0)"></i><i style="background:linear-gradient(#38ffc7 0 5px,#48ffb7 0 16px,#58ffa7 0 19px,#68ff97 0 22px,#78ff87 0 26px,#87ff78 0 30px,#97ff68 0 33px,#a7ff58 0 37px,#b7ff48 0 40px,#c7ff38 0 43px,#d7ff28 0 46px,#e7ff18 0 49px,#f7ff08 0 52px,#fff700 0 55px,#ffe700 0 58px,#ffd700 0 61px,#ffc700 0 64px,#ffb700 0 70px,#ffa700 0 76px,#ff9700 0 84px,#ff8700 0 97px,#ff7800 0 110px,#ff6800 0 119px,#ff5800 0)"></i><i style="background:linear-gradient(#38ffc7 0 8px,#48ffb7 0 14px,#58ffa7 0 17px,#68ff97 0 21px,#78ff87 0 24px,#87ff78 0 28px,#97ff68 0 31px,#a7ff58 0 35px,#b7ff48 0 38px,#c7ff38 0 41px,#d7ff28 0 44px,#e7ff18 0 47px,#f7ff08 0 50px,#fff700 0 53px,#ffe700 0 56px,#ffd700 0 59px,#ffc700 0 62px,#ffb700 0 67px,#ffa700 0 73px,#ff9700 0 82px,#ff8700 0 95px,#ff7800 0 108px,#ff6800 0 116px,#ff5800 0)"></i><i style="background:linear-gradient(#38ffc7 0 10px,#48ffb7 0 17px,#58ffa7 0 20px,#68ff97 0 24px,#78ff87 0 27px,#87ff78 0 31px,#97ff68 0 35px,#a7ff58 0 38px,#b7ff48 0 42px,#c7ff38 0 45px,#d7ff28 0 48px,#e7ff18 0 51px,#f7ff08 0 54px,#fff700 0 57px,#ffe700 0 59px,#ffd700 0 62px,#ffc700 0 65px,#ffb700 0 71px,#ffa700 0 77px,#ff9700 0 85px,#ff8700 0 98px,#ff7800 0 111px,#ff6800 0 119px,#ff5800 0)"></i><i style="background:linear-gradient(#38ffc7 0 6px,#48ffb7 0 15px,#58ffa7 0 19px,#68ff97 0 23px,#78ff87 0 26px,#87ff78 0 30px,#97ff68 0 33px,#a7ff58 0 37px,#b7ff48 0 41px,#c7ff38 0 44px,#d7ff28 0 47px,#e7ff18 0 50px,#f7ff08 0 53px,#fff700 0 56px,#ffe700 0 59px,#ffd700 0 62px,#ffc700 0 64px,#ffb700 0 70px,#ffa700 0 76px,#ff9700 0 84px,#ff8700 0 97px,#ff7800 0 109px,#ff6800 0 118px,#ff5800 0)"></i><i style="background:linear-gradient(#48ffb7 0 19px,#58ffa7 0 23px,#68ff97 0 27px,#78ff87 0 30px,#87ff78 0 34px,#97ff68 0 38px,#a7ff58 0 41px,#b7ff48 0 45px,#c7ff38 0 48px,#d7ff28 0 51px,#e7ff18 0 54px,#f7ff08 0 57px,#fff700 0 60px,#ffe700 0 63px,#ffd700 0 66px,#ffc700 0 69px,#ffb700 0 74px,#ffa700 0 80px,#ff9700 0 88px,#ff8700 0 101px,#ff7800 0 113px,#ff6800 0 122px,#ff5800 0)"></i><i style="background:linear-gradient(#48ffb7 0 17px,#58ffa7 0 21px,#68ff97 0 25px,#78ff87 0 29px,#87ff78 0 32px,#97ff68 0 36px,#a7ff58 0 40px,#b7ff48 0 44px,#c7ff38 0 47px,#d7ff28 0 50px,#e7ff18 0 53px,#f7ff08 0 56px,#fff700 0 59px,#ffe700 0 62px,#ffd700 0 65px,#ffc700 0 68px,#ffb700 0 73px,#ffa700 0 79px,#ff9700 0 87px,#ff8700 0 99px,#ff7800 0 111px,#ff6800 0 121px,#ff5800 0)"></i><i style="background:linear-gradient(#48ffb7 0 12px,#58ffa7 0 16px,#68ff97 0 20px,#78ff87 0 24px,#87ff78 0 28px,#97ff68 0 32px,#a7ff58 0 36px,#b7ff48 0 39px,#c7ff38 0 42px,#d7ff28 0 45px,#e7ff18 0 48px,#f7ff08 0 51px,#fff700 0 55px,#ffe700 0 57px,#ffd700 0 60px,#ffc700 0 63px,#ffb700 0 69px,#ffa700 0 75px,#ff9700 0 83px,#ff8700 0 95px,#ff7800 0 107px,#ff6800 0 116px,#ff5800 0)"></i><i style="background:linear-gradient(#48ffb7 0 9px,#58ffa7 0 15px,#68ff97 0 19px,#78ff87 0 23px,#87ff78 0 26px,#97ff68 0 30px,#a7ff58 0 34px,#b7ff48 0 38px,#c7ff38 0 41px,#d7ff28 0 44px,#e7ff18 0 47px,#f7ff08 0 50px,#fff700 0 53px,#ffe700 0 56px,#ffd700 0 59px,#ffc700 0 62px,#ffb700 0 68px,#ffa700 0 74px,#ff9700 0 82px,#ff8700 0 93px,#ff7800 0 105px,#ff6800 0 114px,#ff5800 0)"></i><i style="background:linear-gradient(#48ffb7 0 7px,#58ffa7 0 16px,#68ff97 0 21px,#78ff87 0 24px,#87ff78 0 28px,#97ff68 0 32px,#a7ff58 0 36px,#b7ff48 0 40px,#c7ff38 0 43px,#d7ff28 0 46px,#e7ff18 0 49px,#f7ff08 0 53px,#fff700 0 56px,#ffe700 0 59px,#ffd700 0 61px,#ffc700 0 65px,#ffb700 0 70px,#ffa700 0 76px,#ff9700 0 84px,#ff8700 0 95px,#ff7800 0 107px,#ff6800 0 116px,#ff5800 0)"></i><i style="background:linear-gradient(#48ffb7 0 7px,#58ffa7 0 20px,#68ff97 0 24px,#78ff87 0 28px,#87ff78 0 32px,#97ff68 0 36px,#a7ff58 0 40px,#b7ff48 0 44px,#c7ff38 0 47px,#d7ff28 0 50px,#e7ff18 0 53px,#f7ff08 0 57px,#fff700 0 60px,#ffe700 0 63px,#ffd700 0 66px,#ffc700 0 69px,#ffb700 0 74px,#ffa700 0 80px,#ff9700 0 88px,#ff8700 0 99px,#ff7800 0 110px,#ff6800 0 119px,#ff5800 0)"></i><i style="background:linear-gradient(#58ffa7 0 16px,#68ff97 0 21px,#78ff87 0 25px,#87ff78 0 29px,#97ff68 0 33px,#a7ff58 0 37px,#b7ff48 0 41px,#c7ff38 0 44px,#d7ff28 0 47px,#e7ff18 0 50px,#f7ff08 0 54px,#fff700 0 57px,#ffe700 0 60px,#ffd700 0 62px,#ffc700 0 66px,#ffb700 0 71px,#ffa700 0 77px,#ff9700 0 85px,#ff8700 0 96px,#ff7800 0 107px,#ff6800 0 116px,#ff5800 0)"></i><i style="background:linear-gradient(#58ffa7 0 13px,#68ff97 0 18px,#78ff87 0 22px,#87ff78 0 26px,#97ff68 0 31px,#a7ff58 0 35px,#b7ff48 0 39px,#c7ff38 0 42px,#d7ff28 0 45px,#e7ff18 0 48px,#f7ff08 0 52px,#fff700 0 55px,#ffe700 0 58px,#ffd700 0 60px,#ffc700 0 63px,#ffb700 0 69px,#ffa700 0 75px,#ff9700 0 82px,#ff8700 0 94px,#ff7800 0 104px,#ff6800 0 113px,#ff5800 0)"></i><i style="background:linear-gradient(#58ffa7 0 8px,#68ff97 0 15px,#78ff87 0 19px,#87ff78 0 23px,#97ff68 0 27px,#a7ff58 0 31px,#b7ff48 0 35px,#c7ff38 0 39px,#d7ff28 0 42px,#e7ff18 0 45px,#f7ff08 0 48px,#fff700 0 51px,#ffe700 0 54px,#ffd700 0 57px,#ffc700 0 60px,#ffb700 0 65px,#ffa700 0 71px,#ff9700 0 79px,#ff8700 0 90px,#ff7800 0 100px,#ff6800 0 109px,#ff5800 0)"></i><i style="background:linear-gradient(#58ffa7 0 7px,#68ff97 0 15px,#78ff87 0 20px,#87ff78 0 24px,#97ff68 0 28px,#a7ff58 0 32px,#b7ff48 0 37px,#c7ff38 0 40px,#d7ff28 0 43px,#e7ff18 0 46px,#f7ff08 0 50px,#fff700 0 53px,#ffe700 0 56px,#ffd700 0 58px,#ffc700 0 61px,#ffb700 0 67px,#ffa700 0 73px,#ff9700 0 80px,#ff8700 0 91px,#ff7800 0 101px,#ff6800 0 110px,#ff5800 0)"></i><i style="background:linear-gradient(#58ffa7 0 1px,#68ff97 0 15px,#78ff87 0 20px,#87ff78 0 24px,#97ff68 0 28px,#a7ff58 0 32px,#b7ff48 0 37px,#c7ff38 0 40px,#d7ff28 0 43px,#e7ff18 0 47px,#f7ff08 0 50px,#fff700 0 53px,#ffe700 0 56px,#ffd700 0 59px,#ffc700 0 62px,#ffb700 0 67px,#ffa700 0 73px,#ff9700 0 80px,#ff8700 0 91px,#ff7800 0 101px,#ff6800 0 109px,#ff5800 0)"></i><i style="background:linear-gradient(#68ff97 0 15px,#78ff87 0 20px,#87ff78 0 24px,#97ff68 0 29px,#a7ff58 0 33px,#b7ff48 0 38px,#c7ff38 0 41px,#d7ff28 0 44px,#e7ff18 0 47px,#f7ff08 0 51px,#fff700 0 54px,#ffe700 0 57px,#ffd700 0 60px,#ffc700 0 63px,#ffb700 0 68px,#ffa700 0 74px,#ff9700 0 81px,#ff8700 0 92px,#ff7800 0 102px,#ff6800 0 110px,#ff5800 0)"></i><i style="background:linear-gradient(#68ff97 0 13px,#78ff87 0 19px,#87ff78 0 24px,#97ff68 0 28px,#a7ff58 0 33px,#b7ff48 0 37px,#c7ff38 0 40px,#d7ff28 0 44px,#e7ff18 0 47px,#f7ff08 0 50px,#fff700 0 53px,#ffe700 0 56px,#ffd700 0 59px,#ffc700 0 62px,#ffb700 0 67px,#ffa700 0 73px,#ff9700 0 81px,#ff8700 0 91px,#ff7800 0 101px,#ff6800 0 109px,#ff5800 0)"></i><i style="background:linear-gradient(#68ff97 0 13px,#78ff87 0 20px,#87ff78 0 24px,#97ff68 0 29px,#a7ff58 0 34px,#b7ff48 0 38px,#c7ff38 0 41px,#d7ff28 0 45px,#e7ff18 0 48px,#f7ff08 0 52px,#fff700 0 55px,#ffe700 0 57px,#ffd700 0 60px,#ffc700 0 63px,#ffb700 0 68px,#ffa700 0 75px,#ff9700 0 82px,#ff8700 0 92px,#ff7800 0 102px,#ff6800 0 109px,#ff5800 0)"></i><i style="background:linear-gradient(#68ff97 0 12px,#78ff87 0 20px,#87ff78 0 25px,#97ff68 0 29px,#a7ff58 0 34px,#b7ff48 0 38px,#c7ff38 0 42px,#d7ff28 0 45px,#e7ff18 0 49px,#f7ff08 0 52px,#fff700 0 55px,#ffe700 0 58px,#ffd700 0 61px,#ffc700 0 64px,#ffb700 0 69px,#ffa700 0 75px,#ff9700 0 82px,#ff8700 0 92px,#ff7800 0 102px,#ff6800 0 110px,#ff5800 0)"></i><i style="background:linear-gradient(#68ff97 0 9px,#78ff87 0 21px,#87ff78 0 26px,#97ff68 0 31px,#a7ff58 0 35px,#b7ff48 0 40px,#c7ff38 0 43px,#d7ff28 0 47px,#e7ff18 0 50px,#f7ff08 0 54px,#fff700 0 57px,#ffe700 0 60px,#ffd700 0 62px,#ffc700 0 65px,#ffb700 0 71px,#ffa700 0 77px,#ff9700 0 84px,#ff8700 0 94px,#ff7800 0 103px,#ff6800 0 111px,#ff5800 0)"></i><i style="background:linear-gradient(#78ff87 0 20px,#87ff78 0 25px,#97ff68 0 29px,#a7ff58 0 34px,#b7ff48 0 39px,#c7ff38 0 42px,#d7ff28 0 46px,#e7ff18 0 49px,#f7ff08 0 53px,#fff700 0 56px,#ffe700 0 59px,#ffd700 0 61px,#ffc700 0 64px,#ffb700 0 70px,#ffa700 0 76px,#ff9700 0 83px,#ff8700 0 92px,#ff7800 0 102px,#ff6800 0 109px,#ff5800 0)"></i><i style="background:linear-gradient(#78ff87 0 20px,#87ff78 0 25px,#97ff68 0 30px,#a7ff58 0 35px,#b7ff48 0 39px,#c7ff38 0 43px,#d7ff28 0 46px,#e7ff18 0 50px,#f7ff08 0 54px,#fff700 0 57px,#ffe700 0 59px,#ffd700 0 62px,#ffc700 0 65px,#ffb700 0 70px,#ffa700 0 76px,#ff9700 0 83px,#ff8700 0 93px,#ff7800 0 102px,#ff6800 0 110px,#ff5800 0)"></i><i style="background:linear-gradient(#78ff87 0 21px,#87ff78 0 26px,#97ff68 0 31px,#a7ff58 0 36px,#b7ff48 0 41px,#c7ff38 0 44px,#d7ff28 0 48px,#e7ff18 0 52px,#f7ff08 0 55px,#fff700 0 58px,#ffe700 0 61px,#ffd700 0 64px,#ffc700 0 66px,#ffb700 0 72px,#ffa700 0 78px,#ff9700 0 85px,#ff8700 0 94px,#ff7800 0 104px,#ff6800 0 111px,#ff5800 0)"></i><i style="background:linear-gradient(#78ff87 0 19px,#87ff78 0 24px,#97ff68 0 29px,#a7ff58 0 34px,#b7ff48 0 39px,#c7ff38 0 42px,#d7ff28 0 46px,#e7ff18 0 50px,#f7ff08 0 53px,#fff700 0 56px,#ffe700 0 59px,#ffd700 0 62px,#ffc700 0 64px,#ffb700 0 70px,#ffa700 0 76px,#ff9700 0 83px,#ff8700 0 92px,#ff7800 0 101px,#ff6800 0 108px,#ff5800 0)"></i><i style="background:linear-gradient(#78ff87 0 20px,#87ff78 0 26px,#97ff68 0 31px,#a7ff58 0 36px,#b7ff48 0 41px,#c7ff38 0 44px,#d7ff28 0 48px,#e7ff18 0 52px,#f7ff08 0 56px,#fff700 0 58px,#ffe700 0 61px,#ffd700 0 64px,#ffc700 0 66px,#ffb700 0 72px,#ffa700 0 78px,#ff9700 0 85px,#ff8700 0 94px,#ff7800 0 103px,#ff6800 0 110px,#ff5800 0)"></i><i style="background:linear-gradient(#87ff78 0 24px,#97ff68 0 29px,#a7ff58 0 34px,#b7ff48 0 39px,#c7ff38 0 43px,#d7ff28 0 47px,#e7ff18 0 51px,#f7ff08 0 54px,#fff700 0 57px,#ffe700 0 60px,#ffd700 0 62px,#ffc700 0 65px,#ffb700 0 71px,#ffa700 0 77px,#ff9700 0 84px,#ff8700 0 93px,#ff7800 0 101px,#ff6800 0 108px,#ff5800 0)"></i><i style="background:linear-gradient(#87ff78 0 24px,#97ff68 0 29px,#a7ff58 0 35px,#b7ff48 0 40px,#c7ff38 0 43px,#d7ff28 0 47px,#e7ff18 0 51px,#f7ff08 0 54px,#fff700 0 57px,#ffe700 0 60px,#ffd700 0 63px,#ffc700 0 65px,#ffb700 0 71px,#ffa700 0 77px,#ff9700 0 84px,#ff8700 0 93px,#ff7800 0 101px,#ff6800 0 108px,#ff5800 0)"></i><i style="background:linear-gradient(#87ff78 0 22px,#97ff68 0 27px,#a7ff58 0 33px,#b7ff48 0 38px,#c7ff38 0 41px,#d7ff28 0 45px,#e7ff18 0 49px,#f7ff08 0 53px,#fff700 0 55px,#ffe700 0 58px,#ffd700 0 61px,#ffc700 0 63px,#ffb700 0 69px,#ffa700 0 75px,#ff9700 0 82px,#ff8700 0 90px,#ff7800 0 99px,#ff6800 0 106px,#ff5800 0)"></i><i style="background:linear-gradient(#87ff78 0 25px,#97ff68 0 30px,#a7ff58 0 35px,#b7ff48 0 40px,#c7ff38 0 44px,#d7ff28 0 48px,#e7ff18 0 52px,#f7ff08 0 55px,#fff700 0 58px,#ffe700 0 61px,#ffd700 0 64px,#ffc700 0 66px,#ffb700 0 72px,#ffa700 0 78px,#ff9700 0 84px,#ff8700 0 93px,#ff7800 0 102px,#ff6800 0 108px,#ff5800 0)"></i><i style="background:linear-gradient(#87ff78 0 21px,#97ff68 0 27px,#a7ff58 0 32px,#b7ff48 0 37px,#c7ff38 0 41px,#d7ff28 0 44px,#e7ff18 0 48px,#f7ff08 0 52px,#fff700 0 55px,#ffe700 0 58px,#ffd700 0 60px,#ffc700 0 63px,#ffb700 0 68px,#ffa700 0 74px,#ff9700 0 81px,#ff8700 0 89px,#ff7800 0 98px,#ff6800 0 104px,#ff5800 0)"></i><i style="background:linear-gradient(#87ff78 0 21px,#97ff68 0 27px,#a7ff58 0 32px,#b7ff48 0 37px,#c7ff38 0 41px,#d7ff28 0 44px,#e7ff18 0 48px,#f7ff08 0 52px,#fff700 0 55px,#ffe700 0 58px,#ffd700 0 60px,#ffc700 0 63px,#ffb700 0 68px,#ffa700 0 74px,#ff9700 0 81px,#ff8700 0 89px,#ff7800 0 98px,#ff6800 0 103px,#ff5800 0)"></i><i style="background:linear-gradient(#87ff78 0 21px,#97ff68 0 26px,#a7ff58 0 31px,#b7ff48 0 36px,#c7ff38 0 40px,#d7ff28 0 44px,#e7ff18 0 48px,#f7ff08 0 52px,#fff700 0 54px,#ffe700 0 57px,#ffd700 0 60px,#ffc700 0 63px,#ffb700 0 68px,#ffa700 0 74px,#ff9700 0 80px,#ff8700 0 89px,#ff7800 0 97px,#ff6800 0 103px,#ff5800 0)"></i><i style="background:linear-gradient(#87ff78 0 23px,#97ff68 0 28px,#a7ff58 0 33px,#b7ff48 0 38px,#c7ff38 0 42px,#d7ff28 0 46px,#e7ff18 0 50px,#f7ff08 0 53px,#fff700 0 56px,#ffe700 0 59px,#ffd700 0 62px,#ffc700 0 64px,#ffb700 0 70px,#ffa700 0 75px,#ff9700 0 82px,#ff8700 0 90px,#ff7800 0 98px,#ff6800 0 104px,#ff5800 0)"></i><i style="background:linear-gradient(#87ff78 0 25px,#97ff68 0 30px,#a7ff58 0 35px,#b7ff48 0 40px,#c7ff38 0 44px,#d7ff28 0 48px,#e7ff18 0 52px,#f7ff08 0 56px,#fff700 0 59px,#ffe700 0 61px,#ffd700 0 64px,#ffc700 0 67px,#ffb700 0 72px,#ffa700 0 78px,#ff9700 0 84px,#ff8700 0 92px,#ff7800 0 100px,#ff6800 0 106px,#ff5800 0)"></i><i style="background:linear-gradient(#87ff78 0 25px,#97ff68 0 31px,#a7ff58 0 36px,#b7ff48 0 41px,#c7ff38 0 45px,#d7ff28 0 49px,#e7ff18 0 52px,#f7ff08 0 56px,#fff700 0 59px,#ffe700 0 62px,#ffd700 0 65px,#ffc700 0 67px,#ffb700 0 72px,#ffa700 0 78px,#ff9700 0 85px,#ff8700 0 93px,#ff7800 0 100px,#ff6800 0 106px,#ff5800 0)"></i><i style="background:linear-gradient(#87ff78 0 25px,#97ff68 0 30px,#a7ff58 0 35px,#b7ff48 0 40px,#c7ff38 0 44px,#d7ff28 0 48px,#e7ff18 0 52px,#f7ff08 0 56px,#fff700 0 59px,#ffe700 0 61px,#ffd700 0 64px,#ffc700 0 67px,#ffb700 0 72px,#ffa700 0 78px,#ff9700 0 84px,#ff8700 0 92px,#ff7800 0 100px,#ff6800 0 105px,#ff5800 0)"></i><i style="background:linear-gradient(#87ff78 0 24px,#97ff68 0 29px,#a7ff58 0 34px,#b7ff48 0 39px,#c7ff38 0 43px,#d7ff28 0 47px,#e7ff18 0 51px,#f7ff08 0 55px,#fff700 0 58px,#ffe700 0 60px,#ffd700 0 63px,#ffc700 0 66px,#ffb700 0 71px,#ffa700 0 77px,#ff9700 0 83px,#ff8700 0 91px,#ff7800 0 98px,#ff6800 0 103px,#ff5800 0)"></i><i style="background:linear-gradient(#87ff78 0 22px,#97ff68 0 27px,#a7ff58 0 33px,#b7ff48 0 38px,#c7ff38 0 42px,#d7ff28 0 45px,#e7ff18 0 49px,#f7ff08 0 53px,#fff700 0 56px,#ffe700 0 59px,#ffd700 0 61px,#ffc700 0 64px,#ffb700 0 69px,#ffa700 0 75px,#ff9700 0 81px,#ff8700 0 89px,#ff7800 0 96px,#ff6800 0 101px,#ff5800 0)"></i><i style="background:linear-gradient(#87ff78 0 25px,#97ff68 0 30px,#a7ff58 0 35px,#b7ff48 0 40px,#c7ff38 0 44px,#d7ff28 0 48px,#e7ff18 0 52px,#f7ff08 0 56px,#fff700 0 59px,#ffe700 0 62px,#ffd700 0 64px,#ffc700 0 67px,#ffb700 0 72px,#ffa700 0 78px,#ff9700 0 84px,#ff8700 0 91px,#ff7800 0 99px,#ff6800 0 103px,#ff5800 0)"></i><i style="background:linear-gradient(#87ff78 0 23px,#97ff68 0 28px,#a7ff58 0 34px,#b7ff48 0 39px,#c7ff38 0 43px,#d7ff28 0 47px,#e7ff18 0 51px,#f7ff08 0 55px,#fff700 0 57px,#ffe700 0 60px,#ffd700 0 63px,#ffc700 0 65px,#ffb700 0 71px,#ffa700 0 76px,#ff9700 0 82px,#ff8700 0 90px,#ff7800 0 97px,#ff6800 0 101px,#ff5800 0)"></i><i style="background:linear-gradient(#87ff78 0 23px,#97ff68 0 28px,#a7ff58 0 33px,#b7ff48 0 38px,#c7ff38 0 42px,#d7ff28 0 46px,#e7ff18 0 50px,#f7ff08 0 54px,#fff700 0 57px,#ffe700 0 59px,#ffd700 0 62px,#ffc700 0 65px,#ffb700 0 70px,#ffa700 0 75px,#ff9700 0 82px,#ff8700 0 89px,#ff7800 0 96px,#ff6800 0 100px,#ff5800 0)"></i><i style="background:linear-gradient(#87ff78 0 25px,#97ff68 0 30px,#a7ff58 0 35px,#b7ff48 0 40px,#c7ff38 0 44px,#d7ff28 0 48px,#e7ff18 0 52px,#f7ff08 0 56px,#fff700 0 59px,#ffe700 0 61px,#ffd700 0 64px,#ffc700 0 67px,#ffb700 0 72px,#ffa700 0 77px,#ff9700 0 83px,#ff8700 0 91px,#ff7800 0 98px,#ff6800 0 102px,#ff5800 0)"></i><i style="background:linear-gradient(#87ff78 0 26px,#97ff68 0 31px,#a7ff58 0 37px,#b7ff48 0 42px,#c7ff38 0 46px,#d7ff28 0 50px,#e7ff18 0 54px,#f7ff08 0 58px,#fff700 0 60px,#ffe700 0 63px,#ffd700 0 66px,#ffc700 0 68px,#ffb700 0 73px,#ffa700 0 79px,#ff9700 0 85px,#ff8700 0 92px,#ff7800 0 99px,#ff6800 0 103px,#ff5800 0)"></i><i style="background:linear-gradient(#87ff78 0 5px,#78ff87 0 22px,#87ff78 0 27px,#97ff68 0 32px,#a7ff58 0 37px,#b7ff48 0 42px,#c7ff38 0 46px,#d7ff28 0 50px,#e7ff18 0 54px,#f7ff08 0 58px,#fff700 0 60px,#ffe700 0 63px,#ffd700 0 66px,#ffc700 0 69px,#ffb700 0 74px,#ffa700 0 79px,#ff9700 0 85px,#ff8700 0 92px,#ff7800 0 99px,#ff6800 0 103px,#ff5800 0)"></i><i style="background:linear-gradient(#87ff78 0 1px,#78ff87 0 19px,#87ff78 0 24px,#97ff68 0 29px,#a7ff58 0 34px,#b7ff48 0 39px,#c7ff38 0 42px,#d7ff28 0 46px,#e7ff18 0 49px,#f7ff08 0 53px,#fff700 0 56px,#ffe700 0 59px,#ffd700 0 62px,#ffc700 0 65px,#ffb700 0 70px,#ffa700 0 75px,#ff9700 0 81px,#ff8700 0 88px,#ff7800 0 96px,#ff6800 0 99px,#ff5800 0)"></i><i style="background:linear-gradient(#78ff87 0 18px,#87ff78 0 23px,#97ff68 0 29px,#a7ff58 0 33px,#b7ff48 0 38px,#c7ff38 0 41px,#d7ff28 0 44px,#e7ff18 0 48px,#f7ff08 0 51px,#fff700 0 54px,#ffe700 0 57px,#ffd700 0 60px,#ffc700 0 63px,#ffb700 0 68px,#ffa700 0 73px,#ff9700 0 80px,#ff8700 0 87px,#ff7800 0 94px,#ff6800 0 98px,#ff5800 0)"></i><i style="background:linear-gradient(#78ff87 0 18px,#87ff78 0 24px,#97ff68 0 29px,#a7ff58 0 33px,#b7ff48 0 37px,#c7ff38 0 40px,#d7ff28 0 43px,#e7ff18 0 46px,#f7ff08 0 50px,#fff700 0 53px,#ffe700 0 56px,#ffd700 0 59px,#ffc700 0 62px,#ffb700 0 67px,#ffa700 0 72px,#ff9700 0 79px,#ff8700 0 86px,#ff7800 0 94px,#ff6800 0 97px,#ff5800 0)"></i><i style="background:linear-gradient(#87ff78 0 4px,#78ff87 0 22px,#87ff78 0 28px,#97ff68 0 33px,#a7ff58 0 37px,#b7ff48 0 41px,#c7ff38 0 44px,#d7ff28 0 47px,#e7ff18 0 50px,#f7ff08 0 53px,#fff700 0 56px,#ffe700 0 59px,#ffd700 0 62px,#ffc700 0 66px,#ffb700 0 70px,#ffa700 0 76px,#ff9700 0 82px,#ff8700 0 90px,#ff7800 0 98px,#ff6800 0 101px,#ff5800 0)"></i><i style="background:linear-gradient(#87ff78 0 6px,#78ff87 0 25px,#87ff78 0 31px,#97ff68 0 35px,#a7ff58 0 39px,#b7ff48 0 43px,#c7ff38 0 46px,#d7ff28 0 49px,#e7ff18 0 52px,#f7ff08 0 55px,#fff700 0 58px,#ffe700 0 61px,#ffd700 0 63px,#ffc700 0 67px,#ffb700 0 72px,#ffa700 0 77px,#ff9700 0 84px,#ff8700 0 92px,#ff7800 0 100px,#ff6800 0 103px,#ff5800 0)"></i><i style="background:linear-gradient(#87ff78 0 8px,#78ff87 0 28px,#87ff78 0 34px,#97ff68 0 38px,#a7ff58 0 42px,#b7ff48 0 45px,#c7ff38 0 48px,#d7ff28 0 51px,#e7ff18 0 53px,#f7ff08 0 56px,#fff700 0 59px,#ffe700 0 62px,#ffd700 0 65px,#ffc700 0 68px,#ffb700 0 73px,#ffa700 0 79px,#ff9700 0 86px,#ff8700 0 94px,#ff7800 0 102px,#ff6800 0 105px,#ff5800 0)"></i><i style="background:linear-gradient(#87ff78 0 3px,#78ff87 0 14px,#68ff97 0 15px,#78ff87 0 23px,#87ff78 0 29px,#97ff68 0 33px,#a7ff58 0 37px,#b7ff48 0 40px,#c7ff38 0 43px,#d7ff28 0 45px,#e7ff18 0 48px,#f7ff08 0 51px,#fff700 0 53px,#ffe700 0 56px,#ffd700 0 59px,#ffc700 0 62px,#ffb700 0 67px,#ffa700 0 73px,#ff9700 0 80px,#ff8700 0 88px,#ff7800 0 96px,#ff6800 0 99px,#ff5800 0)"></i><i style="background:linear-gradient(#78ff87 0 9px,#68ff97 0 12px,#78ff87 0 19px,#87ff78 0 26px,#97ff68 0 29px,#a7ff58 0 33px,#b7ff48 0 36px,#c7ff38 0 38px,#d7ff28 0 41px,#e7ff18 0 43px,#f7ff08 0 46px,#fff700 0 49px,#ffe700 0 51px,#ffd700 0 54px,#ffc700 0 57px,#ffb700 0 62px,#ffa700 0 68px,#ff9700 0 75px,#ff8700 0 84px,#ff7800 0 92px,#ff6800 0 95px,#ff5800 0)"></i><i style="background:linear-gradient(#78ff87 0 8px,#68ff97 0 13px,#78ff87 0 20px,#87ff78 0 26px,#97ff68 0 29px,#a7ff58 0 33px,#b7ff48 0 36px,#c7ff38 0 38px,#d7ff28 0 41px,#e7ff18 0 43px,#f7ff08 0 45px,#fff700 0 48px,#ffe700 0 51px,#ffd700 0 54px,#ffc700 0 56px,#ffb700 0 62px,#ffa700 0 68px,#ff9700 0 75px,#ff8700 0 83px,#ff7800 0 92px,#ff6800 0 95px,#ff5800 0)"></i><i style="background:linear-gradient(#78ff87 0 8px,#68ff97 0 12px,#78ff87 0 19px,#87ff78 0 25px,#97ff68 0 28px,#a7ff58 0 32px,#b7ff48 0 35px,#c7ff38 0 37px,#d7ff28 0 40px,#e7ff18 0 42px,#f7ff08 0 45px,#fff700 0 47px,#ffe700 0 50px,#ffd700 0 53px,#ffc700 0 55px,#ffb700 0 61px,#ffa700 0 67px,#ff9700 0 74px,#ff8700 0 82px,#ff7800 0 90px,#ff6800 0 93px,#ff5800 0)"></i><i style="background:linear-gradient(#78ff87 0 10px,#68ff97 0 15px,#78ff87 0 22px,#87ff78 0 27px,#97ff68 0 31px,#a7ff58 0 34px,#b7ff48 0 37px,#c7ff38 0 39px,#d7ff28 0 42px,#e7ff18 0 44px,#f7ff08 0 47px,#fff700 0 49px,#ffe700 0 52px,#ffd700 0 55px,#ffc700 0 57px,#ffb700 0 63px,#ffa700 0 69px,#ff9700 0 75px,#ff8700 0 83px,#ff7800 0 91px,#ff6800 0 95px,#ff5800 0)"></i><i style="background:linear-gradient(#87ff78 0 3px,#78ff87 0 14px,#68ff97 0 18px,#78ff87 0 25px,#87ff78 0 30px,#97ff68 0 33px,#a7ff58 0 37px,#b7ff48 0 40px,#c7ff38 0 42px,#d7ff28 0 45px,#e7ff18 0 47px,#f7ff08 0 50px,#fff700 0 52px,#ffe700 0 55px,#ffd700 0 57px,#ffc700 0 60px,#ffb700 0 65px,#ffa700 0 71px,#ff9700 0 78px,#ff8700 0 86px,#ff7800 0 94px,#ff6800 0 97px,#ff5800 0)"></i><i style="background:linear-gradient(#87ff78 0 4px,#78ff87 0 14px,#68ff97 0 19px,#78ff87 0 25px,#87ff78 0 30px,#97ff68 0 33px,#a7ff58 0 37px,#b7ff48 0 40px,#c7ff38 0 42px,#d7ff28 0 45px,#e7ff18 0 47px,#f7ff08 0 50px,#fff700 0 52px,#ffe700 0 55px,#ffd700 0 57px,#ffc700 0 60px,#ffb700 0 65px,#ffa700 0 71px,#ff9700 0 78px,#ff8700 0 85px,#ff7800 0 93px,#ff6800 0 97px,#ff5800 0)"></i><i style="background:linear-gradient(#87ff78 0 1px,#78ff87 0 12px,#68ff97 0 17px,#78ff87 0 23px,#87ff78 0 28px,#97ff68 0 31px,#a7ff58 0 34px,#b7ff48 0 37px,#c7ff38 0 40px,#d7ff28 0 42px,#e7ff18 0 45px,#f7ff08 0 47px,#fff700 0 50px,#ffe700 0 52px,#ffd700 0 55px,#ffc700 0 57px,#ffb700 0 63px,#ffa700 0 68px,#ff9700 0 75px,#ff8700 0 82px,#ff7800 0 90px,#ff6800 0 93px,#ff5800 0)"></i><i style="background:linear-gradient(#87ff78 0 2px,#78ff87 0 13px,#68ff97 0 18px,#78ff87 0 23px,#87ff78 0 28px,#97ff68 0 31px,#a7ff58 0 34px,#b7ff48 0 38px,#c7ff38 0 40px,#d7ff28 0 43px,#e7ff18 0 45px,#f7ff08 0 48px,#fff700 0 50px,#ffe700 0 53px,#ffd700 0 55px,#ffc700 0 58px,#ffb700 0 63px,#ffa700 0 69px,#ff9700 0 75px,#ff8700 0 82px,#ff7800 0 90px,#ff6800 0 93px,#ff5800 0)"></i><i style="background:linear-gradient(#87ff78 0 5px,#78ff87 0 16px,#68ff97 0 21px,#78ff87 0 26px,#87ff78 0 31px,#97ff68 0 34px,#a7ff58 0 37px,#b7ff48 0 40px,#c7ff38 0 43px,#d7ff28 0 45px,#e7ff18 0 48px,#f7ff08 0 50px,#fff700 0 53px,#ffe700 0 55px,#ffd700 0 58px,#ffc700 0 60px,#ffb700 0 65px,#ffa700 0 71px,#ff9700 0 77px,#ff8700 0 84px,#ff7800 0 91px,#ff6800 0 95px,#ff5800 0)"></i><i style="background:linear-gradient(#87ff78 0 4px,#78ff87 0 16px,#68ff97 0 20px,#78ff87 0 25px,#87ff78 0 30px,#97ff68 0 33px,#a7ff58 0 36px,#b7ff48 0 39px,#c7ff38 0 41px,#d7ff28 0 44px,#e7ff18 0 47px,#f7ff08 0 49px,#fff700 0 52px,#ffe700 0 54px,#ffd700 0 57px,#ffc700 0 59px,#ffb700 0 64px,#ffa700 0 70px,#ff9700 0 76px,#ff8700 0 83px,#ff7800 0 90px,#ff6800 0 94px,#ff5800 0)"></i><i style="background:linear-gradient(#87ff78 0 1px,#78ff87 0 13px,#68ff97 0 17px,#78ff87 0 22px,#87ff78 0 26px,#97ff68 0 29px,#a7ff58 0 32px,#b7ff48 0 35px,#c7ff38 0 38px,#d7ff28 0 41px,#e7ff18 0 43px,#f7ff08 0 46px,#fff700 0 48px,#ffe700 0 51px,#ffd700 0 53px,#ffc700 0 56px,#ffb700 0 61px,#ffa700 0 66px,#ff9700 0 72px,#ff8700 0 79px,#ff7800 0 86px,#ff6800 0 90px,#ff5800 0)"></i><i style="background:linear-gradient(#78ff87 0 11px,#68ff97 0 16px,#78ff87 0 20px,#87ff78 0 24px,#97ff68 0 27px,#a7ff58 0 30px,#b7ff48 0 33px,#c7ff38 0 36px,#d7ff28 0 38px,#e7ff18 0 41px,#f7ff08 0 44px,#fff700 0 46px,#ffe700 0 49px,#ffd700 0 51px,#ffc700 0 53px,#ffb700 0 58px,#ffa700 0 64px,#ff9700 0 70px,#ff8700 0 76px,#ff7800 0 83px,#ff6800 0 87px,#ff5800 0)"></i><i style="background:linear-gradient(#87ff78 0 4px,#78ff87 0 16px,#68ff97 0 21px,#78ff87 0 25px,#87ff78 0 29px,#97ff68 0 32px,#a7ff58 0 35px,#b7ff48 0 38px,#c7ff38 0 40px,#d7ff28 0 43px,#e7ff18 0 46px,#f7ff08 0 48px,#fff700 0 51px,#ffe700 0 53px,#ffd700 0 55px,#ffc700 0 58px,#ffb700 0 63px,#ffa700 0 68px,#ff9700 0 74px,#ff8700 0 80px,#ff7800 0 87px,#ff6800 0 91px,#ff5800 0)"></i><i style="background:linear-gradient(#87ff78 0 4px,#78ff87 0 16px,#68ff97 0 20px,#78ff87 0 25px,#87ff78 0 28px,#97ff68 0 31px,#a7ff58 0 34px,#b7ff48 0 37px,#c7ff38 0 39px,#d7ff28 0 42px,#e7ff18 0 45px,#f7ff08 0 48px,#fff700 0 50px,#ffe700 0 52px,#ffd700 0 55px,#ffc700 0 57px,#ffb700 0 62px,#ffa700 0 67px,#ff9700 0 73px,#ff8700 0 79px,#ff7800 0 85px,#ff6800 0 90px,#ff5800 0)"></i><i style="background:linear-gradient(#87ff78 0 3px,#78ff87 0 15px,#68ff97 0 19px,#78ff87 0 23px,#87ff78 0 27px,#97ff68 0 30px,#a7ff58 0 33px,#b7ff48 0 36px,#c7ff38 0 38px,#d7ff28 0 41px,#e7ff18 0 44px,#f7ff08 0 46px,#fff700 0 49px,#ffe700 0 51px,#ffd700 0 54px,#ffc700 0 56px,#ffb700 0 61px,#ffa700 0 66px,#ff9700 0 72px,#ff8700 0 78px,#ff7800 0 84px,#ff6800 0 88px,#ff5800 0)"></i><i style="background:linear-gradient(#87ff78 0 1px,#78ff87 0 14px,#68ff97 0 18px,#78ff87 0 22px,#87ff78 0 26px,#97ff68 0 29px,#a7ff58 0 32px,#b7ff48 0 34px,#c7ff38 0 37px,#d7ff28 0 40px,#e7ff18 0 42px,#f7ff08 0 45px,#fff700 0 48px,#ffe700 0 50px,#ffd700 0 53px,#ffc700 0 55px,#ffb700 0 60px,#ffa700 0 65px,#ff9700 0 71px,#ff8700 0 76px,#ff7800 0 82px,#ff6800 0 86px,#ff5800 0)"></i><i style="background:linear-gradient(#87ff78 0 2px,#78ff87 0 16px,#68ff97 0 18px,#78ff87 0 23px,#87ff78 0 27px,#97ff68 0 29px,#a7ff58 0 32px,#b7ff48 0 35px,#c7ff38 0 38px,#d7ff28 0 41px,#e7ff18 0 43px,#f7ff08 0 46px,#fff700 0 48px,#ffe700 0 51px,#ffd700 0 54px,#ffc700 0 56px,#ffb700 0 61px,#ffa700 0 66px,#ff9700 0 72px,#ff8700 0 77px,#ff7800 0 82px,#ff6800 0 86px,#ff5800 0)"></i><i style="background:linear-gradient(#87ff78 0 3px,#78ff87 0 18px,#68ff97 0 19px,#78ff87 0 23px,#87ff78 0 28px,#97ff68 0 31px,#a7ff58 0 34px,#b7ff48 0 36px,#c7ff38 0 39px,#d7ff28 0 42px,#e7ff18 0 44px,#f7ff08 0 47px,#fff700 0 50px,#ffe700 0 52px,#ffd700 0 55px,#ffc700 0 58px,#ffb700 0 63px,#ffa700 0 68px,#ff9700 0 73px,#ff8700 0 78px,#ff7800 0 83px,#ff6800 0 87px,#ff5800 0)"></i><i style="background:linear-gradient(#87ff78 0 3px,#78ff87 0 23px,#87ff78 0 27px,#97ff68 0 30px,#a7ff58 0 33px,#b7ff48 0 36px,#c7ff38 0 39px,#d7ff28 0 42px,#e7ff18 0 44px,#f7ff08 0 47px,#fff700 0 50px,#ffe700 0 52px,#ffd700 0 55px,#ffc700 0 58px,#ffb700 0 63px,#ffa700 0 68px,#ff9700 0 73px,#ff8700 0 78px,#ff7800 0 83px,#ff6800 0 86px,#ff5800 0)"></i><i style="background:linear-gradient(#87ff78 0 1px,#78ff87 0 21px,#87ff78 0 26px,#97ff68 0 29px,#a7ff58 0 32px,#b7ff48 0 35px,#c7ff38 0 37px,#d7ff28 0 40px,#e7ff18 0 42px,#f7ff08 0 45px,#fff700 0 48px,#ffe700 0 51px,#ffd700 0 54px,#ffc700 0 56px,#ffb700 0 61px,#ffa700 0 66px,#ff9700 0 71px,#ff8700 0 76px,#ff7800 0 80px,#ff6800 0 84px,#ff5800 0)"></i><i style="background:linear-gradient(#87ff78 0 1px,#78ff87 0 21px,#87ff78 0 25px,#97ff68 0 28px,#a7ff58 0 31px,#b7ff48 0 34px,#c7ff38 0 37px,#d7ff28 0 40px,#e7ff18 0 42px,#f7ff08 0 45px,#fff700 0 48px,#ffe700 0 51px,#ffd700 0 54px,#ffc700 0 56px,#ffb700 0 61px,#ffa700 0 66px,#ff9700 0 71px,#ff8700 0 75px,#ff7800 0 80px,#ff6800 0 83px,#ff5800 0)"></i><i style="background:linear-gradient(#78ff87 0 20px,#87ff78 0 24px,#97ff68 0 27px,#a7ff58 0 30px,#b7ff48 0 33px,#c7ff38 0 36px,#d7ff28 0 38px,#e7ff18 0 41px,#f7ff08 0 43px,#fff700 0 46px,#ffe700 0 50px,#ffd700 0 53px,#ffc700 0 56px,#ffb700 0 60px,#ffa700 0 66px,#ff9700 0 70px,#ff8700 0 74px,#ff7800 0 78px,#ff6800 0 82px,#ff5800 0)"></i><i style="background:linear-gradient(#78ff87 0 17px,#87ff78 0 22px,#97ff68 0 25px,#a7ff58 0 28px,#b7ff48 0 32px,#c7ff38 0 34px,#d7ff28 0 36px,#e7ff18 0 39px,#f7ff08 0 41px,#fff700 0 45px,#ffe700 0 48px,#ffd700 0 51px,#ffc700 0 54px,#ffb700 0 59px,#ffa700 0 64px,#ff9700 0 69px,#ff8700 0 72px,#ff7800 0 76px,#ff6800 0 79px,#ff5800 0)"></i><i style="background:linear-gradient(#78ff87 0 20px,#87ff78 0 24px,#97ff68 0 28px,#a7ff58 0 31px,#b7ff48 0 34px,#c7ff38 0 37px,#d7ff28 0 39px,#e7ff18 0 42px,#f7ff08 0 44px,#fff700 0 47px,#ffe700 0 51px,#ffd700 0 54px,#ffc700 0 57px,#ffb700 0 62px,#ffa700 0 67px,#ff9700 0 71px,#ff8700 0 75px,#ff7800 0 78px,#ff6800 0 81px,#ff5800 0)"></i><i style="background:linear-gradient(#78ff87 0 19px,#87ff78 0 24px,#97ff68 0 27px,#a7ff58 0 31px,#b7ff48 0 34px,#c7ff38 0 36px,#d7ff28 0 38px,#e7ff18 0 41px,#f7ff08 0 43px,#fff700 0 47px,#ffe700 0 50px,#ffd700 0 53px,#ffc700 0 57px,#ffb700 0 61px,#ffa700 0 66px,#ff9700 0 71px,#ff8700 0 74px,#ff7800 0 77px,#ff6800 0 80px,#ff5800 0)"></i><i style="background:linear-gradient(#87ff78 0 1px,#78ff87 0 20px,#87ff78 0 25px,#97ff68 0 29px,#a7ff58 0 32px,#b7ff48 0 35px,#c7ff38 0 37px,#d7ff28 0 40px,#e7ff18 0 42px,#f7ff08 0 45px,#fff700 0 48px,#ffe700 0 52px,#ffd700 0 55px,#ffc700 0 59px,#ffb700 0 63px,#ffa700 0 68px,#ff9700 0 72px,#ff8700 0 75px,#ff7800 0 78px,#ff6800 0 81px,#ff5800 0)"></i><i style="background:linear-gradient(#87ff78 0 1px,#78ff87 0 19px,#87ff78 0 24px,#97ff68 0 28px,#a7ff58 0 32px,#b7ff48 0 35px,#c7ff38 0 38px,#d7ff28 0 40px,#e7ff18 0 42px,#f7ff08 0 45px,#fff700 0 48px,#ffe700 0 52px,#ffd700 0 55px,#ffc700 0 59px,#ffb700 0 63px,#ffa700 0 68px,#ff9700 0 73px,#ff8700 0 75px,#ff7800 0 78px,#ff6800 0 81px,#ff5800 0)"></i><i style="background:linear-gradient(#87ff78 0 2px,#78ff87 0 18px,#87ff78 0 23px,#97ff68 0 28px,#a7ff58 0 31px,#b7ff48 0 35px,#c7ff38 0 38px,#d7ff28 0 40px,#e7ff18 0 43px,#f7ff08 0 46px,#fff700 0 49px,#ffe700 0 52px,#ffd700 0 56px,#ffc700 0 59px,#ffb700 0 64px,#ffa700 0 69px,#ff9700 0 73px,#ff8700 0 76px,#ff7800 0 78px,#ff6800 0 81px,#ff5800 0)"></i><i style="background:linear-gradient(#87ff78 0 2px,#78ff87 0 17px,#87ff78 0 22px,#97ff68 0 26px,#a7ff58 0 30px,#b7ff48 0 34px,#c7ff38 0 37px,#d7ff28 0 40px,#e7ff18 0 43px,#f7ff08 0 45px,#fff700 0 49px,#ffe700 0 52px,#ffd700 0 55px,#ffc700 0 59px,#ffb700 0 63px,#ffa700 0 68px,#ff9700 0 73px,#ff8700 0 75px,#ff7800 0 78px,#ff6800 0 81px,#ff5800 0)"></i><i style="background:linear-gradient(#78ff87 0 13px,#87ff78 0 18px,#97ff68 0 23px,#a7ff58 0 27px,#b7ff48 0 31px,#c7ff38 0 34px,#d7ff28 0 37px,#e7ff18 0 40px,#f7ff08 0 43px,#fff700 0 46px,#ffe700 0 49px,#ffd700 0 53px,#ffc700 0 56px,#ffb700 0 61px,#ffa700 0 66px,#ff9700 0 70px,#ff8700 0 73px,#ff7800 0 75px,#ff6800 0 78px,#ff5800 0)"></i><i style="background:linear-gradient(#78ff87 0 12px,#87ff78 0 18px,#97ff68 0 23px,#a7ff58 0 27px,#b7ff48 0 32px,#c7ff38 0 35px,#d7ff28 0 38px,#e7ff18 0 41px,#f7ff08 0 44px,#fff700 0 47px,#ffe700 0 50px,#ffd700 0 53px,#ffc700 0 57px,#ffb700 0 61px,#ffa700 0 66px,#ff9700 0 71px,#ff8700 0 74px,#ff7800 0 76px,#ff6800 0 79px,#ff5800 0)"></i><i style="background:linear-gradient(#87ff78 0 9px,#97ff68 0 13px,#a7ff58 0 17px,#b7ff48 0 20px,#c7ff38 0 24px,#d7ff28 0 27px,#e7ff18 0 30px,#f7ff08 0 33px,#fff700 0 36px,#ffe700 0 40px,#ffd700 0 43px,#ffc700 0 47px,#ffb700 0 51px,#ffa700 0 55px,#ff9700 0 61px,#ff8700 0 67px,#ff7800 0 71px,#ff6800 0 75px,#ff5800 0)"></i><i style="background:linear-gradient(#87ff78 0 8px,#97ff68 0 11px,#a7ff58 0 14px,#b7ff48 0 17px,#c7ff38 0 19px,#d7ff28 0 22px,#e7ff18 0 25px,#f7ff08 0 27px,#fff700 0 30px,#ffe700 0 32px,#ffd700 0 35px,#ffc700 0 38px,#ffb700 0 42px,#ffa700 0 47px,#ff9700 0 52px,#ff8700 0 57px,#ff7800 0 64px,#ff6800 0 74px,#ff5800 0)"></i><i style="background:linear-gradient(#87ff78 0 5px,#97ff68 0 9px,#a7ff58 0 12px,#b7ff48 0 15px,#c7ff38 0 17px,#d7ff28 0 19px,#e7ff18 0 22px,#f7ff08 0 24px,#fff700 0 27px,#ffe700 0 29px,#ffd700 0 32px,#ffc700 0 35px,#ffb700 0 38px,#ffa700 0 43px,#ff9700 0 48px,#ff8700 0 54px,#ff7800 0 60px,#ff6800 0 70px,#ff5800 0)"></i><i style="background:linear-gradient(#87ff78 0 3px,#97ff68 0 9px,#a7ff58 0 12px,#b7ff48 0 15px,#c7ff38 0 17px,#d7ff28 0 20px,#e7ff18 0 22px,#f7ff08 0 25px,#fff700 0 27px,#ffe700 0 30px,#ffd700 0 33px,#ffc700 0 36px,#ffb700 0 39px,#ffa700 0 44px,#ff9700 0 49px,#ff8700 0 55px,#ff7800 0 62px,#ff6800 0 72px,#ff5800 0)"></i><i style="background:linear-gradient(#97ff68 0 5px,#a7ff58 0 10px,#b7ff48 0 12px,#c7ff38 0 15px,#d7ff28 0 17px,#e7ff18 0 20px,#f7ff08 0 22px,#fff700 0 25px,#ffe700 0 28px,#ffd700 0 30px,#ffc700 0 34px,#ffb700 0 38px,#ffa700 0 42px,#ff9700 0 48px,#ff8700 0 54px,#ff7800 0 61px,#ff6800 0 71px,#ff5800 0)"></i><i style="background:linear-gradient(#97ff68 0 2px,#a7ff58 0 7px,#b7ff48 0 11px,#c7ff38 0 14px,#d7ff28 0 16px,#e7ff18 0 18px,#f7ff08 0 21px,#fff700 0 24px,#ffe700 0 27px,#ffd700 0 29px,#ffc700 0 32px,#ffb700 0 37px,#ffa700 0 42px,#ff9700 0 47px,#ff8700 0 54px,#ff7800 0 61px,#ff6800 0 71px,#ff5800 0)"></i><i style="background:linear-gradient(#a7ff58 0 2px,#b7ff48 0 7px,#c7ff38 0 10px,#d7ff28 0 13px,#e7ff18 0 15px,#f7ff08 0 18px,#fff700 0 20px,#ffe700 0 23px,#ffd700 0 26px,#ffc700 0 30px,#ffb700 0 34px,#ffa700 0 39px,#ff9700 0 45px,#ff8700 0 51px,#ff7800 0 58px,#ff6800 0 69px,#ff5800 0)"></i><i style="background:linear-gradient(#b7ff48 0 4px,#c7ff38 0 7px,#d7ff28 0 11px,#e7ff18 0 13px,#f7ff08 0 16px,#fff700 0 19px,#ffe700 0 22px,#ffd700 0 25px,#ffc700 0 28px,#ffb700 0 32px,#ffa700 0 37px,#ff9700 0 43px,#ff8700 0 50px,#ff7800 0 57px,#ff6800 0 68px,#ff5800 0)"></i><i style="background:linear-gradient(#b7ff48 0 2px,#c7ff38 0 5px,#d7ff28 0 8px,#e7ff18 0 11px,#f7ff08 0 14px,#fff700 0 16px,#ffe700 0 19px,#ffd700 0 23px,#ffc700 0 26px,#ffb700 0 30px,#ffa700 0 35px,#ff9700 0 41px,#ff8700 0 48px,#ff7800 0 56px,#ff6800 0 67px,#ff5800 0)"></i><i style="background:linear-gradient(#b7ff48 0 1px,#c7ff38 0 3px,#d7ff28 0 6px,#e7ff18 0 9px,#f7ff08 0 12px,#fff700 0 15px,#ffe700 0 18px,#ffd700 0 21px,#ffc700 0 25px,#ffb700 0 29px,#ffa700 0 34px,#ff9700 0 40px,#ff8700 0 47px,#ff7800 0 55px,#ff6800 0 67px,#ff5800 0)"></i><i style="background:linear-gradient(#c7ff38 0 1px,#d7ff28 0 3px,#e7ff18 0 5px,#f7ff08 0 8px,#fff700 0 12px,#ffe700 0 15px,#ffd700 0 18px,#ffc700 0 22px,#ffb700 0 26px,#ffa700 0 31px,#ff9700 0 37px,#ff8700 0 44px,#ff7800 0 51px,#ff6800 0 64px,#ff5800 0)"></i><i style="background:linear-gradient(#c7ff38 0 3px,#d7ff28 0 5px,#e7ff18 0 7px,#f7ff08 0 10px,#fff700 0 13px,#ffe700 0 16px,#ffd700 0 20px,#ffc700 0 23px,#ffb700 0 28px,#ffa700 0 33px,#ff9700 0 39px,#ff8700 0 46px,#ff7800 0 53px,#ff6800 0 67px,#ff5800 0)"></i><i style="background:linear-gradient(#c7ff38 0 5px,#d7ff28 0 7px,#e7ff18 0 10px,#f7ff08 0 12px,#fff700 0 15px,#ffe700 0 19px,#ffd700 0 22px,#ffc700 0 25px,#ffb700 0 30px,#ffa700 0 35px,#ff9700 0 41px,#ff8700 0 48px,#ff7800 0 56px,#ff6800 0 69px,#ff5800 0)"></i><i style="background:linear-gradient(#d7ff28 0 7px,#e7ff18 0 10px,#f7ff08 0 12px,#fff700 0 16px,#ffe700 0 19px,#ffd700 0 22px,#ffc700 0 25px,#ffb700 0 30px,#ffa700 0 35px,#ff9700 0 41px,#ff8700 0 48px,#ff7800 0 56px,#ff6800 0 68px,#ff5800 0)"></i><i style="background:linear-gradient(#d7ff28 0 7px,#e7ff18 0 10px,#f7ff08 0 13px,#fff700 0 16px,#ffe700 0 19px,#ffd700 0 22px,#ffc700 0 25px,#ffb700 0 30px,#ffa700 0 36px,#ff9700 0 41px,#ff8700 0 49px,#ff7800 0 56px,#ff6800 0 68px,#ff5800 0)"></i><i style="background:linear-gradient(#d7ff28 0 4px,#e7ff18 0 7px,#f7ff08 0 10px,#fff700 0 13px,#ffe700 0 16px,#ffd700 0 19px,#ffc700 0 22px,#ffb700 0 27px,#ffa700 0 33px,#ff9700 0 38px,#ff8700 0 46px,#ff7800 0 53px,#ff6800 0 65px,#ff5800 0)"></i><i style="background:linear-gradient(#d7ff28 0 2px,#e7ff18 0 6px,#f7ff08 0 9px,#fff700 0 12px,#ffe700 0 15px,#ffd700 0 18px,#ffc700 0 21px,#ffb700 0 26px,#ffa700 0 31px,#ff9700 0 37px,#ff8700 0 44px,#ff7800 0 51px,#ff6800 0 63px,#ff5800 0)"></i><i style="background:linear-gradient(#e7ff18 0 5px,#f7ff08 0 9px,#fff700 0 12px,#ffe700 0 15px,#ffd700 0 18px,#ffc700 0 21px,#ffb700 0 26px,#ffa700 0 31px,#ff9700 0 37px,#ff8700 0 44px,#ff7800 0 51px,#ff6800 0 62px,#ff5800 0)"></i><i style="background:linear-gradient(#e7ff18 0 2px,#f7ff08 0 6px,#fff700 0 10px,#ffe700 0 12px,#ffd700 0 15px,#ffc700 0 18px,#ffb700 0 23px,#ffa700 0 28px,#ff9700 0 34px,#ff8700 0 41px,#ff7800 0 48px,#ff6800 0 59px,#ff5800 0)"></i><i style="background:linear-gradient(#f7ff08 0 5px,#fff700 0 9px,#ffe700 0 12px,#ffd700 0 14px,#ffc700 0 17px,#ffb700 0 22px,#ffa700 0 28px,#ff9700 0 33px,#ff8700 0 40px,#ff7800 0 47px,#ff6800 0 58px,#ff5800 0)"></i><i style="background:linear-gradient(#f7ff08 0 7px,#fff700 0 12px,#ffe700 0 14px,#ffd700 0 17px,#ffc700 0 19px,#ffb700 0 24px,#ffa700 0 30px,#ff9700 0 36px,#ff8700 0 43px,#ff7800 0 50px,#ff6800 0 60px,#ff5800 0)"></i><i style="background:linear-gradient(#f7ff08 0 9px,#fff700 0 15px,#ffe700 0 17px,#ffd700 0 19px,#ffc700 0 22px,#ffb700 0 27px,#ffa700 0 33px,#ff9700 0 39px,#ff8700 0 45px,#ff7800 0 52px,#ff6800 0 63px,#ff5800 0)"></i><i style="background:linear-gradient(#f7ff08 0 6px,#fff700 0 13px,#ffe700 0 15px,#ffd700 0 18px,#ffc700 0 20px,#ffb700 0 25px,#ffa700 0 31px,#ff9700 0 37px,#ff8700 0 44px,#ff7800 0 50px,#ff6800 0 61px,#ff5800 0)"></i><i style="background:linear-gradient(#f7ff08 0 5px,#fff700 0 13px,#ffe700 0 16px,#ffd700 0 18px,#ffc700 0 20px,#ffb700 0 25px,#ffa700 0 31px,#ff9700 0 37px,#ff8700 0 44px,#ff7800 0 50px,#ff6800 0 60px,#ff5800 0)"></i><i style="background:linear-gradient(#fff700 0 11px,#ffe700 0 13px,#ffd700 0 15px,#ffc700 0 17px,#ffb700 0 22px,#ffa700 0 28px,#ff9700 0 34px,#ff8700 0 41px,#ff7800 0 48px,#ff6800 0 57px,#ff5800 0)"></i><i style="background:linear-gradient(#fff700 0 12px,#ffe700 0 14px,#ffd700 0 16px,#ffc700 0 18px,#ffb700 0 23px,#ffa700 0 29px,#ff9700 0 35px,#ff8700 0 42px,#ff7800 0 48px,#ff6800 0 58px,#ff5800 0)"></i><i style="background:linear-gradient(#fff700 0 5px,#ffe700 0 11px,#ffd700 0 13px,#ffc700 0 15px,#ffb700 0 20px,#ffa700 0 26px,#ff9700 0 32px,#ff8700 0 39px,#ff7800 0 46px,#ff6800 0 55px,#ff5800 0)"></i><i style="background:linear-gradient(#fff700 0 2px,#ffe700 0 10px,#ffd700 0 12px,#ffc700 0 14px,#ffb700 0 18px,#ffa700 0 24px,#ff9700 0 30px,#ff8700 0 37px,#ff7800 0 44px,#ff6800 0 53px,#ff5800 0)"></i><i style="background:linear-gradient(#ffe700 0 8px,#ffd700 0 11px,#ffc700 0 13px,#ffb700 0 16px,#ffa700 0 23px,#ff9700 0 29px,#ff8700 0 36px,#ff7800 0 43px,#ff6800 0 52px,#ff5800 0)"></i><i style="background:linear-gradient(#ffe700 0 8px,#ffd700 0 12px,#ffc700 0 15px,#ffb700 0 18px,#ffa700 0 24px,#ff9700 0 30px,#ff8700 0 37px,#ff7800 0 44px,#ff6800 0 53px,#ff5800 0)"></i><i style="background:linear-gradient(#ffe700 0 6px,#ffd700 0 12px,#ffc700 0 15px,#ffb700 0 17px,#ffa700 0 23px,#ff9700 0 30px,#ff8700 0 37px,#ff7800 0 44px,#ff6800 0 52px,#ff5800 0)"></i><i style="background:linear-gradient(#ffe700 0 8px,#ffd700 0 14px,#ffc700 0 17px,#ffb700 0 20px,#ffa700 0 25px,#ff9700 0 32px,#ff8700 0 39px,#ff7800 0 46px,#ff6800 0 54px,#ff5800 0)"></i><i style="background:linear-gradient(#ffe700 0 5px,#ffd700 0 11px,#ffc700 0 15px,#ffb700 0 18px,#ffa700 0 23px,#ff9700 0 29px,#ff8700 0 36px,#ff7800 0 44px,#ff6800 0 52px,#ff5800 0)"></i><i style="background:linear-gradient(#ffe700 0 8px,#ffd700 0 12px,#ffc700 0 17px,#ffb700 0 21px,#ffa700 0 25px,#ff9700 0 32px,#ff8700 0 39px,#ff7800 0 47px,#ff6800 0 54px,#ff5800 0)"></i><i style="background:linear-gradient(#ffe700 0 6px,#ffd700 0 10px,#ffc700 0 16px,#ffb700 0 19px,#ffa700 0 23px,#ff9700 0 30px,#ff8700 0 37px,#ff7800 0 45px,#ff6800 0 53px,#ff5800 0)"></i><i style="background:linear-gradient(#ffe700 0 2px,#ffd700 0 6px,#ffc700 0 11px,#ffb700 0 15px,#ffa700 0 19px,#ff9700 0 26px,#ff8700 0 34px,#ff7800 0 41px,#ff6800 0 49px,#ff5800 0)"></i><i style="background:linear-gradient(#ffd700 0 3px,#ffc700 0 7px,#ffb700 0 12px,#ffa700 0 16px,#ff9700 0 23px,#ff8700 0 30px,#ff7800 0 38px,#ff6800 0 46px,#ff5800 0)"></i><i style="background:linear-gradient(#ffd700 0 4px,#ffc700 0 8px,#ffb700 0 13px,#ffa700 0 17px,#ff9700 0 23px,#ff8700 0 31px,#ff7800 0 39px,#ff6800 0 47px,#ff5800 0)"></i><i style="background:linear-gradient(#ffd700 0 2px,#ffc700 0 5px,#ffb700 0 10px,#ffa700 0 15px,#ff9700 0 20px,#ff8700 0 28px,#ff7800 0 37px,#ff6800 0 46px,#ff5800 0)"></i><i style="background:linear-gradient(#ffc700 0 3px,#ffb700 0 7px,#ffa700 0 13px,#ff9700 0 18px,#ff8700 0 26px,#ff7800 0 35px,#ff6800 0 45px,#ff5800 0)"></i><i style="background:linear-gradient(#ffb700 0 4px,#ffa700 0 10px,#ff9700 0 15px,#ff8700 0 23px,#ff7800 0 32px,#ff6800 0 43px,#ff5800 0)"></i><i style="background:linear-gradient(#ffc700 0 2px,#ffb700 0 5px,#ffa700 0 11px,#ff9700 0 17px,#ff8700 0 25px,#ff7800 0 33px,#ff6800 0 46px,#ff5800 0)"></i><i style="background:linear-gradient(#ffb700 0 1px,#ffa700 0 6px,#ff9700 0 13px,#ff8700 0 21px,#ff7800 0 30px,#ff6800 0 43px,#ff5800 0)"></i><i style="background:linear-gradient(#ffa700 0 5px,#ff9700 0 12px,#ff8700 0 20px,#ff7800 0 29px,#ff6800 0 43px,#ff5800 0)"></i><i style="background:linear-gradient(#ffa700 0 4px,#ff9700 0 12px,#ff8700 0 20px,#ff7800 0 29px,#ff6800 0 45px,#ff5800 0)"></i><i style="background:linear-gradient(#ffb700 0 3px,#ffa700 0 6px,#ff9700 0 13px,#ff8700 0 22px,#ff7800 0 31px,#ff6800 0 49px,#ff5800 0)"></i><i style="background:linear-gradient(#ffa700 0 3px,#ff9700 0 9px,#ff8700 0 18px,#ff7800 0 28px,#ff6800 0 49px,#ff5800 0)"></i><i style="background:linear-gradient(#ffa700 0 5px,#ff9700 0 10px,#ff8700 0 20px,#ff7800 0 30px,#ff6800 0 57px,#ff5800 0)"></i><i style="background:linear-gradient(#ffa700 0 3px,#ff9700 0 8px,#ff8700 0 18px,#ff7800 0 28px,#ff6800 0 56px,#ff5800 0)"></i><i style="background:linear-gradient(#ffa700 0 4px,#ff9700 0 9px,#ff8700 0 19px,#ff7800 0 29px,#ff6800 0 57px,#ff5800 0)"></i><i style="background:linear-gradient(#ff9700 0 7px,#ff8700 0 17px,#ff7800 0 27px,#ff6800 0 55px,#ff5800 0)"></i><i style="background:linear-gradient(#ff9700 0 5px,#ff8700 0 15px,#ff7800 0 26px,#ff6800 0 54px,#ff5800 0)"></i><i style="background:linear-gradient(#ff9700 0 3px,#ff8700 0 13px,#ff7800 0 24px,#ff6800 0 52px,#ff5800 0)"></i><i style="background:linear-gradient(#ff8700 0 10px,#ff7800 0 20px,#ff6800 0 49px,#ff5800 0)"></i><i style="background:linear-gradient(#ff9700 0 2px,#ff8700 0 12px,#ff7800 0 23px,#ff6800 0 52px,#ff5800 0)"></i><i style="background:linear-gradient(#ff8700 0 10px,#ff7800 0 21px,#ff6800 0 50px,#ff5800 0)"></i><i style="background:linear-gradient(#ff8700 0 11px,#ff7800 0 23px,#ff6800 0 52px,#ff5800 0)"></i><i style="background:linear-gradient(#ff8700 0 10px,#ff7800 0 23px,#ff6800 0)"></i><i style="background:linear-gradient(#ff8700 0 8px,#ff7800 0 21px,#ff6800 0)"></i><i style="background:linear-gradient(#ff8700 0 5px,#ff7800 0 19px,#ff6800 0)"></i><i style="background:linear-gradient(#ff8700 0 1px,#ff7800 0 16px,#ff6800 0)"></i><i style="background:linear-gradient(#ff7800 0 15px,#ff6800 0)"></i><i style="background:linear-gradient(#ff7800 0 13px,#ff6800 0)"></i><i style="background:linear-gradient(#ff7800 0 14px,#ff6800 0)"></i><i style="background:linear-gradient(#ff7800 0 16px,#ff6800 0)"></i><i style="background:linear-gradient(#ff7800 0 11px,#ff6800 0)"></i><i style="background:linear-gradient(#ff7800 0 11px,#ff6800 0)"></i><i style="background:linear-gradient(#ff7800 0 6px,#ff6800 0)"></i><i style="background:linear-gradient(#ff7800 0 7px,#ff6800 0)"></i><i style="background:linear-gradient(#ff7800 0 8px,#ff6800 0)"></i><i style="background:linear-gradient(#ff7800 0 9px,#ff6800 0)"></i><b style="left:40.7px;width:2.4px;top:97.5px;height:88.5px"></b><b style="left:85.8px;width:4.2px;top:164.5px;height:21.5px"></b><b style="left:135.8px;width:1.2px;top:112.5px;height:56px;opacity:0.85"></b><b style="left:180.3px;width:1.2px;top:130.5px;height:55.5px;opacity:0.9"></b><b style="left:222.3px;width:1.8px;top:120.5px;height:65.5px"></b><b style="left:349.8px;width:1px;top:90.5px;height:31px;opacity:0.6"></b></div>
<div class="d" style="top:567.5px"><i style="background:linear-gradient(#870000 0 134px,#970000 0 136px,#a70000 0 138px,#b70000 0 140px,#c70000 0 142px,#d70000 0 145px,#e70000 0 147px,#f70000 0 149px,#ff0800 0 150px,#ff1800 0 152px,#ff2800 0 154px,#ff3800 0 155px,#ff4800 0 157px,#ff5800 0 158px,#ff6800 0 160px,#ff7800 0 161px,#ff8700 0 164px,#ff9700 0 166px,#ffa700 0 169px,#ffb700 0 171px,#ffc700 0 174px,#ffd700 0 176px,#ffe700 0 179px,#fff700 0)"></i><i style="background:linear-gradient(#870000 0 130px,#970000 0 132px,#a70000 0 135px,#b70000 0 137px,#c70000 0 139px,#d70000 0 141px,#e70000 0 143px,#f70000 0 145px,#ff0800 0 147px,#ff1800 0 149px,#ff2800 0 150px,#ff3800 0 152px,#ff4800 0 153px,#ff5800 0 155px,#ff6800 0 157px,#ff7800 0 158px,#ff8700 0 161px,#ff9700 0 163px,#ffa700 0 166px,#ffb700 0 168px,#ffc700 0 171px,#ffd700 0 173px,#ffe700 0 176px,#fff700 0)"></i><i style="background:linear-gradient(#870000 0 129px,#970000 0 132px,#a70000 0 134px,#b70000 0 136px,#c70000 0 138px,#d70000 0 141px,#e70000 0 143px,#f70000 0 145px,#ff0800 0 147px,#ff1800 0 148px,#ff2800 0 150px,#ff3800 0 152px,#ff4800 0 153px,#ff5800 0 155px,#ff6800 0 156px,#ff7800 0 158px,#ff8700 0 161px,#ff9700 0 163px,#ffa700 0 166px,#ffb700 0 169px,#ffc700 0 171px,#ffd700 0 174px,#ffe700 0 177px,#fff700 0 180px,#f7ff08 0)"></i><i style="background:linear-gradient(#870000 0 127px,#970000 0 130px,#a70000 0 132px,#b70000 0 134px,#c70000 0 136px,#d70000 0 139px,#e70000 0 141px,#f70000 0 143px,#ff0800 0 145px,#ff1800 0 147px,#ff2800 0 148px,#ff3800 0 150px,#ff4800 0 152px,#ff5800 0 153px,#ff6800 0 155px,#ff7800 0 157px,#ff8700 0 159px,#ff9700 0 162px,#ffa700 0 165px,#ffb700 0 167px,#ffc700 0 170px,#ffd700 0 173px,#ffe700 0 176px,#fff700 0 179px,#f7ff08 0)"></i><i style="background:linear-gradient(#870000 0 122px,#970000 0 124px,#a70000 0 126px,#b70000 0 129px,#c70000 0 131px,#d70000 0 133px,#e70000 0 136px,#f70000 0 138px,#ff0800 0 140px,#ff1800 0 141px,#ff2800 0 143px,#ff3800 0 145px,#ff4800 0 146px,#ff5800 0 148px,#ff6800 0 150px,#ff7800 0 152px,#ff8700 0 154px,#ff9700 0 157px,#ffa700 0 160px,#ffb700 0 163px,#ffc700 0 166px,#ffd700 0 169px,#ffe700 0 172px,#fff700 0 175px,#f7ff08 0)"></i><i style="background:linear-gradient(#870000 0 116px,#970000 0 119px,#a70000 0 121px,#b70000 0 124px,#c70000 0 126px,#d70000 0 128px,#e70000 0 131px,#f70000 0 133px,#ff0800 0 135px,#ff1800 0 137px,#ff2800 0 138px,#ff3800 0 140px,#ff4800 0 142px,#ff5800 0 143px,#ff6800 0 145px,#ff7800 0 147px,#ff8700 0 150px,#ff9700 0 153px,#ffa700 0 156px,#ffb700 0 159px,#ffc700 0 162px,#ffd700 0 165px,#ffe700 0 168px,#fff700 0 171px,#f7ff08 0 180px,#e7ff18 0)"></i><i style="background:linear-gradient(#870000 0 119px,#970000 0 121px,#a70000 0 124px,#b70000 0 126px,#c70000 0 128px,#d70000 0 131px,#e70000 0 133px,#f70000 0 136px,#ff0800 0 137px,#ff1800 0 139px,#ff2800 0 141px,#ff3800 0 143px,#ff4800 0 145px,#ff5800 0 146px,#ff6800 0 148px,#ff7800 0 150px,#ff8700 0 153px,#ff9700 0 156px,#ffa700 0 158px,#ffb700 0 161px,#ffc700 0 164px,#ffd700 0 167px,#ffe700 0 170px,#fff700 0 173px,#f7ff08 0 177px,#e7ff18 0 185px,#d7ff28 0)"></i><i style="background:linear-gradient(#870000 0 123px,#970000 0 125px,#a70000 0 128px,#b70000 0 130px,#c70000 0 132px,#d70000 0 135px,#e70000 0 137px,#f70000 0 140px,#ff0800 0 142px,#ff1800 0 143px,#ff2800 0 145px,#ff3800 0 147px,#ff4800 0 148px,#ff5800 0 150px,#ff6800 0 152px,#ff7800 0 154px,#ff8700 0 156px,#ff9700 0 159px,#ffa700 0 161px,#ffb700 0 163px,#ffc700 0 166px,#ffd700 0 168px,#ffe700 0 170px,#fff700 0 172px,#f7ff08 0 174px,#e7ff18 0 176px,#d7ff28 0 178px,#c7ff38 0 183px,#b7ff48 0)"></i><i style="background:linear-gradient(#870000 0 124px,#970000 0 126px,#a70000 0 129px,#b70000 0 132px,#c70000 0 135px,#d70000 0 137px,#e70000 0 140px,#f70000 0 142px,#ff0800 0 144px,#ff1800 0 145px,#ff2800 0 147px,#ff3800 0 149px,#ff4800 0 150px,#ff5800 0 152px,#ff6800 0 154px,#ff7800 0 156px,#ff8700 0 158px,#ff9700 0 160px,#ffa700 0 162px,#ffb700 0 164px,#ffc700 0 166px,#ffd700 0 167px,#ffe700 0 169px,#fff700 0 171px,#f7ff08 0 173px,#e7ff18 0 174px,#d7ff28 0 176px,#c7ff38 0 178px,#b7ff48 0 179px,#a7ff58 0 185px,#97ff68 0)"></i><i style="background:linear-gradient(#870000 0 121px,#970000 0 125px,#a70000 0 129px,#b70000 0 133px,#c70000 0 136px,#d70000 0 138px,#e70000 0 140px,#f70000 0 142px,#ff0800 0 144px,#ff1800 0 146px,#ff2800 0 147px,#ff3800 0 149px,#ff4800 0 151px,#ff5800 0 153px,#ff6800 0 155px,#ff7800 0 157px,#ff8700 0 158px,#ff9700 0 160px,#ffa700 0 162px,#ffb700 0 163px,#ffc700 0 165px,#ffd700 0 167px,#ffe700 0 168px,#fff700 0 170px,#f7ff08 0 172px,#e7ff18 0 173px,#d7ff28 0 175px,#c7ff38 0 178px,#b7ff48 0 183px,#a7ff58 0)"></i><i style="background:linear-gradient(#870000 0 120px,#970000 0 127px,#a70000 0 132px,#b70000 0 134px,#c70000 0 136px,#d70000 0 138px,#e70000 0 140px,#f70000 0 142px,#ff0800 0 144px,#ff1800 0 146px,#ff2800 0 148px,#ff3800 0 150px,#ff4800 0 151px,#ff5800 0 153px,#ff6800 0 154px,#ff7800 0 156px,#ff8700 0 157px,#ff9700 0 158px,#ffa700 0 160px,#ffb700 0 162px,#ffc700 0 164px,#ffd700 0 165px,#ffe700 0 167px,#fff700 0 169px,#f7ff08 0 170px,#e7ff18 0 172px,#d7ff28 0 176px,#c7ff38 0 179px,#b7ff48 0)"></i><i style="background:linear-gradient(#870000 0 129px,#970000 0 131px,#a70000 0 133px,#b70000 0 135px,#c70000 0 137px,#d70000 0 140px,#e70000 0 142px,#f70000 0 144px,#ff0800 0 146px,#ff1800 0 147px,#ff2800 0 148px,#ff3800 0 150px,#ff4800 0 151px,#ff5800 0 152px,#ff6800 0 153px,#ff7800 0 155px,#ff8700 0 156px,#ff9700 0 158px,#ffa700 0 160px,#ffb700 0 162px,#ffc700 0 164px,#ffd700 0 165px,#ffe700 0 166px,#fff700 0 168px,#f7ff08 0 170px,#e7ff18 0 173px,#d7ff28 0 177px,#c7ff38 0)"></i><i style="background:linear-gradient(#870000 0 114px,#970000 0 125px,#a70000 0 128px,#b70000 0 130px,#c70000 0 132px,#d70000 0 135px,#e70000 0 137px,#f70000 0 139px,#ff0800 0 141px,#ff1800 0 144px,#ff2800 0 145px,#ff3800 0 146px,#ff4800 0 148px,#ff5800 0 149px,#ff6800 0 150px,#ff7800 0 152px,#ff8700 0 153px,#ff9700 0 155px,#ffa700 0 157px,#ffb700 0 159px,#ffc700 0 161px,#ffd700 0 162px,#ffe700 0 164px,#fff700 0 166px,#f7ff08 0 168px,#e7ff18 0 171px,#d7ff28 0 174px,#c7ff38 0)"></i><i style="background:linear-gradient(#870000 0 110px,#970000 0 116px,#a70000 0 122px,#b70000 0 127px,#c70000 0 131px,#d70000 0 133px,#e70000 0 135px,#f70000 0 137px,#ff0800 0 139px,#ff1800 0 142px,#ff2800 0 144px,#ff3800 0 147px,#ff4800 0 149px,#ff5800 0 150px,#ff6800 0 152px,#ff7800 0 153px,#ff8700 0 155px,#ff9700 0 156px,#ffa700 0 158px,#ffb700 0 160px,#ffc700 0 162px,#ffd700 0 164px,#ffe700 0 166px,#fff700 0 168px,#f7ff08 0 169px,#e7ff18 0 172px,#d7ff28 0 175px,#c7ff38 0 179px,#b7ff48 0)"></i><i style="background:linear-gradient(#870000 0 113px,#970000 0 117px,#a70000 0 121px,#b70000 0 125px,#c70000 0 128px,#d70000 0 131px,#e70000 0 134px,#f70000 0 137px,#ff0800 0 139px,#ff1800 0 140px,#ff2800 0 142px,#ff3800 0 145px,#ff4800 0 147px,#ff5800 0 150px,#ff6800 0 152px,#ff7800 0 154px,#ff8700 0 156px,#ff9700 0 158px,#ffa700 0 160px,#ffb700 0 161px,#ffc700 0 163px,#ffd700 0 165px,#ffe700 0 167px,#fff700 0 170px,#f7ff08 0 172px,#e7ff18 0 174px,#d7ff28 0 176px,#c7ff38 0 181px,#b7ff48 0)"></i><i style="background:linear-gradient(#870000 0 116px,#970000 0 119px,#a70000 0 121px,#b70000 0 124px,#c70000 0 127px,#d70000 0 130px,#e70000 0 133px,#f70000 0 135px,#ff0800 0 137px,#ff1800 0 139px,#ff2800 0 141px,#ff3800 0 143px,#ff4800 0 145px,#ff5800 0 147px,#ff6800 0 149px,#ff7800 0 152px,#ff8700 0 155px,#ff9700 0 157px,#ffa700 0 159px,#ffb700 0 161px,#ffc700 0 163px,#ffd700 0 165px,#ffe700 0 167px,#fff700 0 170px,#f7ff08 0 172px,#e7ff18 0 174px,#d7ff28 0 177px,#c7ff38 0 180px,#b7ff48 0 186px,#a7ff58 0)"></i><i style="background:linear-gradient(#870000 0 114px,#970000 0 116px,#a70000 0 119px,#b70000 0 121px,#c70000 0 123px,#d70000 0 126px,#e70000 0 128px,#f70000 0 131px,#ff0800 0 132px,#ff1800 0 134px,#ff2800 0 136px,#ff3800 0 138px,#ff4800 0 139px,#ff5800 0 141px,#ff6800 0 143px,#ff7800 0 145px,#ff8700 0 148px,#ff9700 0 150px,#ffa700 0 153px,#ffb700 0 156px,#ffc700 0 158px,#ffd700 0 161px,#ffe700 0 163px,#fff700 0 165px,#f7ff08 0 168px,#e7ff18 0 171px,#d7ff28 0 173px,#c7ff38 0 176px,#b7ff48 0 182px,#a7ff58 0)"></i><i style="background:linear-gradient(#870000 0 113px,#970000 0 116px,#a70000 0 118px,#b70000 0 121px,#c70000 0 123px,#d70000 0 125px,#e70000 0 128px,#f70000 0 130px,#ff0800 0 132px,#ff1800 0 134px,#ff2800 0 136px,#ff3800 0 137px,#ff4800 0 139px,#ff5800 0 141px,#ff6800 0 143px,#ff7800 0 145px,#ff8700 0 147px,#ff9700 0 150px,#ffa700 0 153px,#ffb700 0 156px,#ffc700 0 159px,#ffd700 0 162px,#ffe700 0 164px,#fff700 0 167px,#f7ff08 0 171px,#e7ff18 0 175px,#d7ff28 0 179px,#c7ff38 0)"></i><i style="background:linear-gradient(#870000 0 110px,#970000 0 112px,#a70000 0 115px,#b70000 0 117px,#c70000 0 120px,#d70000 0 122px,#e70000 0 124px,#f70000 0 127px,#ff0800 0 128px,#ff1800 0 130px,#ff2800 0 132px,#ff3800 0 134px,#ff4800 0 136px,#ff5800 0 137px,#ff6800 0 139px,#ff7800 0 141px,#ff8700 0 144px,#ff9700 0 147px,#ffa700 0 150px,#ffb700 0 153px,#ffc700 0 156px,#ffd700 0 159px,#ffe700 0 162px,#fff700 0 166px,#f7ff08 0 174px,#e7ff18 0 183px,#d7ff28 0)"></i><i style="background:linear-gradient(#870000 0 111px,#970000 0 113px,#a70000 0 115px,#b70000 0 118px,#c70000 0 120px,#d70000 0 123px,#e70000 0 125px,#f70000 0 127px,#ff0800 0 129px,#ff1800 0 131px,#ff2800 0 132px,#ff3800 0 134px,#ff4800 0 136px,#ff5800 0 138px,#ff6800 0 139px,#ff7800 0 141px,#ff8700 0 144px,#ff9700 0 147px,#ffa700 0 150px,#ffb700 0 153px,#ffc700 0 156px,#ffd700 0 160px,#ffe700 0 163px,#fff700 0 166px,#f7ff08 0 177px,#e7ff18 0)"></i><i style="background:linear-gradient(#870000 0 109px,#970000 0 111px,#a70000 0 114px,#b70000 0 116px,#c70000 0 118px,#d70000 0 121px,#e70000 0 123px,#f70000 0 125px,#ff0800 0 127px,#ff1800 0 129px,#ff2800 0 130px,#ff3800 0 132px,#ff4800 0 134px,#ff5800 0 135px,#ff6800 0 137px,#ff7800 0 139px,#ff8700 0 142px,#ff9700 0 145px,#ffa700 0 148px,#ffb700 0 151px,#ffc700 0 154px,#ffd700 0 157px,#ffe700 0 161px,#fff700 0 164px,#f7ff08 0 176px,#e7ff18 0)"></i><i style="background:linear-gradient(#870000 0 111px,#970000 0 113px,#a70000 0 116px,#b70000 0 118px,#c70000 0 120px,#d70000 0 123px,#e70000 0 125px,#f70000 0 127px,#ff0800 0 129px,#ff1800 0 131px,#ff2800 0 132px,#ff3800 0 134px,#ff4800 0 135px,#ff5800 0 137px,#ff6800 0 139px,#ff7800 0 140px,#ff8700 0 143px,#ff9700 0 146px,#ffa700 0 149px,#ffb700 0 152px,#ffc700 0 156px,#ffd700 0 159px,#ffe700 0 162px,#fff700 0 166px,#f7ff08 0 179px,#e7ff18 0)"></i><i style="background:linear-gradient(#870000 0 112px,#970000 0 115px,#a70000 0 117px,#b70000 0 119px,#c70000 0 122px,#d70000 0 124px,#e70000 0 126px,#f70000 0 129px,#ff0800 0 130px,#ff1800 0 132px,#ff2800 0 133px,#ff3800 0 135px,#ff4800 0 136px,#ff5800 0 138px,#ff6800 0 139px,#ff7800 0 141px,#ff8700 0 144px,#ff9700 0 147px,#ffa700 0 150px,#ffb700 0 153px,#ffc700 0 156px,#ffd700 0 160px,#ffe700 0 163px,#fff700 0 167px,#f7ff08 0 181px,#e7ff18 0)"></i><i style="background:linear-gradient(#870000 0 116px,#970000 0 118px,#a70000 0 121px,#b70000 0 123px,#c70000 0 125px,#d70000 0 127px,#e70000 0 130px,#f70000 0 132px,#ff0800 0 133px,#ff1800 0 135px,#ff2800 0 136px,#ff3800 0 138px,#ff4800 0 139px,#ff5800 0 141px,#ff6800 0 142px,#ff7800 0 144px,#ff8700 0 147px,#ff9700 0 150px,#ffa700 0 153px,#ffb700 0 156px,#ffc700 0 159px,#ffd700 0 163px,#ffe700 0 167px,#fff700 0 170px,#f7ff08 0 185px,#e7ff18 0)"></i><i style="background:linear-gradient(#870000 0 114px,#970000 0 116px,#a70000 0 118px,#b70000 0 120px,#c70000 0 122px,#d70000 0 125px,#e70000 0 127px,#f70000 0 129px,#ff0800 0 131px,#ff1800 0 132px,#ff2800 0 134px,#ff3800 0 135px,#ff4800 0 137px,#ff5800 0 138px,#ff6800 0 140px,#ff7800 0 141px,#ff8700 0 144px,#ff9700 0 147px,#ffa700 0 150px,#ffb700 0 153px,#ffc700 0 157px,#ffd700 0 160px,#ffe700 0 164px,#fff700 0 168px,#f7ff08 0 183px,#e7ff18 0)"></i><i style="background:linear-gradient(#870000 0 116px,#970000 0 118px,#a70000 0 120px,#b70000 0 122px,#c70000 0 124px,#d70000 0 127px,#e70000 0 129px,#f70000 0 131px,#ff0800 0 132px,#ff1800 0 134px,#ff2800 0 135px,#ff3800 0 137px,#ff4800 0 138px,#ff5800 0 140px,#ff6800 0 141px,#ff7800 0 143px,#ff8700 0 146px,#ff9700 0 149px,#ffa700 0 152px,#ffb700 0 155px,#ffc700 0 159px,#ffd700 0 163px,#ffe700 0 166px,#fff700 0 170px,#f7ff08 0 185px,#e7ff18 0)"></i><i style="background:linear-gradient(#870000 0 116px,#970000 0 119px,#a70000 0 121px,#b70000 0 123px,#c70000 0 125px,#d70000 0 127px,#e70000 0 129px,#f70000 0 131px,#ff0800 0 133px,#ff1800 0 134px,#ff2800 0 136px,#ff3800 0 137px,#ff4800 0 139px,#ff5800 0 140px,#ff6800 0 142px,#ff7800 0 143px,#ff8700 0 146px,#ff9700 0 149px,#ffa700 0 152px,#ffb700 0 155px,#ffc700 0 159px,#ffd700 0 163px,#ffe700 0 167px,#fff700 0 171px,#f7ff08 0 186px,#e7ff18 0)"></i><i style="background:linear-gradient(#870000 0 119px,#970000 0 121px,#a70000 0 123px,#b70000 0 125px,#c70000 0 127px,#d70000 0 129px,#e70000 0 131px,#f70000 0 133px,#ff0800 0 135px,#ff1800 0 136px,#ff2800 0 138px,#ff3800 0 139px,#ff4800 0 141px,#ff5800 0 142px,#ff6800 0 144px,#ff7800 0 145px,#ff8700 0 148px,#ff9700 0 151px,#ffa700 0 154px,#ffb700 0 157px,#ffc700 0 161px,#ffd700 0 165px,#ffe700 0 169px,#fff700 0 173px,#f7ff08 0)"></i><i style="background:linear-gradient(#870000 0 122px,#970000 0 124px,#a70000 0 127px,#b70000 0 129px,#c70000 0 131px,#d70000 0 133px,#e70000 0 135px,#f70000 0 136px,#ff0800 0 138px,#ff1800 0 140px,#ff2800 0 141px,#ff3800 0 143px,#ff4800 0 144px,#ff5800 0 146px,#ff6800 0 147px,#ff7800 0 149px,#ff8700 0 152px,#ff9700 0 155px,#ffa700 0 158px,#ffb700 0 161px,#ffc700 0 165px,#ffd700 0 169px,#ffe700 0 174px,#fff700 0 180px,#f7ff08 0)"></i><i style="background:linear-gradient(#870000 0 115px,#970000 0 118px,#a70000 0 121px,#b70000 0 123px,#c70000 0 126px,#d70000 0 128px,#e70000 0 129px,#f70000 0 131px,#ff0800 0 133px,#ff1800 0 134px,#ff2800 0 136px,#ff3800 0 138px,#ff4800 0 139px,#ff5800 0 141px,#ff6800 0 144px,#ff7800 0 146px,#ff8700 0 148px,#ff9700 0 151px,#ffa700 0 153px,#ffb700 0 157px,#ffc700 0 162px,#ffd700 0 166px,#ffe700 0 172px,#fff700 0)"></i><i style="background:linear-gradient(#870000 0 118px,#970000 0 121px,#a70000 0 125px,#b70000 0 127px,#c70000 0 129px,#d70000 0 131px,#e70000 0 133px,#f70000 0 135px,#ff0800 0 136px,#ff1800 0 138px,#ff2800 0 140px,#ff3800 0 142px,#ff4800 0 144px,#ff5800 0 146px,#ff6800 0 148px,#ff7800 0 150px,#ff8700 0 152px,#ff9700 0 154px,#ffa700 0 158px,#ffb700 0 163px,#ffc700 0 167px,#ffd700 0 172px,#ffe700 0 184px,#fff700 0)"></i><i style="background:linear-gradient(#870000 0 116px,#970000 0 121px,#a70000 0 123px,#b70000 0 125px,#c70000 0 127px,#d70000 0 129px,#e70000 0 131px,#f70000 0 133px,#ff0800 0 135px,#ff1800 0 137px,#ff2800 0 139px,#ff3800 0 141px,#ff4800 0 143px,#ff5800 0 144px,#ff6800 0 146px,#ff7800 0 148px,#ff8700 0 150px,#ff9700 0 154px,#ffa700 0 158px,#ffb700 0 163px,#ffc700 0 168px,#ffd700 0 178px,#ffe700 0)"></i><i style="background:linear-gradient(#870000 0 127px,#970000 0 129px,#a70000 0 132px,#b70000 0 134px,#c70000 0 136px,#d70000 0 138px,#e70000 0 140px,#f70000 0 143px,#ff0800 0 144px,#ff1800 0 146px,#ff2800 0 147px,#ff3800 0 149px,#ff4800 0 150px,#ff5800 0 152px,#ff6800 0 153px,#ff7800 0 155px,#ff8700 0 159px,#ff9700 0 164px,#ffa700 0 168px,#ffb700 0 173px,#ffc700 0 182px,#ffd700 0)"></i><i style="background:linear-gradient(#870000 0 131px,#970000 0 134px,#a70000 0 136px,#b70000 0 138px,#c70000 0 140px,#d70000 0 142px,#e70000 0 144px,#f70000 0 147px,#ff0800 0 148px,#ff1800 0 149px,#ff2800 0 151px,#ff3800 0 152px,#ff4800 0 154px,#ff5800 0 155px,#ff6800 0 156px,#ff7800 0 158px,#ff8700 0 162px,#ff9700 0 166px,#ffa700 0 170px,#ffb700 0 174px,#ffc700 0 180px,#ffd700 0)"></i><i style="background:linear-gradient(#870000 0 135px,#970000 0 137px,#a70000 0 139px,#b70000 0 141px,#c70000 0 143px,#d70000 0 146px,#e70000 0 148px,#f70000 0 150px,#ff0800 0 151px,#ff1800 0 152px,#ff2800 0 154px,#ff3800 0 155px,#ff4800 0 156px,#ff5800 0 158px,#ff6800 0 159px,#ff7800 0 161px,#ff8700 0 164px,#ff9700 0 167px,#ffa700 0 171px,#ffb700 0 174px,#ffc700 0 178px,#ffd700 0 185px,#ffe700 0)"></i><i style="background:linear-gradient(#870000 0 134px,#970000 0 136px,#a70000 0 138px,#b70000 0 140px,#c70000 0 142px,#d70000 0 144px,#e70000 0 146px,#f70000 0 148px,#ff0800 0 150px,#ff1800 0 151px,#ff2800 0 152px,#ff3800 0 154px,#ff4800 0 155px,#ff5800 0 156px,#ff6800 0 158px,#ff7800 0 159px,#ff8700 0 162px,#ff9700 0 164px,#ffa700 0 167px,#ffb700 0 170px,#ffc700 0 174px,#ffd700 0 177px,#ffe700 0 184px,#fff700 0)"></i><i style="background:linear-gradient(#870000 0 132px,#970000 0 134px,#a70000 0 136px,#b70000 0 138px,#c70000 0 140px,#d70000 0 142px,#e70000 0 144px,#f70000 0 146px,#ff0800 0 147px,#ff1800 0 148px,#ff2800 0 149px,#ff3800 0 151px,#ff4800 0 152px,#ff5800 0 153px,#ff6800 0 155px,#ff7800 0 156px,#ff8700 0 158px,#ff9700 0 161px,#ffa700 0 163px,#ffb700 0 166px,#ffc700 0 169px,#ffd700 0 172px,#ffe700 0 175px,#fff700 0 183px,#f7ff08 0)"></i><i style="background:linear-gradient(#870000 0 131px,#970000 0 133px,#a70000 0 135px,#b70000 0 137px,#c70000 0 139px,#d70000 0 140px,#e70000 0 142px,#f70000 0 144px,#ff0800 0 145px,#ff1800 0 147px,#ff2800 0 148px,#ff3800 0 149px,#ff4800 0 151px,#ff5800 0 152px,#ff6800 0 153px,#ff7800 0 155px,#ff8700 0 157px,#ff9700 0 159px,#ffa700 0 161px,#ffb700 0 164px,#ffc700 0 167px,#ffd700 0 169px,#ffe700 0 172px,#fff700 0 177px,#f7ff08 0)"></i><i style="background:linear-gradient(#870000 0 125px,#970000 0 127px,#a70000 0 129px,#b70000 0 131px,#c70000 0 133px,#d70000 0 134px,#e70000 0 136px,#f70000 0 138px,#ff0800 0 140px,#ff1800 0 141px,#ff2800 0 142px,#ff3800 0 144px,#ff4800 0 145px,#ff5800 0 146px,#ff6800 0 148px,#ff7800 0 150px,#ff8700 0 152px,#ff9700 0 155px,#ffa700 0 158px,#ffb700 0 161px,#ffc700 0 164px,#ffd700 0 167px,#ffe700 0 173px,#fff700 0)"></i><i style="background:linear-gradient(#870000 0 128px,#970000 0 131px,#a70000 0 133px,#b70000 0 135px,#c70000 0 137px,#d70000 0 139px,#e70000 0 141px,#f70000 0 142px,#ff0800 0 144px,#ff1800 0 146px,#ff2800 0 147px,#ff3800 0 149px,#ff4800 0 150px,#ff5800 0 152px,#ff6800 0 153px,#ff7800 0 155px,#ff8700 0 158px,#ff9700 0 161px,#ffa700 0 165px,#ffb700 0 168px,#ffc700 0 172px,#ffd700 0 178px,#ffe700 0)"></i><i style="background:linear-gradient(#870000 0 133px,#970000 0 136px,#a70000 0 138px,#b70000 0 140px,#c70000 0 142px,#d70000 0 144px,#e70000 0 146px,#f70000 0 148px,#ff0800 0 149px,#ff1800 0 151px,#ff2800 0 153px,#ff3800 0 154px,#ff4800 0 156px,#ff5800 0 157px,#ff6800 0 159px,#ff7800 0 161px,#ff8700 0 165px,#ff9700 0 169px,#ffa700 0 173px,#ffb700 0 178px,#ffc700 0 185px,#ffd700 0)"></i><i style="background:linear-gradient(#870000 0 128px,#970000 0 130px,#a70000 0 132px,#b70000 0 134px,#c70000 0 136px,#d70000 0 138px,#e70000 0 140px,#f70000 0 142px,#ff0800 0 144px,#ff1800 0 146px,#ff2800 0 147px,#ff3800 0 149px,#ff4800 0 151px,#ff5800 0 152px,#ff6800 0 154px,#ff7800 0 156px,#ff8700 0 160px,#ff9700 0 165px,#ffa700 0 170px,#ffb700 0 175px,#ffc700 0)"></i><i style="background:linear-gradient(#870000 0 112px,#970000 0 117px,#a70000 0 122px,#b70000 0 126px,#c70000 0 127px,#d70000 0 129px,#e70000 0 131px,#f70000 0 133px,#ff0800 0 134px,#ff1800 0 136px,#ff2800 0 139px,#ff3800 0 141px,#ff4800 0 143px,#ff5800 0 145px,#ff6800 0 147px,#ff7800 0 149px,#ff8700 0 151px,#ff9700 0 154px,#ffa700 0 158px,#ffb700 0 163px,#ffc700 0 169px,#ffd700 0 176px,#ffe700 0)"></i><i style="background:linear-gradient(#870000 0 104px,#970000 0 106px,#a70000 0 109px,#b70000 0 112px,#c70000 0 115px,#d70000 0 118px,#e70000 0 119px,#f70000 0 121px,#ff0800 0 123px,#ff1800 0 124px,#ff2800 0 126px,#ff3800 0 127px,#ff4800 0 129px,#ff5800 0 131px,#ff6800 0 134px,#ff7800 0 137px,#ff8700 0 139px,#ff9700 0 142px,#ffa700 0 145px,#ffb700 0 149px,#ffc700 0 153px,#ffd700 0 158px,#ffe700 0 165px,#fff700 0 176px,#f7ff08 0)"></i><i style="background:linear-gradient(#870000 0 108px,#970000 0 110px,#a70000 0 112px,#b70000 0 114px,#c70000 0 116px,#d70000 0 119px,#e70000 0 121px,#f70000 0 123px,#ff0800 0 124px,#ff1800 0 126px,#ff2800 0 127px,#ff3800 0 129px,#ff4800 0 130px,#ff5800 0 132px,#ff6800 0 133px,#ff7800 0 135px,#ff8700 0 138px,#ff9700 0 141px,#ffa700 0 145px,#ffb700 0 148px,#ffc700 0 153px,#ffd700 0 157px,#ffe700 0 162px,#fff700 0 167px,#f7ff08 0 179px,#e7ff18 0)"></i><i style="background:linear-gradient(#870000 0 99px,#970000 0 101px,#a70000 0 104px,#b70000 0 106px,#c70000 0 108px,#d70000 0 110px,#e70000 0 112px,#f70000 0 114px,#ff0800 0 116px,#ff1800 0 117px,#ff2800 0 119px,#ff3800 0 120px,#ff4800 0 122px,#ff5800 0 123px,#ff6800 0 125px,#ff7800 0 126px,#ff8700 0 130px,#ff9700 0 133px,#ffa700 0 136px,#ffb700 0 140px,#ffc700 0 145px,#ffd700 0 149px,#ffe700 0 154px,#fff700 0 159px,#f7ff08 0 171px,#e7ff18 0)"></i><i style="background:linear-gradient(#870000 0 104px,#970000 0 106px,#a70000 0 108px,#b70000 0 110px,#c70000 0 112px,#d70000 0 114px,#e70000 0 116px,#f70000 0 118px,#ff0800 0 120px,#ff1800 0 121px,#ff2800 0 123px,#ff3800 0 124px,#ff4800 0 126px,#ff5800 0 127px,#ff6800 0 129px,#ff7800 0 131px,#ff8700 0 134px,#ff9700 0 137px,#ffa700 0 141px,#ffb700 0 145px,#ffc700 0 150px,#ffd700 0 154px,#ffe700 0 159px,#fff700 0 164px,#f7ff08 0 176px,#e7ff18 0)"></i><i style="background:linear-gradient(#870000 0 102px,#970000 0 104px,#a70000 0 106px,#b70000 0 109px,#c70000 0 111px,#d70000 0 113px,#e70000 0 115px,#f70000 0 117px,#ff0800 0 118px,#ff1800 0 120px,#ff2800 0 121px,#ff3800 0 123px,#ff4800 0 124px,#ff5800 0 126px,#ff6800 0 128px,#ff7800 0 130px,#ff8700 0 133px,#ff9700 0 137px,#ffa700 0 140px,#ffb700 0 144px,#ffc700 0 149px,#ffd700 0 155px,#ffe700 0 160px,#fff700 0 167px,#f7ff08 0 180px,#e7ff18 0)"></i><i style="background:linear-gradient(#870000 0 106px,#970000 0 109px,#a70000 0 111px,#b70000 0 114px,#c70000 0 116px,#d70000 0 118px,#e70000 0 120px,#f70000 0 122px,#ff0800 0 123px,#ff1800 0 125px,#ff2800 0 127px,#ff3800 0 128px,#ff4800 0 130px,#ff5800 0 132px,#ff6800 0 134px,#ff7800 0 137px,#ff8700 0 140px,#ff9700 0 143px,#ffa700 0 147px,#ffb700 0 153px,#ffc700 0 158px,#ffd700 0 163px,#ffe700 0 175px,#fff700 0)"></i><i style="background:linear-gradient(#870000 0 109px,#970000 0 111px,#a70000 0 114px,#b70000 0 116px,#c70000 0 118px,#d70000 0 120px,#e70000 0 122px,#f70000 0 124px,#ff0800 0 126px,#ff1800 0 128px,#ff2800 0 129px,#ff3800 0 131px,#ff4800 0 133px,#ff5800 0 135px,#ff6800 0 137px,#ff7800 0 139px,#ff8700 0 142px,#ff9700 0 148px,#ffa700 0 153px,#ffb700 0 159px,#ffc700 0 165px,#ffd700 0 181px,#ffe700 0)"></i><i style="background:linear-gradient(#870000 0 116px,#970000 0 118px,#a70000 0 120px,#b70000 0 122px,#c70000 0 124px,#d70000 0 127px,#e70000 0 129px,#f70000 0 131px,#ff0800 0 133px,#ff1800 0 134px,#ff2800 0 136px,#ff3800 0 138px,#ff4800 0 140px,#ff5800 0 141px,#ff6800 0 143px,#ff7800 0 145px,#ff8700 0 151px,#ff9700 0 156px,#ffa700 0 162px,#ffb700 0 168px,#ffc700 0)"></i><i style="background:linear-gradient(#870000 0 117px,#970000 0 119px,#a70000 0 121px,#b70000 0 123px,#c70000 0 125px,#d70000 0 127px,#e70000 0 130px,#f70000 0 132px,#ff0800 0 133px,#ff1800 0 135px,#ff2800 0 137px,#ff3800 0 138px,#ff4800 0 140px,#ff5800 0 142px,#ff6800 0 143px,#ff7800 0 145px,#ff8700 0 151px,#ff9700 0 157px,#ffa700 0 163px,#ffb700 0 169px,#ffc700 0)"></i><i style="background:linear-gradient(#870000 0 123px,#970000 0 125px,#a70000 0 127px,#b70000 0 129px,#c70000 0 131px,#d70000 0 133px,#e70000 0 135px,#f70000 0 137px,#ff0800 0 139px,#ff1800 0 140px,#ff2800 0 142px,#ff3800 0 144px,#ff4800 0 145px,#ff5800 0 147px,#ff6800 0 148px,#ff7800 0 150px,#ff8700 0 156px,#ff9700 0 162px,#ffa700 0 168px,#ffb700 0 174px,#ffc700 0)"></i><i style="background:linear-gradient(#870000 0 119px,#970000 0 121px,#a70000 0 123px,#b70000 0 125px,#c70000 0 127px,#d70000 0 129px,#e70000 0 131px,#f70000 0 133px,#ff0800 0 135px,#ff1800 0 136px,#ff2800 0 138px,#ff3800 0 139px,#ff4800 0 141px,#ff5800 0 142px,#ff6800 0 144px,#ff7800 0 145px,#ff8700 0 151px,#ff9700 0 157px,#ffa700 0 163px,#ffb700 0 169px,#ffc700 0)"></i><i style="background:linear-gradient(#870000 0 118px,#970000 0 120px,#a70000 0 122px,#b70000 0 124px,#c70000 0 126px,#d70000 0 128px,#e70000 0 130px,#f70000 0 132px,#ff0800 0 134px,#ff1800 0 135px,#ff2800 0 137px,#ff3800 0 139px,#ff4800 0 140px,#ff5800 0 142px,#ff6800 0 143px,#ff7800 0 145px,#ff8700 0 151px,#ff9700 0 157px,#ffa700 0 163px,#ffb700 0 169px,#ffc700 0)"></i><i style="background:linear-gradient(#870000 0 116px,#970000 0 118px,#a70000 0 120px,#b70000 0 122px,#c70000 0 124px,#d70000 0 126px,#e70000 0 128px,#f70000 0 130px,#ff0800 0 132px,#ff1800 0 133px,#ff2800 0 135px,#ff3800 0 137px,#ff4800 0 138px,#ff5800 0 140px,#ff6800 0 142px,#ff7800 0 143px,#ff8700 0 149px,#ff9700 0 155px,#ffa700 0 161px,#ffb700 0 167px,#ffc700 0)"></i><i style="background:linear-gradient(#870000 0 112px,#970000 0 114px,#a70000 0 116px,#b70000 0 118px,#c70000 0 120px,#d70000 0 122px,#e70000 0 124px,#f70000 0 126px,#ff0800 0 128px,#ff1800 0 129px,#ff2800 0 131px,#ff3800 0 133px,#ff4800 0 135px,#ff5800 0 136px,#ff6800 0 138px,#ff7800 0 140px,#ff8700 0 146px,#ff9700 0 152px,#ffa700 0 158px,#ffb700 0 164px,#ffc700 0)"></i><i style="background:linear-gradient(#870000 0 107px,#970000 0 109px,#a70000 0 111px,#b70000 0 113px,#c70000 0 115px,#d70000 0 117px,#e70000 0 119px,#f70000 0 121px,#ff0800 0 123px,#ff1800 0 125px,#ff2800 0 127px,#ff3800 0 129px,#ff4800 0 130px,#ff5800 0 132px,#ff6800 0 134px,#ff7800 0 136px,#ff8700 0 142px,#ff9700 0 148px,#ffa700 0 154px,#ffb700 0 160px,#ffc700 0 181px,#ffd700 0)"></i><i style="background:linear-gradient(#870000 0 103px,#970000 0 106px,#a70000 0 108px,#b70000 0 110px,#c70000 0 112px,#d70000 0 114px,#e70000 0 116px,#f70000 0 118px,#ff0800 0 120px,#ff1800 0 122px,#ff2800 0 124px,#ff3800 0 126px,#ff4800 0 127px,#ff5800 0 129px,#ff6800 0 131px,#ff7800 0 133px,#ff8700 0 139px,#ff9700 0 145px,#ffa700 0 151px,#ffb700 0 157px,#ffc700 0 178px,#ffd700 0)"></i><i style="background:linear-gradient(#870000 0 106px,#970000 0 109px,#a70000 0 111px,#b70000 0 113px,#c70000 0 115px,#d70000 0 117px,#e70000 0 119px,#f70000 0 122px,#ff0800 0 123px,#ff1800 0 125px,#ff2800 0 127px,#ff3800 0 129px,#ff4800 0 131px,#ff5800 0 133px,#ff6800 0 135px,#ff7800 0 137px,#ff8700 0 143px,#ff9700 0 149px,#ffa700 0 155px,#ffb700 0 161px,#ffc700 0 182px,#ffd700 0)"></i><i style="background:linear-gradient(#870000 0 105px,#970000 0 107px,#a70000 0 109px,#b70000 0 111px,#c70000 0 114px,#d70000 0 116px,#e70000 0 118px,#f70000 0 120px,#ff0800 0 122px,#ff1800 0 124px,#ff2800 0 126px,#ff3800 0 128px,#ff4800 0 130px,#ff5800 0 131px,#ff6800 0 133px,#ff7800 0 135px,#ff8700 0 141px,#ff9700 0 147px,#ffa700 0 153px,#ffb700 0 160px,#ffc700 0 181px,#ffd700 0)"></i><i style="background:linear-gradient(#870000 0 103px,#970000 0 105px,#a70000 0 108px,#b70000 0 110px,#c70000 0 112px,#d70000 0 115px,#e70000 0 117px,#f70000 0 119px,#ff0800 0 121px,#ff1800 0 123px,#ff2800 0 125px,#ff3800 0 127px,#ff4800 0 129px,#ff5800 0 131px,#ff6800 0 132px,#ff7800 0 134px,#ff8700 0 140px,#ff9700 0 146px,#ffa700 0 152px,#ffb700 0 158px,#ffc700 0 180px,#ffd700 0)"></i><i style="background:linear-gradient(#870000 0 103px,#970000 0 105px,#a70000 0 107px,#b70000 0 110px,#c70000 0 112px,#d70000 0 114px,#e70000 0 117px,#f70000 0 119px,#ff0800 0 121px,#ff1800 0 123px,#ff2800 0 125px,#ff3800 0 127px,#ff4800 0 129px,#ff5800 0 130px,#ff6800 0 132px,#ff7800 0 135px,#ff8700 0 140px,#ff9700 0 146px,#ffa700 0 152px,#ffb700 0 159px,#ffc700 0 180px,#ffd700 0)"></i><i style="background:linear-gradient(#870000 0 103px,#970000 0 105px,#a70000 0 108px,#b70000 0 110px,#c70000 0 113px,#d70000 0 115px,#e70000 0 118px,#f70000 0 120px,#ff0800 0 122px,#ff1800 0 124px,#ff2800 0 126px,#ff3800 0 128px,#ff4800 0 130px,#ff5800 0 132px,#ff6800 0 133px,#ff7800 0 136px,#ff8700 0 141px,#ff9700 0 147px,#ffa700 0 153px,#ffb700 0 160px,#ffc700 0 181px,#ffd700 0)"></i><i style="background:linear-gradient(#870000 0 105px,#970000 0 108px,#a70000 0 110px,#b70000 0 113px,#c70000 0 116px,#d70000 0 118px,#e70000 0 121px,#f70000 0 123px,#ff0800 0 125px,#ff1800 0 127px,#ff2800 0 129px,#ff3800 0 131px,#ff4800 0 133px,#ff5800 0 135px,#ff6800 0 137px,#ff7800 0 139px,#ff8700 0 145px,#ff9700 0 151px,#ffa700 0 157px,#ffb700 0 163px,#ffc700 0 183px,#ffd700 0)"></i><i style="background:linear-gradient(#870000 0 100px,#970000 0 103px,#a70000 0 106px,#b70000 0 108px,#c70000 0 111px,#d70000 0 113px,#e70000 0 116px,#f70000 0 119px,#ff0800 0 121px,#ff1800 0 123px,#ff2800 0 125px,#ff3800 0 127px,#ff4800 0 129px,#ff5800 0 130px,#ff6800 0 132px,#ff7800 0 135px,#ff8700 0 140px,#ff9700 0 146px,#ffa700 0 152px,#ffb700 0 159px,#ffc700 0 179px,#ffd700 0)"></i><i style="background:linear-gradient(#870000 0 96px,#970000 0 98px,#a70000 0 101px,#b70000 0 104px,#c70000 0 106px,#d70000 0 109px,#e70000 0 112px,#f70000 0 114px,#ff0800 0 116px,#ff1800 0 118px,#ff2800 0 120px,#ff3800 0 122px,#ff4800 0 124px,#ff5800 0 126px,#ff6800 0 128px,#ff7800 0 131px,#ff8700 0 136px,#ff9700 0 142px,#ffa700 0 148px,#ffb700 0 155px,#ffc700 0 174px,#ffd700 0)"></i><i style="background:linear-gradient(#870000 0 92px,#970000 0 95px,#a70000 0 98px,#b70000 0 101px,#c70000 0 103px,#d70000 0 106px,#e70000 0 109px,#f70000 0 112px,#ff0800 0 114px,#ff1800 0 116px,#ff2800 0 118px,#ff3800 0 120px,#ff4800 0 122px,#ff5800 0 124px,#ff6800 0 126px,#ff7800 0 128px,#ff8700 0 133px,#ff9700 0 139px,#ffa700 0 145px,#ffb700 0 151px,#ffc700 0 164px,#ffd700 0)"></i><i style="background:linear-gradient(#870000 0 87px,#970000 0 92px,#a70000 0 95px,#b70000 0 98px,#c70000 0 101px,#d70000 0 104px,#e70000 0 107px,#f70000 0 109px,#ff0800 0 112px,#ff1800 0 114px,#ff2800 0 116px,#ff3800 0 118px,#ff4800 0 120px,#ff5800 0 122px,#ff6800 0 124px,#ff7800 0 126px,#ff8700 0 131px,#ff9700 0 136px,#ffa700 0 141px,#ffb700 0 148px,#ffc700 0 157px,#ffd700 0 169px,#ffe700 0)"></i><i style="background:linear-gradient(#870000 0 89px,#970000 0 96px,#a70000 0 99px,#b70000 0 102px,#c70000 0 105px,#d70000 0 109px,#e70000 0 112px,#f70000 0 115px,#ff0800 0 117px,#ff1800 0 119px,#ff2800 0 121px,#ff3800 0 123px,#ff4800 0 125px,#ff5800 0 127px,#ff6800 0 129px,#ff7800 0 132px,#ff8700 0 136px,#ff9700 0 141px,#ffa700 0 146px,#ffb700 0 152px,#ffc700 0 159px,#ffd700 0 168px,#ffe700 0 184px,#fff700 0)"></i><i style="background:linear-gradient(#870000 0 89px,#970000 0 94px,#a70000 0 99px,#b70000 0 102px,#c70000 0 106px,#d70000 0 110px,#e70000 0 113px,#f70000 0 116px,#ff0800 0 118px,#ff1800 0 121px,#ff2800 0 123px,#ff3800 0 125px,#ff4800 0 127px,#ff5800 0 129px,#ff6800 0 131px,#ff7800 0 134px,#ff8700 0 138px,#ff9700 0 142px,#ffa700 0 147px,#ffb700 0 152px,#ffc700 0 159px,#ffd700 0 167px,#ffe700 0 175px,#fff700 0)"></i><i style="background:linear-gradient(#870000 0 87px,#970000 0 91px,#a70000 0 95px,#b70000 0 99px,#c70000 0 103px,#d70000 0 107px,#e70000 0 110px,#f70000 0 114px,#ff0800 0 116px,#ff1800 0 118px,#ff2800 0 121px,#ff3800 0 123px,#ff4800 0 125px,#ff5800 0 127px,#ff6800 0 129px,#ff7800 0 131px,#ff8700 0 135px,#ff9700 0 140px,#ffa700 0 144px,#ffb700 0 149px,#ffc700 0 155px,#ffd700 0 162px,#ffe700 0 169px,#fff700 0 180px,#f7ff08 0)"></i><i style="background:linear-gradient(#870000 0 80px,#970000 0 84px,#a70000 0 88px,#b70000 0 92px,#c70000 0 96px,#d70000 0 100px,#e70000 0 104px,#f70000 0 108px,#ff0800 0 110px,#ff1800 0 112px,#ff2800 0 114px,#ff3800 0 117px,#ff4800 0 119px,#ff5800 0 121px,#ff6800 0 123px,#ff7800 0 125px,#ff8700 0 129px,#ff9700 0 133px,#ffa700 0 138px,#ffb700 0 142px,#ffc700 0 148px,#ffd700 0 155px,#ffe700 0 161px,#fff700 0 168px,#f7ff08 0)"></i><i style="background:linear-gradient(#870000 0 75px,#970000 0 79px,#a70000 0 83px,#b70000 0 87px,#c70000 0 91px,#d70000 0 96px,#e70000 0 100px,#f70000 0 104px,#ff0800 0 106px,#ff1800 0 108px,#ff2800 0 110px,#ff3800 0 112px,#ff4800 0 115px,#ff5800 0 117px,#ff6800 0 119px,#ff7800 0 121px,#ff8700 0 125px,#ff9700 0 129px,#ffa700 0 133px,#ffb700 0 137px,#ffc700 0 143px,#ffd700 0 149px,#ffe700 0 155px,#fff700 0 162px,#f7ff08 0)"></i><i style="background:linear-gradient(#870000 0 79px,#970000 0 83px,#a70000 0 87px,#b70000 0 92px,#c70000 0 96px,#d70000 0 101px,#e70000 0 105px,#f70000 0 109px,#ff0800 0 111px,#ff1800 0 114px,#ff2800 0 116px,#ff3800 0 118px,#ff4800 0 120px,#ff5800 0 122px,#ff6800 0 124px,#ff7800 0 126px,#ff8700 0 130px,#ff9700 0 134px,#ffa700 0 138px,#ffb700 0 142px,#ffc700 0 147px,#ffd700 0 153px,#ffe700 0 159px,#fff700 0 165px,#f7ff08 0)"></i><i style="background:linear-gradient(#870000 0 82px,#970000 0 87px,#a70000 0 92px,#b70000 0 96px,#c70000 0 101px,#d70000 0 105px,#e70000 0 110px,#f70000 0 114px,#ff0800 0 116px,#ff1800 0 118px,#ff2800 0 121px,#ff3800 0 123px,#ff4800 0 125px,#ff5800 0 127px,#ff6800 0 129px,#ff7800 0 131px,#ff8700 0 135px,#ff9700 0 138px,#ffa700 0 142px,#ffb700 0 146px,#ffc700 0 151px,#ffd700 0 157px,#ffe700 0 162px,#fff700 0 168px,#f7ff08 0 186px,#e7ff18 0)"></i><i style="background:linear-gradient(#870000 0 78px,#970000 0 83px,#a70000 0 88px,#b70000 0 92px,#c70000 0 97px,#d70000 0 102px,#e70000 0 106px,#f70000 0 111px,#ff0800 0 113px,#ff1800 0 115px,#ff2800 0 117px,#ff3800 0 119px,#ff4800 0 121px,#ff5800 0 123px,#ff6800 0 125px,#ff7800 0 128px,#ff8700 0 131px,#ff9700 0 135px,#ffa700 0 139px,#ffb700 0 142px,#ffc700 0 147px,#ffd700 0 152px,#ffe700 0 157px,#fff700 0 162px,#f7ff08 0 180px,#e7ff18 0)"></i><i style="background:linear-gradient(#870000 0 71px,#970000 0 76px,#a70000 0 81px,#b70000 0 85px,#c70000 0 90px,#d70000 0 95px,#e70000 0 100px,#f70000 0 105px,#ff0800 0 107px,#ff1800 0 109px,#ff2800 0 111px,#ff3800 0 113px,#ff4800 0 115px,#ff5800 0 117px,#ff6800 0 119px,#ff7800 0 121px,#ff8700 0 125px,#ff9700 0 128px,#ffa700 0 132px,#ffb700 0 135px,#ffc700 0 140px,#ffd700 0 145px,#ffe700 0 149px,#fff700 0 154px,#f7ff08 0 171px,#e7ff18 0)"></i><i style="background:linear-gradient(#870000 0 66px,#970000 0 71px,#a70000 0 76px,#b70000 0 81px,#c70000 0 87px,#d70000 0 92px,#e70000 0 97px,#f70000 0 102px,#ff0800 0 104px,#ff1800 0 106px,#ff2800 0 108px,#ff3800 0 110px,#ff4800 0 112px,#ff5800 0 114px,#ff6800 0 116px,#ff7800 0 118px,#ff8700 0 121px,#ff9700 0 125px,#ffa700 0 128px,#ffb700 0 131px,#ffc700 0 136px,#ffd700 0 140px,#ffe700 0 144px,#fff700 0 149px,#f7ff08 0 165px,#e7ff18 0)"></i><i style="background:linear-gradient(#870000 0 71px,#970000 0 76px,#a70000 0 81px,#b70000 0 87px,#c70000 0 92px,#d70000 0 97px,#e70000 0 102px,#f70000 0 107px,#ff0800 0 109px,#ff1800 0 111px,#ff2800 0 113px,#ff3800 0 116px,#ff4800 0 118px,#ff5800 0 120px,#ff6800 0 122px,#ff7800 0 124px,#ff8700 0 127px,#ff9700 0 130px,#ffa700 0 133px,#ffb700 0 137px,#ffc700 0 140px,#ffd700 0 144px,#ffe700 0 148px,#fff700 0 152px,#f7ff08 0 169px,#e7ff18 0 185px,#d7ff28 0)"></i><i style="background:linear-gradient(#870000 0 70px,#970000 0 75px,#a70000 0 80px,#b70000 0 86px,#c70000 0 91px,#d70000 0 96px,#e70000 0 101px,#f70000 0 106px,#ff0800 0 109px,#ff1800 0 111px,#ff2800 0 113px,#ff3800 0 115px,#ff4800 0 117px,#ff5800 0 119px,#ff6800 0 121px,#ff7800 0 123px,#ff8700 0 126px,#ff9700 0 129px,#ffa700 0 132px,#ffb700 0 136px,#ffc700 0 139px,#ffd700 0 143px,#ffe700 0 147px,#fff700 0 151px,#f7ff08 0 167px,#e7ff18 0 184px,#d7ff28 0)"></i><i style="background:linear-gradient(#870000 0 71px,#970000 0 76px,#a70000 0 81px,#b70000 0 87px,#c70000 0 92px,#d70000 0 97px,#e70000 0 102px,#f70000 0 108px,#ff0800 0 110px,#ff1800 0 112px,#ff2800 0 114px,#ff3800 0 116px,#ff4800 0 118px,#ff5800 0 120px,#ff6800 0 122px,#ff7800 0 124px,#ff8700 0 127px,#ff9700 0 130px,#ffa700 0 133px,#ffb700 0 136px,#ffc700 0 140px,#ffd700 0 144px,#ffe700 0 148px,#fff700 0 151px,#f7ff08 0 168px,#e7ff18 0 185px,#d7ff28 0)"></i><i style="background:linear-gradient(#870000 0 73px,#970000 0 78px,#a70000 0 84px,#b70000 0 89px,#c70000 0 94px,#d70000 0 100px,#e70000 0 105px,#f70000 0 110px,#ff0800 0 112px,#ff1800 0 114px,#ff2800 0 116px,#ff3800 0 118px,#ff4800 0 120px,#ff5800 0 122px,#ff6800 0 124px,#ff7800 0 126px,#ff8700 0 129px,#ff9700 0 132px,#ffa700 0 135px,#ffb700 0 139px,#ffc700 0 142px,#ffd700 0 146px,#ffe700 0 150px,#fff700 0 154px,#f7ff08 0 170px,#e7ff18 0)"></i><i style="background:linear-gradient(#870000 0 73px,#970000 0 78px,#a70000 0 83px,#b70000 0 89px,#c70000 0 94px,#d70000 0 99px,#e70000 0 105px,#f70000 0 110px,#ff0800 0 112px,#ff1800 0 114px,#ff2800 0 116px,#ff3800 0 118px,#ff4800 0 120px,#ff5800 0 122px,#ff6800 0 124px,#ff7800 0 126px,#ff8700 0 129px,#ff9700 0 132px,#ffa700 0 135px,#ffb700 0 138px,#ffc700 0 142px,#ffd700 0 146px,#ffe700 0 149px,#fff700 0 153px,#f7ff08 0 170px,#e7ff18 0)"></i><i style="background:linear-gradient(#870000 0 70px,#970000 0 75px,#a70000 0 81px,#b70000 0 86px,#c70000 0 92px,#d70000 0 97px,#e70000 0 102px,#f70000 0 108px,#ff0800 0 110px,#ff1800 0 112px,#ff2800 0 113px,#ff3800 0 115px,#ff4800 0 117px,#ff5800 0 119px,#ff6800 0 121px,#ff7800 0 123px,#ff8700 0 126px,#ff9700 0 129px,#ffa700 0 132px,#ffb700 0 135px,#ffc700 0 139px,#ffd700 0 143px,#ffe700 0 147px,#fff700 0 151px,#f7ff08 0 168px,#e7ff18 0 185px,#d7ff28 0)"></i><i style="background:linear-gradient(#870000 0 70px,#970000 0 75px,#a70000 0 81px,#b70000 0 86px,#c70000 0 92px,#d70000 0 97px,#e70000 0 102px,#f70000 0 107px,#ff0800 0 110px,#ff1800 0 112px,#ff2800 0 113px,#ff3800 0 115px,#ff4800 0 117px,#ff5800 0 119px,#ff6800 0 121px,#ff7800 0 123px,#ff8700 0 126px,#ff9700 0 129px,#ffa700 0 132px,#ffb700 0 135px,#ffc700 0 139px,#ffd700 0 143px,#ffe700 0 146px,#fff700 0 150px,#f7ff08 0 167px,#e7ff18 0 185px,#d7ff28 0)"></i><i style="background:linear-gradient(#870000 0 71px,#970000 0 76px,#a70000 0 82px,#b70000 0 87px,#c70000 0 93px,#d70000 0 98px,#e70000 0 103px,#f70000 0 109px,#ff0800 0 111px,#ff1800 0 113px,#ff2800 0 115px,#ff3800 0 116px,#ff4800 0 118px,#ff5800 0 120px,#ff6800 0 122px,#ff7800 0 124px,#ff8700 0 127px,#ff9700 0 130px,#ffa700 0 133px,#ffb700 0 136px,#ffc700 0 140px,#ffd700 0 144px,#ffe700 0 147px,#fff700 0 151px,#f7ff08 0 168px,#e7ff18 0 186px,#d7ff28 0)"></i><i style="background:linear-gradient(#870000 0 72px,#970000 0 78px,#a70000 0 83px,#b70000 0 88px,#c70000 0 94px,#d70000 0 99px,#e70000 0 105px,#f70000 0 110px,#ff0800 0 112px,#ff1800 0 114px,#ff2800 0 116px,#ff3800 0 118px,#ff4800 0 120px,#ff5800 0 121px,#ff6800 0 123px,#ff7800 0 125px,#ff8700 0 128px,#ff9700 0 131px,#ffa700 0 134px,#ffb700 0 137px,#ffc700 0 141px,#ffd700 0 145px,#ffe700 0 148px,#fff700 0 152px,#f7ff08 0 170px,#e7ff18 0)"></i><i style="background:linear-gradient(#870000 0 70px,#970000 0 75px,#a70000 0 81px,#b70000 0 86px,#c70000 0 92px,#d70000 0 97px,#e70000 0 103px,#f70000 0 108px,#ff0800 0 110px,#ff1800 0 112px,#ff2800 0 114px,#ff3800 0 116px,#ff4800 0 117px,#ff5800 0 119px,#ff6800 0 121px,#ff7800 0 123px,#ff8700 0 126px,#ff9700 0 129px,#ffa700 0 132px,#ffb700 0 135px,#ffc700 0 139px,#ffd700 0 142px,#ffe700 0 146px,#fff700 0 150px,#f7ff08 0 167px,#e7ff18 0 185px,#d7ff28 0)"></i><i style="background:linear-gradient(#870000 0 68px,#970000 0 74px,#a70000 0 79px,#b70000 0 85px,#c70000 0 90px,#d70000 0 96px,#e70000 0 101px,#f70000 0 106px,#ff0800 0 108px,#ff1800 0 110px,#ff2800 0 112px,#ff3800 0 114px,#ff4800 0 116px,#ff5800 0 118px,#ff6800 0 119px,#ff7800 0 121px,#ff8700 0 124px,#ff9700 0 127px,#ffa700 0 130px,#ffb700 0 133px,#ffc700 0 137px,#ffd700 0 140px,#ffe700 0 144px,#fff700 0 148px,#f7ff08 0 166px,#e7ff18 0 183px,#d7ff28 0)"></i><i style="background:linear-gradient(#870000 0 66px,#970000 0 72px,#a70000 0 77px,#b70000 0 83px,#c70000 0 88px,#d70000 0 94px,#e70000 0 99px,#f70000 0 105px,#ff0800 0 107px,#ff1800 0 109px,#ff2800 0 110px,#ff3800 0 112px,#ff4800 0 114px,#ff5800 0 116px,#ff6800 0 118px,#ff7800 0 119px,#ff8700 0 122px,#ff9700 0 125px,#ffa700 0 128px,#ffb700 0 131px,#ffc700 0 135px,#ffd700 0 138px,#ffe700 0 142px,#fff700 0 146px,#f7ff08 0 164px,#e7ff18 0 182px,#d7ff28 0)"></i><i style="background:linear-gradient(#870000 0 65px,#970000 0 70px,#a70000 0 76px,#b70000 0 81px,#c70000 0 87px,#d70000 0 92px,#e70000 0 98px,#f70000 0 103px,#ff0800 0 105px,#ff1800 0 107px,#ff2800 0 109px,#ff3800 0 111px,#ff4800 0 112px,#ff5800 0 114px,#ff6800 0 116px,#ff7800 0 118px,#ff8700 0 121px,#ff9700 0 123px,#ffa700 0 126px,#ffb700 0 129px,#ffc700 0 133px,#ffd700 0 137px,#ffe700 0 140px,#fff700 0 145px,#f7ff08 0 162px,#e7ff18 0 180px,#d7ff28 0)"></i><i style="background:linear-gradient(#870000 0 64px,#970000 0 70px,#a70000 0 75px,#b70000 0 81px,#c70000 0 86px,#d70000 0 92px,#e70000 0 97px,#f70000 0 103px,#ff0800 0 105px,#ff1800 0 107px,#ff2800 0 108px,#ff3800 0 110px,#ff4800 0 112px,#ff5800 0 114px,#ff6800 0 116px,#ff7800 0 117px,#ff8700 0 120px,#ff9700 0 123px,#ffa700 0 126px,#ffb700 0 129px,#ffc700 0 132px,#ffd700 0 136px,#ffe700 0 140px,#fff700 0 144px,#f7ff08 0 162px,#e7ff18 0 180px,#d7ff28 0)"></i><i style="background:linear-gradient(#870000 0 67px,#970000 0 72px,#a70000 0 78px,#b70000 0 84px,#c70000 0 89px,#d70000 0 95px,#e70000 0 100px,#f70000 0 106px,#ff0800 0 108px,#ff1800 0 110px,#ff2800 0 111px,#ff3800 0 113px,#ff4800 0 115px,#ff5800 0 117px,#ff6800 0 118px,#ff7800 0 120px,#ff8700 0 123px,#ff9700 0 126px,#ffa700 0 128px,#ffb700 0 131px,#ffc700 0 135px,#ffd700 0 139px,#ffe700 0 142px,#fff700 0 146px,#f7ff08 0 164px,#e7ff18 0 183px,#d7ff28 0)"></i><i style="background:linear-gradient(#870000 0 69px,#970000 0 75px,#a70000 0 81px,#b70000 0 86px,#c70000 0 92px,#d70000 0 97px,#e70000 0 103px,#f70000 0 108px,#ff0800 0 110px,#ff1800 0 112px,#ff2800 0 114px,#ff3800 0 116px,#ff4800 0 117px,#ff5800 0 119px,#ff6800 0 121px,#ff7800 0 123px,#ff8700 0 125px,#ff9700 0 128px,#ffa700 0 131px,#ffb700 0 134px,#ffc700 0 137px,#ffd700 0 141px,#ffe700 0 145px,#fff700 0 149px,#f7ff08 0 167px,#e7ff18 0 185px,#d7ff28 0)"></i><i style="background:linear-gradient(#870000 0 66px,#970000 0 72px,#a70000 0 77px,#b70000 0 83px,#c70000 0 89px,#d70000 0 94px,#e70000 0 100px,#f70000 0 106px,#ff0800 0 108px,#ff1800 0 109px,#ff2800 0 111px,#ff3800 0 113px,#ff4800 0 115px,#ff5800 0 116px,#ff6800 0 118px,#ff7800 0 120px,#ff8700 0 123px,#ff9700 0 125px,#ffa700 0 128px,#ffb700 0 131px,#ffc700 0 135px,#ffd700 0 138px,#ffe700 0 142px,#fff700 0 146px,#f7ff08 0 164px,#e7ff18 0 182px,#d7ff28 0)"></i><i style="background:linear-gradient(#870000 0 66px,#970000 0 71px,#a70000 0 77px,#b70000 0 83px,#c70000 0 89px,#d70000 0 94px,#e70000 0 100px,#f70000 0 106px,#ff0800 0 108px,#ff1800 0 109px,#ff2800 0 111px,#ff3800 0 113px,#ff4800 0 115px,#ff5800 0 117px,#ff6800 0 118px,#ff7800 0 120px,#ff8700 0 123px,#ff9700 0 126px,#ffa700 0 128px,#ffb700 0 131px,#ffc700 0 135px,#ffd700 0 138px,#ffe700 0 142px,#fff700 0 145px,#f7ff08 0 164px,#e7ff18 0 182px,#d7ff28 0)"></i><i style="background:linear-gradient(#870000 0 63px,#970000 0 69px,#a70000 0 75px,#b70000 0 80px,#c70000 0 86px,#d70000 0 92px,#e70000 0 98px,#f70000 0 103px,#ff0800 0 105px,#ff1800 0 107px,#ff2800 0 109px,#ff3800 0 111px,#ff4800 0 113px,#ff5800 0 114px,#ff6800 0 116px,#ff7800 0 118px,#ff8700 0 121px,#ff9700 0 123px,#ffa700 0 126px,#ffb700 0 129px,#ffc700 0 132px,#ffd700 0 136px,#ffe700 0 139px,#fff700 0 143px,#f7ff08 0 161px,#e7ff18 0 179px,#d7ff28 0)"></i><i style="background:linear-gradient(#870000 0 65px,#970000 0 71px,#a70000 0 77px,#b70000 0 83px,#c70000 0 89px,#d70000 0 94px,#e70000 0 100px,#f70000 0 106px,#ff0800 0 108px,#ff1800 0 110px,#ff2800 0 112px,#ff3800 0 113px,#ff4800 0 115px,#ff5800 0 117px,#ff6800 0 119px,#ff7800 0 121px,#ff8700 0 123px,#ff9700 0 126px,#ffa700 0 129px,#ffb700 0 132px,#ffc700 0 135px,#ffd700 0 138px,#ffe700 0 142px,#fff700 0 146px,#f7ff08 0 163px,#e7ff18 0 181px,#d7ff28 0)"></i><i style="background:linear-gradient(#870000 0 65px,#970000 0 71px,#a70000 0 77px,#b70000 0 83px,#c70000 0 88px,#d70000 0 94px,#e70000 0 100px,#f70000 0 106px,#ff0800 0 108px,#ff1800 0 110px,#ff2800 0 112px,#ff3800 0 113px,#ff4800 0 115px,#ff5800 0 117px,#ff6800 0 119px,#ff7800 0 121px,#ff8700 0 123px,#ff9700 0 126px,#ffa700 0 129px,#ffb700 0 131px,#ffc700 0 135px,#ffd700 0 138px,#ffe700 0 142px,#fff700 0 145px,#f7ff08 0 163px,#e7ff18 0 181px,#d7ff28 0)"></i><i style="background:linear-gradient(#870000 0 70px,#970000 0 76px,#a70000 0 82px,#b70000 0 88px,#c70000 0 94px,#d70000 0 100px,#e70000 0 106px,#f70000 0 111px,#ff0800 0 113px,#ff1800 0 115px,#ff2800 0 117px,#ff3800 0 119px,#ff4800 0 121px,#ff5800 0 123px,#ff6800 0 124px,#ff7800 0 126px,#ff8700 0 129px,#ff9700 0 132px,#ffa700 0 134px,#ffb700 0 137px,#ffc700 0 140px,#ffd700 0 144px,#ffe700 0 147px,#fff700 0 151px,#f7ff08 0 168px,#e7ff18 0 186px,#d7ff28 0)"></i><i style="background:linear-gradient(#870000 0 75px,#970000 0 81px,#a70000 0 87px,#b70000 0 93px,#c70000 0 98px,#d70000 0 104px,#e70000 0 110px,#f70000 0 116px,#ff0800 0 118px,#ff1800 0 120px,#ff2800 0 122px,#ff3800 0 124px,#ff4800 0 126px,#ff5800 0 128px,#ff6800 0 130px,#ff7800 0 131px,#ff8700 0 134px,#ff9700 0 137px,#ffa700 0 139px,#ffb700 0 142px,#ffc700 0 145px,#ffd700 0 148px,#ffe700 0 152px,#fff700 0 155px,#f7ff08 0 173px,#e7ff18 0)"></i><i style="background:linear-gradient(#870000 0 67px,#970000 0 73px,#a70000 0 79px,#b70000 0 85px,#c70000 0 91px,#d70000 0 97px,#e70000 0 103px,#f70000 0 109px,#ff0800 0 111px,#ff1800 0 113px,#ff2800 0 115px,#ff3800 0 116px,#ff4800 0 118px,#ff5800 0 120px,#ff6800 0 122px,#ff7800 0 124px,#ff8700 0 127px,#ff9700 0 129px,#ffa700 0 132px,#ffb700 0 134px,#ffc700 0 138px,#ffd700 0 141px,#ffe700 0 144px,#fff700 0 147px,#f7ff08 0 165px,#e7ff18 0 183px,#d7ff28 0)"></i><i style="background:linear-gradient(#870000 0 64px,#970000 0 70px,#a70000 0 76px,#b70000 0 82px,#c70000 0 89px,#d70000 0 95px,#e70000 0 101px,#f70000 0 107px,#ff0800 0 109px,#ff1800 0 111px,#ff2800 0 113px,#ff3800 0 114px,#ff4800 0 116px,#ff5800 0 118px,#ff6800 0 120px,#ff7800 0 122px,#ff8700 0 125px,#ff9700 0 127px,#ffa700 0 130px,#ffb700 0 132px,#ffc700 0 136px,#ffd700 0 139px,#ffe700 0 142px,#fff700 0 145px,#f7ff08 0 163px,#e7ff18 0 180px,#d7ff28 0)"></i><i style="background:linear-gradient(#870000 0 65px,#970000 0 72px,#a70000 0 78px,#b70000 0 84px,#c70000 0 90px,#d70000 0 96px,#e70000 0 102px,#f70000 0 108px,#ff0800 0 110px,#ff1800 0 112px,#ff2800 0 114px,#ff3800 0 116px,#ff4800 0 118px,#ff5800 0 120px,#ff6800 0 122px,#ff7800 0 124px,#ff8700 0 126px,#ff9700 0 129px,#ffa700 0 131px,#ffb700 0 134px,#ffc700 0 137px,#ffd700 0 140px,#ffe700 0 143px,#fff700 0 146px,#f7ff08 0 164px,#e7ff18 0 182px,#d7ff28 0)"></i><i style="background:linear-gradient(#870000 0 70px,#970000 0 76px,#a70000 0 82px,#b70000 0 88px,#c70000 0 94px,#d70000 0 100px,#e70000 0 107px,#f70000 0 113px,#ff0800 0 115px,#ff1800 0 117px,#ff2800 0 119px,#ff3800 0 121px,#ff4800 0 123px,#ff5800 0 125px,#ff6800 0 126px,#ff7800 0 128px,#ff8700 0 131px,#ff9700 0 134px,#ffa700 0 136px,#ffb700 0 139px,#ffc700 0 142px,#ffd700 0 145px,#ffe700 0 148px,#fff700 0 151px,#f7ff08 0 168px,#e7ff18 0 186px,#d7ff28 0)"></i><i style="background:linear-gradient(#870000 0 68px,#970000 0 74px,#a70000 0 80px,#b70000 0 86px,#c70000 0 93px,#d70000 0 99px,#e70000 0 105px,#f70000 0 111px,#ff0800 0 113px,#ff1800 0 115px,#ff2800 0 117px,#ff3800 0 119px,#ff4800 0 121px,#ff5800 0 123px,#ff6800 0 125px,#ff7800 0 127px,#ff8700 0 129px,#ff9700 0 132px,#ffa700 0 135px,#ffb700 0 137px,#ffc700 0 140px,#ffd700 0 143px,#ffe700 0 146px,#fff700 0 149px,#f7ff08 0 166px,#e7ff18 0 184px,#d7ff28 0)"></i><i style="background:linear-gradient(#870000 0 66px,#970000 0 72px,#a70000 0 78px,#b70000 0 85px,#c70000 0 91px,#d70000 0 97px,#e70000 0 104px,#f70000 0 110px,#ff0800 0 112px,#ff1800 0 114px,#ff2800 0 116px,#ff3800 0 118px,#ff4800 0 120px,#ff5800 0 122px,#ff6800 0 124px,#ff7800 0 126px,#ff8700 0 128px,#ff9700 0 131px,#ffa700 0 133px,#ffb700 0 136px,#ffc700 0 139px,#ffd700 0 141px,#ffe700 0 144px,#fff700 0 147px,#f7ff08 0 165px,#e7ff18 0 182px,#d7ff28 0)"></i><i style="background:linear-gradient(#870000 0 63px,#970000 0 69px,#a70000 0 76px,#b70000 0 82px,#c70000 0 88px,#d70000 0 95px,#e70000 0 101px,#f70000 0 107px,#ff0800 0 109px,#ff1800 0 111px,#ff2800 0 113px,#ff3800 0 115px,#ff4800 0 117px,#ff5800 0 119px,#ff6800 0 121px,#ff7800 0 123px,#ff8700 0 126px,#ff9700 0 128px,#ffa700 0 131px,#ffb700 0 133px,#ffc700 0 136px,#ffd700 0 139px,#ffe700 0 142px,#fff700 0 145px,#f7ff08 0 162px,#e7ff18 0 179px,#d7ff28 0)"></i><i style="background:linear-gradient(#870000 0 63px,#970000 0 69px,#a70000 0 76px,#b70000 0 82px,#c70000 0 88px,#d70000 0 94px,#e70000 0 101px,#f70000 0 107px,#ff0800 0 109px,#ff1800 0 111px,#ff2800 0 113px,#ff3800 0 115px,#ff4800 0 117px,#ff5800 0 119px,#ff6800 0 121px,#ff7800 0 123px,#ff8700 0 125px,#ff9700 0 128px,#ffa700 0 130px,#ffb700 0 133px,#ffc700 0 136px,#ffd700 0 139px,#ffe700 0 141px,#fff700 0 145px,#f7ff08 0 162px,#e7ff18 0 180px,#d7ff28 0)"></i><i style="background:linear-gradient(#870000 0 63px,#970000 0 69px,#a70000 0 76px,#b70000 0 82px,#c70000 0 88px,#d70000 0 94px,#e70000 0 100px,#f70000 0 106px,#ff0800 0 108px,#ff1800 0 110px,#ff2800 0 112px,#ff3800 0 114px,#ff4800 0 116px,#ff5800 0 118px,#ff6800 0 120px,#ff7800 0 122px,#ff8700 0 125px,#ff9700 0 127px,#ffa700 0 130px,#ffb700 0 132px,#ffc700 0 135px,#ffd700 0 138px,#ffe700 0 141px,#fff700 0 144px,#f7ff08 0 162px,#e7ff18 0 181px,#d7ff28 0)"></i><i style="background:linear-gradient(#870000 0 64px,#970000 0 70px,#a70000 0 77px,#b70000 0 83px,#c70000 0 89px,#d70000 0 95px,#e70000 0 101px,#f70000 0 107px,#ff0800 0 109px,#ff1800 0 111px,#ff2800 0 113px,#ff3800 0 115px,#ff4800 0 116px,#ff5800 0 118px,#ff6800 0 120px,#ff7800 0 122px,#ff8700 0 125px,#ff9700 0 128px,#ffa700 0 130px,#ffb700 0 133px,#ffc700 0 136px,#ffd700 0 139px,#ffe700 0 142px,#fff700 0 145px,#f7ff08 0 164px,#e7ff18 0 183px,#d7ff28 0)"></i><i style="background:linear-gradient(#870000 0 62px,#970000 0 68px,#a70000 0 74px,#b70000 0 80px,#c70000 0 86px,#d70000 0 92px,#e70000 0 97px,#f70000 0 103px,#ff0800 0 105px,#ff1800 0 107px,#ff2800 0 109px,#ff3800 0 111px,#ff4800 0 113px,#ff5800 0 115px,#ff6800 0 117px,#ff7800 0 119px,#ff8700 0 122px,#ff9700 0 124px,#ffa700 0 127px,#ffb700 0 130px,#ffc700 0 133px,#ffd700 0 136px,#ffe700 0 138px,#fff700 0 142px,#f7ff08 0 161px,#e7ff18 0 181px,#d7ff28 0)"></i><i style="background:linear-gradient(#870000 0 66px,#970000 0 72px,#a70000 0 78px,#b70000 0 83px,#c70000 0 89px,#d70000 0 95px,#e70000 0 101px,#f70000 0 107px,#ff0800 0 109px,#ff1800 0 111px,#ff2800 0 113px,#ff3800 0 114px,#ff4800 0 116px,#ff5800 0 118px,#ff6800 0 120px,#ff7800 0 122px,#ff8700 0 125px,#ff9700 0 128px,#ffa700 0 130px,#ffb700 0 133px,#ffc700 0 136px,#ffd700 0 139px,#ffe700 0 142px,#fff700 0 145px,#f7ff08 0 165px,#e7ff18 0)"></i><i style="background:linear-gradient(#870000 0 68px,#970000 0 73px,#a70000 0 79px,#b70000 0 85px,#c70000 0 90px,#d70000 0 96px,#e70000 0 102px,#f70000 0 107px,#ff0800 0 109px,#ff1800 0 111px,#ff2800 0 113px,#ff3800 0 115px,#ff4800 0 117px,#ff5800 0 119px,#ff6800 0 121px,#ff7800 0 123px,#ff8700 0 126px,#ff9700 0 128px,#ffa700 0 131px,#ffb700 0 134px,#ffc700 0 137px,#ffd700 0 140px,#ffe700 0 143px,#fff700 0 146px,#f7ff08 0 167px,#e7ff18 0)"></i><i style="background:linear-gradient(#870000 0 67px,#970000 0 72px,#a70000 0 78px,#b70000 0 83px,#c70000 0 89px,#d70000 0 94px,#e70000 0 100px,#f70000 0 105px,#ff0800 0 107px,#ff1800 0 109px,#ff2800 0 111px,#ff3800 0 113px,#ff4800 0 115px,#ff5800 0 117px,#ff6800 0 119px,#ff7800 0 121px,#ff8700 0 124px,#ff9700 0 127px,#ffa700 0 129px,#ffb700 0 132px,#ffc700 0 135px,#ffd700 0 138px,#ffe700 0 141px,#fff700 0 145px,#f7ff08 0 166px,#e7ff18 0)"></i><i style="background:linear-gradient(#870000 0 67px,#970000 0 73px,#a70000 0 78px,#b70000 0 84px,#c70000 0 89px,#d70000 0 94px,#e70000 0 100px,#f70000 0 105px,#ff0800 0 107px,#ff1800 0 109px,#ff2800 0 111px,#ff3800 0 113px,#ff4800 0 115px,#ff5800 0 117px,#ff6800 0 119px,#ff7800 0 121px,#ff8700 0 123px,#ff9700 0 126px,#ffa700 0 129px,#ffb700 0 132px,#ffc700 0 135px,#ffd700 0 138px,#ffe700 0 141px,#fff700 0 145px,#f7ff08 0 167px,#e7ff18 0)"></i><i style="background:linear-gradient(#870000 0 70px,#970000 0 75px,#a70000 0 81px,#b70000 0 86px,#c70000 0 91px,#d70000 0 97px,#e70000 0 102px,#f70000 0 107px,#ff0800 0 109px,#ff1800 0 111px,#ff2800 0 113px,#ff3800 0 115px,#ff4800 0 117px,#ff5800 0 119px,#ff6800 0 121px,#ff7800 0 123px,#ff8700 0 125px,#ff9700 0 128px,#ffa700 0 131px,#ffb700 0 134px,#ffc700 0 137px,#ffd700 0 140px,#ffe700 0 144px,#fff700 0 147px,#f7ff08 0 171px,#e7ff18 0)"></i><i style="background:linear-gradient(#870000 0 72px,#970000 0 77px,#a70000 0 82px,#b70000 0 87px,#c70000 0 93px,#d70000 0 98px,#e70000 0 103px,#f70000 0 108px,#ff0800 0 110px,#ff1800 0 112px,#ff2800 0 114px,#ff3800 0 116px,#ff4800 0 118px,#ff5800 0 120px,#ff6800 0 122px,#ff7800 0 124px,#ff8700 0 126px,#ff9700 0 129px,#ffa700 0 132px,#ffb700 0 135px,#ffc700 0 138px,#ffd700 0 142px,#ffe700 0 145px,#fff700 0 148px,#f7ff08 0 173px,#e7ff18 0)"></i><i style="background:linear-gradient(#870000 0 70px,#970000 0 75px,#a70000 0 80px,#b70000 0 85px,#c70000 0 90px,#d70000 0 95px,#e70000 0 100px,#f70000 0 105px,#ff0800 0 107px,#ff1800 0 109px,#ff2800 0 111px,#ff3800 0 113px,#ff4800 0 115px,#ff5800 0 117px,#ff6800 0 119px,#ff7800 0 121px,#ff8700 0 124px,#ff9700 0 127px,#ffa700 0 130px,#ffb700 0 133px,#ffc700 0 136px,#ffd700 0 139px,#ffe700 0 142px,#fff700 0 146px,#f7ff08 0 171px,#e7ff18 0)"></i><i style="background:linear-gradient(#870000 0 69px,#970000 0 74px,#a70000 0 79px,#b70000 0 84px,#c70000 0 89px,#d70000 0 95px,#e70000 0 100px,#f70000 0 105px,#ff0800 0 107px,#ff1800 0 109px,#ff2800 0 111px,#ff3800 0 113px,#ff4800 0 115px,#ff5800 0 117px,#ff6800 0 119px,#ff7800 0 121px,#ff8700 0 124px,#ff9700 0 127px,#ffa700 0 130px,#ffb700 0 133px,#ffc700 0 136px,#ffd700 0 139px,#ffe700 0 143px,#fff700 0 147px,#f7ff08 0 173px,#e7ff18 0)"></i><i style="background:linear-gradient(#870000 0 62px,#970000 0 67px,#a70000 0 73px,#b70000 0 78px,#c70000 0 83px,#d70000 0 89px,#e70000 0 94px,#f70000 0 99px,#ff0800 0 102px,#ff1800 0 104px,#ff2800 0 106px,#ff3800 0 108px,#ff4800 0 110px,#ff5800 0 112px,#ff6800 0 114px,#ff7800 0 116px,#ff8700 0 119px,#ff9700 0 122px,#ffa700 0 125px,#ffb700 0 129px,#ffc700 0 132px,#ffd700 0 135px,#ffe700 0 139px,#fff700 0 143px,#f7ff08 0 171px,#e7ff18 0)"></i><i style="background:linear-gradient(#870000 0 63px,#970000 0 68px,#a70000 0 74px,#b70000 0 79px,#c70000 0 85px,#d70000 0 90px,#e70000 0 96px,#f70000 0 101px,#ff0800 0 103px,#ff1800 0 106px,#ff2800 0 108px,#ff3800 0 110px,#ff4800 0 112px,#ff5800 0 114px,#ff6800 0 117px,#ff7800 0 119px,#ff8700 0 122px,#ff9700 0 125px,#ffa700 0 128px,#ffb700 0 132px,#ffc700 0 135px,#ffd700 0 139px,#ffe700 0 142px,#fff700 0 146px,#f7ff08 0 177px,#e7ff18 0)"></i><i style="background:linear-gradient(#870000 0 68px,#970000 0 73px,#a70000 0 79px,#b70000 0 84px,#c70000 0 90px,#d70000 0 96px,#e70000 0 101px,#f70000 0 107px,#ff0800 0 109px,#ff1800 0 112px,#ff2800 0 114px,#ff3800 0 116px,#ff4800 0 118px,#ff5800 0 121px,#ff6800 0 123px,#ff7800 0 125px,#ff8700 0 129px,#ff9700 0 132px,#ffa700 0 135px,#ffb700 0 138px,#ffc700 0 142px,#ffd700 0 146px,#ffe700 0 149px,#fff700 0 153px,#f7ff08 0)"></i><i style="background:linear-gradient(#870000 0 71px,#970000 0 77px,#a70000 0 83px,#b70000 0 88px,#c70000 0 94px,#d70000 0 100px,#e70000 0 106px,#f70000 0 111px,#ff0800 0 114px,#ff1800 0 116px,#ff2800 0 119px,#ff3800 0 121px,#ff4800 0 123px,#ff5800 0 126px,#ff6800 0 128px,#ff7800 0 131px,#ff8700 0 134px,#ff9700 0 137px,#ffa700 0 141px,#ffb700 0 144px,#ffc700 0 148px,#ffd700 0 151px,#ffe700 0 155px,#fff700 0 159px,#f7ff08 0)"></i><i style="background:linear-gradient(#870000 0 69px,#970000 0 75px,#a70000 0 81px,#b70000 0 87px,#c70000 0 93px,#d70000 0 99px,#e70000 0 105px,#f70000 0 110px,#ff0800 0 113px,#ff1800 0 116px,#ff2800 0 118px,#ff3800 0 121px,#ff4800 0 123px,#ff5800 0 126px,#ff6800 0 128px,#ff7800 0 131px,#ff8700 0 134px,#ff9700 0 138px,#ffa700 0 141px,#ffb700 0 144px,#ffc700 0 148px,#ffd700 0 152px,#ffe700 0 156px,#fff700 0 160px,#f7ff08 0)"></i><i style="background:linear-gradient(#870000 0 66px,#970000 0 72px,#a70000 0 78px,#b70000 0 84px,#c70000 0 90px,#d70000 0 96px,#e70000 0 102px,#f70000 0 108px,#ff0800 0 111px,#ff1800 0 114px,#ff2800 0 116px,#ff3800 0 119px,#ff4800 0 122px,#ff5800 0 124px,#ff6800 0 127px,#ff7800 0 130px,#ff8700 0 133px,#ff9700 0 136px,#ffa700 0 140px,#ffb700 0 143px,#ffc700 0 147px,#ffd700 0 151px,#ffe700 0 155px,#fff700 0 159px,#f7ff08 0)"></i><i style="background:linear-gradient(#870000 0 65px,#970000 0 72px,#a70000 0 78px,#b70000 0 84px,#c70000 0 90px,#d70000 0 96px,#e70000 0 102px,#f70000 0 108px,#ff0800 0 111px,#ff1800 0 113px,#ff2800 0 116px,#ff3800 0 119px,#ff4800 0 122px,#ff5800 0 124px,#ff6800 0 127px,#ff7800 0 130px,#ff8700 0 133px,#ff9700 0 137px,#ffa700 0 140px,#ffb700 0 144px,#ffc700 0 148px,#ffd700 0 152px,#ffe700 0 156px,#fff700 0 160px,#f7ff08 0)"></i><i style="background:linear-gradient(#870000 0 69px,#970000 0 75px,#a70000 0 81px,#b70000 0 87px,#c70000 0 92px,#d70000 0 98px,#e70000 0 104px,#f70000 0 110px,#ff0800 0 112px,#ff1800 0 115px,#ff2800 0 117px,#ff3800 0 120px,#ff4800 0 123px,#ff5800 0 125px,#ff6800 0 128px,#ff7800 0 131px,#ff8700 0 134px,#ff9700 0 138px,#ffa700 0 141px,#ffb700 0 145px,#ffc700 0 149px,#ffd700 0 153px,#ffe700 0 157px,#fff700 0 161px,#f7ff08 0)"></i><i style="background:linear-gradient(#870000 0 71px,#970000 0 76px,#a70000 0 82px,#b70000 0 87px,#c70000 0 93px,#d70000 0 98px,#e70000 0 104px,#f70000 0 109px,#ff0800 0 112px,#ff1800 0 114px,#ff2800 0 117px,#ff3800 0 119px,#ff4800 0 122px,#ff5800 0 124px,#ff6800 0 127px,#ff7800 0 129px,#ff8700 0 133px,#ff9700 0 136px,#ffa700 0 140px,#ffb700 0 143px,#ffc700 0 147px,#ffd700 0 151px,#ffe700 0 155px,#fff700 0 159px,#f7ff08 0)"></i><i style="background:linear-gradient(#870000 0 65px,#970000 0 70px,#a70000 0 75px,#b70000 0 80px,#c70000 0 85px,#d70000 0 90px,#e70000 0 95px,#f70000 0 100px,#ff0800 0 103px,#ff1800 0 105px,#ff2800 0 108px,#ff3800 0 110px,#ff4800 0 112px,#ff5800 0 115px,#ff6800 0 117px,#ff7800 0 120px,#ff8700 0 123px,#ff9700 0 127px,#ffa700 0 130px,#ffb700 0 134px,#ffc700 0 138px,#ffd700 0 142px,#ffe700 0 146px,#fff700 0 150px,#f7ff08 0 177px,#e7ff18 0)"></i><i style="background:linear-gradient(#870000 0 66px,#970000 0 70px,#a70000 0 75px,#b70000 0 80px,#c70000 0 85px,#d70000 0 90px,#e70000 0 94px,#f70000 0 99px,#ff0800 0 102px,#ff1800 0 104px,#ff2800 0 106px,#ff3800 0 108px,#ff4800 0 111px,#ff5800 0 113px,#ff6800 0 115px,#ff7800 0 118px,#ff8700 0 121px,#ff9700 0 124px,#ffa700 0 128px,#ffb700 0 132px,#ffc700 0 135px,#ffd700 0 139px,#ffe700 0 143px,#fff700 0 148px,#f7ff08 0 171px,#e7ff18 0)"></i><i style="background:linear-gradient(#870000 0 66px,#970000 0 70px,#a70000 0 73px,#b70000 0 77px,#c70000 0 80px,#d70000 0 84px,#e70000 0 87px,#f70000 0 89px,#ff0800 0 92px,#ff1800 0 94px,#ff2800 0 96px,#ff3800 0 98px,#ff4800 0 100px,#ff5800 0 102px,#ff6800 0 104px,#ff7800 0 105px,#ff8700 0 108px,#ff9700 0 111px,#ffa700 0 114px,#ffb700 0 117px,#ffc700 0 121px,#ffd700 0 125px,#ffe700 0 128px,#fff700 0 133px,#f7ff08 0 137px,#e7ff18 0 140px,#d7ff28 0 144px,#c7ff38 0 153px,#b7ff48 0 172px,#a7ff58 0)"></i><i style="background:linear-gradient(#870000 0 71px,#970000 0 73px,#a70000 0 76px,#b70000 0 79px,#c70000 0 81px,#d70000 0 84px,#e70000 0 87px,#f70000 0 88px,#ff0800 0 90px,#ff1800 0 92px,#ff2800 0 93px,#ff3800 0 95px,#ff4800 0 96px,#ff5800 0 98px,#ff6800 0 99px,#ff7800 0 100px,#ff8700 0 102px,#ff9700 0 103px,#ffa700 0 104px,#ffb700 0 106px,#ffc700 0 107px,#ffd700 0 108px,#ffe700 0 112px,#fff700 0 116px,#f7ff08 0 120px,#e7ff18 0 125px,#d7ff28 0 130px,#c7ff38 0 134px,#b7ff48 0 138px,#a7ff58 0 142px,#97ff68 0 145px,#87ff78 0 148px,#78ff87 0 157px,#68ff97 0 171px,#58ffa7 0)"></i><i style="background:linear-gradient(#870000 0 75px,#970000 0 77px,#a70000 0 80px,#b70000 0 82px,#c70000 0 84px,#d70000 0 86px,#e70000 0 89px,#f70000 0 91px,#ff0800 0 92px,#ff1800 0 93px,#ff2800 0 95px,#ff3800 0 96px,#ff4800 0 97px,#ff5800 0 98px,#ff6800 0 100px,#ff7800 0 101px,#ff8700 0 102px,#ff9700 0 103px,#ffa700 0 104px,#ffb700 0 105px,#ffc700 0 106px,#ffd700 0 107px,#ffe700 0 108px,#fff700 0 110px,#f7ff08 0 111px,#e7ff18 0 112px,#d7ff28 0 114px,#c7ff38 0 120px,#b7ff48 0 126px,#a7ff58 0 131px,#97ff68 0 136px,#87ff78 0 141px,#78ff87 0 144px,#68ff97 0 147px,#58ffa7 0 150px,#48ffb7 0 153px,#38ffc7 0 162px,#28ffd7 0 173px,#18ffe7 0)"></i><i style="background:linear-gradient(#870000 0 74px,#970000 0 76px,#a70000 0 79px,#b70000 0 81px,#c70000 0 83px,#d70000 0 85px,#e70000 0 87px,#f70000 0 89px,#ff0800 0 91px,#ff1800 0 93px,#ff2800 0 94px,#ff3800 0 95px,#ff4800 0 96px,#ff5800 0 98px,#ff6800 0 99px,#ff7800 0 100px,#ff8700 0 102px,#ff9700 0 103px,#ffa700 0 104px,#ffb700 0 105px,#ffc700 0 106px,#ffd700 0 107px,#ffe700 0 109px,#fff700 0 110px,#f7ff08 0 111px,#e7ff18 0 113px,#d7ff28 0 115px,#c7ff38 0 121px,#b7ff48 0 126px,#a7ff58 0 131px,#97ff68 0 134px,#87ff78 0 138px,#78ff87 0 141px,#68ff97 0 145px,#58ffa7 0 147px,#48ffb7 0 150px,#38ffc7 0 154px,#28ffd7 0 164px,#18ffe7 0 181px,#08fff7 0)"></i><i style="background:linear-gradient(#870000 0 73px,#970000 0 76px,#a70000 0 78px,#b70000 0 80px,#c70000 0 82px,#d70000 0 84px,#e70000 0 86px,#f70000 0 88px,#ff0800 0 90px,#ff1800 0 92px,#ff2800 0 94px,#ff3800 0 95px,#ff4800 0 96px,#ff5800 0 98px,#ff6800 0 99px,#ff7800 0 100px,#ff8700 0 102px,#ff9700 0 103px,#ffa700 0 105px,#ffb700 0 106px,#ffc700 0 107px,#ffd700 0 108px,#ffe700 0 110px,#fff700 0 111px,#f7ff08 0 112px,#e7ff18 0 114px,#d7ff28 0 117px,#c7ff38 0 122px,#b7ff48 0 127px,#a7ff58 0 131px,#97ff68 0 134px,#87ff78 0 137px,#78ff87 0 139px,#68ff97 0 143px,#58ffa7 0 146px,#48ffb7 0 148px,#38ffc7 0 151px,#28ffd7 0 155px,#18ffe7 0 167px,#08fff7 0)"></i><i style="background:linear-gradient(#870000 0 69px,#970000 0 73px,#a70000 0 75px,#b70000 0 77px,#c70000 0 79px,#d70000 0 81px,#e70000 0 82px,#f70000 0 84px,#ff0800 0 86px,#ff1800 0 88px,#ff2800 0 90px,#ff3800 0 91px,#ff4800 0 93px,#ff5800 0 94px,#ff6800 0 96px,#ff7800 0 97px,#ff8700 0 98px,#ff9700 0 100px,#ffa700 0 102px,#ffb700 0 103px,#ffc700 0 104px,#ffd700 0 106px,#ffe700 0 107px,#fff700 0 109px,#f7ff08 0 110px,#e7ff18 0 112px,#d7ff28 0 116px,#c7ff38 0 120px,#b7ff48 0 124px,#a7ff58 0 128px,#97ff68 0 131px,#87ff78 0 133px,#78ff87 0 135px,#68ff97 0 137px,#58ffa7 0 141px,#48ffb7 0 144px,#38ffc7 0 146px,#28ffd7 0 149px,#18ffe7 0 154px,#08fff7 0 168px,#00f7ff 0)"></i><i style="background:linear-gradient(#870000 0 63px,#970000 0 67px,#a70000 0 69px,#b70000 0 71px,#c70000 0 73px,#d70000 0 75px,#e70000 0 77px,#f70000 0 78px,#ff0800 0 80px,#ff1800 0 82px,#ff2800 0 84px,#ff3800 0 86px,#ff4800 0 87px,#ff5800 0 89px,#ff6800 0 90px,#ff7800 0 91px,#ff8700 0 93px,#ff9700 0 94px,#ffa700 0 96px,#ffb700 0 98px,#ffc700 0 99px,#ffd700 0 101px,#ffe700 0 103px,#fff700 0 104px,#f7ff08 0 106px,#e7ff18 0 108px,#d7ff28 0 112px,#c7ff38 0 116px,#b7ff48 0 120px,#a7ff58 0 123px,#97ff68 0 126px,#87ff78 0 128px,#78ff87 0 130px,#68ff97 0 132px,#58ffa7 0 133px,#48ffb7 0 137px,#38ffc7 0 139px,#28ffd7 0 142px,#18ffe7 0 144px,#08fff7 0 151px,#00f7ff 0 166px,#00e7ff 0)"></i><i style="background:linear-gradient(#870000 0 69px,#970000 0 72px,#a70000 0 75px,#b70000 0 77px,#c70000 0 78px,#d70000 0 80px,#e70000 0 82px,#f70000 0 83px,#ff0800 0 85px,#ff1800 0 87px,#ff2800 0 88px,#ff3800 0 90px,#ff4800 0 92px,#ff5800 0 93px,#ff6800 0 95px,#ff7800 0 96px,#ff8700 0 98px,#ff9700 0 99px,#ffa700 0 101px,#ffb700 0 103px,#ffc700 0 105px,#ffd700 0 107px,#ffe700 0 109px,#fff700 0 111px,#f7ff08 0 113px,#e7ff18 0 115px,#d7ff28 0 119px,#c7ff38 0 123px,#b7ff48 0 126px,#a7ff58 0 129px,#97ff68 0 131px,#87ff78 0 133px,#78ff87 0 135px,#68ff97 0 137px,#58ffa7 0 138px,#48ffb7 0 140px,#38ffc7 0 143px,#28ffd7 0 146px,#18ffe7 0 148px,#08fff7 0 151px,#00f7ff 0 159px,#00e7ff 0 182px,#00d7ff 0)"></i><i style="background:linear-gradient(#870000 0 68px,#970000 0 70px,#a70000 0 73px,#b70000 0 75px,#c70000 0 76px,#d70000 0 78px,#e70000 0 80px,#f70000 0 81px,#ff0800 0 83px,#ff1800 0 85px,#ff2800 0 86px,#ff3800 0 88px,#ff4800 0 89px,#ff5800 0 91px,#ff6800 0 93px,#ff7800 0 94px,#ff8700 0 96px,#ff9700 0 97px,#ffa700 0 99px,#ffb700 0 101px,#ffc700 0 103px,#ffd700 0 105px,#ffe700 0 108px,#fff700 0 110px,#f7ff08 0 112px,#e7ff18 0 115px,#d7ff28 0 119px,#c7ff38 0 122px,#b7ff48 0 125px,#a7ff58 0 128px,#97ff68 0 130px,#87ff78 0 132px,#78ff87 0 134px,#68ff97 0 135px,#58ffa7 0 137px,#48ffb7 0 138px,#38ffc7 0 140px,#28ffd7 0 142px,#18ffe7 0 145px,#08fff7 0 147px,#00f7ff 0 150px,#00e7ff 0 160px,#00d7ff 0)"></i><i style="background:linear-gradient(#870000 0 65px,#970000 0 67px,#a70000 0 69px,#b70000 0 71px,#c70000 0 73px,#d70000 0 75px,#e70000 0 76px,#f70000 0 78px,#ff0800 0 79px,#ff1800 0 81px,#ff2800 0 82px,#ff3800 0 84px,#ff4800 0 85px,#ff5800 0 87px,#ff6800 0 89px,#ff7800 0 90px,#ff8700 0 92px,#ff9700 0 94px,#ffa700 0 95px,#ffb700 0 97px,#ffc700 0 99px,#ffd700 0 102px,#ffe700 0 105px,#fff700 0 108px,#f7ff08 0 110px,#e7ff18 0 113px,#d7ff28 0 117px,#c7ff38 0 120px,#b7ff48 0 122px,#a7ff58 0 125px,#97ff68 0 127px,#87ff78 0 129px,#78ff87 0 131px,#68ff97 0 132px,#58ffa7 0 134px,#48ffb7 0 135px,#38ffc7 0 136px,#28ffd7 0 138px,#18ffe7 0 140px,#08fff7 0 143px,#00f7ff 0 145px,#00e7ff 0 147px,#00d7ff 0 161px,#00c7ff 0)"></i><i style="background:linear-gradient(#870000 0 58px,#970000 0 60px,#a70000 0 62px,#b70000 0 64px,#c70000 0 65px,#d70000 0 67px,#e70000 0 69px,#f70000 0 70px,#ff0800 0 72px,#ff1800 0 73px,#ff2800 0 75px,#ff3800 0 76px,#ff4800 0 77px,#ff5800 0 79px,#ff6800 0 80px,#ff7800 0 82px,#ff8700 0 84px,#ff9700 0 85px,#ffa700 0 87px,#ffb700 0 89px,#ffc700 0 91px,#ffd700 0 94px,#ffe700 0 97px,#fff700 0 101px,#f7ff08 0 104px,#e7ff18 0 107px,#d7ff28 0 111px,#c7ff38 0 113px,#b7ff48 0 116px,#a7ff58 0 118px,#97ff68 0 120px,#87ff78 0 122px,#78ff87 0 124px,#68ff97 0 125px,#58ffa7 0 126px,#48ffb7 0 127px,#38ffc7 0 128px,#28ffd7 0 129px,#18ffe7 0 131px,#08fff7 0 134px,#00f7ff 0 136px,#00e7ff 0 138px,#00d7ff 0 141px,#00c7ff 0 159px,#00b7ff 0)"></i><i style="background:linear-gradient(#870000 0 54px,#970000 0 56px,#a70000 0 57px,#b70000 0 59px,#c70000 0 61px,#d70000 0 62px,#e70000 0 64px,#f70000 0 66px,#ff0800 0 67px,#ff1800 0 68px,#ff2800 0 70px,#ff3800 0 71px,#ff4800 0 72px,#ff5800 0 74px,#ff6800 0 75px,#ff7800 0 77px,#ff8700 0 78px,#ff9700 0 80px,#ffa700 0 82px,#ffb700 0 84px,#ffc700 0 85px,#ffd700 0 88px,#ffe700 0 92px,#fff700 0 96px,#f7ff08 0 100px,#e7ff18 0 103px,#d7ff28 0 107px,#c7ff38 0 109px,#b7ff48 0 111px,#a7ff58 0 114px,#97ff68 0 116px,#87ff78 0 117px,#78ff87 0 119px,#68ff97 0 121px,#58ffa7 0 122px,#48ffb7 0 123px,#38ffc7 0 124px,#18ffe7 0 126px,#08fff7 0 128px,#00f7ff 0 130px,#00e7ff 0 132px,#00d7ff 0 135px,#00c7ff 0 137px,#00b7ff 0)"></i><i style="background:linear-gradient(#870000 0 51px,#970000 0 52px,#a70000 0 54px,#b70000 0 55px,#c70000 0 57px,#d70000 0 59px,#e70000 0 60px,#f70000 0 62px,#ff0800 0 63px,#ff1800 0 65px,#ff2800 0 66px,#ff3800 0 67px,#ff4800 0 69px,#ff5800 0 70px,#ff6800 0 71px,#ff7800 0 73px,#ff8700 0 75px,#ff9700 0 76px,#ffa700 0 78px,#ffb700 0 80px,#ffc700 0 81px,#ffd700 0 84px,#ffe700 0 88px,#fff700 0 93px,#f7ff08 0 96px,#e7ff18 0 99px,#d7ff28 0 103px,#c7ff38 0 105px,#b7ff48 0 107px,#a7ff58 0 109px,#97ff68 0 111px,#87ff78 0 113px,#78ff87 0 115px,#68ff97 0 116px,#58ffa7 0 117px,#48ffb7 0 118px,#38ffc7 0 119px,#28ffd7 0 120px,#18ffe7 0 121px,#08fff7 0 123px,#00f7ff 0 125px,#00e7ff 0 128px,#00d7ff 0 130px,#00c7ff 0 132px,#00b7ff 0)"></i><i style="background:linear-gradient(#870000 0 55px,#970000 0 57px,#a70000 0 59px,#b70000 0 60px,#c70000 0 62px,#d70000 0 64px,#e70000 0 65px,#f70000 0 67px,#ff0800 0 68px,#ff1800 0 70px,#ff2800 0 71px,#ff3800 0 72px,#ff4800 0 74px,#ff5800 0 75px,#ff6800 0 76px,#ff7800 0 78px,#ff8700 0 79px,#ff9700 0 81px,#ffa700 0 83px,#ffb700 0 85px,#ffc700 0 86px,#ffd700 0 89px,#ffe700 0 93px,#fff700 0 97px,#f7ff08 0 101px,#e7ff18 0 104px,#d7ff28 0 107px,#c7ff38 0 109px,#b7ff48 0 111px,#a7ff58 0 114px,#97ff68 0 116px,#87ff78 0 117px,#78ff87 0 119px,#68ff97 0 120px,#58ffa7 0 121px,#48ffb7 0 122px,#38ffc7 0 123px,#28ffd7 0 124px,#18ffe7 0 125px,#08fff7 0 127px,#00f7ff 0 129px,#00e7ff 0 132px,#00d7ff 0 134px,#00c7ff 0 136px,#00b7ff 0)"></i><i style="background:linear-gradient(#870000 0 63px,#970000 0 65px,#a70000 0 67px,#b70000 0 68px,#c70000 0 70px,#d70000 0 72px,#e70000 0 73px,#f70000 0 75px,#ff0800 0 76px,#ff1800 0 77px,#ff2800 0 79px,#ff3800 0 80px,#ff4800 0 81px,#ff5800 0 83px,#ff6800 0 84px,#ff7800 0 85px,#ff8700 0 87px,#ff9700 0 89px,#ffa700 0 91px,#ffb700 0 92px,#ffc700 0 94px,#ffd700 0 96px,#ffe700 0 101px,#fff700 0 105px,#f7ff08 0 108px,#e7ff18 0 111px,#d7ff28 0 114px,#c7ff38 0 116px,#b7ff48 0 119px,#a7ff58 0 121px,#97ff68 0 123px,#87ff78 0 124px,#78ff87 0 126px,#68ff97 0 127px,#58ffa7 0 129px,#38ffc7 0 130px,#28ffd7 0 131px,#18ffe7 0 132px,#08fff7 0 134px,#00f7ff 0 136px,#00e7ff 0 138px,#00d7ff 0 140px,#00c7ff 0 143px,#00b7ff 0)"></i><i style="background:linear-gradient(#870000 0 61px,#970000 0 63px,#a70000 0 65px,#b70000 0 66px,#c70000 0 68px,#d70000 0 70px,#e70000 0 71px,#f70000 0 73px,#ff0800 0 74px,#ff1800 0 75px,#ff2800 0 77px,#ff3800 0 78px,#ff4800 0 79px,#ff5800 0 81px,#ff6800 0 82px,#ff7800 0 83px,#ff8700 0 85px,#ff9700 0 87px,#ffa700 0 88px,#ffb700 0 90px,#ffc700 0 92px,#ffd700 0 94px,#ffe700 0 98px,#fff700 0 103px,#f7ff08 0 106px,#e7ff18 0 109px,#d7ff28 0 112px,#c7ff38 0 114px,#b7ff48 0 116px,#a7ff58 0 118px,#97ff68 0 120px,#87ff78 0 121px,#78ff87 0 123px,#68ff97 0 124px,#58ffa7 0 126px,#48ffb7 0 127px,#38ffc7 0 128px,#18ffe7 0 129px,#08fff7 0 131px,#00f7ff 0 133px,#00e7ff 0 135px,#00d7ff 0 137px,#00c7ff 0 139px,#00b7ff 0)"></i><i style="background:linear-gradient(#870000 0 62px,#970000 0 64px,#a70000 0 66px,#b70000 0 67px,#c70000 0 69px,#d70000 0 71px,#e70000 0 72px,#f70000 0 74px,#ff0800 0 75px,#ff1800 0 76px,#ff2800 0 78px,#ff3800 0 79px,#ff4800 0 80px,#ff5800 0 81px,#ff6800 0 83px,#ff7800 0 84px,#ff8700 0 86px,#ff9700 0 88px,#ffa700 0 89px,#ffb700 0 91px,#ffc700 0 93px,#ffd700 0 95px,#ffe700 0 99px,#fff700 0 103px,#f7ff08 0 106px,#e7ff18 0 109px,#d7ff28 0 112px,#c7ff38 0 114px,#b7ff48 0 116px,#a7ff58 0 118px,#97ff68 0 120px,#87ff78 0 122px,#78ff87 0 123px,#68ff97 0 125px,#58ffa7 0 126px,#48ffb7 0 127px,#38ffc7 0 128px,#28ffd7 0 129px,#18ffe7 0 130px,#08fff7 0 131px,#00f7ff 0 133px,#00e7ff 0 135px,#00d7ff 0 137px,#00c7ff 0 139px,#00b7ff 0)"></i><i style="background:linear-gradient(#870000 0 61px,#970000 0 63px,#a70000 0 64px,#b70000 0 66px,#c70000 0 68px,#d70000 0 69px,#e70000 0 71px,#f70000 0 72px,#ff0800 0 74px,#ff1800 0 75px,#ff2800 0 76px,#ff3800 0 78px,#ff4800 0 79px,#ff5800 0 80px,#ff6800 0 81px,#ff7800 0 83px,#ff8700 0 84px,#ff9700 0 86px,#ffa700 0 88px,#ffb700 0 90px,#ffc700 0 91px,#ffd700 0 94px,#ffe700 0 98px,#fff700 0 102px,#f7ff08 0 105px,#e7ff18 0 108px,#d7ff28 0 110px,#c7ff38 0 112px,#b7ff48 0 114px,#a7ff58 0 116px,#97ff68 0 118px,#87ff78 0 119px,#78ff87 0 121px,#68ff97 0 123px,#58ffa7 0 124px,#48ffb7 0 125px,#38ffc7 0 126px,#28ffd7 0 127px,#18ffe7 0 128px,#08fff7 0 129px,#00f7ff 0 131px,#00e7ff 0 133px,#00d7ff 0 135px,#00c7ff 0 137px,#00b7ff 0)"></i><i style="background:linear-gradient(#870000 0 62px,#970000 0 63px,#a70000 0 65px,#b70000 0 67px,#c70000 0 68px,#d70000 0 70px,#e70000 0 72px,#f70000 0 73px,#ff0800 0 74px,#ff1800 0 76px,#ff2800 0 77px,#ff3800 0 78px,#ff4800 0 79px,#ff5800 0 81px,#ff6800 0 82px,#ff7800 0 83px,#ff8700 0 85px,#ff9700 0 87px,#ffa700 0 88px,#ffb700 0 90px,#ffc700 0 92px,#ffd700 0 94px,#ffe700 0 98px,#fff700 0 102px,#f7ff08 0 105px,#e7ff18 0 108px,#d7ff28 0 111px,#c7ff38 0 112px,#b7ff48 0 114px,#a7ff58 0 116px,#97ff68 0 118px,#87ff78 0 119px,#78ff87 0 121px,#68ff97 0 123px,#58ffa7 0 124px,#48ffb7 0 125px,#38ffc7 0 126px,#18ffe7 0 127px,#08fff7 0 129px,#00f7ff 0 131px,#00e7ff 0 133px,#00d7ff 0 134px,#00c7ff 0 136px,#00b7ff 0)"></i><i style="background:linear-gradient(#870000 0 58px,#970000 0 59px,#a70000 0 61px,#b70000 0 63px,#c70000 0 64px,#d70000 0 66px,#e70000 0 68px,#f70000 0 69px,#ff0800 0 71px,#ff1800 0 72px,#ff2800 0 73px,#ff3800 0 74px,#ff4800 0 76px,#ff5800 0 77px,#ff6800 0 78px,#ff7800 0 80px,#ff8700 0 81px,#ff9700 0 83px,#ffa700 0 85px,#ffb700 0 87px,#ffc700 0 88px,#ffd700 0 91px,#ffe700 0 95px,#fff700 0 99px,#f7ff08 0 101px,#e7ff18 0 104px,#d7ff28 0 107px,#c7ff38 0 108px,#b7ff48 0 110px,#a7ff58 0 112px,#97ff68 0 114px,#87ff78 0 115px,#78ff87 0 116px,#68ff97 0 118px,#58ffa7 0 119px,#48ffb7 0 120px,#38ffc7 0 121px,#28ffd7 0 122px,#18ffe7 0 123px,#08fff7 0 124px,#00f7ff 0 126px,#00e7ff 0 128px,#00d7ff 0 130px,#00c7ff 0 132px,#00b7ff 0)"></i><i style="background:linear-gradient(#870000 0 62px,#970000 0 64px,#a70000 0 66px,#b70000 0 67px,#c70000 0 69px,#d70000 0 71px,#e70000 0 72px,#f70000 0 74px,#ff0800 0 75px,#ff1800 0 77px,#ff2800 0 78px,#ff3800 0 79px,#ff4800 0 81px,#ff5800 0 82px,#ff6800 0 83px,#ff7800 0 85px,#ff8700 0 86px,#ff9700 0 88px,#ffa700 0 90px,#ffb700 0 92px,#ffc700 0 94px,#ffd700 0 97px,#ffe700 0 101px,#fff700 0 104px,#f7ff08 0 107px,#e7ff18 0 110px,#d7ff28 0 111px,#c7ff38 0 113px,#b7ff48 0 115px,#a7ff58 0 116px,#97ff68 0 118px,#87ff78 0 119px,#78ff87 0 121px,#68ff97 0 122px,#58ffa7 0 123px,#48ffb7 0 124px,#38ffc7 0 125px,#28ffd7 0 126px,#18ffe7 0 127px,#08fff7 0 128px,#00f7ff 0 130px,#00e7ff 0 132px,#00d7ff 0 134px,#00c7ff 0 136px,#00b7ff 0)"></i><i style="background:linear-gradient(#870000 0 64px,#970000 0 65px,#a70000 0 67px,#b70000 0 69px,#c70000 0 70px,#d70000 0 72px,#e70000 0 74px,#f70000 0 75px,#ff0800 0 77px,#ff1800 0 78px,#ff2800 0 79px,#ff3800 0 81px,#ff4800 0 82px,#ff5800 0 83px,#ff6800 0 85px,#ff7800 0 86px,#ff8700 0 88px,#ff9700 0 90px,#ffa700 0 92px,#ffb700 0 94px,#ffc700 0 96px,#ffd700 0 100px,#ffe700 0 103px,#fff700 0 106px,#f7ff08 0 109px,#e7ff18 0 111px,#d7ff28 0 113px,#c7ff38 0 115px,#b7ff48 0 116px,#a7ff58 0 118px,#97ff68 0 119px,#87ff78 0 121px,#78ff87 0 122px,#68ff97 0 123px,#58ffa7 0 124px,#48ffb7 0 125px,#38ffc7 0 126px,#28ffd7 0 127px,#18ffe7 0 128px,#08fff7 0 129px,#00f7ff 0 130px,#00e7ff 0 132px,#00d7ff 0 135px,#00c7ff 0 137px,#00b7ff 0 174px,#00a7ff 0)"></i><i style="background:linear-gradient(#870000 0 68px,#970000 0 69px,#a70000 0 71px,#b70000 0 73px,#c70000 0 75px,#d70000 0 76px,#e70000 0 78px,#f70000 0 80px,#ff0800 0 81px,#ff1800 0 82px,#ff2800 0 84px,#ff3800 0 85px,#ff4800 0 87px,#ff5800 0 88px,#ff6800 0 89px,#ff7800 0 91px,#ff8700 0 93px,#ff9700 0 95px,#ffa700 0 97px,#ffb700 0 99px,#ffc700 0 102px,#ffd700 0 105px,#ffe700 0 108px,#fff700 0 111px,#f7ff08 0 114px,#e7ff18 0 116px,#d7ff28 0 117px,#c7ff38 0 119px,#b7ff48 0 120px,#a7ff58 0 122px,#97ff68 0 123px,#87ff78 0 125px,#78ff87 0 126px,#68ff97 0 127px,#58ffa7 0 128px,#48ffb7 0 129px,#38ffc7 0 130px,#28ffd7 0 131px,#18ffe7 0 132px,#08fff7 0 133px,#00f7ff 0 134px,#00e7ff 0 135px,#00d7ff 0 138px,#00c7ff 0 141px,#00b7ff 0 169px,#00a7ff 0)"></i><i style="background:linear-gradient(#870000 0 66px,#970000 0 68px,#a70000 0 70px,#b70000 0 71px,#c70000 0 73px,#d70000 0 75px,#e70000 0 77px,#f70000 0 78px,#ff0800 0 80px,#ff1800 0 81px,#ff2800 0 83px,#ff3800 0 84px,#ff4800 0 85px,#ff5800 0 87px,#ff6800 0 88px,#ff7800 0 90px,#ff8700 0 91px,#ff9700 0 94px,#ffa700 0 96px,#ffb700 0 98px,#ffc700 0 101px,#ffd700 0 104px,#ffe700 0 108px,#fff700 0 110px,#f7ff08 0 113px,#e7ff18 0 115px,#d7ff28 0 116px,#c7ff38 0 117px,#b7ff48 0 119px,#a7ff58 0 120px,#97ff68 0 122px,#87ff78 0 123px,#78ff87 0 124px,#68ff97 0 125px,#58ffa7 0 126px,#48ffb7 0 127px,#38ffc7 0 128px,#28ffd7 0 129px,#18ffe7 0 130px,#08fff7 0 131px,#00f7ff 0 132px,#00e7ff 0 133px,#00d7ff 0 136px,#00c7ff 0 139px,#00b7ff 0 161px,#00a7ff 0)"></i><i style="background:linear-gradient(#870000 0 66px,#970000 0 67px,#a70000 0 69px,#b70000 0 71px,#c70000 0 73px,#d70000 0 75px,#e70000 0 76px,#f70000 0 78px,#ff0800 0 79px,#ff1800 0 81px,#ff2800 0 82px,#ff3800 0 84px,#ff4800 0 85px,#ff5800 0 87px,#ff6800 0 88px,#ff7800 0 90px,#ff8700 0 92px,#ff9700 0 94px,#ffa700 0 96px,#ffb700 0 99px,#ffc700 0 102px,#ffd700 0 105px,#ffe700 0 108px,#fff700 0 111px,#f7ff08 0 113px,#e7ff18 0 114px,#d7ff28 0 116px,#c7ff38 0 117px,#b7ff48 0 118px,#a7ff58 0 120px,#97ff68 0 121px,#87ff78 0 122px,#78ff87 0 123px,#68ff97 0 124px,#58ffa7 0 125px,#48ffb7 0 126px,#38ffc7 0 127px,#28ffd7 0 128px,#18ffe7 0 129px,#08fff7 0 130px,#00f7ff 0 131px,#00e7ff 0 132px,#00d7ff 0 134px,#00c7ff 0 138px,#00b7ff 0 157px,#00a7ff 0)"></i><i style="background:linear-gradient(#870000 0 63px,#970000 0 65px,#a70000 0 67px,#b70000 0 69px,#c70000 0 71px,#d70000 0 72px,#e70000 0 74px,#f70000 0 76px,#ff0800 0 77px,#ff1800 0 79px,#ff2800 0 80px,#ff3800 0 82px,#ff4800 0 83px,#ff5800 0 85px,#ff6800 0 86px,#ff7800 0 88px,#ff8700 0 90px,#ff9700 0 92px,#ffa700 0 95px,#ffb700 0 98px,#ffc700 0 101px,#ffd700 0 103px,#ffe700 0 106px,#fff700 0 109px,#f7ff08 0 111px,#e7ff18 0 112px,#d7ff28 0 114px,#c7ff38 0 115px,#b7ff48 0 116px,#a7ff58 0 118px,#97ff68 0 119px,#87ff78 0 120px,#78ff87 0 121px,#68ff97 0 122px,#58ffa7 0 123px,#48ffb7 0 124px,#28ffd7 0 125px,#18ffe7 0 126px,#08fff7 0 127px,#00f7ff 0 128px,#00e7ff 0 129px,#00d7ff 0 131px,#00c7ff 0 135px,#00b7ff 0 153px,#00a7ff 0)"></i><i style="background:linear-gradient(#870000 0 62px,#970000 0 64px,#a70000 0 66px,#b70000 0 68px,#c70000 0 70px,#d70000 0 71px,#e70000 0 73px,#f70000 0 75px,#ff0800 0 76px,#ff1800 0 78px,#ff2800 0 79px,#ff3800 0 81px,#ff4800 0 82px,#ff5800 0 84px,#ff6800 0 85px,#ff7800 0 87px,#ff8700 0 90px,#ff9700 0 92px,#ffa700 0 95px,#ffb700 0 98px,#ffc700 0 100px,#ffd700 0 103px,#ffe700 0 106px,#fff700 0 109px,#f7ff08 0 110px,#e7ff18 0 111px,#d7ff28 0 113px,#c7ff38 0 114px,#b7ff48 0 115px,#a7ff58 0 116px,#97ff68 0 118px,#87ff78 0 119px,#78ff87 0 120px,#68ff97 0 121px,#48ffb7 0 122px,#38ffc7 0 123px,#28ffd7 0 124px,#18ffe7 0 125px,#08fff7 0 126px,#00f7ff 0 127px,#00e7ff 0 128px,#00d7ff 0 129px,#00c7ff 0 130px,#00b7ff 0 150px,#00a7ff 0)"></i><i style="background:linear-gradient(#870000 0 60px,#970000 0 62px,#a70000 0 64px,#b70000 0 66px,#c70000 0 68px,#d70000 0 70px,#e70000 0 71px,#f70000 0 73px,#ff0800 0 75px,#ff1800 0 76px,#ff2800 0 78px,#ff3800 0 79px,#ff4800 0 81px,#ff5800 0 82px,#ff6800 0 84px,#ff7800 0 86px,#ff8700 0 88px,#ff9700 0 91px,#ffa700 0 93px,#ffb700 0 96px,#ffc700 0 99px,#ffd700 0 102px,#ffe700 0 104px,#fff700 0 107px,#f7ff08 0 108px,#e7ff18 0 110px,#d7ff28 0 111px,#c7ff38 0 112px,#b7ff48 0 113px,#a7ff58 0 114px,#97ff68 0 115px,#87ff78 0 116px,#78ff87 0 117px,#68ff97 0 118px,#58ffa7 0 119px,#48ffb7 0 120px,#38ffc7 0 121px,#18ffe7 0 122px,#08fff7 0 123px,#00f7ff 0 124px,#00e7ff 0 125px,#00d7ff 0 126px,#00c7ff 0 127px,#00b7ff 0 135px,#00a7ff 0 156px,#0097ff 0)"></i><i style="background:linear-gradient(#870000 0 58px,#970000 0 60px,#a70000 0 62px,#b70000 0 64px,#c70000 0 66px,#d70000 0 67px,#e70000 0 69px,#f70000 0 71px,#ff0800 0 73px,#ff1800 0 74px,#ff2800 0 76px,#ff3800 0 77px,#ff4800 0 79px,#ff5800 0 81px,#ff6800 0 82px,#ff7800 0 84px,#ff8700 0 86px,#ff9700 0 89px,#ffa700 0 92px,#ffb700 0 94px,#ffc700 0 97px,#ffd700 0 100px,#ffe700 0 102px,#fff700 0 105px,#f7ff08 0 106px,#e7ff18 0 107px,#d7ff28 0 108px,#c7ff38 0 110px,#b7ff48 0 111px,#a7ff58 0 112px,#97ff68 0 113px,#87ff78 0 114px,#78ff87 0 115px,#58ffa7 0 116px,#48ffb7 0 117px,#38ffc7 0 118px,#18ffe7 0 119px,#08fff7 0 120px,#00f7ff 0 121px,#00e7ff 0 122px,#00d7ff 0 123px,#00c7ff 0 125px,#00b7ff 0 126px,#00a7ff 0 136px,#0097ff 0)"></i><i style="background:linear-gradient(#870000 0 62px,#970000 0 63px,#a70000 0 65px,#b70000 0 67px,#c70000 0 69px,#d70000 0 71px,#e70000 0 73px,#f70000 0 75px,#ff0800 0 77px,#ff1800 0 78px,#ff2800 0 80px,#ff3800 0 81px,#ff4800 0 83px,#ff5800 0 84px,#ff6800 0 86px,#ff7800 0 88px,#ff8700 0 90px,#ff9700 0 93px,#ffa700 0 96px,#ffb700 0 98px,#ffc700 0 101px,#ffd700 0 103px,#ffe700 0 106px,#fff700 0 108px,#f7ff08 0 110px,#e7ff18 0 111px,#d7ff28 0 112px,#c7ff38 0 113px,#b7ff48 0 114px,#a7ff58 0 115px,#97ff68 0 116px,#87ff78 0 117px,#78ff87 0 118px,#58ffa7 0 119px,#48ffb7 0 120px,#38ffc7 0 121px,#18ffe7 0 122px,#08fff7 0 123px,#00f7ff 0 124px,#00e7ff 0 125px,#00d7ff 0 126px,#00c7ff 0 127px,#00b7ff 0 129px,#00a7ff 0 132px,#0097ff 0 142px,#0087ff 0)"></i><i style="background:linear-gradient(#870000 0 70px,#970000 0 72px,#a70000 0 74px,#b70000 0 76px,#c70000 0 78px,#d70000 0 80px,#e70000 0 82px,#f70000 0 84px,#ff0800 0 86px,#ff1800 0 87px,#ff2800 0 89px,#ff3800 0 91px,#ff4800 0 92px,#ff5800 0 94px,#ff6800 0 96px,#ff7800 0 98px,#ff8700 0 100px,#ff9700 0 102px,#ffa700 0 105px,#ffb700 0 107px,#ffc700 0 110px,#ffd700 0 113px,#ffe700 0 115px,#fff700 0 118px,#f7ff08 0 119px,#e7ff18 0 120px,#d7ff28 0 121px,#c7ff38 0 122px,#b7ff48 0 123px,#a7ff58 0 124px,#87ff78 0 125px,#78ff87 0 126px,#68ff97 0 127px,#58ffa7 0 128px,#38ffc7 0 129px,#28ffd7 0 130px,#08fff7 0 131px,#00f7ff 0 132px,#00e7ff 0 133px,#00d7ff 0 134px,#00c7ff 0 135px,#00b7ff 0 137px,#00a7ff 0 138px,#0097ff 0 144px,#0087ff 0 153px,#0078ff 0)"></i><i style="background:linear-gradient(#870000 0 67px,#970000 0 69px,#a70000 0 71px,#b70000 0 73px,#c70000 0 75px,#d70000 0 77px,#e70000 0 79px,#f70000 0 81px,#ff0800 0 83px,#ff1800 0 84px,#ff2800 0 86px,#ff3800 0 88px,#ff4800 0 89px,#ff5800 0 91px,#ff6800 0 93px,#ff7800 0 95px,#ff8700 0 97px,#ff9700 0 99px,#ffa700 0 102px,#ffb700 0 104px,#ffc700 0 107px,#ffd700 0 109px,#ffe700 0 112px,#fff700 0 114px,#f7ff08 0 115px,#e7ff18 0 116px,#d7ff28 0 117px,#c7ff38 0 118px,#b7ff48 0 119px,#a7ff58 0 120px,#97ff68 0 121px,#78ff87 0 122px,#68ff97 0 123px,#58ffa7 0 124px,#38ffc7 0 125px,#28ffd7 0 126px,#08fff7 0 127px,#00f7ff 0 128px,#00d7ff 0 129px,#00c7ff 0 130px,#00b7ff 0 132px,#00a7ff 0 134px,#0097ff 0 137px,#0087ff 0 143px,#0078ff 0 151px,#0068ff 0)"></i><i style="background:linear-gradient(#870000 0 66px,#970000 0 68px,#a70000 0 70px,#b70000 0 72px,#c70000 0 74px,#d70000 0 76px,#e70000 0 78px,#f70000 0 80px,#ff0800 0 82px,#ff1800 0 84px,#ff2800 0 85px,#ff3800 0 87px,#ff4800 0 89px,#ff5800 0 90px,#ff6800 0 92px,#ff7800 0 94px,#ff8700 0 96px,#ff9700 0 99px,#ffa700 0 101px,#ffb700 0 104px,#ffc700 0 106px,#ffd700 0 109px,#ffe700 0 111px,#fff700 0 114px,#f7ff08 0 115px,#e7ff18 0 116px,#c7ff38 0 117px,#b7ff48 0 118px,#a7ff58 0 119px,#97ff68 0 120px,#78ff87 0 121px,#68ff97 0 122px,#48ffb7 0 123px,#28ffd7 0 124px,#18ffe7 0 125px,#08fff7 0 126px,#00e7ff 0 127px,#00d7ff 0 128px,#00b7ff 0 130px,#00a7ff 0 132px,#0097ff 0 134px,#0087ff 0 137px,#0078ff 0 144px,#0068ff 0)"></i><i style="background:linear-gradient(#870000 0 64px,#970000 0 66px,#a70000 0 68px,#b70000 0 70px,#c70000 0 72px,#d70000 0 74px,#e70000 0 76px,#f70000 0 78px,#ff0800 0 80px,#ff1800 0 82px,#ff2800 0 84px,#ff3800 0 85px,#ff4800 0 87px,#ff5800 0 89px,#ff6800 0 90px,#ff7800 0 92px,#ff8700 0 95px,#ff9700 0 97px,#ffa700 0 99px,#ffb700 0 102px,#ffc700 0 104px,#ffd700 0 107px,#ffe700 0 109px,#fff700 0 111px,#f7ff08 0 113px,#d7ff28 0 114px,#c7ff38 0 115px,#b7ff48 0 116px,#a7ff58 0 117px,#87ff78 0 118px,#68ff97 0 119px,#58ffa7 0 120px,#38ffc7 0 121px,#18ffe7 0 122px,#08fff7 0 123px,#00e7ff 0 124px,#00d7ff 0 125px,#00c7ff 0 126px,#00a7ff 0 128px,#0097ff 0 130px,#0087ff 0 133px,#0078ff 0 137px,#0068ff 0 143px,#0058ff 0)"></i><i style="background:linear-gradient(#870000 0 61px,#970000 0 63px,#a70000 0 65px,#b70000 0 68px,#c70000 0 70px,#d70000 0 72px,#e70000 0 74px,#f70000 0 76px,#ff0800 0 78px,#ff1800 0 80px,#ff2800 0 82px,#ff3800 0 83px,#ff4800 0 85px,#ff5800 0 87px,#ff6800 0 89px,#ff7800 0 90px,#ff8700 0 93px,#ff9700 0 95px,#ffa700 0 97px,#ffb700 0 100px,#ffc700 0 102px,#ffd700 0 104px,#ffe700 0 107px,#fff700 0 109px,#f7ff08 0 110px,#e7ff18 0 111px,#d7ff28 0 112px,#c7ff38 0 113px,#a7ff58 0 114px,#97ff68 0 115px,#78ff87 0 116px,#58ffa7 0 117px,#48ffb7 0 118px,#28ffd7 0 119px,#08fff7 0 120px,#00e7ff 0 121px,#00d7ff 0 122px,#00c7ff 0 123px,#00a7ff 0 124px,#0097ff 0 126px,#0087ff 0 129px,#0078ff 0 132px,#0068ff 0 136px,#0058ff 0 142px,#0048ff 0)"></i><i style="background:linear-gradient(#870000 0 55px,#970000 0 57px,#a70000 0 59px,#b70000 0 62px,#c70000 0 64px,#d70000 0 66px,#e70000 0 69px,#f70000 0 71px,#ff0800 0 73px,#ff1800 0 74px,#ff2800 0 76px,#ff3800 0 78px,#ff4800 0 80px,#ff5800 0 82px,#ff6800 0 84px,#ff7800 0 86px,#ff8700 0 88px,#ff9700 0 90px,#ffa700 0 92px,#ffb700 0 94px,#ffc700 0 96px,#ffd700 0 98px,#ffe700 0 100px,#fff700 0 102px,#f7ff08 0 103px,#e7ff18 0 104px,#d7ff28 0 105px,#c7ff38 0 106px,#b7ff48 0 107px,#97ff68 0 108px,#78ff87 0 109px,#68ff97 0 110px,#48ffb7 0 111px,#28ffd7 0 112px,#08fff7 0 113px,#00f7ff 0 114px,#00d7ff 0 115px,#00c7ff 0 116px,#00b7ff 0 117px,#00a7ff 0 118px,#0097ff 0 121px,#0087ff 0 124px,#0078ff 0 128px,#0068ff 0 134px,#0058ff 0)"></i><i style="background:linear-gradient(#870000 0 54px,#970000 0 56px,#a70000 0 59px,#b70000 0 61px,#c70000 0 63px,#d70000 0 66px,#e70000 0 68px,#f70000 0 70px,#ff0800 0 72px,#ff1800 0 74px,#ff2800 0 76px,#ff3800 0 78px,#ff4800 0 80px,#ff5800 0 82px,#ff6800 0 84px,#ff7800 0 87px,#ff8700 0 89px,#ff9700 0 90px,#ffa700 0 92px,#ffb700 0 94px,#ffc700 0 95px,#ffd700 0 97px,#ffe700 0 98px,#fff700 0 100px,#f7ff08 0 101px,#e7ff18 0 102px,#d7ff28 0 103px,#c7ff38 0 104px,#a7ff58 0 105px,#97ff68 0 106px,#78ff87 0 107px,#58ffa7 0 108px,#48ffb7 0 109px,#28ffd7 0 110px,#08fff7 0 111px,#00f7ff 0 112px,#00d7ff 0 113px,#00c7ff 0 115px,#00b7ff 0 116px,#00a7ff 0 118px,#0097ff 0 122px,#0087ff 0 127px,#0078ff 0 137px,#0068ff 0)"></i><i style="background:linear-gradient(#870000 0 57px,#970000 0 59px,#a70000 0 62px,#b70000 0 65px,#c70000 0 67px,#d70000 0 70px,#e70000 0 72px,#f70000 0 74px,#ff0800 0 77px,#ff1800 0 79px,#ff2800 0 81px,#ff3800 0 83px,#ff4800 0 85px,#ff5800 0 87px,#ff6800 0 90px,#ff7800 0 92px,#ff8700 0 93px,#ff9700 0 94px,#ffa700 0 96px,#ffb700 0 97px,#ffc700 0 98px,#ffd700 0 100px,#ffe700 0 101px,#fff700 0 102px,#f7ff08 0 104px,#e7ff18 0 105px,#c7ff38 0 106px,#b7ff48 0 107px,#97ff68 0 108px,#78ff87 0 109px,#68ff97 0 110px,#48ffb7 0 111px,#28ffd7 0 112px,#18ffe7 0 113px,#00f7ff 0 114px,#00e7ff 0 115px,#00d7ff 0 116px,#00c7ff 0 117px,#00b7ff 0 119px,#00a7ff 0 125px,#0097ff 0 133px,#0087ff 0)"></i><i style="background:linear-gradient(#870000 0 63px,#970000 0 66px,#a70000 0 68px,#b70000 0 71px,#c70000 0 74px,#d70000 0 77px,#e70000 0 79px,#f70000 0 82px,#ff0800 0 84px,#ff1800 0 86px,#ff2800 0 89px,#ff3800 0 91px,#ff4800 0 93px,#ff5800 0 95px,#ff6800 0 97px,#ff7800 0 99px,#ff8700 0 100px,#ff9700 0 101px,#ffa700 0 102px,#ffb700 0 103px,#ffc700 0 104px,#ffd700 0 106px,#ffe700 0 107px,#fff700 0 108px,#f7ff08 0 109px,#e7ff18 0 110px,#d7ff28 0 111px,#b7ff48 0 112px,#97ff68 0 113px,#87ff78 0 114px,#68ff97 0 115px,#48ffb7 0 116px,#28ffd7 0 117px,#18ffe7 0 118px,#00f7ff 0 119px,#00e7ff 0 120px,#00d7ff 0 121px,#00c7ff 0 123px,#00b7ff 0 129px,#00a7ff 0)"></i><i style="background:linear-gradient(#870000 0 65px,#970000 0 67px,#a70000 0 70px,#b70000 0 73px,#c70000 0 76px,#d70000 0 79px,#e70000 0 82px,#f70000 0 85px,#ff0800 0 87px,#ff1800 0 89px,#ff2800 0 92px,#ff3800 0 94px,#ff4800 0 96px,#ff5800 0 99px,#ff6800 0 100px,#ff7800 0 101px,#ff8700 0 102px,#ff9700 0 103px,#ffa700 0 104px,#ffb700 0 105px,#ffc700 0 106px,#ffd700 0 107px,#ffe700 0 108px,#fff700 0 109px,#f7ff08 0 110px,#e7ff18 0 111px,#d7ff28 0 112px,#c7ff38 0 113px,#a7ff58 0 114px,#87ff78 0 115px,#78ff87 0 116px,#58ffa7 0 117px,#28ffd7 0 118px,#18ffe7 0 119px,#08fff7 0 120px,#00e7ff 0 121px,#00d7ff 0 122px,#00c7ff 0 124px,#00b7ff 0)"></i><i style="background:linear-gradient(#870000 0 63px,#970000 0 66px,#a70000 0 69px,#b70000 0 72px,#c70000 0 74px,#d70000 0 77px,#e70000 0 80px,#f70000 0 83px,#ff0800 0 85px,#ff1800 0 88px,#ff2800 0 90px,#ff3800 0 92px,#ff4800 0 95px,#ff5800 0 97px,#ff6800 0 99px,#ff7800 0 100px,#ff8700 0 101px,#ff9700 0 102px,#ffa700 0 104px,#ffb700 0 105px,#ffc700 0 106px,#ffd700 0 107px,#ffe700 0 108px,#fff700 0 109px,#f7ff08 0 110px,#d7ff28 0 111px,#c7ff38 0 112px,#a7ff58 0 113px,#97ff68 0 114px,#78ff87 0 115px,#58ffa7 0 116px,#38ffc7 0 117px,#18ffe7 0 118px,#08fff7 0 119px,#00f7ff 0 120px,#00e7ff 0 121px,#00d7ff 0 122px,#00c7ff 0 137px,#00b7ff 0)"></i><i style="background:linear-gradient(#870000 0 61px,#970000 0 64px,#a70000 0 67px,#b70000 0 69px,#c70000 0 72px,#d70000 0 75px,#e70000 0 78px,#f70000 0 80px,#ff0800 0 83px,#ff1800 0 85px,#ff2800 0 88px,#ff3800 0 90px,#ff4800 0 92px,#ff5800 0 95px,#ff6800 0 97px,#ff7800 0 99px,#ff8700 0 100px,#ff9700 0 101px,#ffa700 0 102px,#ffb700 0 104px,#ffc700 0 105px,#ffd700 0 106px,#ffe700 0 107px,#fff700 0 108px,#e7ff18 0 109px,#d7ff28 0 110px,#b7ff48 0 111px,#a7ff58 0 112px,#87ff78 0 113px,#68ff97 0 114px,#58ffa7 0 115px,#38ffc7 0 116px,#18ffe7 0 117px,#08fff7 0 118px,#00f7ff 0 120px,#00e7ff 0 121px,#00d7ff 0 126px,#00c7ff 0)"></i><i style="background:linear-gradient(#870000 0 60px,#970000 0 63px,#a70000 0 66px,#b70000 0 68px,#c70000 0 71px,#d70000 0 74px,#e70000 0 76px,#f70000 0 79px,#ff0800 0 82px,#ff1800 0 84px,#ff2800 0 86px,#ff3800 0 89px,#ff4800 0 91px,#ff5800 0 94px,#ff6800 0 96px,#ff7800 0 98px,#ff8700 0 100px,#ff9700 0 101px,#ffa700 0 102px,#ffb700 0 103px,#ffc700 0 105px,#ffd700 0 106px,#ffe700 0 107px,#fff700 0 108px,#e7ff18 0 109px,#c7ff38 0 110px,#b7ff48 0 111px,#97ff68 0 112px,#87ff78 0 113px,#68ff97 0 114px,#48ffb7 0 115px,#38ffc7 0 116px,#18ffe7 0 117px,#08fff7 0 119px,#00f7ff 0 120px,#00e7ff 0 122px,#00d7ff 0)"></i><i style="background:linear-gradient(#870000 0 63px,#970000 0 66px,#a70000 0 69px,#b70000 0 71px,#c70000 0 74px,#d70000 0 76px,#e70000 0 79px,#f70000 0 81px,#ff0800 0 84px,#ff1800 0 87px,#ff2800 0 89px,#ff3800 0 91px,#ff4800 0 94px,#ff5800 0 96px,#ff6800 0 99px,#ff7800 0 101px,#ff8700 0 103px,#ff9700 0 104px,#ffa700 0 106px,#ffb700 0 107px,#ffc700 0 108px,#ffd700 0 109px,#ffe700 0 110px,#fff700 0 111px,#f7ff08 0 112px,#d7ff28 0 113px,#c7ff38 0 114px,#a7ff58 0 115px,#87ff78 0 116px,#78ff87 0 117px,#58ffa7 0 118px,#38ffc7 0 119px,#28ffd7 0 120px,#18ffe7 0 121px,#08fff7 0 123px,#00f7ff 0 124px,#00e7ff 0 132px,#00d7ff 0)"></i><i style="background:linear-gradient(#870000 0 57px,#970000 0 60px,#a70000 0 63px,#b70000 0 65px,#c70000 0 68px,#d70000 0 70px,#e70000 0 73px,#f70000 0 75px,#ff0800 0 78px,#ff1800 0 80px,#ff2800 0 83px,#ff3800 0 85px,#ff4800 0 87px,#ff5800 0 90px,#ff6800 0 92px,#ff7800 0 95px,#ff8700 0 97px,#ff9700 0 99px,#ffa700 0 101px,#ffb700 0 102px,#ffc700 0 103px,#ffd700 0 104px,#ffe700 0 105px,#fff700 0 106px,#f7ff08 0 107px,#d7ff28 0 108px,#b7ff48 0 109px,#97ff68 0 110px,#78ff87 0 111px,#68ff97 0 112px,#48ffb7 0 113px,#38ffc7 0 114px,#18ffe7 0 116px,#08fff7 0 118px,#00f7ff 0 121px,#00e7ff 0)"></i><i style="background:linear-gradient(#870000 0 56px,#970000 0 58px,#a70000 0 61px,#b70000 0 63px,#c70000 0 66px,#d70000 0 68px,#e70000 0 71px,#f70000 0 73px,#ff0800 0 76px,#ff1800 0 78px,#ff2800 0 80px,#ff3800 0 83px,#ff4800 0 85px,#ff5800 0 88px,#ff6800 0 90px,#ff7800 0 93px,#ff8700 0 95px,#ff9700 0 98px,#ffa700 0 100px,#ffb700 0 101px,#ffc700 0 102px,#ffd700 0 103px,#ffe700 0 104px,#fff700 0 105px,#f7ff08 0 106px,#d7ff28 0 107px,#b7ff48 0 108px,#97ff68 0 109px,#78ff87 0 110px,#68ff97 0 111px,#48ffb7 0 112px,#38ffc7 0 113px,#18ffe7 0 115px,#08fff7 0 118px,#00f7ff 0 128px,#00e7ff 0)"></i><i style="background:linear-gradient(#870000 0 54px,#970000 0 56px,#a70000 0 58px,#b70000 0 61px,#c70000 0 63px,#d70000 0 65px,#e70000 0 68px,#f70000 0 70px,#ff0800 0 73px,#ff1800 0 75px,#ff2800 0 77px,#ff3800 0 80px,#ff4800 0 82px,#ff5800 0 85px,#ff6800 0 87px,#ff7800 0 90px,#ff8700 0 92px,#ff9700 0 95px,#ffa700 0 97px,#ffb700 0 99px,#ffc700 0 100px,#ffd700 0 101px,#ffe700 0 102px,#fff700 0 104px,#d7ff28 0 105px,#b7ff48 0 106px,#97ff68 0 107px,#78ff87 0 108px,#58ffa7 0 109px,#48ffb7 0 110px,#38ffc7 0 111px,#18ffe7 0 112px,#08fff7 0 121px,#00f7ff 0)"></i><i style="background:linear-gradient(#870000 0 56px,#970000 0 58px,#a70000 0 61px,#b70000 0 63px,#c70000 0 65px,#d70000 0 68px,#e70000 0 70px,#f70000 0 72px,#ff0800 0 74px,#ff1800 0 77px,#ff2800 0 79px,#ff3800 0 81px,#ff4800 0 84px,#ff5800 0 86px,#ff6800 0 88px,#ff7800 0 91px,#ff8700 0 94px,#ff9700 0 96px,#ffa700 0 99px,#ffb700 0 101px,#ffc700 0 102px,#ffd700 0 103px,#ffe700 0 105px,#fff700 0 106px,#e7ff18 0 107px,#c7ff38 0 108px,#a7ff58 0 109px,#78ff87 0 110px,#68ff97 0 111px,#58ffa7 0 112px,#38ffc7 0 113px,#28ffd7 0 114px,#18ffe7 0 117px,#08fff7 0 127px,#00f7ff 0)"></i><i style="background:linear-gradient(#870000 0 54px,#970000 0 56px,#a70000 0 58px,#b70000 0 60px,#c70000 0 63px,#d70000 0 65px,#e70000 0 67px,#f70000 0 69px,#ff0800 0 72px,#ff1800 0 74px,#ff2800 0 76px,#ff3800 0 78px,#ff4800 0 80px,#ff5800 0 83px,#ff6800 0 85px,#ff7800 0 87px,#ff8700 0 90px,#ff9700 0 93px,#ffa700 0 95px,#ffb700 0 97px,#ffc700 0 99px,#ffd700 0 100px,#ffe700 0 102px,#fff700 0 103px,#f7ff08 0 104px,#d7ff28 0 105px,#b7ff48 0 106px,#87ff78 0 107px,#78ff87 0 108px,#58ffa7 0 109px,#48ffb7 0 110px,#38ffc7 0 111px,#28ffd7 0 112px,#18ffe7 0 117px,#08fff7 0)"></i><i style="background:linear-gradient(#870000 0 55px,#970000 0 58px,#a70000 0 60px,#b70000 0 62px,#c70000 0 64px,#d70000 0 66px,#e70000 0 69px,#f70000 0 71px,#ff0800 0 73px,#ff1800 0 75px,#ff2800 0 77px,#ff3800 0 79px,#ff4800 0 81px,#ff5800 0 83px,#ff6800 0 85px,#ff7800 0 88px,#ff8700 0 90px,#ff9700 0 93px,#ffa700 0 96px,#ffb700 0 98px,#ffc700 0 100px,#ffd700 0 101px,#ffe700 0 103px,#fff700 0 104px,#f7ff08 0 105px,#e7ff18 0 106px,#c7ff38 0 107px,#a7ff58 0 108px,#87ff78 0 109px,#68ff97 0 110px,#58ffa7 0 111px,#48ffb7 0 112px,#38ffc7 0 113px,#28ffd7 0 114px,#18ffe7 0 122px,#08fff7 0)"></i><i style="background:linear-gradient(#870000 0 54px,#970000 0 56px,#a70000 0 58px,#b70000 0 61px,#c70000 0 63px,#d70000 0 65px,#e70000 0 67px,#f70000 0 69px,#ff0800 0 71px,#ff1800 0 73px,#ff2800 0 75px,#ff3800 0 77px,#ff4800 0 79px,#ff5800 0 81px,#ff6800 0 83px,#ff7800 0 85px,#ff8700 0 88px,#ff9700 0 90px,#ffa700 0 93px,#ffb700 0 96px,#ffc700 0 98px,#ffd700 0 99px,#ffe700 0 101px,#fff700 0 103px,#f7ff08 0 104px,#d7ff28 0 105px,#b7ff48 0 106px,#97ff68 0 107px,#78ff87 0 108px,#68ff97 0 109px,#58ffa7 0 110px,#48ffb7 0 111px,#38ffc7 0 112px,#28ffd7 0 114px,#18ffe7 0 124px,#08fff7 0)"></i><i style="background:linear-gradient(#870000 0 61px,#970000 0 63px,#a70000 0 65px,#b70000 0 67px,#c70000 0 69px,#d70000 0 71px,#e70000 0 74px,#f70000 0 76px,#ff0800 0 78px,#ff1800 0 79px,#ff2800 0 81px,#ff3800 0 83px,#ff4800 0 85px,#ff5800 0 87px,#ff6800 0 89px,#ff7800 0 91px,#ff8700 0 94px,#ff9700 0 96px,#ffa700 0 99px,#ffb700 0 101px,#ffc700 0 103px,#ffd700 0 105px,#ffe700 0 107px,#fff700 0 109px,#f7ff08 0 110px,#e7ff18 0 111px,#c7ff38 0 112px,#a7ff58 0 113px,#87ff78 0 114px,#78ff87 0 115px,#68ff97 0 116px,#58ffa7 0 117px,#48ffb7 0 118px,#38ffc7 0 119px,#28ffd7 0 124px,#18ffe7 0)"></i><i style="background:linear-gradient(#870000 0 51px,#970000 0 54px,#a70000 0 56px,#b70000 0 58px,#c70000 0 60px,#d70000 0 62px,#e70000 0 64px,#f70000 0 66px,#ff0800 0 68px,#ff1800 0 70px,#ff2800 0 71px,#ff3800 0 73px,#ff4800 0 75px,#ff5800 0 77px,#ff6800 0 78px,#ff7800 0 80px,#ff8700 0 83px,#ff9700 0 85px,#ffa700 0 88px,#ffb700 0 90px,#ffc700 0 93px,#ffd700 0 95px,#ffe700 0 97px,#fff700 0 99px,#f7ff08 0 100px,#e7ff18 0 101px,#d7ff28 0 102px,#b7ff48 0 103px,#97ff68 0 104px,#87ff78 0 105px,#78ff87 0 106px,#68ff97 0 107px,#48ffb7 0 108px,#38ffc7 0 110px,#28ffd7 0 117px,#18ffe7 0)"></i><i style="background:linear-gradient(#870000 0 49px,#970000 0 51px,#a70000 0 53px,#b70000 0 55px,#c70000 0 57px,#d70000 0 59px,#e70000 0 61px,#f70000 0 63px,#ff0800 0 65px,#ff1800 0 66px,#ff2800 0 68px,#ff3800 0 70px,#ff4800 0 71px,#ff5800 0 73px,#ff6800 0 75px,#ff7800 0 77px,#ff8700 0 79px,#ff9700 0 81px,#ffa700 0 84px,#ffb700 0 86px,#ffc700 0 89px,#ffd700 0 91px,#ffe700 0 93px,#fff700 0 95px,#f7ff08 0 97px,#e7ff18 0 98px,#d7ff28 0 99px,#b7ff48 0 100px,#97ff68 0 101px,#87ff78 0 102px,#78ff87 0 103px,#68ff97 0 104px,#58ffa7 0 105px,#48ffb7 0 106px,#38ffc7 0 109px,#28ffd7 0 117px,#18ffe7 0)"></i><i style="background:linear-gradient(#870000 0 48px,#970000 0 50px,#a70000 0 52px,#b70000 0 54px,#c70000 0 56px,#d70000 0 58px,#e70000 0 60px,#f70000 0 62px,#ff0800 0 64px,#ff1800 0 65px,#ff2800 0 67px,#ff3800 0 69px,#ff4800 0 70px,#ff5800 0 72px,#ff6800 0 73px,#ff7800 0 75px,#ff8700 0 77px,#ff9700 0 80px,#ffa700 0 82px,#ffb700 0 85px,#ffc700 0 87px,#ffd700 0 90px,#ffe700 0 92px,#fff700 0 94px,#f7ff08 0 96px,#e7ff18 0 97px,#d7ff28 0 98px,#b7ff48 0 99px,#a7ff58 0 100px,#87ff78 0 101px,#78ff87 0 102px,#68ff97 0 103px,#58ffa7 0 104px,#48ffb7 0 106px,#38ffc7 0 110px,#28ffd7 0)"></i><i style="background:linear-gradient(#870000 0 49px,#970000 0 51px,#a70000 0 53px,#b70000 0 55px,#c70000 0 57px,#d70000 0 59px,#e70000 0 60px,#f70000 0 62px,#ff0800 0 64px,#ff1800 0 66px,#ff2800 0 67px,#ff3800 0 69px,#ff4800 0 70px,#ff5800 0 72px,#ff6800 0 73px,#ff7800 0 75px,#ff8700 0 77px,#ff9700 0 80px,#ffa700 0 82px,#ffb700 0 84px,#ffc700 0 87px,#ffd700 0 89px,#ffe700 0 91px,#fff700 0 94px,#f7ff08 0 96px,#e7ff18 0 97px,#c7ff38 0 98px,#b7ff48 0 99px,#a7ff58 0 100px,#87ff78 0 101px,#78ff87 0 102px,#68ff97 0 103px,#58ffa7 0 105px,#48ffb7 0 106px,#38ffc7 0 111px,#28ffd7 0)"></i><i style="background:linear-gradient(#870000 0 49px,#970000 0 51px,#a70000 0 53px,#b70000 0 55px,#c70000 0 57px,#d70000 0 58px,#e70000 0 60px,#f70000 0 62px,#ff0800 0 64px,#ff1800 0 65px,#ff2800 0 67px,#ff3800 0 68px,#ff4800 0 70px,#ff5800 0 71px,#ff6800 0 73px,#ff7800 0 74px,#ff8700 0 77px,#ff9700 0 79px,#ffa700 0 81px,#ffb700 0 84px,#ffc700 0 86px,#ffd700 0 88px,#ffe700 0 90px,#fff700 0 93px,#f7ff08 0 95px,#e7ff18 0 96px,#d7ff28 0 97px,#b7ff48 0 98px,#a7ff58 0 99px,#97ff68 0 100px,#78ff87 0 102px,#68ff97 0 103px,#58ffa7 0 104px,#48ffb7 0 106px,#38ffc7 0 112px,#28ffd7 0)"></i><i style="background:linear-gradient(#870000 0 48px,#970000 0 49px,#a70000 0 51px,#b70000 0 53px,#c70000 0 55px,#d70000 0 57px,#e70000 0 58px,#f70000 0 60px,#ff0800 0 62px,#ff1800 0 63px,#ff2800 0 64px,#ff3800 0 66px,#ff4800 0 67px,#ff5800 0 69px,#ff6800 0 70px,#ff7800 0 72px,#ff8700 0 74px,#ff9700 0 76px,#ffa700 0 79px,#ffb700 0 81px,#ffc700 0 83px,#ffd700 0 86px,#ffe700 0 88px,#fff700 0 90px,#f7ff08 0 92px,#e7ff18 0 93px,#d7ff28 0 94px,#c7ff38 0 95px,#b7ff48 0 96px,#97ff68 0 97px,#87ff78 0 98px,#78ff87 0 99px,#68ff97 0 101px,#58ffa7 0 102px,#48ffb7 0 104px,#38ffc7 0)"></i><i style="background:linear-gradient(#870000 0 48px,#970000 0 50px,#a70000 0 52px,#b70000 0 53px,#c70000 0 55px,#d70000 0 57px,#e70000 0 59px,#f70000 0 60px,#ff0800 0 62px,#ff1800 0 63px,#ff2800 0 65px,#ff3800 0 66px,#ff4800 0 67px,#ff5800 0 69px,#ff6800 0 70px,#ff7800 0 72px,#ff8700 0 74px,#ff9700 0 76px,#ffa700 0 78px,#ffb700 0 81px,#ffc700 0 83px,#ffd700 0 85px,#ffe700 0 87px,#fff700 0 89px,#f7ff08 0 92px,#e7ff18 0 93px,#d7ff28 0 94px,#b7ff48 0 95px,#a7ff58 0 96px,#97ff68 0 97px,#87ff78 0 98px,#78ff87 0 99px,#68ff97 0 101px,#58ffa7 0 102px,#48ffb7 0 105px,#38ffc7 0)"></i><i style="background:linear-gradient(#870000 0 52px,#970000 0 54px,#a70000 0 56px,#b70000 0 57px,#c70000 0 59px,#d70000 0 61px,#e70000 0 62px,#f70000 0 64px,#ff0800 0 65px,#ff1800 0 67px,#ff2800 0 68px,#ff3800 0 69px,#ff4800 0 71px,#ff5800 0 72px,#ff6800 0 74px,#ff7800 0 75px,#ff8700 0 77px,#ff9700 0 79px,#ffa700 0 82px,#ffb700 0 84px,#ffc700 0 86px,#ffd700 0 88px,#ffe700 0 90px,#fff700 0 92px,#f7ff08 0 95px,#e7ff18 0 96px,#d7ff28 0 97px,#c7ff38 0 98px,#a7ff58 0 99px,#97ff68 0 100px,#87ff78 0 101px,#78ff87 0 103px,#68ff97 0 104px,#58ffa7 0 106px,#48ffb7 0 110px,#38ffc7 0)"></i><i style="background:linear-gradient(#870000 0 49px,#970000 0 51px,#a70000 0 52px,#b70000 0 54px,#c70000 0 55px,#d70000 0 57px,#e70000 0 59px,#f70000 0 60px,#ff0800 0 61px,#ff1800 0 63px,#ff2800 0 64px,#ff3800 0 65px,#ff4800 0 67px,#ff5800 0 68px,#ff6800 0 69px,#ff7800 0 71px,#ff8700 0 73px,#ff9700 0 75px,#ffa700 0 77px,#ffb700 0 79px,#ffc700 0 82px,#ffd700 0 84px,#ffe700 0 86px,#fff700 0 88px,#f7ff08 0 90px,#e7ff18 0 92px,#c7ff38 0 93px,#b7ff48 0 94px,#a7ff58 0 95px,#97ff68 0 96px,#87ff78 0 97px,#78ff87 0 99px,#68ff97 0 100px,#58ffa7 0 102px,#48ffb7 0 108px,#38ffc7 0)"></i><i style="background:linear-gradient(#870000 0 51px,#970000 0 53px,#a70000 0 54px,#b70000 0 56px,#c70000 0 57px,#d70000 0 59px,#e70000 0 60px,#f70000 0 62px,#ff0800 0 63px,#ff1800 0 64px,#ff2800 0 66px,#ff3800 0 67px,#ff4800 0 68px,#ff5800 0 70px,#ff6800 0 71px,#ff7800 0 72px,#ff8700 0 74px,#ff9700 0 76px,#ffa700 0 78px,#ffb700 0 81px,#ffc700 0 83px,#ffd700 0 85px,#ffe700 0 87px,#fff700 0 89px,#f7ff08 0 91px,#e7ff18 0 93px,#d7ff28 0 94px,#c7ff38 0 95px,#a7ff58 0 96px,#97ff68 0 97px,#87ff78 0 98px,#78ff87 0 100px,#68ff97 0 102px,#58ffa7 0 104px,#48ffb7 0 111px,#38ffc7 0)"></i><i style="background:linear-gradient(#870000 0 45px,#970000 0 47px,#a70000 0 48px,#b70000 0 50px,#c70000 0 51px,#d70000 0 52px,#e70000 0 54px,#f70000 0 55px,#ff0800 0 56px,#ff1800 0 58px,#ff2800 0 59px,#ff3800 0 60px,#ff4800 0 61px,#ff5800 0 63px,#ff6800 0 64px,#ff7800 0 65px,#ff8700 0 67px,#ff9700 0 69px,#ffa700 0 71px,#ffb700 0 73px,#ffc700 0 75px,#ffd700 0 77px,#ffe700 0 79px,#fff700 0 81px,#f7ff08 0 83px,#e7ff18 0 85px,#d7ff28 0 86px,#c7ff38 0 87px,#b7ff48 0 88px,#a7ff58 0 89px,#97ff68 0 90px,#87ff78 0 91px,#78ff87 0 93px,#68ff97 0 95px,#58ffa7 0 98px,#48ffb7 0)"></i><i style="background:linear-gradient(#870000 0 53px,#970000 0 54px,#a70000 0 56px,#b70000 0 57px,#c70000 0 58px,#d70000 0 59px,#e70000 0 61px,#f70000 0 62px,#ff0800 0 63px,#ff1800 0 64px,#ff2800 0 65px,#ff3800 0 66px,#ff4800 0 67px,#ff5800 0 69px,#ff6800 0 70px,#ff7800 0 71px,#ff8700 0 72px,#ff9700 0 74px,#ffa700 0 75px,#ffb700 0 77px,#ffc700 0 79px,#ffd700 0 81px,#ffe700 0 83px,#fff700 0 85px,#f7ff08 0 87px,#e7ff18 0 90px,#d7ff28 0 92px,#c7ff38 0 93px,#b7ff48 0 94px,#a7ff58 0 96px,#97ff68 0 97px,#87ff78 0 98px,#78ff87 0 100px,#68ff97 0 103px,#58ffa7 0 106px,#48ffb7 0)"></i><i style="background:linear-gradient(#870000 0 55px,#970000 0 56px,#a70000 0 57px,#b70000 0 58px,#c70000 0 60px,#d70000 0 61px,#e70000 0 62px,#f70000 0 63px,#ff0800 0 64px,#ff1800 0 65px,#ff2800 0 66px,#ff3800 0 67px,#ff4800 0 68px,#ff5800 0 69px,#ff6800 0 70px,#ff7800 0 71px,#ff8700 0 72px,#ff9700 0 74px,#ffa700 0 75px,#ffb700 0 76px,#ffc700 0 78px,#ffd700 0 80px,#ffe700 0 82px,#fff700 0 84px,#f7ff08 0 86px,#e7ff18 0 88px,#d7ff28 0 90px,#c7ff38 0 92px,#b7ff48 0 94px,#a7ff58 0 96px,#97ff68 0 97px,#87ff78 0 99px,#78ff87 0 101px,#68ff97 0 104px,#58ffa7 0)"></i><i style="background:linear-gradient(#870000 0 54px,#970000 0 55px,#a70000 0 56px,#b70000 0 57px,#c70000 0 58px,#d70000 0 59px,#e70000 0 60px,#f70000 0 61px,#ff0800 0 62px,#ff1800 0 63px,#ff2800 0 64px,#ff3800 0 65px,#ff4800 0 66px,#ff5800 0 67px,#ff6800 0 68px,#ff7800 0 69px,#ff8700 0 70px,#ff9700 0 71px,#ffa700 0 72px,#ffb700 0 73px,#ffc700 0 75px,#ffd700 0 76px,#ffe700 0 78px,#fff700 0 80px,#f7ff08 0 82px,#e7ff18 0 84px,#d7ff28 0 86px,#c7ff38 0 88px,#b7ff48 0 90px,#a7ff58 0 93px,#97ff68 0 94px,#87ff78 0 96px,#78ff87 0 99px,#68ff97 0 103px,#58ffa7 0)"></i><i style="background:linear-gradient(#870000 0 51px,#970000 0 52px,#a70000 0 53px,#b70000 0 54px,#c70000 0 55px,#d70000 0 56px,#e70000 0 57px,#f70000 0 58px,#ff1800 0 59px,#ff2800 0 60px,#ff3800 0 61px,#ff4800 0 62px,#ff5800 0 63px,#ff6800 0 64px,#ff7800 0 65px,#ff8700 0 66px,#ff9700 0 67px,#ffa700 0 68px,#ffb700 0 69px,#ffc700 0 70px,#ffd700 0 71px,#ffe700 0 72px,#fff700 0 74px,#f7ff08 0 76px,#e7ff18 0 77px,#d7ff28 0 79px,#c7ff38 0 81px,#b7ff48 0 83px,#a7ff58 0 85px,#97ff68 0 88px,#87ff78 0 90px,#78ff87 0 93px,#68ff97 0 100px,#58ffa7 0)"></i><i style="background:linear-gradient(#870000 0 49px,#970000 0 50px,#a70000 0 51px,#b70000 0 52px,#c70000 0 53px,#d70000 0 54px,#f70000 0 55px,#ff0800 0 56px,#ff1800 0 57px,#ff2800 0 58px,#ff4800 0 59px,#ff5800 0 60px,#ff6800 0 61px,#ff7800 0 62px,#ff8700 0 63px,#ff9700 0 64px,#ffa700 0 65px,#ffb700 0 66px,#ffc700 0 67px,#ffd700 0 68px,#ffe700 0 69px,#fff700 0 70px,#f7ff08 0 71px,#e7ff18 0 73px,#d7ff28 0 74px,#c7ff38 0 76px,#b7ff48 0 78px,#a7ff58 0 80px,#97ff68 0 82px,#87ff78 0 84px,#78ff87 0 87px,#68ff97 0 98px,#58ffa7 0)"></i><i style="background:linear-gradient(#870000 0 56px,#970000 0 57px,#a70000 0 58px,#b70000 0 59px,#c70000 0 60px,#d70000 0 61px,#e70000 0 62px,#f70000 0 63px,#ff1800 0 64px,#ff2800 0 65px,#ff3800 0 66px,#ff5800 0 67px,#ff6800 0 68px,#ff7800 0 69px,#ff8700 0 70px,#ff9700 0 71px,#ffa700 0 72px,#ffb700 0 73px,#ffc700 0 74px,#ffd700 0 75px,#ffe700 0 76px,#fff700 0 77px,#f7ff08 0 78px,#e7ff18 0 79px,#d7ff28 0 81px,#c7ff38 0 82px,#b7ff48 0 84px,#a7ff58 0 86px,#97ff68 0 88px,#87ff78 0 91px,#78ff87 0 94px,#68ff97 0)"></i><i style="background:linear-gradient(#870000 0 51px,#970000 0 52px,#a70000 0 53px,#b70000 0 54px,#c70000 0 55px,#d70000 0 56px,#e70000 0 57px,#f70000 0 58px,#ff0800 0 59px,#ff1800 0 60px,#ff3800 0 61px,#ff4800 0 62px,#ff5800 0 63px,#ff6800 0 64px,#ff7800 0 65px,#ff9700 0 66px,#ffa700 0 67px,#ffb700 0 68px,#ffc700 0 69px,#ffd700 0 70px,#ffe700 0 71px,#fff700 0 72px,#f7ff08 0 73px,#e7ff18 0 74px,#d7ff28 0 76px,#c7ff38 0 77px,#b7ff48 0 79px,#a7ff58 0 81px,#97ff68 0 83px,#87ff78 0 86px,#78ff87 0 90px,#68ff97 0)"></i><i style="background:linear-gradient(#870000 0 52px,#970000 0 53px,#a70000 0 55px,#b70000 0 56px,#c70000 0 58px,#d70000 0 59px,#f70000 0 60px,#ff0800 0 61px,#ff1800 0 62px,#ff2800 0 63px,#ff4800 0 64px,#ff5800 0 65px,#ff6800 0 66px,#ff7800 0 67px,#ff8700 0 68px,#ffa700 0 69px,#ffb700 0 70px,#ffc700 0 71px,#ffd700 0 72px,#ffe700 0 73px,#fff700 0 74px,#f7ff08 0 75px,#e7ff18 0 76px,#d7ff28 0 77px,#c7ff38 0 79px,#b7ff48 0 81px,#a7ff58 0 83px,#97ff68 0 85px,#87ff78 0 88px,#78ff87 0)"></i><i style="background:linear-gradient(#870000 0 54px,#970000 0 56px,#a70000 0 58px,#b70000 0 60px,#d70000 0 61px,#e70000 0 62px,#f70000 0 63px,#ff0800 0 64px,#ff1800 0 65px,#ff3800 0 66px,#ff4800 0 67px,#ff5800 0 68px,#ff6800 0 69px,#ff8700 0 70px,#ff9700 0 71px,#ffa700 0 72px,#ffb700 0 73px,#ffd700 0 74px,#ffe700 0 75px,#fff700 0 76px,#f7ff08 0 77px,#e7ff18 0 78px,#d7ff28 0 80px,#c7ff38 0 81px,#b7ff48 0 83px,#a7ff58 0 85px,#97ff68 0 87px,#87ff78 0 92px,#78ff87 0)"></i><i style="background:linear-gradient(#870000 0 59px,#970000 0 62px,#a70000 0 64px,#b70000 0 65px,#c70000 0 66px,#d70000 0 67px,#f70000 0 68px,#ff0800 0 69px,#ff1800 0 70px,#ff2800 0 71px,#ff3800 0 72px,#ff5800 0 73px,#ff6800 0 74px,#ff7800 0 75px,#ff9700 0 76px,#ffa700 0 77px,#ffc700 0 78px,#ffd700 0 79px,#ffe700 0 80px,#fff700 0 81px,#f7ff08 0 82px,#e7ff18 0 83px,#d7ff28 0 84px,#c7ff38 0 86px,#b7ff48 0 87px,#a7ff58 0 90px,#97ff68 0 92px,#87ff78 0)"></i><i style="background:linear-gradient(#870000 0 59px,#970000 0 62px,#a70000 0 63px,#b70000 0 64px,#c70000 0 65px,#d70000 0 66px,#f70000 0 67px,#ff0800 0 68px,#ff1800 0 69px,#ff2800 0 70px,#ff4800 0 71px,#ff5800 0 72px,#ff6800 0 73px,#ff8700 0 74px,#ff9700 0 75px,#ffb700 0 76px,#ffc700 0 77px,#ffe700 0 78px,#fff700 0 79px,#f7ff08 0 80px,#e7ff18 0 81px,#d7ff28 0 82px,#c7ff38 0 84px,#b7ff48 0 86px,#a7ff58 0 88px,#97ff68 0 90px,#87ff78 0)"></i><i style="background:linear-gradient(#870000 0 64px,#970000 0 65px,#a70000 0 66px,#b70000 0 67px,#c70000 0 68px,#e70000 0 69px,#f70000 0 70px,#ff0800 0 71px,#ff1800 0 72px,#ff3800 0 73px,#ff4800 0 74px,#ff6800 0 75px,#ff7800 0 76px,#ff9700 0 77px,#ffa700 0 78px,#ffc700 0 79px,#ffd700 0 80px,#fff700 0 81px,#f7ff08 0 82px,#e7ff18 0 83px,#d7ff28 0 85px,#c7ff38 0 86px,#b7ff48 0 88px,#a7ff58 0 90px,#97ff68 0)"></i><i style="background:linear-gradient(#870000 0 61px,#970000 0 62px,#a70000 0 63px,#b70000 0 64px,#c70000 0 65px,#d70000 0 66px,#e70000 0 67px,#f70000 0 68px,#ff1800 0 69px,#ff2800 0 70px,#ff4800 0 71px,#ff5800 0 72px,#ff7800 0 73px,#ff9700 0 74px,#ffa700 0 75px,#ffc700 0 76px,#ffd700 0 77px,#fff700 0 78px,#f7ff08 0 79px,#e7ff18 0 80px,#d7ff28 0 82px,#c7ff38 0 83px,#b7ff48 0 85px,#a7ff58 0 87px,#97ff68 0)"></i><i style="background:linear-gradient(#870000 0 58px,#970000 0 59px,#a70000 0 60px,#b70000 0 61px,#c70000 0 62px,#d70000 0 63px,#e70000 0 64px,#f70000 0 65px,#ff0800 0 66px,#ff2800 0 67px,#ff3800 0 68px,#ff5800 0 69px,#ff6800 0 70px,#ff8700 0 71px,#ff9700 0 72px,#ffb700 0 73px,#ffc700 0 74px,#ffd700 0 75px,#fff700 0 76px,#f7ff08 0 77px,#e7ff18 0 79px,#d7ff28 0 80px,#c7ff38 0 81px,#b7ff48 0 84px,#a7ff58 0 86px,#97ff68 0)"></i><i style="background:linear-gradient(#870000 0 58px,#970000 0 59px,#a70000 0 60px,#b70000 0 61px,#c70000 0 62px,#d70000 0 63px,#e70000 0 64px,#f70000 0 65px,#ff0800 0 66px,#ff1800 0 67px,#ff2800 0 68px,#ff4800 0 69px,#ff5800 0 70px,#ff7800 0 71px,#ff8700 0 72px,#ff9700 0 73px,#ffb700 0 74px,#ffc700 0 75px,#ffe700 0 76px,#fff700 0 77px,#f7ff08 0 78px,#e7ff18 0 80px,#d7ff28 0 81px,#c7ff38 0 83px,#b7ff48 0 85px,#a7ff58 0 88px,#97ff68 0)"></i><i style="background:linear-gradient(#870000 0 51px,#970000 0 52px,#a70000 0 53px,#b70000 0 54px,#c70000 0 55px,#d70000 0 56px,#e70000 0 57px,#f70000 0 58px,#ff0800 0 59px,#ff1800 0 60px,#ff3800 0 61px,#ff4800 0 62px,#ff5800 0 63px,#ff7800 0 64px,#ff8700 0 65px,#ff9700 0 66px,#ffb700 0 67px,#ffc700 0 68px,#ffd700 0 69px,#fff700 0 70px,#f7ff08 0 72px,#e7ff18 0 73px,#d7ff28 0 75px,#c7ff38 0 76px,#b7ff48 0 79px,#a7ff58 0 82px,#97ff68 0)"></i><i style="background:linear-gradient(#870000 0 56px,#970000 0 57px,#a70000 0 58px,#b70000 0 59px,#c70000 0 60px,#d70000 0 61px,#e70000 0 62px,#f70000 0 63px,#ff0800 0 64px,#ff2800 0 65px,#ff3800 0 66px,#ff4800 0 67px,#ff6800 0 68px,#ff7800 0 69px,#ff9700 0 70px,#ffa700 0 71px,#ffb700 0 72px,#ffd700 0 73px,#ffe700 0 74px,#fff700 0 75px,#f7ff08 0 76px,#e7ff18 0 77px,#d7ff28 0 79px,#c7ff38 0 80px,#b7ff48 0 83px,#a7ff58 0 85px,#97ff68 0)"></i><i style="background:linear-gradient(#870000 0 57px,#970000 0 58px,#a70000 0 59px,#b70000 0 60px,#c70000 0 61px,#d70000 0 62px,#e70000 0 63px,#f70000 0 64px,#ff0800 0 65px,#ff2800 0 66px,#ff3800 0 67px,#ff5800 0 68px,#ff6800 0 69px,#ff8700 0 70px,#ff9700 0 71px,#ffb700 0 72px,#ffc700 0 73px,#ffe700 0 74px,#fff700 0 75px,#f7ff08 0 76px,#e7ff18 0 78px,#d7ff28 0 79px,#c7ff38 0 80px,#b7ff48 0 83px,#a7ff58 0 86px,#97ff68 0)"></i><i style="background:linear-gradient(#870000 0 56px,#970000 0 57px,#a70000 0 58px,#b70000 0 59px,#c70000 0 60px,#d70000 0 61px,#f70000 0 62px,#ff0800 0 63px,#ff1800 0 64px,#ff3800 0 65px,#ff5800 0 66px,#ff6800 0 67px,#ff8700 0 68px,#ffa700 0 69px,#ffb700 0 70px,#ffc700 0 71px,#ffe700 0 72px,#fff700 0 73px,#f7ff08 0 74px,#e7ff18 0 75px,#d7ff28 0 77px,#c7ff38 0 78px,#b7ff48 0 80px,#a7ff58 0 83px,#97ff68 0)"></i><i style="background:linear-gradient(#870000 0 54px,#a70000 0 55px,#b70000 0 56px,#c70000 0 57px,#d70000 0 58px,#e70000 0 59px,#ff0800 0 60px,#ff2800 0 61px,#ff3800 0 62px,#ff5800 0 63px,#ff7800 0 64px,#ff9700 0 65px,#ffa700 0 66px,#ffc700 0 67px,#ffd700 0 68px,#fff700 0 69px,#f7ff08 0 70px,#e7ff18 0 72px,#d7ff28 0 73px,#c7ff38 0 74px,#b7ff48 0 76px,#a7ff58 0 79px,#97ff68 0)"></i><i style="background:linear-gradient(#870000 0 53px,#970000 0 54px,#a70000 0 55px,#b70000 0 56px,#d70000 0 57px,#e70000 0 58px,#ff0800 0 59px,#ff1800 0 60px,#ff3800 0 61px,#ff5800 0 62px,#ff7800 0 63px,#ff9700 0 64px,#ffa700 0 65px,#ffc700 0 66px,#ffe700 0 67px,#fff700 0 68px,#f7ff08 0 69px,#e7ff18 0 70px,#d7ff28 0 71px,#c7ff38 0 73px,#b7ff48 0 75px,#a7ff58 0 77px,#97ff68 0)"></i><i style="background:linear-gradient(#870000 0 54px,#970000 0 55px,#a70000 0 56px,#b70000 0 57px,#c70000 0 58px,#d70000 0 59px,#e70000 0 60px,#f70000 0 61px,#ff1800 0 62px,#ff2800 0 63px,#ff3800 0 64px,#ff5800 0 65px,#ff6800 0 66px,#ff8700 0 67px,#ff9700 0 68px,#ffb700 0 69px,#ffc700 0 70px,#ffe700 0 71px,#fff700 0 72px,#f7ff08 0 73px,#e7ff18 0 75px,#d7ff28 0 76px,#c7ff38 0 78px,#b7ff48 0 80px,#a7ff58 0 82px,#97ff68 0)"></i><i style="background:linear-gradient(#870000 0 44px,#970000 0 45px,#a70000 0 46px,#b70000 0 47px,#c70000 0 49px,#d70000 0 50px,#e70000 0 51px,#f70000 0 52px,#ff0800 0 53px,#ff1800 0 54px,#ff2800 0 55px,#ff3800 0 56px,#ff4800 0 57px,#ff5800 0 58px,#ff6800 0 59px,#ff7800 0 60px,#ff8700 0 61px,#ff9700 0 62px,#ffb700 0 63px,#ffc700 0 64px,#ffd700 0 65px,#ffe700 0 66px,#f7ff08 0 68px,#e7ff18 0 70px,#d7ff28 0 71px,#c7ff38 0 73px,#b7ff48 0 75px,#a7ff58 0 78px,#97ff68 0)"></i><i style="background:linear-gradient(#870000 0 36px,#970000 0 38px,#a70000 0 39px,#b70000 0 40px,#c70000 0 42px,#d70000 0 43px,#e70000 0 45px,#f70000 0 46px,#ff0800 0 47px,#ff1800 0 48px,#ff2800 0 49px,#ff3800 0 51px,#ff4800 0 52px,#ff5800 0 53px,#ff6800 0 54px,#ff7800 0 55px,#ff8700 0 56px,#ff9700 0 57px,#ffa700 0 58px,#ffb700 0 59px,#ffd700 0 60px,#ffe700 0 61px,#fff700 0 62px,#f7ff08 0 64px,#e7ff18 0 66px,#d7ff28 0 67px,#c7ff38 0 69px,#b7ff48 0 72px,#a7ff58 0 74px,#97ff68 0)"></i><i style="background:linear-gradient(#870000 0 30px,#970000 0 32px,#a70000 0 33px,#b70000 0 34px,#c70000 0 36px,#d70000 0 37px,#e70000 0 38px,#f70000 0 40px,#ff0800 0 41px,#ff1800 0 42px,#ff2800 0 43px,#ff3800 0 44px,#ff4800 0 45px,#ff5800 0 46px,#ff6800 0 47px,#ff7800 0 48px,#ff8700 0 49px,#ff9700 0 50px,#ffa700 0 51px,#ffb700 0 52px,#ffc700 0 53px,#ffd700 0 54px,#ffe700 0 55px,#fff700 0 56px,#f7ff08 0 57px,#e7ff18 0 59px,#d7ff28 0 61px,#c7ff38 0 63px,#b7ff48 0 65px,#a7ff58 0 68px,#97ff68 0 70px,#87ff78 0)"></i><i style="background:linear-gradient(#870000 0 32px,#970000 0 33px,#a70000 0 35px,#b70000 0 36px,#c70000 0 37px,#d70000 0 38px,#e70000 0 40px,#f70000 0 41px,#ff0800 0 42px,#ff1800 0 43px,#ff2800 0 44px,#ff3800 0 45px,#ff4800 0 46px,#ff5800 0 47px,#ff6800 0 48px,#ff7800 0 49px,#ff8700 0 50px,#ff9700 0 51px,#ffa700 0 52px,#ffb700 0 53px,#ffc700 0 54px,#ffd700 0 55px,#ffe700 0 56px,#fff700 0 57px,#f7ff08 0 59px,#e7ff18 0 61px,#d7ff28 0 62px,#c7ff38 0 64px,#b7ff48 0 67px,#a7ff58 0 69px,#97ff68 0 71px,#87ff78 0)"></i><i style="background:linear-gradient(#870000 0 29px,#970000 0 30px,#a70000 0 31px,#b70000 0 32px,#c70000 0 34px,#d70000 0 35px,#e70000 0 36px,#f70000 0 37px,#ff0800 0 38px,#ff1800 0 39px,#ff2800 0 40px,#ff3800 0 41px,#ff4800 0 42px,#ff5800 0 43px,#ff6800 0 44px,#ff7800 0 45px,#ff8700 0 46px,#ff9700 0 47px,#ffa700 0 48px,#ffb700 0 49px,#ffc700 0 50px,#ffd700 0 51px,#ffe700 0 52px,#fff700 0 53px,#f7ff08 0 55px,#e7ff18 0 57px,#d7ff28 0 59px,#c7ff38 0 61px,#b7ff48 0 63px,#a7ff58 0 65px,#97ff68 0 67px,#87ff78 0)"></i><i style="background:linear-gradient(#870000 0 32px,#970000 0 33px,#a70000 0 34px,#b70000 0 35px,#c70000 0 36px,#d70000 0 37px,#e70000 0 39px,#f70000 0 40px,#ff0800 0 41px,#ff1800 0 42px,#ff2800 0 43px,#ff3800 0 44px,#ff4800 0 45px,#ff5800 0 46px,#ff6800 0 47px,#ff7800 0 48px,#ff8700 0 49px,#ff9700 0 50px,#ffa700 0 51px,#ffb700 0 52px,#ffc700 0 53px,#ffd700 0 54px,#ffe700 0 55px,#fff700 0 56px,#f7ff08 0 58px,#e7ff18 0 60px,#d7ff28 0 62px,#c7ff38 0 64px,#b7ff48 0 66px,#a7ff58 0 68px,#97ff68 0 70px,#87ff78 0 72px,#78ff87 0)"></i><i style="background:linear-gradient(#870000 0 35px,#970000 0 36px,#a70000 0 37px,#b70000 0 38px,#c70000 0 40px,#d70000 0 41px,#e70000 0 42px,#f70000 0 43px,#ff0800 0 44px,#ff1800 0 45px,#ff2800 0 46px,#ff3800 0 47px,#ff4800 0 48px,#ff5800 0 49px,#ff6800 0 50px,#ff7800 0 51px,#ff8700 0 52px,#ff9700 0 53px,#ffa700 0 54px,#ffb700 0 56px,#ffc700 0 57px,#ffd700 0 58px,#ffe700 0 59px,#fff700 0 60px,#f7ff08 0 62px,#e7ff18 0 64px,#d7ff28 0 66px,#c7ff38 0 68px,#b7ff48 0 70px,#a7ff58 0 72px,#97ff68 0 74px,#87ff78 0 77px,#78ff87 0)"></i><i style="background:linear-gradient(#870000 0 32px,#970000 0 33px,#a70000 0 34px,#b70000 0 36px,#c70000 0 37px,#d70000 0 38px,#e70000 0 39px,#f70000 0 41px,#ff0800 0 42px,#ff1800 0 43px,#ff2800 0 44px,#ff3800 0 45px,#ff4800 0 46px,#ff5800 0 47px,#ff6800 0 48px,#ff7800 0 49px,#ff8700 0 50px,#ff9700 0 51px,#ffa700 0 52px,#ffb700 0 53px,#ffc700 0 55px,#ffd700 0 56px,#ffe700 0 57px,#fff700 0 58px,#f7ff08 0 60px,#e7ff18 0 62px,#d7ff28 0 64px,#c7ff38 0 66px,#b7ff48 0 68px,#a7ff58 0 70px,#97ff68 0 72px,#87ff78 0 75px,#78ff87 0)"></i><i style="background:linear-gradient(#870000 0 30px,#970000 0 32px,#a70000 0 33px,#b70000 0 34px,#c70000 0 36px,#d70000 0 37px,#e70000 0 38px,#f70000 0 40px,#ff0800 0 41px,#ff1800 0 42px,#ff2800 0 43px,#ff3800 0 44px,#ff4800 0 45px,#ff5800 0 46px,#ff6800 0 47px,#ff7800 0 48px,#ff8700 0 49px,#ff9700 0 51px,#ffa700 0 52px,#ffb700 0 53px,#ffc700 0 54px,#ffd700 0 55px,#ffe700 0 56px,#fff700 0 58px,#f7ff08 0 60px,#e7ff18 0 62px,#d7ff28 0 64px,#c7ff38 0 66px,#b7ff48 0 68px,#a7ff58 0 70px,#97ff68 0 72px,#87ff78 0 74px,#78ff87 0)"></i><i style="background:linear-gradient(#870000 0 29px,#970000 0 30px,#a70000 0 31px,#b70000 0 33px,#c70000 0 34px,#d70000 0 35px,#e70000 0 37px,#f70000 0 38px,#ff0800 0 39px,#ff1800 0 40px,#ff2800 0 42px,#ff3800 0 43px,#ff4800 0 44px,#ff5800 0 45px,#ff6800 0 46px,#ff7800 0 47px,#ff8700 0 48px,#ff9700 0 50px,#ffa700 0 51px,#ffb700 0 52px,#ffc700 0 53px,#ffd700 0 54px,#ffe700 0 56px,#fff700 0 57px,#f7ff08 0 59px,#e7ff18 0 61px,#d7ff28 0 63px,#c7ff38 0 65px,#b7ff48 0 67px,#a7ff58 0 69px,#97ff68 0 71px,#87ff78 0 73px,#78ff87 0)"></i><i style="background:linear-gradient(#870000 0 25px,#970000 0 27px,#a70000 0 28px,#b70000 0 30px,#c70000 0 31px,#d70000 0 32px,#e70000 0 34px,#f70000 0 35px,#ff0800 0 37px,#ff1800 0 38px,#ff2800 0 39px,#ff3800 0 40px,#ff4800 0 41px,#ff5800 0 42px,#ff6800 0 43px,#ff7800 0 44px,#ff8700 0 46px,#ff9700 0 47px,#ffa700 0 48px,#ffb700 0 49px,#ffc700 0 51px,#ffd700 0 52px,#ffe700 0 53px,#fff700 0 55px,#f7ff08 0 57px,#e7ff18 0 59px,#d7ff28 0 61px,#c7ff38 0 63px,#b7ff48 0 65px,#a7ff58 0 67px,#97ff68 0 69px,#87ff78 0 71px,#78ff87 0)"></i><i style="background:linear-gradient(#870000 0 23px,#970000 0 25px,#a70000 0 26px,#b70000 0 28px,#c70000 0 29px,#d70000 0 31px,#e70000 0 32px,#f70000 0 34px,#ff0800 0 35px,#ff1800 0 36px,#ff2800 0 37px,#ff3800 0 38px,#ff4800 0 40px,#ff5800 0 41px,#ff6800 0 42px,#ff7800 0 43px,#ff8700 0 44px,#ff9700 0 46px,#ffa700 0 47px,#ffb700 0 48px,#ffc700 0 50px,#ffd700 0 51px,#ffe700 0 52px,#fff700 0 54px,#f7ff08 0 56px,#e7ff18 0 58px,#d7ff28 0 60px,#c7ff38 0 62px,#b7ff48 0 64px,#a7ff58 0 66px,#97ff68 0 68px,#87ff78 0 70px,#78ff87 0)"></i><i style="background:linear-gradient(#870000 0 27px,#970000 0 28px,#a70000 0 30px,#b70000 0 31px,#c70000 0 33px,#d70000 0 35px,#e70000 0 36px,#f70000 0 38px,#ff0800 0 39px,#ff1800 0 40px,#ff2800 0 41px,#ff3800 0 43px,#ff4800 0 44px,#ff5800 0 45px,#ff6800 0 46px,#ff7800 0 47px,#ff8700 0 49px,#ff9700 0 50px,#ffa700 0 51px,#ffb700 0 53px,#ffc700 0 54px,#ffd700 0 55px,#ffe700 0 57px,#fff700 0 58px,#f7ff08 0 60px,#e7ff18 0 62px,#d7ff28 0 64px,#c7ff38 0 66px,#b7ff48 0 68px,#a7ff58 0 70px,#97ff68 0 72px,#87ff78 0 75px,#78ff87 0)"></i><i style="background:linear-gradient(#870000 0 28px,#970000 0 29px,#a70000 0 31px,#b70000 0 33px,#c70000 0 34px,#d70000 0 36px,#e70000 0 38px,#f70000 0 39px,#ff0800 0 41px,#ff1800 0 42px,#ff2800 0 43px,#ff3800 0 44px,#ff4800 0 45px,#ff5800 0 47px,#ff6800 0 48px,#ff7800 0 49px,#ff8700 0 50px,#ff9700 0 52px,#ffa700 0 53px,#ffb700 0 55px,#ffc700 0 56px,#ffd700 0 57px,#ffe700 0 59px,#fff700 0 60px,#f7ff08 0 62px,#e7ff18 0 64px,#d7ff28 0 66px,#c7ff38 0 68px,#b7ff48 0 70px,#a7ff58 0 72px,#97ff68 0 74px,#87ff78 0 76px,#78ff87 0)"></i><i style="background:linear-gradient(#870000 0 24px,#970000 0 26px,#a70000 0 28px,#b70000 0 30px,#c70000 0 31px,#d70000 0 33px,#e70000 0 35px,#f70000 0 37px,#ff0800 0 38px,#ff1800 0 39px,#ff2800 0 40px,#ff3800 0 42px,#ff4800 0 43px,#ff5800 0 44px,#ff6800 0 45px,#ff7800 0 47px,#ff8700 0 48px,#ff9700 0 49px,#ffa700 0 51px,#ffb700 0 52px,#ffc700 0 54px,#ffd700 0 55px,#ffe700 0 57px,#fff700 0 58px,#f7ff08 0 60px,#e7ff18 0 62px,#d7ff28 0 64px,#c7ff38 0 66px,#b7ff48 0 68px,#a7ff58 0 70px,#97ff68 0 72px,#87ff78 0 75px,#78ff87 0)"></i><i style="background:linear-gradient(#870000 0 18px,#970000 0 20px,#a70000 0 22px,#b70000 0 23px,#c70000 0 25px,#d70000 0 27px,#e70000 0 29px,#f70000 0 31px,#ff0800 0 32px,#ff1800 0 33px,#ff2800 0 34px,#ff3800 0 36px,#ff4800 0 37px,#ff5800 0 38px,#ff6800 0 39px,#ff7800 0 41px,#ff8700 0 42px,#ff9700 0 44px,#ffa700 0 45px,#ffb700 0 47px,#ffc700 0 48px,#ffd700 0 50px,#ffe700 0 51px,#fff700 0 53px,#f7ff08 0 55px,#e7ff18 0 57px,#d7ff28 0 59px,#c7ff38 0 61px,#b7ff48 0 63px,#a7ff58 0 65px,#97ff68 0 67px,#87ff78 0 69px,#78ff87 0)"></i><i style="background:linear-gradient(#870000 0 17px,#970000 0 19px,#a70000 0 21px,#b70000 0 23px,#c70000 0 24px,#d70000 0 26px,#e70000 0 28px,#f70000 0 30px,#ff0800 0 31px,#ff1800 0 32px,#ff2800 0 34px,#ff3800 0 35px,#ff4800 0 36px,#ff5800 0 37px,#ff6800 0 39px,#ff7800 0 40px,#ff8700 0 41px,#ff9700 0 43px,#ffa700 0 44px,#ffb700 0 46px,#ffc700 0 47px,#ffd700 0 49px,#ffe700 0 50px,#fff700 0 52px,#f7ff08 0 54px,#e7ff18 0 56px,#d7ff28 0 58px,#c7ff38 0 60px,#b7ff48 0 62px,#a7ff58 0 64px,#97ff68 0 66px,#87ff78 0 68px,#78ff87 0)"></i><i style="background:linear-gradient(#870000 0 18px,#970000 0 19px,#a70000 0 21px,#b70000 0 23px,#c70000 0 25px,#d70000 0 27px,#e70000 0 28px,#f70000 0 30px,#ff0800 0 31px,#ff1800 0 33px,#ff2800 0 34px,#ff3800 0 35px,#ff4800 0 37px,#ff5800 0 38px,#ff6800 0 39px,#ff7800 0 40px,#ff8700 0 42px,#ff9700 0 43px,#ffa700 0 45px,#ffb700 0 46px,#ffc700 0 48px,#ffd700 0 49px,#ffe700 0 51px,#fff700 0 53px,#f7ff08 0 54px,#e7ff18 0 56px,#d7ff28 0 58px,#c7ff38 0 60px,#b7ff48 0 62px,#a7ff58 0 64px,#97ff68 0 67px,#87ff78 0 69px,#78ff87 0)"></i><i style="background:linear-gradient(#870000 0 14px,#970000 0 16px,#a70000 0 18px,#b70000 0 20px,#c70000 0 22px,#d70000 0 23px,#e70000 0 25px,#f70000 0 27px,#ff0800 0 28px,#ff1800 0 30px,#ff2800 0 31px,#ff3800 0 32px,#ff4800 0 33px,#ff5800 0 35px,#ff6800 0 36px,#ff7800 0 37px,#ff8700 0 39px,#ff9700 0 40px,#ffa700 0 42px,#ffb700 0 43px,#ffc700 0 45px,#ffd700 0 46px,#ffe700 0 48px,#fff700 0 49px,#f7ff08 0 51px,#e7ff18 0 53px,#d7ff28 0 55px,#c7ff38 0 57px,#b7ff48 0 59px,#a7ff58 0 61px,#97ff68 0 63px,#87ff78 0 66px,#78ff87 0)"></i><i style="background:linear-gradient(#870000 0 11px,#970000 0 14px,#a70000 0 16px,#b70000 0 17px,#c70000 0 19px,#d70000 0 21px,#e70000 0 23px,#f70000 0 24px,#ff0800 0 26px,#ff1800 0 27px,#ff2800 0 28px,#ff3800 0 30px,#ff4800 0 31px,#ff5800 0 32px,#ff6800 0 34px,#ff7800 0 35px,#ff8700 0 36px,#ff9700 0 38px,#ffa700 0 39px,#ffb700 0 41px,#ffc700 0 42px,#ffd700 0 44px,#ffe700 0 45px,#fff700 0 47px,#f7ff08 0 49px,#e7ff18 0 51px,#d7ff28 0 53px,#c7ff38 0 55px,#b7ff48 0 57px,#a7ff58 0 59px,#97ff68 0 61px,#87ff78 0 64px,#78ff87 0)"></i><i style="background:linear-gradient(#870000 0 8px,#970000 0 11px,#a70000 0 13px,#b70000 0 15px,#c70000 0 17px,#d70000 0 18px,#e70000 0 20px,#f70000 0 21px,#ff0800 0 23px,#ff1800 0 24px,#ff2800 0 26px,#ff3800 0 27px,#ff4800 0 28px,#ff5800 0 30px,#ff6800 0 31px,#ff7800 0 32px,#ff8700 0 34px,#ff9700 0 35px,#ffa700 0 37px,#ffb700 0 38px,#ffc700 0 40px,#ffd700 0 41px,#ffe700 0 43px,#fff700 0 44px,#f7ff08 0 46px,#e7ff18 0 48px,#d7ff28 0 50px,#c7ff38 0 52px,#b7ff48 0 54px,#a7ff58 0 56px,#97ff68 0 58px,#87ff78 0 61px,#78ff87 0 65px,#68ff97 0)"></i><i style="background:linear-gradient(#870000 0 8px,#970000 0 11px,#a70000 0 13px,#b70000 0 14px,#c70000 0 16px,#d70000 0 18px,#e70000 0 20px,#f70000 0 21px,#ff0800 0 23px,#ff1800 0 24px,#ff2800 0 25px,#ff3800 0 27px,#ff4800 0 28px,#ff5800 0 29px,#ff6800 0 31px,#ff7800 0 32px,#ff8700 0 33px,#ff9700 0 35px,#ffa700 0 36px,#ffb700 0 38px,#ffc700 0 39px,#ffd700 0 41px,#ffe700 0 42px,#fff700 0 44px,#f7ff08 0 46px,#e7ff18 0 48px,#d7ff28 0 50px,#c7ff38 0 52px,#b7ff48 0 54px,#a7ff58 0 56px,#97ff68 0 58px,#87ff78 0 61px,#78ff87 0 64px,#68ff97 0)"></i><i style="background:linear-gradient(#870000 0 4px,#970000 0 7px,#a70000 0 9px,#b70000 0 10px,#c70000 0 12px,#d70000 0 14px,#e70000 0 16px,#f70000 0 17px,#ff0800 0 19px,#ff1800 0 20px,#ff2800 0 21px,#ff3800 0 23px,#ff4800 0 24px,#ff5800 0 25px,#ff6800 0 27px,#ff7800 0 28px,#ff8700 0 29px,#ff9700 0 31px,#ffa700 0 32px,#ffb700 0 34px,#ffc700 0 35px,#ffd700 0 37px,#ffe700 0 38px,#fff700 0 40px,#f7ff08 0 42px,#e7ff18 0 44px,#d7ff28 0 46px,#c7ff38 0 48px,#b7ff48 0 50px,#a7ff58 0 52px,#97ff68 0 54px,#87ff78 0 57px,#78ff87 0 60px,#68ff97 0)"></i><i style="background:linear-gradient(#870000 0 9px,#970000 0 11px,#a70000 0 13px,#b70000 0 15px,#c70000 0 17px,#d70000 0 19px,#e70000 0 20px,#f70000 0 22px,#ff0800 0 23px,#ff1800 0 25px,#ff2800 0 26px,#ff3800 0 27px,#ff4800 0 28px,#ff5800 0 30px,#ff6800 0 31px,#ff7800 0 32px,#ff8700 0 34px,#ff9700 0 35px,#ffa700 0 37px,#ffb700 0 38px,#ffc700 0 40px,#ffd700 0 41px,#ffe700 0 43px,#fff700 0 44px,#f7ff08 0 46px,#e7ff18 0 48px,#d7ff28 0 50px,#c7ff38 0 52px,#b7ff48 0 54px,#a7ff58 0 56px,#97ff68 0 58px,#87ff78 0 61px,#78ff87 0 64px,#68ff97 0)"></i><i style="background:linear-gradient(#870000 0 7px,#970000 0 9px,#a70000 0 11px,#b70000 0 13px,#c70000 0 15px,#d70000 0 16px,#e70000 0 18px,#f70000 0 20px,#ff0800 0 21px,#ff1800 0 23px,#ff2800 0 24px,#ff3800 0 25px,#ff4800 0 26px,#ff5800 0 28px,#ff6800 0 29px,#ff7800 0 30px,#ff8700 0 32px,#ff9700 0 33px,#ffa700 0 35px,#ffb700 0 36px,#ffc700 0 38px,#ffd700 0 39px,#ffe700 0 41px,#fff700 0 42px,#f7ff08 0 44px,#e7ff18 0 46px,#d7ff28 0 48px,#c7ff38 0 50px,#b7ff48 0 52px,#a7ff58 0 54px,#97ff68 0 56px,#87ff78 0 58px,#78ff87 0 62px,#68ff97 0)"></i><i style="background:linear-gradient(#870000 0 11px,#970000 0 13px,#a70000 0 14px,#b70000 0 16px,#c70000 0 18px,#d70000 0 20px,#e70000 0 22px,#f70000 0 23px,#ff0800 0 25px,#ff1800 0 26px,#ff2800 0 27px,#ff3800 0 28px,#ff4800 0 30px,#ff5800 0 31px,#ff6800 0 32px,#ff7800 0 33px,#ff8700 0 35px,#ff9700 0 36px,#ffa700 0 38px,#ffb700 0 39px,#ffc700 0 41px,#ffd700 0 42px,#ffe700 0 44px,#fff700 0 45px,#f7ff08 0 47px,#e7ff18 0 49px,#d7ff28 0 51px,#c7ff38 0 53px,#b7ff48 0 55px,#a7ff58 0 57px,#97ff68 0 59px,#87ff78 0 61px,#78ff87 0 65px,#68ff97 0)"></i><i style="background:linear-gradient(#870000 0 12px,#970000 0 13px,#a70000 0 15px,#b70000 0 17px,#c70000 0 19px,#d70000 0 20px,#e70000 0 22px,#f70000 0 24px,#ff0800 0 25px,#ff1800 0 26px,#ff2800 0 28px,#ff3800 0 29px,#ff4800 0 30px,#ff5800 0 31px,#ff6800 0 32px,#ff7800 0 34px,#ff8700 0 35px,#ff9700 0 37px,#ffa700 0 38px,#ffb700 0 39px,#ffc700 0 41px,#ffd700 0 42px,#ffe700 0 44px,#fff700 0 45px,#f7ff08 0 47px,#e7ff18 0 49px,#d7ff28 0 51px,#c7ff38 0 53px,#b7ff48 0 55px,#a7ff58 0 57px,#97ff68 0 59px,#87ff78 0 61px,#78ff87 0 64px,#68ff97 0 68px,#58ffa7 0)"></i><i style="background:linear-gradient(#870000 0 13px,#970000 0 15px,#a70000 0 17px,#b70000 0 18px,#c70000 0 20px,#d70000 0 22px,#e70000 0 24px,#f70000 0 25px,#ff0800 0 26px,#ff1800 0 28px,#ff2800 0 29px,#ff3800 0 30px,#ff4800 0 31px,#ff5800 0 32px,#ff6800 0 34px,#ff7800 0 35px,#ff8700 0 36px,#ff9700 0 38px,#ffa700 0 39px,#ffb700 0 40px,#ffc700 0 42px,#ffd700 0 43px,#ffe700 0 44px,#fff700 0 46px,#f7ff08 0 48px,#e7ff18 0 50px,#d7ff28 0 51px,#c7ff38 0 53px,#b7ff48 0 55px,#a7ff58 0 57px,#97ff68 0 59px,#87ff78 0 61px,#78ff87 0 64px,#68ff97 0 68px,#58ffa7 0)"></i><i style="background:linear-gradient(#870000 0 13px,#970000 0 15px,#a70000 0 16px,#b70000 0 18px,#c70000 0 20px,#d70000 0 21px,#e70000 0 23px,#f70000 0 25px,#ff0800 0 26px,#ff1800 0 27px,#ff2800 0 28px,#ff3800 0 30px,#ff4800 0 31px,#ff5800 0 32px,#ff6800 0 33px,#ff7800 0 34px,#ff8700 0 36px,#ff9700 0 37px,#ffa700 0 38px,#ffb700 0 40px,#ffc700 0 41px,#ffd700 0 42px,#ffe700 0 44px,#fff700 0 45px,#f7ff08 0 47px,#e7ff18 0 48px,#d7ff28 0 50px,#c7ff38 0 52px,#b7ff48 0 54px,#a7ff58 0 55px,#97ff68 0 57px,#87ff78 0 59px,#78ff87 0 62px,#68ff97 0 66px,#58ffa7 0)"></i><i style="background:linear-gradient(#870000 0 11px,#970000 0 13px,#a70000 0 14px,#b70000 0 16px,#c70000 0 18px,#d70000 0 19px,#e70000 0 21px,#f70000 0 23px,#ff0800 0 24px,#ff1800 0 25px,#ff2800 0 26px,#ff3800 0 27px,#ff4800 0 28px,#ff5800 0 30px,#ff6800 0 31px,#ff7800 0 32px,#ff8700 0 33px,#ff9700 0 34px,#ffa700 0 36px,#ffb700 0 37px,#ffc700 0 38px,#ffd700 0 40px,#ffe700 0 41px,#fff700 0 42px,#f7ff08 0 44px,#e7ff18 0 46px,#d7ff28 0 47px,#c7ff38 0 49px,#b7ff48 0 51px,#a7ff58 0 52px,#97ff68 0 54px,#87ff78 0 56px,#78ff87 0 59px,#68ff97 0 62px,#58ffa7 0)"></i><i style="background:linear-gradient(#870000 0 10px,#970000 0 11px,#a70000 0 13px,#b70000 0 14px,#c70000 0 16px,#d70000 0 18px,#e70000 0 19px,#f70000 0 21px,#ff0800 0 22px,#ff1800 0 23px,#ff2800 0 24px,#ff3800 0 25px,#ff4800 0 26px,#ff5800 0 28px,#ff6800 0 29px,#ff7800 0 30px,#ff8700 0 31px,#ff9700 0 32px,#ffa700 0 34px,#ffb700 0 35px,#ffc700 0 36px,#ffd700 0 37px,#ffe700 0 39px,#fff700 0 40px,#f7ff08 0 41px,#e7ff18 0 43px,#d7ff28 0 44px,#c7ff38 0 46px,#b7ff48 0 48px,#a7ff58 0 49px,#97ff68 0 51px,#87ff78 0 53px,#78ff87 0 56px,#68ff97 0 59px,#58ffa7 0)"></i><i style="background:linear-gradient(#870000 0 13px,#970000 0 14px,#a70000 0 16px,#b70000 0 17px,#c70000 0 19px,#d70000 0 21px,#e70000 0 22px,#f70000 0 24px,#ff0800 0 25px,#ff1800 0 26px,#ff2800 0 27px,#ff3800 0 28px,#ff4800 0 29px,#ff5800 0 30px,#ff6800 0 31px,#ff7800 0 33px,#ff8700 0 34px,#ff9700 0 35px,#ffa700 0 36px,#ffb700 0 37px,#ffc700 0 38px,#ffd700 0 40px,#ffe700 0 41px,#fff700 0 42px,#f7ff08 0 43px,#e7ff18 0 45px,#d7ff28 0 46px,#c7ff38 0 48px,#b7ff48 0 50px,#a7ff58 0 51px,#97ff68 0 53px,#87ff78 0 54px,#78ff87 0 57px,#68ff97 0 60px,#58ffa7 0)"></i><i style="background:linear-gradient(#870000 0 13px,#970000 0 15px,#a70000 0 17px,#b70000 0 18px,#c70000 0 20px,#d70000 0 21px,#e70000 0 23px,#f70000 0 24px,#ff0800 0 25px,#ff1800 0 26px,#ff2800 0 28px,#ff3800 0 29px,#ff4800 0 30px,#ff5800 0 31px,#ff6800 0 32px,#ff7800 0 33px,#ff8700 0 34px,#ff9700 0 35px,#ffa700 0 36px,#ffb700 0 37px,#ffc700 0 39px,#ffd700 0 40px,#ffe700 0 41px,#fff700 0 42px,#f7ff08 0 43px,#e7ff18 0 45px,#d7ff28 0 46px,#c7ff38 0 48px,#b7ff48 0 49px,#a7ff58 0 51px,#97ff68 0 52px,#87ff78 0 54px,#78ff87 0 56px,#68ff97 0 59px,#58ffa7 0)"></i><i style="background:linear-gradient(#870000 0 8px,#970000 0 9px,#a70000 0 11px,#b70000 0 12px,#c70000 0 14px,#d70000 0 15px,#e70000 0 17px,#f70000 0 18px,#ff0800 0 19px,#ff1800 0 21px,#ff2800 0 22px,#ff3800 0 23px,#ff4800 0 24px,#ff5800 0 25px,#ff6800 0 26px,#ff7800 0 27px,#ff8700 0 28px,#ff9700 0 29px,#ffa700 0 30px,#ffb700 0 31px,#ffc700 0 32px,#ffd700 0 33px,#ffe700 0 34px,#fff700 0 36px,#f7ff08 0 37px,#e7ff18 0 38px,#d7ff28 0 39px,#c7ff38 0 41px,#b7ff48 0 42px,#a7ff58 0 44px,#97ff68 0 45px,#87ff78 0 47px,#78ff87 0 49px,#68ff97 0 52px,#58ffa7 0 59px,#48ffb7 0)"></i><i style="background:linear-gradient(#870000 0 12px,#970000 0 14px,#a70000 0 15px,#b70000 0 17px,#c70000 0 18px,#d70000 0 20px,#e70000 0 21px,#f70000 0 22px,#ff0800 0 24px,#ff1800 0 25px,#ff2800 0 26px,#ff3800 0 27px,#ff4800 0 28px,#ff5800 0 29px,#ff6800 0 30px,#ff7800 0 31px,#ff8700 0 32px,#ff9700 0 33px,#ffa700 0 34px,#ffb700 0 35px,#ffc700 0 36px,#ffd700 0 37px,#ffe700 0 38px,#fff700 0 39px,#f7ff08 0 40px,#e7ff18 0 41px,#d7ff28 0 43px,#c7ff38 0 44px,#b7ff48 0 45px,#a7ff58 0 47px,#97ff68 0 48px,#87ff78 0 50px,#78ff87 0 52px,#68ff97 0 55px,#58ffa7 0 57px,#48ffb7 0)"></i><i style="background:linear-gradient(#870000 0 12px,#970000 0 14px,#a70000 0 15px,#b70000 0 16px,#c70000 0 18px,#d70000 0 19px,#e70000 0 21px,#f70000 0 22px,#ff0800 0 23px,#ff1800 0 24px,#ff2800 0 25px,#ff3800 0 26px,#ff4800 0 27px,#ff5800 0 28px,#ff6800 0 29px,#ff7800 0 30px,#ff8700 0 31px,#ff9700 0 32px,#ffa700 0 33px,#ffb700 0 34px,#ffc700 0 35px,#ffd700 0 36px,#ffe700 0 37px,#fff700 0 38px,#f7ff08 0 39px,#e7ff18 0 40px,#d7ff28 0 42px,#c7ff38 0 43px,#b7ff48 0 44px,#a7ff58 0 45px,#97ff68 0 47px,#87ff78 0 48px,#78ff87 0 50px,#68ff97 0 53px,#58ffa7 0 55px,#48ffb7 0)"></i><i style="background:linear-gradient(#870000 0 20px,#970000 0 22px,#a70000 0 23px,#b70000 0 24px,#c70000 0 26px,#d70000 0 27px,#e70000 0 28px,#f70000 0 30px,#ff0800 0 31px,#ff1800 0 32px,#ff2800 0 33px,#ff4800 0 34px,#ff5800 0 35px,#ff6800 0 36px,#ff7800 0 37px,#ff8700 0 38px,#ff9700 0 39px,#ffa700 0 40px,#ffb700 0 41px,#ffc700 0 42px,#ffd700 0 43px,#ffe700 0 44px,#fff700 0 45px,#f7ff08 0 46px,#e7ff18 0 47px,#d7ff28 0 48px,#c7ff38 0 50px,#b7ff48 0 51px,#a7ff58 0 52px,#97ff68 0 53px,#87ff78 0 55px,#78ff87 0 57px,#68ff97 0 59px,#58ffa7 0 61px,#48ffb7 0)"></i><i style="background:linear-gradient(#870000 0 18px,#970000 0 19px,#a70000 0 21px,#b70000 0 22px,#c70000 0 23px,#d70000 0 24px,#e70000 0 26px,#f70000 0 27px,#ff0800 0 28px,#ff1800 0 29px,#ff2800 0 30px,#ff3800 0 31px,#ff5800 0 32px,#ff6800 0 33px,#ff7800 0 34px,#ff8700 0 35px,#ff9700 0 36px,#ffa700 0 37px,#ffb700 0 38px,#ffc700 0 39px,#ffd700 0 40px,#ffe700 0 41px,#f7ff08 0 43px,#e7ff18 0 44px,#d7ff28 0 45px,#c7ff38 0 46px,#b7ff48 0 47px,#a7ff58 0 48px,#97ff68 0 50px,#87ff78 0 51px,#78ff87 0 53px,#68ff97 0 55px,#58ffa7 0 57px,#48ffb7 0)"></i><i style="background:linear-gradient(#870000 0 18px,#970000 0 19px,#a70000 0 20px,#b70000 0 21px,#c70000 0 23px,#d70000 0 24px,#e70000 0 25px,#f70000 0 26px,#ff0800 0 27px,#ff1800 0 28px,#ff2800 0 29px,#ff4800 0 30px,#ff5800 0 31px,#ff6800 0 32px,#ff7800 0 33px,#ff8700 0 34px,#ff9700 0 35px,#ffb700 0 36px,#ffc700 0 37px,#ffd700 0 38px,#ffe700 0 39px,#fff700 0 40px,#f7ff08 0 41px,#e7ff18 0 42px,#d7ff28 0 43px,#c7ff38 0 44px,#b7ff48 0 45px,#a7ff58 0 47px,#97ff68 0 48px,#87ff78 0 49px,#78ff87 0 51px,#68ff97 0 53px,#58ffa7 0 55px,#48ffb7 0)"></i><i style="background:linear-gradient(#870000 0 13px,#970000 0 14px,#a70000 0 15px,#b70000 0 16px,#c70000 0 17px,#d70000 0 18px,#e70000 0 20px,#f70000 0 21px,#ff1800 0 22px,#ff2800 0 23px,#ff3800 0 24px,#ff4800 0 25px,#ff6800 0 26px,#ff7800 0 27px,#ff8700 0 28px,#ff9700 0 29px,#ffb700 0 30px,#ffc700 0 31px,#ffd700 0 32px,#ffe700 0 33px,#fff700 0 34px,#f7ff08 0 35px,#e7ff18 0 36px,#d7ff28 0 37px,#c7ff38 0 38px,#b7ff48 0 39px,#a7ff58 0 40px,#97ff68 0 41px,#87ff78 0 43px,#78ff87 0 44px,#68ff97 0 46px,#58ffa7 0 48px,#48ffb7 0)"></i><i style="background:linear-gradient(#870000 0 6px,#970000 0 7px,#a70000 0 8px,#b70000 0 10px,#c70000 0 11px,#d70000 0 12px,#e70000 0 13px,#f70000 0 14px,#ff0800 0 15px,#ff2800 0 16px,#ff3800 0 17px,#ff4800 0 18px,#ff6800 0 19px,#ff7800 0 20px,#ff8700 0 21px,#ffa700 0 22px,#ffb700 0 23px,#ffc700 0 24px,#ffd700 0 25px,#fff700 0 26px,#f7ff08 0 27px,#e7ff18 0 28px,#d7ff28 0 29px,#c7ff38 0 30px,#b7ff48 0 31px,#a7ff58 0 32px,#97ff68 0 33px,#87ff78 0 35px,#78ff87 0 36px,#68ff97 0 38px,#58ffa7 0 40px,#48ffb7 0 60px,#38ffc7 0)"></i><i style="background:linear-gradient(#870000 0 12px,#970000 0 13px,#a70000 0 14px,#b70000 0 15px,#c70000 0 16px,#d70000 0 17px,#e70000 0 18px,#f70000 0 19px,#ff0800 0 20px,#ff2800 0 21px,#ff3800 0 22px,#ff5800 0 23px,#ff6800 0 24px,#ff8700 0 25px,#ff9700 0 26px,#ffa700 0 27px,#ffb700 0 28px,#ffd700 0 29px,#ffe700 0 30px,#fff700 0 31px,#f7ff08 0 32px,#e7ff18 0 33px,#d7ff28 0 34px,#b7ff48 0 36px,#a7ff58 0 37px,#97ff68 0 38px,#87ff78 0 39px,#78ff87 0 40px,#68ff97 0 42px,#58ffa7 0 44px,#48ffb7 0 45px,#38ffc7 0)"></i><i style="background:linear-gradient(#870000 0 13px,#970000 0 14px,#a70000 0 15px,#b70000 0 16px,#c70000 0 17px,#d70000 0 18px,#e70000 0 19px,#ff0800 0 20px,#ff1800 0 21px,#ff3800 0 22px,#ff4800 0 23px,#ff6800 0 24px,#ff7800 0 25px,#ff9700 0 26px,#ffa700 0 27px,#ffc700 0 28px,#ffd700 0 29px,#ffe700 0 30px,#f7ff08 0 31px,#e7ff18 0 32px,#d7ff28 0 33px,#c7ff38 0 34px,#b7ff48 0 35px,#a7ff58 0 36px,#97ff68 0 37px,#87ff78 0 38px,#78ff87 0 40px,#68ff97 0 41px,#58ffa7 0 43px,#48ffb7 0 45px,#38ffc7 0)"></i><i style="background:linear-gradient(#870000 0 9px,#970000 0 10px,#b70000 0 11px,#c70000 0 12px,#d70000 0 13px,#e70000 0 14px,#f70000 0 15px,#ff1800 0 16px,#ff3800 0 17px,#ff4800 0 18px,#ff6800 0 19px,#ff8700 0 20px,#ff9700 0 21px,#ffb700 0 22px,#ffc700 0 23px,#ffd700 0 24px,#fff700 0 25px,#f7ff08 0 26px,#e7ff18 0 27px,#d7ff28 0 28px,#c7ff38 0 29px,#a7ff58 0 30px,#97ff68 0 31px,#87ff78 0 33px,#78ff87 0 34px,#68ff97 0 35px,#58ffa7 0 37px,#48ffb7 0 39px,#38ffc7 0)"></i><i style="background:linear-gradient(#870000 0 12px,#a70000 0 13px,#b70000 0 14px,#c70000 0 15px,#e70000 0 16px,#f70000 0 17px,#ff0800 0 18px,#ff2800 0 19px,#ff4800 0 20px,#ff6800 0 21px,#ff8700 0 22px,#ff9700 0 23px,#ffb700 0 24px,#ffc700 0 25px,#ffe700 0 26px,#fff700 0 27px,#e7ff18 0 28px,#d7ff28 0 29px,#c7ff38 0 30px,#b7ff48 0 31px,#a7ff58 0 32px,#97ff68 0 33px,#87ff78 0 34px,#78ff87 0 35px,#68ff97 0 37px,#58ffa7 0 38px,#48ffb7 0 39px,#38ffc7 0)"></i><i style="background:linear-gradient(#870000 0 20px,#970000 0 21px,#b70000 0 22px,#c70000 0 23px,#e70000 0 24px,#f70000 0 25px,#ff1800 0 26px,#ff3800 0 27px,#ff5800 0 28px,#ff7800 0 29px,#ff9700 0 30px,#ffa700 0 31px,#ffc700 0 32px,#ffe700 0 33px,#fff700 0 34px,#f7ff08 0 35px,#d7ff28 0 36px,#c7ff38 0 37px,#b7ff48 0 38px,#a7ff58 0 39px,#97ff68 0 40px,#87ff78 0 41px,#78ff87 0 42px,#68ff97 0 43px,#58ffa7 0 45px,#48ffb7 0 46px,#38ffc7 0)"></i><i style="background:linear-gradient(#870000 0 19px,#970000 0 20px,#a70000 0 21px,#c70000 0 22px,#d70000 0 23px,#f70000 0 24px,#ff0800 0 25px,#ff2800 0 26px,#ff5800 0 27px,#ff7800 0 28px,#ff9700 0 29px,#ffa700 0 30px,#ffc700 0 31px,#ffe700 0 32px,#f7ff08 0 33px,#e7ff18 0 34px,#d7ff28 0 35px,#b7ff48 0 36px,#a7ff58 0 37px,#97ff68 0 38px,#87ff78 0 39px,#78ff87 0 40px,#68ff97 0 41px,#58ffa7 0 43px,#48ffb7 0 44px,#38ffc7 0)"></i><i style="background:linear-gradient(#870000 0 16px,#970000 0 17px,#b70000 0 18px,#c70000 0 19px,#e70000 0 20px,#f70000 0 21px,#ff1800 0 22px,#ff4800 0 23px,#ff6800 0 24px,#ff8700 0 25px,#ffa700 0 26px,#ffc700 0 27px,#ffe700 0 28px,#f7ff08 0 29px,#e7ff18 0 30px,#c7ff38 0 31px,#b7ff48 0 32px,#a7ff58 0 33px,#97ff68 0 34px,#78ff87 0 36px,#68ff97 0 37px,#58ffa7 0 38px,#48ffb7 0 39px,#38ffc7 0)"></i><i style="background:linear-gradient(#870000 0 14px,#a70000 0 15px,#b70000 0 16px,#d70000 0 17px,#f70000 0 18px,#ff1800 0 19px,#ff3800 0 20px,#ff5800 0 21px,#ff8700 0 22px,#ffa700 0 23px,#ffc700 0 24px,#ffe700 0 25px,#f7ff08 0 26px,#d7ff28 0 27px,#c7ff38 0 28px,#b7ff48 0 29px,#97ff68 0 30px,#87ff78 0 31px,#78ff87 0 32px,#68ff97 0 33px,#58ffa7 0 34px,#48ffb7 0 35px,#38ffc7 0 48px,#28ffd7 0)"></i><i style="background:linear-gradient(#870000 0 16px,#970000 0 17px,#b70000 0 18px,#d70000 0 19px,#e70000 0 20px,#ff0800 0 21px,#ff3800 0 22px,#ff5800 0 23px,#ff8700 0 24px,#ffa700 0 25px,#ffd700 0 26px,#fff700 0 27px,#e7ff18 0 28px,#d7ff28 0 29px,#b7ff48 0 30px,#a7ff58 0 31px,#87ff78 0 32px,#78ff87 0 33px,#68ff97 0 34px,#58ffa7 0 35px,#48ffb7 0 36px,#38ffc7 0 37px,#28ffd7 0)"></i><i style="background:linear-gradient(#870000 0 19px,#a70000 0 20px,#c70000 0 21px,#e70000 0 22px,#ff0800 0 23px,#ff2800 0 24px,#ff4800 0 25px,#ff7800 0 26px,#ff9700 0 27px,#ffc700 0 28px,#ffe700 0 29px,#f7ff08 0 30px,#d7ff28 0 31px,#b7ff48 0 32px,#a7ff58 0 33px,#87ff78 0 34px,#78ff87 0 35px,#68ff97 0 36px,#58ffa7 0 37px,#48ffb7 0 38px,#38ffc7 0 39px,#28ffd7 0)"></i><i style="background:linear-gradient(#870000 0 18px,#970000 0 19px,#a70000 0 20px,#c70000 0 21px,#d70000 0 22px,#f70000 0 23px,#ff0800 0 24px,#ff2800 0 25px,#ff4800 0 26px,#ff7800 0 27px,#ff9700 0 28px,#ffb700 0 29px,#ffd700 0 30px,#fff700 0 31px,#e7ff18 0 32px,#d7ff28 0 33px,#b7ff48 0 34px,#a7ff58 0 35px,#97ff68 0 36px,#78ff87 0 37px,#68ff97 0 38px,#58ffa7 0 39px,#48ffb7 0 41px,#38ffc7 0 42px,#28ffd7 0)"></i><i style="background:linear-gradient(#870000 0 15px,#970000 0 16px,#a70000 0 17px,#c70000 0 18px,#d70000 0 19px,#e70000 0 20px,#f70000 0 21px,#ff1800 0 22px,#ff3800 0 23px,#ff5800 0 24px,#ff6800 0 25px,#ff8700 0 26px,#ffa700 0 27px,#ffc700 0 28px,#ffd700 0 29px,#fff700 0 30px,#e7ff18 0 31px,#d7ff28 0 32px,#b7ff48 0 33px,#a7ff58 0 34px,#97ff68 0 35px,#78ff87 0 37px,#68ff97 0 38px,#58ffa7 0 39px,#48ffb7 0 40px,#38ffc7 0 41px,#28ffd7 0)"></i><i style="background:linear-gradient(#870000 0 3px,#970000 0 4px,#a70000 0 5px,#b70000 0 6px,#c70000 0 7px,#d70000 0 8px,#f70000 0 9px,#ff0800 0 10px,#ff1800 0 11px,#ff3800 0 12px,#ff5800 0 13px,#ff6800 0 14px,#ff8700 0 15px,#ffa700 0 16px,#ffb700 0 17px,#ffd700 0 18px,#ffe700 0 19px,#f7ff08 0 20px,#e7ff18 0 21px,#c7ff38 0 22px,#b7ff48 0 23px,#a7ff58 0 24px,#87ff78 0 25px,#78ff87 0 26px,#68ff97 0 28px,#58ffa7 0 29px,#48ffb7 0 30px,#38ffc7 0 31px,#28ffd7 0 51px,#18ffe7 0)"></i><i style="background:linear-gradient(#870000 0 3px,#970000 0 4px,#a70000 0 5px,#b70000 0 6px,#d70000 0 7px,#e70000 0 8px,#f70000 0 9px,#ff1800 0 10px,#ff3800 0 11px,#ff5800 0 12px,#ff6800 0 13px,#ff8700 0 14px,#ffa700 0 15px,#ffb700 0 16px,#ffd700 0 17px,#fff700 0 18px,#f7ff08 0 19px,#e7ff18 0 20px,#c7ff38 0 21px,#b7ff48 0 22px,#a7ff58 0 23px,#87ff78 0 24px,#78ff87 0 25px,#68ff97 0 26px,#58ffa7 0 28px,#48ffb7 0 29px,#38ffc7 0 30px,#28ffd7 0 31px,#18ffe7 0)"></i><i style="background:linear-gradient(#870000 0 2px,#970000 0 3px,#a70000 0 4px,#b70000 0 5px,#d70000 0 6px,#e70000 0 7px,#ff0800 0 8px,#ff1800 0 9px,#ff3800 0 10px,#ff5800 0 11px,#ff7800 0 12px,#ff9700 0 13px,#ffb700 0 14px,#ffc700 0 15px,#ffe700 0 16px,#fff700 0 17px,#e7ff18 0 18px,#d7ff28 0 19px,#b7ff48 0 20px,#a7ff58 0 21px,#97ff68 0 22px,#87ff78 0 23px,#78ff87 0 24px,#68ff97 0 25px,#58ffa7 0 26px,#48ffb7 0 27px,#38ffc7 0 28px,#28ffd7 0 29px,#18ffe7 0)"></i><i style="background:linear-gradient(#970000 0 5px,#a70000 0 7px,#b70000 0 8px,#c70000 0 9px,#d70000 0 10px,#f70000 0 11px,#ff0800 0 12px,#ff2800 0 13px,#ff3800 0 14px,#ff5800 0 15px,#ff7800 0 16px,#ff9700 0 17px,#ffb700 0 18px,#ffc700 0 19px,#ffe700 0 20px,#fff700 0 21px,#e7ff18 0 22px,#d7ff28 0 23px,#c7ff38 0 24px,#a7ff58 0 25px,#97ff68 0 26px,#87ff78 0 27px,#78ff87 0 28px,#68ff97 0 29px,#58ffa7 0 30px,#48ffb7 0 32px,#38ffc7 0 33px,#28ffd7 0 35px,#18ffe7 0)"></i><i style="background:linear-gradient(#b70000 0 1px,#c70000 0 2px,#d70000 0 3px,#e70000 0 4px,#f70000 0 5px,#ff1800 0 6px,#ff2800 0 7px,#ff4800 0 8px,#ff5800 0 9px,#ff7800 0 10px,#ff9700 0 11px,#ffb700 0 12px,#ffc700 0 13px,#ffe700 0 14px,#f7ff08 0 15px,#e7ff18 0 16px,#d7ff28 0 17px,#b7ff48 0 18px,#a7ff58 0 19px,#97ff68 0 20px,#87ff78 0 21px,#78ff87 0 22px,#68ff97 0 23px,#58ffa7 0 24px,#48ffb7 0 26px,#38ffc7 0 28px,#28ffd7 0 30px,#18ffe7 0)"></i><i style="background:linear-gradient(#ff3800 0 1px,#ff4800 0 2px,#ff6800 0 3px,#ff7800 0 4px,#ff9700 0 5px,#ffb700 0 6px,#ffc700 0 7px,#ffe700 0 8px,#f7ff08 0 9px,#e7ff18 0 10px,#c7ff38 0 11px,#b7ff48 0 12px,#a7ff58 0 13px,#97ff68 0 14px,#87ff78 0 15px,#78ff87 0 16px,#68ff97 0 17px,#58ffa7 0 18px,#48ffb7 0 19px,#38ffc7 0 22px,#28ffd7 0 25px,#18ffe7 0)"></i><i style="background:linear-gradient(#d70000 0 2px,#e70000 0 3px,#ff0800 0 4px,#ff1800 0 5px,#ff3800 0 6px,#ff5800 0 7px,#ff6800 0 8px,#ff8700 0 9px,#ff9700 0 10px,#ffb700 0 11px,#ffd700 0 12px,#ffe700 0 13px,#f7ff08 0 14px,#d7ff28 0 15px,#c7ff38 0 16px,#a7ff58 0 17px,#97ff68 0 18px,#87ff78 0 19px,#78ff87 0 20px,#68ff97 0 21px,#58ffa7 0 22px,#48ffb7 0 24px,#38ffc7 0 25px,#28ffd7 0 30px,#18ffe7 0)"></i><i style="background:linear-gradient(#f70000 0 2px,#ff0800 0 3px,#ff1800 0 4px,#ff3800 0 5px,#ff5800 0 6px,#ff7800 0 7px,#ff8700 0 8px,#ffa700 0 9px,#ffc700 0 10px,#ffd700 0 11px,#fff700 0 12px,#f7ff08 0 13px,#d7ff28 0 14px,#b7ff48 0 15px,#a7ff58 0 16px,#87ff78 0 17px,#78ff87 0 18px,#68ff97 0 19px,#58ffa7 0 21px,#48ffb7 0 22px,#38ffc7 0 24px,#28ffd7 0 25px,#18ffe7 0)"></i><i style="background:linear-gradient(#ff1800 0 2px,#ff3800 0 3px,#ff5800 0 4px,#ff7800 0 5px,#ff8700 0 6px,#ffa700 0 7px,#ffc700 0 8px,#ffe700 0 9px,#fff700 0 10px,#e7ff18 0 11px,#c7ff38 0 12px,#b7ff48 0 13px,#97ff68 0 14px,#87ff78 0 15px,#78ff87 0 16px,#58ffa7 0 18px,#48ffb7 0 20px,#38ffc7 0 22px,#28ffd7 0 24px,#18ffe7 0)"></i><i style="background:linear-gradient(#ff4800 0 6px,#ff6800 0 7px,#ff7800 0 8px,#ff9700 0 9px,#ffb700 0 10px,#ffd700 0 11px,#fff700 0 12px,#e7ff18 0 13px,#c7ff38 0 14px,#b7ff48 0 15px,#97ff68 0 16px,#87ff78 0 17px,#78ff87 0 18px,#68ff97 0 19px,#48ffb7 0 20px,#38ffc7 0 22px,#28ffd7 0 27px,#18ffe7 0)"></i><i style="background:linear-gradient(#ff6800 0 7px,#ff8700 0 8px,#ffa700 0 9px,#ffc700 0 10px,#ffe700 0 11px,#fff700 0 12px,#e7ff18 0 13px,#c7ff38 0 14px,#a7ff58 0 15px,#87ff78 0 16px,#78ff87 0 17px,#58ffa7 0 18px,#48ffb7 0 19px,#38ffc7 0 20px,#28ffd7 0 21px,#18ffe7 0)"></i><i style="background:linear-gradient(#ff6800 0 6px,#ff8700 0 7px,#ffa700 0 8px,#ffc700 0 9px,#ffe700 0 10px,#fff700 0 11px,#e7ff18 0 12px,#c7ff38 0 13px,#a7ff58 0 14px,#87ff78 0 15px,#78ff87 0 16px,#58ffa7 0 17px,#48ffb7 0 18px,#38ffc7 0 19px,#28ffd7 0 20px,#18ffe7 0)"></i><b style="left:40.7px;width:2.4px;top:97.5px;height:88.5px"></b><b style="left:85.8px;width:4.2px;top:164.5px;height:21.5px"></b><b style="left:135.8px;width:1.2px;top:112.5px;height:56px;opacity:0.85"></b><b style="left:180.3px;width:1.2px;top:130.5px;height:55.5px;opacity:0.9"></b><b style="left:222.3px;width:1.8px;top:120.5px;height:65.5px"></b><b style="left:349.8px;width:1px;top:90.5px;height:31px;opacity:0.6"></b></div>
<svg width="950" height="826" viewBox="0 0 950 826"><path d="M250.3 54.8V202.3M270.8 76.8V199.3M281.8 114.2V204.5M352.9 77.2V214.9M370.2 130.7V199.2M394 102.7V217.8M405 72.8V209.7M428.7 92.4V215.2M457 60.5V228.3M489 130.7V219.5" class="q" stroke-dasharray="1.4 2.2"/><path d="M221.8 121.3V209.1M259.7 130.1V203.3M439 67.8V217.3M450.8 124.7V218M476 91.8V211.2" class="q" stroke-dasharray="2 3 1 3.5"/><path d="M292.9 74.1V224.3M384.5 70V207M417.6 93.5V207.1M461.8 69.9V223.2" class="q" stroke-dasharray="1 2 2.5 2"/><path d="M232.9 64.6V228.6M302.4 53.9V214.6M315 113.8V202.1M324.5 139V218.9M330.8 53.6V223.1M338.7 54.3V220.3M359.2 61.5V223.9M512 118.5V189.3M531 61.1V171" class="q" stroke-dasharray="1.2 4 2 2.5"/><path d="M292.9 377.6V480M330.8 372.3V478.2M352.9 365.7V488.6M384.5 327.8V479.6M394 318.8V487.8M405 333.3V486.6M461.8 329.7V472" class="q" stroke-dasharray="1.4 2.2"/><path d="M250.3 324V469.6M259.7 330.6V474.2M338.7 370.2V469.6M428.7 336.5V480.3M457 330.5V473.6M476 327.2V485.8" class="q" stroke-dasharray="2 3 1 3.5"/><path d="M221.8 325.6V479.8M232.9 333.1V473M270.8 326.4V464.8M315 358.5V461.7M370.2 397.3V469.4M439 327.7V483.7M450.8 373.2V462.6" class="q" stroke-dasharray="1 2 2.5 2"/><path d="M281.8 388.1V463.8M302.4 323V460.2M324.5 392.3V484.9M359.2 313.9V459.6M417.6 370.8V468.3M489 383V484.8M512 326.8V465.9M531 316.1V433.6" class="q" stroke-dasharray="1.2 4 2 2.5"/><path d="M232.9 584.8V743.4M270.8 578.7V729M292.9 594.2V740.4M324.5 591V733.9M394 576.1V728.2M476 581.9V741" class="q" stroke-dasharray="1.4 2.2"/><path d="M281.8 595.9V740M359.2 575.1V726.3M370.2 580.4V748.2M428.7 620.4V745.3M439 586.3V737.7M450.8 608.2V732.9M457 586.8V725.2M512 575.4V730" class="q" stroke-dasharray="2 3 1 3.5"/><path d="M250.3 622.3V719.5M259.7 651.7V748.3M330.8 585.2V719.5M384.5 654V743.7M461.8 656.2V746.7" class="q" stroke-dasharray="1 2 2.5 2"/><path d="M221.8 594.9V726.8M302.4 632.7V740.5M315 596.6V736M338.7 579.5V734.5M352.9 592.8V719.2M405 574.3V737.7M417.6 588.3V731.6M489 583.8V726.1M531 584.2V685.9" class="q" stroke-dasharray="1.2 4 2 2.5"/><polyline points="435,711.6 451.3,712.1 451.8,703.7 461.8,703.2 462,716 446,715.6 462,715.3 450.3,726.8 467,724.7 455.5,736.3 466,730.5 454.5,741.6 467,736.3 456,742 473.4,749 467,740.5 475.5,738.4 469,734.2 476.6,730 469,724.7 476.6,721.6 468,716.3 476.6,707.9 467,707.9 467,703.2 475.5,701.6 484,700.5 498.7,699.5 505,697.9 507,695.5 503,694.2 497.6,690.3 500.8,688.7 524.5,685.5 530.8,683.2 549.7,680.8 565.5,678.4 568.7,676 579.7,673.7 586,673.4 592.4,674.5" class="w"/><polyline points="717,620 715,614 723,608 729,606 723,602 733,599 745,596 755,592 761,584 763,572" class="w"/></svg>
</div></body></html>
